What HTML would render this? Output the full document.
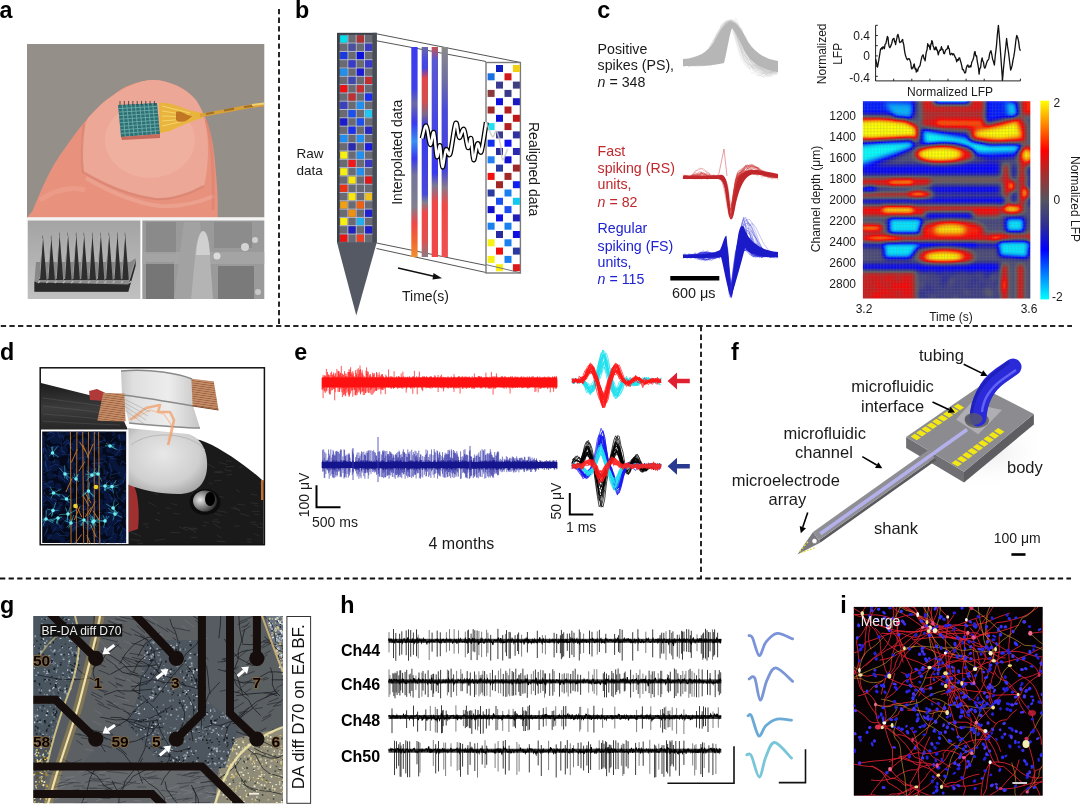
<!DOCTYPE html>
<html><head><meta charset="utf-8"><style>
html,body{margin:0;padding:0;background:#fff;width:1080px;height:808px;overflow:hidden}
svg{display:block;will-change:transform}
text{font-family:"Liberation Sans", sans-serif}
</style></head><body>
<svg width="1080" height="808" viewBox="0 0 1080 808">
<defs><filter id="soft" x="-2%" y="-2%" width="104%" height="104%"><feGaussianBlur stdDeviation="0.45"/></filter><filter id="soft2" x="-2%" y="-2%" width="104%" height="104%"><feGaussianBlur stdDeviation="0.7"/></filter><linearGradient id="fingerG" x1="0" y1="0" x2="1" y2="1">
<stop offset="0" stop-color="#f0b8a4"/><stop offset="0.45" stop-color="#eea08a"/><stop offset="1" stop-color="#e0806a"/></linearGradient>
<radialGradient id="nailG" cx="0.55" cy="0.35" r="0.6"><stop offset="0" stop-color="#f6c4b4"/><stop offset="1" stop-color="#ec9c86" stop-opacity="0"/></radialGradient>
<linearGradient id="semL" x1="0" y1="0" x2="0" y2="1"><stop offset="0" stop-color="#a4a4a4"/><stop offset="1" stop-color="#c0c0c0"/></linearGradient>
<linearGradient id="semR" x1="0" y1="0" x2="1" y2="0"><stop offset="0" stop-color="#8c8c8c"/><stop offset="1" stop-color="#9c9c9c"/></linearGradient><clipPath id="aclip"><rect x="27" y="44" width="237.3" height="173.5"/></clipPath><linearGradient id="bar1" x1="0" y1="0" x2="0" y2="1">
<stop offset="0" stop-color="#3a3af0"/><stop offset="0.2" stop-color="#4040e8"/><stop offset="0.27" stop-color="#6a6aa8"/><stop offset="0.36" stop-color="#3838ee"/><stop offset="0.45" stop-color="#3a90f0"/><stop offset="0.53" stop-color="#3838ee"/><stop offset="0.61" stop-color="#74749a"/><stop offset="0.76" stop-color="#808090"/><stop offset="0.84" stop-color="#f04848"/><stop offset="0.93" stop-color="#f06a30"/><stop offset="1" stop-color="#f09030"/></linearGradient>
<linearGradient id="bar2" x1="0" y1="0" x2="0" y2="1"><stop offset="0" stop-color="#6a6aa0"/><stop offset="0.06" stop-color="#4a4ae0"/><stop offset="0.1" stop-color="#4444e0"/><stop offset="0.15" stop-color="#e04848"/><stop offset="0.26" stop-color="#d05050"/><stop offset="0.32" stop-color="#7a6a8a"/><stop offset="0.38" stop-color="#3838ee"/><stop offset="0.7" stop-color="#4848d8"/><stop offset="0.74" stop-color="#808090"/><stop offset="0.79" stop-color="#f04848"/><stop offset="0.92" stop-color="#e05050"/><stop offset="1" stop-color="#8a7a80"/></linearGradient>
<linearGradient id="bar3" x1="0" y1="0" x2="0" y2="1"><stop offset="0" stop-color="#c85050"/><stop offset="0.06" stop-color="#5a5ad0"/><stop offset="0.6" stop-color="#3838ee"/><stop offset="0.66" stop-color="#7a7a96"/><stop offset="0.74" stop-color="#f04848"/><stop offset="1" stop-color="#f04848"/></linearGradient>
<linearGradient id="bar4" x1="0" y1="0" x2="0" y2="1"><stop offset="0" stop-color="#8a8a8a"/><stop offset="0.15" stop-color="#7070a0"/><stop offset="0.3" stop-color="#4a4ad8"/><stop offset="0.58" stop-color="#4040e0"/><stop offset="0.67" stop-color="#8a7a8a"/><stop offset="0.75" stop-color="#f04848"/><stop offset="1" stop-color="#f05050"/></linearGradient><filter id="jet" x="0" y="0" width="1" height="1" color-interpolation-filters="sRGB">
<feGaussianBlur stdDeviation="2.4"/>
<feComponentTransfer>
<feFuncR type="table" tableValues="0 0 0 0.19 0.36 0.63 1 1 1"/>
<feFuncG type="table" tableValues="1 0.5 0 0.19 0.36 0.19 0 0.5 1"/>
<feFuncB type="table" tableValues="1 1 1 0.56 0.4 0.19 0 0 0"/>
</feComponentTransfer></filter>
<clipPath id="hmclip"><rect x="862.9" y="101.3" width="167.4" height="197.3"/></clipPath><pattern id="hmtex" width="3.2" height="3.2" patternUnits="userSpaceOnUse"><rect width="1.1" height="3.2" fill="#7a7a80"/><rect width="3.2" height="0.9" fill="#7a7a80"/></pattern><linearGradient id="cbar" x1="0" y1="0" x2="0" y2="1">
<stop offset="0" stop-color="#ffff00"/><stop offset="0.125" stop-color="#ff8000"/><stop offset="0.25" stop-color="#ff0000"/><stop offset="0.375" stop-color="#a03030"/><stop offset="0.5" stop-color="#555560"/><stop offset="0.625" stop-color="#303090"/><stop offset="0.75" stop-color="#0000ff"/><stop offset="0.875" stop-color="#0080ff"/><stop offset="1" stop-color="#00ffff"/></linearGradient><linearGradient id="furG" x1="0" y1="0" x2="0" y2="1"><stop offset="0" stop-color="#1c1c1c"/><stop offset="0.55" stop-color="#3c3c3c"/><stop offset="1" stop-color="#262626"/></linearGradient>
<radialGradient id="skullG" cx="0.45" cy="0.4" r="0.65"><stop offset="0" stop-color="#e8e8e8"/><stop offset="0.7" stop-color="#cfcfcf"/><stop offset="1" stop-color="#a8a8a8"/></radialGradient>
<linearGradient id="glassG" x1="0" y1="0" x2="1" y2="0"><stop offset="0" stop-color="#c4c4c4"/><stop offset="0.15" stop-color="#dcdcdc"/><stop offset="0.6" stop-color="#ebebeb"/><stop offset="1" stop-color="#c0c0c0"/></linearGradient>
<radialGradient id="eyeG" cx="0.3" cy="0.45" r="0.75"><stop offset="0" stop-color="#e8e8e8"/><stop offset="0.45" stop-color="#8a8a8a"/><stop offset="1" stop-color="#1a1a1a"/></radialGradient>
<pattern id="padP" width="2.2" height="2.2" patternUnits="userSpaceOnUse" patternTransform="rotate(8)"><rect width="2.2" height="2.2" fill="#c8906a"/><rect width="2.2" height="0.8" fill="#9a6040"/></pattern>
<clipPath id="dclip"><rect x="41" y="368.5" width="222.7" height="175.5"/></clipPath><clipPath id="inclip"><rect x="42.2" y="431.6" width="84" height="112"/></clipPath><radialGradient id="shadowG" cx="0.5" cy="0.5" r="0.5"><stop offset="0" stop-color="#e4e4e4"/><stop offset="1" stop-color="#ffffff" stop-opacity="0"/></radialGradient><clipPath id="gclip"><rect x="33.2" y="616" width="249.8" height="187.3"/></clipPath><radialGradient id="gsm1" cx="0.5" cy="0.5" r="0.5"><stop offset="0" stop-color="#6a6e72"/><stop offset="1" stop-color="#54585c"/></radialGradient><clipPath id="iclip"><rect x="853.8" y="606.9" width="188.9" height="188.8"/></clipPath></defs>
<rect x="0" y="0" width="1080" height="808" fill="#fff"/>
<g clip-path="url(#aclip)"><g filter="url(#soft2)">
<rect x="20" y="40" width="250" height="180" fill="#958f8a"/>
<path d="M27,218 L32.6,210.7 C38,198 42,188 45.5,181 C52,168 57,159 64,149.6 C72,138 80,127 88.1,118 C96,109 104,101 112.2,96 C118,91 124,87 130.7,84.8 C138,82 146,80 153,80.2 C162,80 168,82 175,84.8 C183,88 188,92 193.7,97.8 C199,104 202,110 204.8,116.3 C208,124 210.5,132 212.2,140.4 C214,150 215,161 215.9,171.9 C216.8,182 217.5,191 217.7,199.6 L217.7,218 Z" fill="#e8927e"/>
<path d="M88,118 C96,109 104,101 112,96 C124,87 140,80 153,80 C168,80 186,88 196,100 C204,112 208,128 208,150 C208,165 206,178 204,186 C190,194 170,200 156,199 C130,196 105,185 83,172 C80,155 80,135 88,118 Z" fill="#eda797"/>
<ellipse cx="150" cy="140" rx="45" ry="38" fill="#f2b6a6" opacity="0.6"/>
<path d="M84,124 C82,140 81,158 83,172 C105,185 130,196 156,199 C170,200 190,194 204,186" stroke="#d6806e" stroke-width="2.2" fill="none" opacity="0.7"/>
<path d="M86,178 C110,192 135,203 160,206 C180,207 200,202 214,196" stroke="#f0b0a0" stroke-width="4" fill="none" opacity="0.5"/>
<path d="M40,200 C55,190 70,186 85,190" stroke="#f0aa98" stroke-width="5" fill="none" opacity="0.4"/>
<path d="M206,120 C212,140 214,170 213,210" stroke="#d87a68" stroke-width="3" fill="none" opacity="0.4"/>
<polygon points="118,105 157,103 160,134 121,137" fill="#2e6f73"/>
<path d="M122.3,104.8 L125.3,136.7 M118.3,108.6 L157.3,106.4 M126.7,104.6 L129.7,136.3 M118.7,112.1 L157.7,109.9 M131.0,104.3 L134.0,136.0 M119.0,115.7 L158.0,113.3 M135.3,104.1 L138.3,135.7 M119.3,119.2 L158.3,116.8 M139.7,103.9 L142.7,135.3 M119.7,122.8 L158.7,120.2 M144.0,103.7 L147.0,135.0 M120.0,126.3 L159.0,123.7 M148.3,103.4 L151.3,134.7 M120.3,129.9 L159.3,127.1 M152.7,103.2 L155.7,134.3 M120.7,133.4 L159.7,130.6" stroke="#6fb3b0" stroke-width="0.8" fill="none"/>
<polygon points="121,137 160,134 160,138 122,140" fill="#c86a5c"/>
<path d="M120.0,105 l0,-4 M124.3,105 l0,-4 M128.6,105 l0,-4 M132.9,105 l0,-4 M137.2,105 l0,-4 M141.5,105 l0,-4 M145.8,105 l0,-4 M150.1,105 l0,-4 M154.4,105 l0,-4" stroke="#333" stroke-width="0.8"/>
<path d="M159,103 C168,102 178,106 188,110 L202,113 L202,118 C192,121 180,126 170,131 L160,133 Z" fill="#e8b43c"/>
<path d="M162,106 L190,113 M162,111 L188,115 M162,116 L188,117 M162,121 L186,119 M162,126 L184,121" stroke="#f8e080" stroke-width="0.9" fill="none" opacity="0.8"/>
<path d="M176,112 C182,110 186,116 192,116 C188,121 180,124 176,120 Z" fill="#b86a1c" opacity="0.85"/>
<path d="M200,115.5 C215,113 230,110 246,107 L264,104.5" stroke="#d8a038" stroke-width="3.4" fill="none"/>
<path d="M206,114 l8,-1.5 M224,110.5 l10,-1.8 M244,107 l9,-1.2" stroke="#8a5a20" stroke-width="2.2" fill="none" opacity="0.7"/>
<path d="M252,105 l12,-1.5" stroke="#f0d070" stroke-width="2" fill="none"/>
</g></g>
<rect x="27" y="217.5" width="237.5" height="3" fill="#f4f4f4"/>
<rect x="27.7" y="220.5" width="112.7" height="78.5" fill="url(#semL)"/>
<polygon points="36,262 130,262 135.6,258.3 135.6,265 128.3,291.7 34.4,291.7 34.4,281.7" fill="#5a5a5a" opacity="0.5"/>
<path d="M39.0,280 L42.8,234.5 L46.6,280 Z M47.3,280 L51.1,234.5 L54.9,280 Z M55.6,280 L59.4,231.5 L63.2,280 Z M64.0,280 L67.8,231.5 L71.6,280 Z M72.3,280 L76.1,231.5 L79.9,280 Z M80.1,280 L83.9,231.5 L87.7,280 Z M88.4,280 L92.2,231.5 L96.0,280 Z M96.8,280 L100.6,231.5 L104.4,280 Z M105.1,280 L108.9,231.5 L112.7,280 Z M113.4,280 L117.2,231.5 L121.0,280 Z M121.2,280 L125.0,231.5 L128.8,280 Z" fill="#2e2e2e"/>
<path d="M39.6,279 L42.5,238.5 M47.9,279 L50.8,238.5 M56.2,279 L59.1,235.5 M64.6,279 L67.5,235.5 M72.9,279 L75.8,235.5 M80.7,279 L83.6,235.5 M89.0,279 L91.9,235.5 M97.4,279 L100.3,235.5 M105.7,279 L108.6,235.5 M114.0,279 L116.9,235.5 M121.8,279 L124.7,235.5" stroke="#c8c8c8" stroke-width="0.9" fill="none" opacity="0.8"/>
<polygon points="34.4,281.7 128.3,283.9 135.6,260 135.6,266 128.3,291.7 34.4,291.7" fill="#2a2a2a"/>
<path d="M36,282 L128,284 L135,261" stroke="#9a9a9a" stroke-width="1.2" fill="none" opacity="0.8"/>
<path d="M38.0,283 l2,-2 M46.3,283 l2,-2 M54.6,283 l2,-2 M62.9,283 l2,-2 M71.2,283 l2,-2 M79.5,283 l2,-2 M87.8,283 l2,-2 M96.1,283 l2,-2 M104.4,283 l2,-2 M112.7,283 l2,-2 M121.0,283 l2,-2 M129.3,283 l2,-2" stroke="#bbb" stroke-width="1.2"/>
<rect x="142.3" y="220.5" width="122" height="78.5" fill="#9a9a9a"/>
<rect x="146" y="222" width="30" height="32" fill="#8a8a8a"/>
<rect x="214" y="222" width="38" height="26" fill="#8c8c8c"/>
<rect x="146" y="262" width="28" height="37" fill="#767676"/>
<rect x="218" y="266" width="36" height="33" fill="#7a7a7a"/>
<rect x="142.3" y="252" width="122" height="12" fill="#a8a8a8" opacity="0.7"/>
<polygon points="174,299 184,222 200,222 206,299" fill="#a2a2a2"/>
<path d="M191,299 L195,258 C196,242 199,232 203,231 C207,232 209,244 210,258 L213,299 Z" fill="#b4b4b4"/>
<path d="M196,255 C197,240 200,231 203,231 C207,231 209,240 210,255 Z" fill="#d0d0d0"/>
<circle cx="217" cy="256" r="3.5" fill="#dcdcdc"/><circle cx="245" cy="247" r="4" fill="#d4d4d4"/><circle cx="255" cy="240" r="3" fill="#d0d0d0"/><circle cx="258" cy="292" r="3" fill="#c8c8c8"/>
<g stroke="#555" stroke-width="1" fill="none">
<line x1="376.5" y1="33.8" x2="520.5" y2="62.5"/>
<line x1="366" y1="38.8" x2="486" y2="61.5"/>
<line x1="376.5" y1="243" x2="520.5" y2="272.5"/>
<line x1="376.5" y1="248.5" x2="486" y2="272.5"/>
</g>
<rect x="337" y="32.8" width="39.7" height="210" fill="#3c4048"/>
<rect x="339.6" y="34.8" width="33.2" height="207.6" fill="#6a6a72"/>
<path d="M347.9,34.8 V242.4 M356.2,34.8 V242.4 M364.5,34.8 V242.4 M339.6,43.1 H372.8 M339.6,51.4 H372.8 M339.6,59.7 H372.8 M339.6,68.0 H372.8 M339.6,76.3 H372.8 M339.6,84.6 H372.8 M339.6,92.9 H372.8 M339.6,101.2 H372.8 M339.6,109.5 H372.8 M339.6,117.8 H372.8 M339.6,126.1 H372.8 M339.6,134.4 H372.8 M339.6,142.7 H372.8 M339.6,151.0 H372.8 M339.6,159.3 H372.8 M339.6,167.6 H372.8 M339.6,175.9 H372.8 M339.6,184.2 H372.8 M339.6,192.5 H372.8 M339.6,200.8 H372.8 M339.6,209.1 H372.8 M339.6,217.4 H372.8 M339.6,225.7 H372.8 M339.6,234.0 H372.8" stroke="#b8c0dc" stroke-width="1" fill="none" opacity="0.9"/>
<rect x="340.2" y="35.4" width="7.1" height="7.1" fill="#00e0ec"/><rect x="356.8" y="35.4" width="7.1" height="7.1" fill="#b03232"/><rect x="348.5" y="43.7" width="7.1" height="7.1" fill="#4a50a0"/><rect x="365.1" y="43.7" width="7.1" height="7.1" fill="#3a3ac0"/><rect x="340.2" y="52.0" width="7.1" height="7.1" fill="#1a3ae0"/><rect x="356.8" y="52.0" width="7.1" height="7.1" fill="#0a10e0"/><rect x="348.5" y="60.3" width="7.1" height="7.1" fill="#3a3ac8"/><rect x="365.1" y="60.3" width="7.1" height="7.1" fill="#3a3ac8"/><rect x="340.2" y="68.6" width="7.1" height="7.1" fill="#2090f0"/><rect x="356.8" y="68.6" width="7.1" height="7.1" fill="#1a1ad8"/><rect x="348.5" y="76.9" width="7.1" height="7.1" fill="#4048b0"/><rect x="365.1" y="76.9" width="7.1" height="7.1" fill="#c03030"/><rect x="340.2" y="85.2" width="7.1" height="7.1" fill="#f01010"/><rect x="356.8" y="85.2" width="7.1" height="7.1" fill="#c83030"/><rect x="348.5" y="93.5" width="7.1" height="7.1" fill="#c03030"/><rect x="365.1" y="93.5" width="7.1" height="7.1" fill="#1a2ef0"/><rect x="340.2" y="101.8" width="7.1" height="7.1" fill="#3a40c0"/><rect x="356.8" y="101.8" width="7.1" height="7.1" fill="#2090f0"/><rect x="348.5" y="110.1" width="7.1" height="7.1" fill="#1a50f0"/><rect x="365.1" y="110.1" width="7.1" height="7.1" fill="#20c8f0"/><rect x="340.2" y="118.4" width="7.1" height="7.1" fill="#1a1ad0"/><rect x="356.8" y="118.4" width="7.1" height="7.1" fill="#1a50f0"/><rect x="348.5" y="126.7" width="7.1" height="7.1" fill="#1a30f0"/><rect x="365.1" y="126.7" width="7.1" height="7.1" fill="#2a2ac0"/><rect x="340.2" y="135.0" width="7.1" height="7.1" fill="#2090f0"/><rect x="356.8" y="135.0" width="7.1" height="7.1" fill="#2090f0"/><rect x="348.5" y="143.3" width="7.1" height="7.1" fill="#2a2ab0"/><rect x="365.1" y="143.3" width="7.1" height="7.1" fill="#1a1ae0"/><rect x="340.2" y="151.6" width="7.1" height="7.1" fill="#f8f010"/><rect x="356.8" y="151.6" width="7.1" height="7.1" fill="#2090f0"/><rect x="348.5" y="159.9" width="7.1" height="7.1" fill="#f01818"/><rect x="365.1" y="159.9" width="7.1" height="7.1" fill="#3838c0"/><rect x="340.2" y="168.2" width="7.1" height="7.1" fill="#f8f010"/><rect x="356.8" y="168.2" width="7.1" height="7.1" fill="#2090f0"/><rect x="348.5" y="176.5" width="7.1" height="7.1" fill="#f8e810"/><rect x="365.1" y="176.5" width="7.1" height="7.1" fill="#e01818"/><rect x="340.2" y="184.8" width="7.1" height="7.1" fill="#f03010"/><rect x="348.5" y="193.1" width="7.1" height="7.1" fill="#f8e810"/><rect x="365.1" y="193.1" width="7.1" height="7.1" fill="#f0c020"/><rect x="340.2" y="201.4" width="7.1" height="7.1" fill="#f0a010"/><rect x="356.8" y="201.4" width="7.1" height="7.1" fill="#f06010"/><rect x="348.5" y="209.7" width="7.1" height="7.1" fill="#f09010"/><rect x="365.1" y="209.7" width="7.1" height="7.1" fill="#2020d0"/><rect x="340.2" y="218.0" width="7.1" height="7.1" fill="#f8f010"/><rect x="356.8" y="218.0" width="7.1" height="7.1" fill="#20b0f0"/><rect x="348.5" y="226.3" width="7.1" height="7.1" fill="#2020c0"/><rect x="365.1" y="226.3" width="7.1" height="7.1" fill="#2020c8"/><rect x="340.2" y="234.6" width="7.1" height="7.1" fill="#f01010"/><rect x="356.8" y="234.6" width="7.1" height="7.1" fill="#f04020"/>
<rect x="372.6" y="32.8" width="4.1" height="210" fill="#484c56"/>
<polygon points="337,242.6 376.7,242.6 356.3,315.5" fill="#555963"/>
<rect x="411.3" y="47" width="6.3" height="210" fill="url(#bar1)"/>
<rect x="421.7" y="47" width="6.3" height="210" fill="url(#bar2)"/>
<rect x="431.7" y="47" width="6.3" height="210" fill="url(#bar3)"/>
<rect x="441.6" y="47" width="6.3" height="210" fill="url(#bar4)"/>
<rect x="486" y="62.5" width="34.4" height="210.5" fill="#fff" stroke="#7a7a7a" stroke-width="1.4"/>
<rect x="496.0" y="65.0" width="7" height="7" fill="#1020c0"/><rect x="512.9" y="65.0" width="7" height="7" fill="#f0d010"/><rect x="487.6" y="73.3" width="7" height="7" fill="#1a70e0"/><rect x="504.5" y="73.3" width="7" height="7" fill="#d01818"/><rect x="496.0" y="81.6" width="7" height="7" fill="#3a3a90"/><rect x="512.9" y="81.6" width="7" height="7" fill="#404080"/><rect x="487.6" y="89.9" width="7" height="7" fill="#8a3a3a"/><rect x="504.5" y="89.9" width="7" height="7" fill="#3a3a88"/><rect x="496.0" y="98.2" width="7" height="7" fill="#1010e0"/><rect x="512.9" y="98.2" width="7" height="7" fill="#1a1ac0"/><rect x="487.6" y="106.5" width="7" height="7" fill="#a02a2a"/><rect x="504.5" y="106.5" width="7" height="7" fill="#b02020"/><rect x="496.0" y="114.8" width="7" height="7" fill="#1010d0"/><rect x="512.9" y="114.8" width="7" height="7" fill="#c01818"/><rect x="487.6" y="123.1" width="7" height="7" fill="#20e0f0"/><rect x="504.5" y="123.1" width="7" height="7" fill="#b02020"/><rect x="496.0" y="131.4" width="7" height="7" fill="#3a3a90"/><rect x="512.9" y="131.4" width="7" height="7" fill="#3030a0"/><rect x="487.6" y="139.7" width="7" height="7" fill="#1030f0"/><rect x="504.5" y="139.7" width="7" height="7" fill="#1010f0"/><rect x="496.0" y="148.0" width="7" height="7" fill="#2a2aa0"/><rect x="512.9" y="148.0" width="7" height="7" fill="#2a2ab0"/><rect x="487.6" y="156.3" width="7" height="7" fill="#2080f0"/><rect x="504.5" y="156.3" width="7" height="7" fill="#1010d0"/><rect x="496.0" y="164.6" width="7" height="7" fill="#2a3aa0"/><rect x="512.9" y="164.6" width="7" height="7" fill="#a02828"/><rect x="487.6" y="172.9" width="7" height="7" fill="#f01010"/><rect x="504.5" y="172.9" width="7" height="7" fill="#a02828"/><rect x="496.0" y="181.2" width="7" height="7" fill="#a02828"/><rect x="512.9" y="181.2" width="7" height="7" fill="#1020f0"/><rect x="487.6" y="189.5" width="7" height="7" fill="#2a3aa0"/><rect x="504.5" y="189.5" width="7" height="7" fill="#1a80f0"/><rect x="496.0" y="197.8" width="7" height="7" fill="#1a50f0"/><rect x="512.9" y="197.8" width="7" height="7" fill="#10c8f0"/><rect x="487.6" y="206.1" width="7" height="7" fill="#1010c8"/><rect x="504.5" y="206.1" width="7" height="7" fill="#1a50f0"/><rect x="496.0" y="214.4" width="7" height="7" fill="#1010e8"/><rect x="512.9" y="214.4" width="7" height="7" fill="#2020b8"/><rect x="487.6" y="222.7" width="7" height="7" fill="#1a80f0"/><rect x="504.5" y="222.7" width="7" height="7" fill="#1a80f0"/><rect x="496.0" y="231.0" width="7" height="7" fill="#2a2aa0"/><rect x="512.9" y="231.0" width="7" height="7" fill="#1010e0"/><rect x="487.6" y="239.3" width="7" height="7" fill="#f8f010"/><rect x="504.5" y="239.3" width="7" height="7" fill="#1a80f0"/><rect x="496.0" y="247.6" width="7" height="7" fill="#f01010"/><rect x="512.9" y="247.6" width="7" height="7" fill="#2a3aa0"/><rect x="487.6" y="255.9" width="7" height="7" fill="#f8f010"/><rect x="504.5" y="255.9" width="7" height="7" fill="#1a80f0"/><rect x="496.0" y="264.2" width="7" height="7" fill="#f8f010"/><rect x="512.9" y="264.2" width="7" height="7" fill="#e01818"/>
<line x1="486" y1="264.6" x2="520.5" y2="272.8" stroke="#777" stroke-width="1"/>
<path d="M422.1,138.5 C422.8,136.4 424.8,124.8 426.2,125.8 C427.6,126.8 429.0,143.5 430.3,144.6 C431.6,145.7 432.7,130.4 433.8,132.4 C434.9,134.4 435.9,154.6 436.9,156.8 C437.9,159.0 439.1,143.9 440.0,145.6 C440.9,147.3 441.5,166.3 442.5,167.0 C443.5,167.7 444.7,151.9 446.0,149.7 C447.3,147.5 448.5,158.2 450.1,153.8 C451.7,149.4 454.2,125.9 455.7,123.2 C457.2,120.5 457.9,136.5 459.3,137.5 C460.7,138.5 462.4,127.6 463.9,129.3 C465.3,131.0 466.8,146.2 468.0,147.7 C469.2,149.2 470.1,136.5 471.0,138.5 C471.9,140.5 472.5,159.1 473.6,159.9 C474.7,160.8 476.3,144.9 477.6,143.6 C478.9,142.2 479.8,155.4 481.2,151.8 C482.6,148.2 485.4,127.1 486.3,122.2" stroke="#000" stroke-width="5" fill="none" stroke-linejoin="round"/>
<path d="M422.1,138.5 C422.8,136.4 424.8,124.8 426.2,125.8 C427.6,126.8 429.0,143.5 430.3,144.6 C431.6,145.7 432.7,130.4 433.8,132.4 C434.9,134.4 435.9,154.6 436.9,156.8 C437.9,159.0 439.1,143.9 440.0,145.6 C440.9,147.3 441.5,166.3 442.5,167.0 C443.5,167.7 444.7,151.9 446.0,149.7 C447.3,147.5 448.5,158.2 450.1,153.8 C451.7,149.4 454.2,125.9 455.7,123.2 C457.2,120.5 457.9,136.5 459.3,137.5 C460.7,138.5 462.4,127.6 463.9,129.3 C465.3,131.0 466.8,146.2 468.0,147.7 C469.2,149.2 470.1,136.5 471.0,138.5 C471.9,140.5 472.5,159.1 473.6,159.9 C474.7,160.8 476.3,144.9 477.6,143.6 C478.9,142.2 479.8,155.4 481.2,151.8 C482.6,148.2 485.4,127.1 486.3,122.2" stroke="#fff" stroke-width="2.5" fill="none" stroke-linejoin="round"/>
<path d="M486.3,122.2 C487.3,124.6 490.7,135.0 492.4,136.5 C494.1,138.0 495.1,130.1 496.5,131.4 C497.9,132.8 499.5,139.8 500.5,144.6 C501.5,149.3 501.4,159.2 502.6,159.9 C503.8,160.6 506.9,150.6 507.7,148.7" stroke="#c8c8c8" stroke-width="1.6" fill="none" opacity="0.8"/>
<line x1="398" y1="268" x2="437" y2="277" stroke="#111" stroke-width="1.4"/>
<polygon points="442,278.3 433.5,273 432.5,279.5" fill="#111"/>
<text x="402" y="301" font-size="14" fill="#1a1a1a" text-anchor="start">Time(s)</text>
<text x="296.5" y="157.6" font-size="13.5" fill="#1a1a1a" text-anchor="start">Raw</text>
<text x="296.5" y="174.5" font-size="13.5" fill="#1a1a1a" text-anchor="start">data</text>
<text x="402" y="204.8" font-size="14" fill="#1a1a1a" text-anchor="start" transform="rotate(-90 402 204.8)">Interpolated data</text>
<text x="528.5" y="122" font-size="14" fill="#1a1a1a" text-anchor="start" transform="rotate(90 528.5 122)">Realigned data</text>
<text x="597.6" y="53.5" font-size="14.2" fill="#1a1a1a" text-anchor="start">Positive</text>
<text x="597.6" y="70" font-size="14.2" fill="#1a1a1a" text-anchor="start">spikes (PS),</text>
<text x="597.6" y="86.8" font-size="14.2" fill="#1a1a1a"><tspan font-style="italic">n</tspan> = 348</text>
<text x="597.6" y="155.5" font-size="14.2" fill="#c0282c" text-anchor="start">Fast</text>
<text x="597.6" y="172.6" font-size="14.2" fill="#c0282c" text-anchor="start">spiking (RS)</text>
<text x="597.6" y="189.3" font-size="14.2" fill="#c0282c" text-anchor="start">units,</text>
<text x="597.6" y="206.6" font-size="14.2" fill="#c0282c"><tspan font-style="italic">n</tspan> = 82</text>
<text x="597.6" y="233.4" font-size="14.2" fill="#1e22d0" text-anchor="start">Regular</text>
<text x="597.6" y="250.7" font-size="14.2" fill="#1e22d0" text-anchor="start">spiking (FS)</text>
<text x="597.6" y="267" font-size="14.2" fill="#1e22d0" text-anchor="start">units,</text>
<text x="597.6" y="284.1" font-size="14.2" fill="#1e22d0"><tspan font-style="italic">n</tspan> = 115</text>
<path d="M683,62.8l2-.2 2,.2 2.1,.6 2-1.2 2,.5 2-.5 2,.2 2.1-.2 2-.4 2-.8 2-1.5 2.1-1.4 2-2.6 2-2.2 2-3.8 2-4.5 2.1-4.7 2-4.4 2-5.1 2-4.6 2-2.8 2.1-1.7 2-.8 2,1.6 2,2.3 2.1,3.9 2,4.3 2,5.6 2,4.6 2,5.1 2.1,4.4 2,4 2,3.7 2,1.9 2,2.6 2.1,1.5 2,1.7 2,.5 2,1 2.1,0 2,.2 2,.4 2-.7 2,.3 2.1-.9 2,0 2-.7M683,64.8l2-.9 2,.3 2.1,0 2,.3 2-2.2 2,.9 2-1.1 2.1-1.7 2-1.2 2-2.2 2-1.5 2.1-3.3 2-3.4 2-3.5 2-3.8 2-3.9 2.1-4.2 2-2.5 2-4.9 2-3.3 2-.4 2.1-1 2,.2 2,.4 2,1.4 2.1,2.2 2,2.8 2,2.4 2,3.4 2,4.5 2.1,3.1 2,3.1 2,5 2,2.9 2,2.7 2.1,2.7 2,3.3 2,1.8 2,1.7 2.1,1.4 2,1.4 2,1.4 2-.1 2-.2 2.1,.9 2-.3 2,.3M683,64l2,0 2,.5 2.1-.1 2-.5 2,.4 2-.3 2,.5 2.1-.4 2-.1 2,.1 2-.5 2.1-.6 2-1 2-1.6 2-1.4 2-2.6 2.1-2.8 2-4.1 2-4 2-4.9 2-4.5 2.1-4.2 2-2.8 2-2 2-.9 2.1,.6 2,1.4 2,2.8 2,3.5 2,3.3 2.1,4.1 2,3.6 2,4.4 2,3.6 2,3.3 2.1,2.5 2,3 2,1.2 2,2.1 2.1,1.1 2,1 2,.2 2,.3 2,.5 2.1,.3 2,.2 2-.1M683,65.1l2-1 2,1.1 2.1-.1 2-.6 2-1.1 2-.3 2,.5 2.1-2.4 2,0 2-1.5 2-2.6 2.1-.1 2-4.8 2-1.4 2-7 2-3.8 2.1-1 2-3.8 2-4 2-2.4 2-3.4 2.1,.1 2-.5 2,1.4 2,2.2 2.1,1.3 2,2.8 2,2 2,3.4 2,3.8 2.1,3 2,4.6 2,1.3 2,5.2 2,.2 2.1,3.9 2,.4 2,3.7 2,.1 2.1,1.3 2,1.2 2-.5 2,.2 2-.4 2.1,3 2-1.3 2,.2M683,63.1l2-.6 2,.7 2.1-2.2 2,1.7 2-2.1 2,1.7 2-1.8 2.1-.9 2-1.8 2-1.6 2-1.5 2.1-4 2-2.4 2-4.5 2-2.2 2-3.8 2.1-4.1 2-3.4 2-3.3 2-1.3 2-3 2.1-1.8 2-.7 2,.5 2,2.8 2.1,3 2,4.9 2,3.3 2,4.5 2,5 2.1,5.1 2,3.3 2,3.9 2,1.4 2,2.9 2.1,2 2,1.8 2,1.1 2,1 2.1-1.1 2,.5 2,.1 2,1.9 2-1.4 2.1,.1 2-.1 2,1.2M683,65l2-.5 2-2 2.1,2.4 2,0 2-1.1 2,1.6 2-2.3 2.1,.9 2,1 2,0 2-.3 2.1-2.7 2-1.5 2,.6 2-3.6 2-1.6 2.1-4.7 2-2.5 2-5.4 2-5.6 2-5.7 2.1-4.4 2-3.3 2-.6 2,.2 2.1,1.5 2,1.2 2,4.8 2,1.8 2,4.6 2.1,3.8 2,1.8 2,2.9 2,6 2,1.6 2.1,3.1 2,2 2,2.2 2,.4 2.1,2.2 2,.6 2,1.1 2-1.5 2,3.3 2.1-.1 2-1.5 2,1.1M683,63.3l2,.7 2-.5 2.1,.3 2-1.6 2,1.5 2-.8 2,1.3 2.1-.1 2,.3 2-.7 2-1 2.1,.1 2,.2 2-1.4 2-1.7 2-1.5 2.1-4 2-5.9 2-8.3 2-6.9 2-6.1 2.1-4.3 2-1.2 2,1.8 2,3.6 2.1,3.7 2,5.6 2,6 2,6.4 2,4.6 2.1,3.8 2,3.6 2,2.6 2,3.4 2,.8 2.1,2 2,1.6 2,1.1 2,0 2.1-.1 2,.6 2-.7 2,.3 2-.8 2.1-.9 2,.4 2-1.3M683,64.5l2-1.3 2,.5 2.1-2.1 2,1.7 2,.8 2-.1 2,1.3 2.1-2.6 2-1.2 2,2.2 2-1.4 2.1,0 2-.9 2-2 2-1.8 2-3.5 2.1-7.1 2-3.5 2-3.5 2-7.6 2-3.7 2.1-4.8 2-2.7 2,1.3 2,.1 2.1,.1 2,3.2 2,.6 2,3.7 2,5.1 2.1,3 2,2.9 2,5.2 2,3.7 2,4.4 2.1,3 2,1.7 2,2.4 2,2.4 2.1,1.6 2,2.9 2,1.1 2,.4 2-.6 2.1-.4 2,1 2-1.3M683,64.9l2-1.2 2,.9 2.1-.3 2,.8 2-.1 2-1 2,.7 2.1-1.3 2-.9 2-.1 2-.9 2.1-2.5 2-2.1 2-1.8 2-4 2-2.3 2.1-3.9 2-4.6 2-4.1 2-4.3 2-4 2.1-2.8 2-1.5 2-1.1 2,.9 2.1,2.1 2,3.6 2,4.3 2,4.7 2,5.5 2.1,5.8 2,4.8 2,4.7 2,2.5 2,4.1 2.1,2.1 2,1.4 2,1.2 2,1.8 2.1-.4 2,1.1 2-.6 2,.8 2-.4 2.1-.8 2,.2 2-.8M683,62.5l2,.9 2-.1 2.1-.8 2,.4 2,0 2-.1 2,.4 2.1-.6 2,.4 2,.1 2,.2 2.1-.3 2-.2 2,.1 2-1.9 2-.5 2.1-3.6 2-5.4 2-6.9 2-9.2 2-8.4 2.1-5.1 2-1.8 2,2.4 2,3.5 2.1,5.6 2,6.7 2,7.6 2,5.3 2,4.7 2.1,3.8 2,2.9 2,2.6 2,1.9 2,1.6 2.1,1.1 2,.5 2,.3 2,.4 2.1-.3 2,.6 2,.4 2-.6 2-.2 2.1-1.2 2,.3 2-.7M683,66.3l2,.1 2-2.9 2.1,.4 2,.9 2-1.1 2,.5 2,2.3 2.1,.2 2-2.3 2-.7 2,2 2.1-1.1 2,.4 2,.1 2-1 2-1.5 2.1-2.7 2-7.1 2-6.1 2-10.1 2-8 2.1-6.2 2-1.4 2,.1 2,3.8 2.1,2.3 2,4.6 2,5.1 2,2.5 2,4.8 2.1,5.6 2,2.1 2,4.4 2,3.2 2,2.5 2.1,2.3 2,2.6 2,.3 2,1 2.1,0 2,.8 2,.1 2,.6 2-.6 2.1,.2 2,.2 2,0M683,64.4l2,.4 2,.5 2.1-.6 2-.1 2,.1 2-.2 2,.1 2.1-.2 2,0 2,.3 2,0 2.1-.1 2-.2 2,.2 2-.6 2-.2 2.1-1.8 2-2.9 2-5.1 2-7.5 2-9.3 2.1-7.9 2-4.7 2-.5 2,2.8 2.1,6.1 2,6.7 2,7.1 2,6.1 2,5 2.1,3.6 2,2.8 2,1.4 2,1.1 2,.5 2.1,.9 2,.1 2,.6 2-.4 2.1,.8 2,0 2,0 2,.5 2-.3 2.1-.2 2-.2 2,.5M683,62.8l2-1.6 2-.2 2.1,1.3 2,.1 2,1.3 2-.5 2,1.4 2.1-2.5 2,.6 2,.3 2-.1 2.1-3.5 2-1.5 2-2.4 2-1.9 2-4.3 2.1-4.8 2-6 2-6.6 2-5.2 2-5.2 2.1,.2 2,0 2,2.3 2,1.4 2.1,6.9 2,2.4 2,4.8 2,7.9 2,4.3 2.1,3.7 2,4.6 2,3.8 2,.7 2,5.5 2.1,1.5 2,1.2 2,.6 2,.6 2.1-.4 2-.2 2,.7 2-.9 2-1.7 2.1-1 2,.8 2-1.4M683,63.7l2,.5 2,.3 2.1,.2 2-.2 2-.6 2,3 2-2.2 2.1,.3 2,1.3 2-1 2-.4 2.1-.3 2,1.4 2-3.1 2-.3 2,.2 2.1-3.8 2-1.5 2-2.1 2-7.1 2-5.9 2.1-6.4 2-7.9 2-2.8 2-2.1 2.1,.2 2,2.6 2,2.9 2,3 2,3.8 2.1,5.9 2,4.6 2,3.8 2,3.6 2,2.9 2.1,3.7 2,2.8 2,3.9 2,2.8 2.1,1.7 2,.3 2,.5 2,.9 2,0 2.1,.3 2,.4 2-2.6M683,65.9l2-4 2-.5 2.1,2 2-3.7 2,5.1 2-1.9 2-1.9 2.1,.2 2-2.1 2,.4 2-2.3 2.1-3.5 2-.8 2-4.4 2-3.2 2-3.2 2.1-4.5 2-3.7 2-2.1 2-3.8 2-4.7 2.1-.5 2-1.1 2-1.7 2,1.4 2.1,.4 2,1.7 2,2.7 2,1.7 2,9 2.1,.8 2,5.7 2,2.8 2,5.4 2,4.1 2.1,1.1 2,4.6 2,1 2,2.7 2.1,2.4 2-.2 2-.8 2,3.3 2,.1 2.1-1.2 2,.9 2,1.7M683,62.7l2-.5 2,1.2 2.1-.8 2,.2 2-.2 2,.1 2,0 2.1-.4 2,.5 2,.3 2-.4 2.1,0 2-.4 2-1 2-1 2-4 2.1-4.4 2-6.4 2-8.1 2-8.3 2-5.8 2.1-1.2 2-.5 2,2 2,2.8 2.1,3.2 2,3.2 2,4.2 2,5 2,3.8 2.1,3.9 2,3.4 2,2.8 2,1.7 2,1.6 2.1,2.4 2,.4 2,.5 2,.3 2.1,1.4 2-.3 2,.4 2,1 2,.1 2.1,.4 2-.5 2-.4M683,64.4l2,.3 2-2 2.1,1 2,1.4 2-3 2,3.2 2-2.1 2.1,2.1 2-1.3 2-1.8 2,.5 2.1-.5 2,1.1 2-2.9 2-3 2-3.4 2.1-4.5 2-6.3 2-3.2 2-3.7 2-7 2.1-2.6 2-.7 2-2.3 2,1.9 2.1,2.2 2,2.5 2,5.2 2,8.3 2,3.2 2.1,3.6 2,4.1 2,5.2 2,3.4 2,2.8 2.1,2.1 2,1.4 2,1.5 2,1.8 2.1,1.1 2-.1 2-.7 2-2.3 2,.3 2.1-.6 2,1.8 2-1.5M683,64.2l2,.6 2-.3 2.1,.1 2-.1 2,.3 2-.8 2-.2 2.1,.4 2,0 2-.1 2-.1 2.1,.3 2,.3 2-.4 2-.2 2,.2 2.1-.9 2-1.2 2-2.3 2-5.1 2-5.7 2.1-9 2-8.4 2-6.3 2-1.9 2.1,.7 2,3.5 2,3.8 2,4.9 2,6.1 2.1,4.1 2,5.3 2,3.8 2,3 2,3.4 2.1,1 2,1.7 2,.9 2,.6 2.1,.2 2,.8 2,0 2-.3 2,.2 2.1,.5 2-.3 2,.5M683,63.4l2-1 2,.6 2.1,.8 2,2.3 2-2 2-3.1 2,3.3 2.1-1.1 2,0 2,1.2 2-2.9 2.1,3.2 2-1.9 2-2.1 2,1.1 2,.4 2.1-2.4 2-4.7 2-3.9 2-7.5 2-7.3 2.1-8 2-5.1 2-3.9 2,1.2 2.1-2.5 2,2.9 2,7.2 2,.7 2,5.8 2.1,3.3 2,6.4 2,3.6 2,5.5 2,4 2.1,2.6 2,2.3 2,3.2 2,2 2.1,3.7 2-.3 2-.4 2,1.9 2,2.2 2.1-5.1 2,.6 2,.4M683,60.5l2,4.2 2-2.5 2.1,1 2-2.6 2,1.4 2-1.2 2,2.8 2.1-1.2 2-.7 2,.6 2,1.6 2.1-2 2,1.4 2-2 2-.7 2,.7 2.1-1 2-2.2 2-3.9 2-8.6 2-8.9 2.1-7.8 2-6.9 2-2.4 2,1.2 2.1-.2 2,5.2 2,3.2 2,6.2 2,6.4 2.1,2.4 2,7.5 2,2.7 2,4.2 2,3 2.1,4 2,.8 2,.2 2,3.9 2.1,.4 2,1.4 2,.2 2-2 2,1.2 2.1-.6 2-.7 2-.5M683,63.3l2-.3 2,2.7 2.1-.6 2-1.4 2-.2 2-1 2,1.8 2.1-.2 2-.3 2,.9 2-.9 2.1-1.6 2,2.3 2-.7 2-1.4 2-1.2 2.1-.2 2-3 2-5.1 2-5.8 2-6.5 2.1-7.5 2-6 2-2.3 2-1.5 2.1,1.9 2,3.4 2,4.7 2,5.9 2,5.1 2.1,3.7 2,4.9 2,6.7 2,.4 2,2.3 2.1,3 2,2 2,.8 2,.2 2.1-.3 2,1.3 2-.4 2,2 2,.3 2.1-2.4 2,.6 2-.8M683,63.6l2-.6 2,1 2.1-1.4 2,.7 2,.5 2,.4 2-.9 2.1-2 2,2.6 2-1.7 2-1.3 2.1-1.8 2-.5 2-3 2-3.1 2-5.1 2.1-3.2 2-7 2-4.3 2-4.4 2-2.1 2.1-3.1 2,.9 2,2.2 2,2.9 2.1,4.4 2,4.4 2,7.1 2,5.8 2,2.1 2.1,5.8 2,1.6 2,3.2 2,3 2,2.4 2.1,1.9 2-1.2 2,1.5 2,2 2.1-.2 2,2.4 2-2.8 2-1 2,1.3 2.1-4.7 2,0 2,4M683,63.7l2,.4 2-.2 2.1,.4 2,.2 2-.5 2-.2 2,.5 2.1,0 2-.2 2,.6 2-.2 2.1-.6 2,0 2,.1 2-1.7 2-2.2 2.1-2.2 2-3.8 2-6.6 2-6.6 2-7.1 2.1-6.2 2-3.5 2,.1 2,1.4 2.1,1.2 2,2.6 2,3.1 2,3.3 2,4.1 2.1,4.2 2,3.7 2,4.1 2,3.8 2,3.2 2.1,3.1 2,3 2,1.8 2,2.3 2.1,1.2 2,.9 2,.3 2,.4 2-.3 2.1-.2 2-.1 2-.5M683,63.5l2-.3 2,.6 2.1-.9 2-.3 2,.4 2-.2 2-.8 2.1-1 2-.5 2-.6 2-1.1 2.1-1.2 2-3 2-2.5 2-3.9 2-1.4 2.1-3.7 2-4.1 2-4 2-4.4 2-1.4 2.1-3.4 2-.7 2-1.5 2,0 2.1,.1 2,2.6 2,1.6 2,5 2,3.2 2.1,3.6 2,4.5 2,3.6 2,4.1 2,2.4 2.1,2.1 2,2.4 2,1.5 2,1.2 2.1,1.1 2,.8 2,.1 2,1 2-1.7 2.1,1.7 2,.9 2-.8M683,63.7l2-.7 2-.5 2.1,.7 2,.2 2,.1 2-.6 2-.2 2.1,.5 2,.1 2-.7 2,0 2.1,.5 2,0 2,.4 2-.5 2-1.4 2.1-1.3 2-3.4 2-6.6 2-8.6 2-8.9 2.1-8.3 2-3.8 2,.4 2,1.4 2.1,3.2 2,3.2 2,3.5 2,5.9 2,4.4 2.1,4.5 2,3.7 2,5.2 2,3 2,4.1 2.1,2.7 2,2.8 2,1.1 2,2.3 2.1,.6 2,.9 2-.3 2-.1 2-.7 2.1-.1 2-1.7 2-.4M683,64.3l2-.7 2,.2 2.1-.2 2,.1 2,.4 2,0 2,.3 2.1,0 2-.7 2,1.4 2-.3 2.1-1.2 2,.3 2,0 2,0 2-.5 2.1-2.1 2-4.9 2-3.7 2-9.5 2-9.3 2.1-7.8 2-1.9 2,2.3 2,3.9 2.1,6.9 2,6.3 2,7.1 2,4.6 2,4.7 2.1,1.3 2,3.2 2,.6 2,.2 2,1 2.1-.5 2,.6 2,.2 2,.1 2.1,.7 2-.3 2,.7 2-.6 2-.1 2.1,.3 2,0 2-.4M683,64.5l2-.4 2-1.3 2.1-1.1 2,.7 2,2.5 2-2 2,.6 2.1-1.2 2,1.8 2,.3 2-1.2 2.1-1 2-1.9 2-1.5 2-1.2 2-4 2.1-1.2 2-5.6 2-7.3 2-2.6 2-3.5 2.1-4.1 2-2.1 2-1.5 2,1.6 2.1-1 2,2.1 2,3.5 2,3.6 2,3.8 2.1,4.6 2,2.8 2,6.4 2,.4 2,4 2.1,3.2 2,3.1 2,2 2,.1 2.1,2.1 2,3.7 2-.9 2,1.3 2-.7 2.1,.5 2-2.4 2-.1M683,64.2l2,.4 2-1.2 2.1-.2 2,1.2 2-.6 2,1.1 2-1.6 2.1,.3 2-1.3 2,2.4 2,.1 2.1-.5 2-.5 2-1.2 2,.2 2,0 2.1,.3 2-3.1 2-5.2 2-5.6 2-7.8 2.1-8.2 2-7.5 2-2.8 2,1.2 2.1,.8 2,1.2 2,4.3 2,1.6 2,3 2.1,4.5 2,3.7 2,3.1 2,4.7 2,2.9 2.1,2.3 2,3 2,2.2 2,1.3 2.1,2.1 2,.4 2,1.1 2,1.2 2-.7 2.1,.9 2-.3 2,1.2M683,62.7l2,.1 2,.6 2.1-1.3 2,.4 2-1.1 2,.1 2-.7 2.1-.4 2-1.8 2-2 2-1.7 2.1-2.6 2-3.3 2-2.8 2-4.2 2-3.8 2.1-4 2-3.3 2-4.1 2-3 2-1.3 2.1-2.2 2-.3 2,1.1 2,1.1 2.1,2.3 2,1.7 2,2.6 2,3.7 2,3.3 2.1,4.1 2,3.6 2,4.7 2,3 2,4.2 2.1,3 2,3.6 2,2.2 2,1.6 2.1,2.1 2,.6 2,1.3 2,.3 2,.1 2.1-1 2-.3 2,.3M683,63.4l2,.8 2-1.1 2.1,1.2 2,.6 2,1 2-.7 2-.2 2.1-.3 2,.5 2-1.2 2,.1 2.1-1.8 2,.4 2,.2 2-3.3 2-.8 2.1-3.3 2-4.2 2-4.4 2-5.8 2-6.4 2.1-4.4 2-5.1 2,.1 2-1.2 2.1,2 2,1.5 2,5.6 2,3.9 2,4.3 2.1,4.5 2,4.4 2,3 2,3.4 2,2.3 2.1,2.1 2,1.9 2,.5 2-.1 2.1,.5 2-.4 2,.1 2-.4 2,.5 2.1,.5 2,1.2 2,.3M683,61.7l2,1.6 2-.7 2.1-.2 2,.2 2-1.7 2,2.3 2-1.3 2.1,.4 2,.1 2-.4 2-2.7 2.1-1.9 2-.3 2-3.9 2-4.1 2-4.1 2.1-2 2-6.1 2-5.5 2-.9 2-4 2.1-2.8 2-1.4 2-.2 2,4.8 2.1-.4 2,3.3 2,3.1 2,2.9 2,1.8 2.1,3.6 2,5.5 2,1.5 2,2.2 2,5 2.1,1.2 2,2.8 2,1.7 2,3.1 2.1-.6 2,3.1 2,1.2 2,1.5 2-2.1 2.1,2.5 2-.9 2-.7M683,64.7l2-.5 2,.5 2.1,1.2 2-2.9 2,1.1 2-.8 2,1.1 2.1-1.2 2-2.2 2,.8 2-2.2 2.1-2 2-2.1 2-2.6 2-4.1 2-3.4 2.1-2.6 2-5.8 2-3.6 2-2.4 2-4.2 2.1-1.4 2-.5 2-.6 2,2.8 2.1,3.4 2,5.5 2,5.8 2,5.2 2,5 2.1,4.2 2,3.5 2,.9 2,2.5 2,2.2 2.1-.8 2,.3 2,.5 2-.5 2.1,1.1 2-.3 2,.1 2,.9 2,.6 2.1-1.7 2,1 2,.4M683,63.5l2,.1 2,1.6 2.1,.7 2-.4 2-.2 2-.5 2-.8 2.1-.2 2-1.7 2,.9 2-3.7 2.1-1.6 2-3.5 2-.8 2-4.1 2-4.9 2.1-3 2-6.1 2-5 2-2.4 2-5 2.1-.4 2-1.5 2,.1 2,5 2.1,6.2 2,5.9 2,7.2 2,8.3 2,4.7 2.1,5.8 2,2.6 2,1 2,1.2 2,2 2.1,.3 2,1.5 2,3.1 2-1.6 2.1-.8 2,.8 2,1.3 2-1.1 2,.6 2.1-2.9 2,2.3 2-2.3M683,63.7l2,1.2 2,.6 2.1-2.1 2-.1 2,1.8 2-2.2 2,1.9 2.1-1.4 2,.7 2,2.2 2-2.4 2.1,.2 2-1.2 2,.7 2-.2 2-3.1 2.1-5.4 2-3.1 2-4.9 2-9.4 2-5.6 2.1-5.7 2-1.8 2-.1 2,.9 2.1,3.9 2,2.3 2,1.2 2,4.9 2,4.4 2.1,3.7 2,5.4 2,3.5 2,4.2 2,1.4 2.1,3.5 2,2.8 2,2 2,1.5 2.1,.7 2,1.3 2,2.1 2-2.5 2-1.1 2.1,1.5 2-1.7 2,1.2M683,64.6l2,0 2,.2 2.1-.3 2-.2 2-.9 2-.6 2-.3 2.1-1.8 2-.8 2-2.3 2-2.1 2.1-2.7 2-3.2 2-3.5 2-3.3 2-4.1 2.1-3.8 2-3.6 2-3.6 2-2.6 2-1.4 2.1-1.1 2-.4 2,1 2,1.6 2.1,2 2,3.8 2,3 2,3.6 2,3.7 2.1,3.7 2,3.3 2,3 2,3.1 2,2.5 2.1,2.1 2,1.9 2,.4 2,1.8 2.1,.9 2,.6 2,1 2,.4 2,.8 2.1,.5 2,.4 2,.2M683,62.8l2,.6 2,0 2.1,1.3 2-2.2 2,2.3 2-.6 2-1.9 2.1-3.2 2-1.1 2-.4 2-1.4 2.1-2 2-2.1 2-4 2-4 2-3.3 2.1-6.4 2-.2 2-6.2 2-3.3 2-.9 2.1-1 2-1.2 2,2.3 2,3.4 2.1,5.1 2,5.1 2,4.7 2,6 2,5.9 2.1,2.2 2,2.9 2-.1 2,3.9 2,2.7 2.1-1 2-.9 2,1.8 2,0 2.1,.3 2-2.6 2,.2 2,2.3 2,.2 2.1,.2 2-1.7 2,2.7M683,65.8l2-1.6 2-.2 2.1-.8 2,.6 2-1.3 2,.6 2-3.1 2.1,1.7 2-3.1 2-3.2 2-2 2.1-3.3 2-3.1 2-4.1 2-1.9 2-3.9 2.1-5.2 2-2.1 2-5.6 2-1 2-2.3 2.1,.3 2,1.4 2,2.6 2,6.6 2.1,7.4 2,6.4 2,6.2 2,5.5 2,3.7 2.1,2.4 2,1.8 2,2.5 2-.7 2,1.4 2.1-.3 2-1 2,1.7 2-1.6 2.1,1.7 2-1.5 2,.6 2-1.4 2,2.1 2.1,.8 2-2 2,.6M683,64.6l2-.2 2,1 2.1,.8 2-3.1 2,1.5 2-2.1 2-.4 2.1-1.4 2,.2 2-.8 2-2.9 2.1-1.9 2-3.5 2-2.5 2-4.2 2-2.6 2.1-5.3 2-.2 2-4.4 2-4.8 2-2.7 2.1-2 2-.9 2-.3 2,1.8 2.1-.7 2,.8 2,4.4 2,3.2 2,2.4 2.1,5 2,2.8 2,3.1 2,3.9 2,2.1 2.1,3.5 2,4.1 2,1.6 2,1.1 2.1,1 2,1.3 2-.2 2,1.9 2,0 2.1,.7 2,2.3 2-1.5M683,63.4l2,.4 2-1.1 2.1-.4 2-.5 2-.6 2,2.2 2-1.6 2.1,.7 2,0 2-.3 2-.2 2.1,.1 2,.4 2,.4 2-.9 2-.8 2.1-4.1 2-1.3 2-7.7 2-9.2 2-9.8 2.1-5.3 2-2.2 2,2.8 2,.7 2.1,3 2,.6 2,2 2,5.5 2,1.5 2.1,2.4 2,2.9 2,3.6 2,2.4 2,2 2.1,3 2,1.8 2,1.9 2,.5 2.1,1.4 2,2.4 2-.7 2,1.5 2,1.8 2.1-.3 2-1 2,2.6M683,64.8l2,.4 2,.2 2.1-.9 2,.3 2,.5 2-.2 2,1 2.1-.6 2,0 2-1 2-.1 2.1-.2 2,.2 2-.3 2-.7 2-2.8 2.1-4.9 2-5 2-5.5 2-8.4 2-6.2 2.1-5.3 2-.9 2,1.1 2,1.4 2.1,2.5 2,2.2 2,2.2 2,5.9 2,2.6 2.1,2.7 2,5.9 2,3.4 2,3.2 2,3.6 2.1,3.5 2,1.2 2,4.2 2,1.4 2.1,1.5 2,.1 2,.3 2,1.3 2-3.2 2.1,2.2 2-.7 2-2.2M683,64.6l2,.7 2-1.3 2.1,.4 2,.4 2-.7 2-.1 2-.2 2.1,.7 2,.1 2-.2 2-.6 2.1,.7 2-.7 2,.2 2-1.1 2-1.4 2.1-1.9 2-3.3 2-5 2-7.5 2-6.4 2.1-7.3 2-4.8 2-3 2,1.8 2.1,.7 2,2 2,2.9 2,2.5 2,4.2 2.1,5.8 2,2.6 2,3.9 2,4 2,3 2.1,3.2 2,2 2,2.4 2,2.9 2.1,.6 2,1 2,.6 2,.4 2,.1 2.1,.4 2-.8 2,.1M683,62.8l2,.4 2-.2 2.1-.2 2,.9 2-.8 2,.4 2,.1 2.1,.1 2,0 2,.1 2-1 2.1-1.2 2,1.3 2-.5 2-2.9 2-2.4 2.1-3.5 2-6.1 2-5.8 2-7 2-5.7 2.1-5.1 2-1.5 2-1.5 2,1.3 2.1,1.6 2,3.8 2,3.3 2,3.8 2,4.5 2.1,3 2,3.5 2,5.5 2,1.7 2,2 2.1,3.2 2,1.1 2,.7 2,1.7 2.1,1.2 2,.5 2,.1 2,1.6 2-1 2.1,.9 2,.8 2-.4M683,65.7l2,.1 2-.2 2.1,.5 2-.9 2,0 2-.8 2,1 2.1-1 2-.5 2,.3 2,1.3 2.1-1.4 2,0 2-2.9 2-2.7 2-4.7 2.1-4.3 2-5.7 2-6 2-6.1 2-5.5 2.1-1.1 2,1.1 2,2 2,6.2 2.1,6.3 2,7.8 2,5.8 2,5.9 2,2.6 2.1,3.1 2,1.8 2,2 2,3.8 2-1 2.1,2.3 2,1 2-.5 2,1 2.1,1.1 2-2.8 2,1.3 2-2.1 2,1.5 2.1-2 2-1.2 2-1.3M683,64.9l2-1.5 2,.5 2.1-.5 2,.4 2-.4 2,.2 2-.8 2.1,.4 2-1.9 2-.6 2-.9 2.1-2.6 2-1.9 2-2.2 2-3 2-2.5 2.1-4.3 2-3.9 2-2.4 2-4.2 2-2.9 2.1-2.2 2-1 2-1.1 2-.3 2.1,1.5 2,2.6 2,5.2 2,4.4 2,4 2.1,6 2,3.3 2,4.3 2,3.4 2,4 2.1,2.4 2,.6 2,1 2,1.9 2.1-.3 2,1.6 2-1.2 2,1.2 2-1 2.1,1.2 2-1.1 2-.7M683,65.4l2-.9 2,.6 2.1,.4 2-.9 2,.4 2-1.4 2-.2 2.1-.4 2-1.1 2-1.7 2-1.8 2.1-1.6 2-2.4 2-2.7 2-1.8 2-4.3 2.1-4 2-2.6 2-3.5 2-3.4 2-1.4 2.1-1.9 2-2.7 2,.4 2-.2 2.1,2.8 2,3 2,5.5 2,5.5 2,5.4 2.1,5.2 2,4.5 2,4.4 2,2.9 2,3 2.1,2.2 2,1.7 2,.9 2,1.5 2.1,1 2,.4 2,.2 2,0 2-.1 2.1-1.2 2-.9 2-1M683,64.4l2,.3 2-.7 2.1-.7 2,.4 2-.5 2-1.7 2-.8 2.1-2 2-1.4 2-2.2 2-2.6 2.1-2.5 2-2 2-3.8 2-4.5 2-3.2 2.1-3.7 2-3.2 2-3.8 2-1.2 2-1.8 2.1-.1 2,1 2,.5 2,4.2 2.1,6.1 2,5.5 2,5 2,3.9 2,4.8 2.1,4.3 2,2.7 2,1.5 2,3.4 2,.6 2.1,1.4 2-.2 2,.9 2,1.5 2.1-.7 2,.6 2,.6 2-.8 2-.1 2.1-.2 2,.4 2-.3M683,62.3l2,1.7 2-1.1 2.1-.5 2,1.8 2,1.2 2-2.8 2-1.8 2.1-.9 2,.5 2-1.6 2-1.3 2.1-4.9 2-1.3 2-.2 2-4.5 2-8.4 2.1,1.2 2-6.7 2-4.6 2-1.8 2-.6 2.1-1.5 2-2.2 2,.9 2,4.2 2.1,6.1 2,3.5 2,8.3 2,4.3 2,6.7 2.1,.4 2,5.3 2,2.4 2,2.3 2,2.2 2.1-2.6 2,3.9 2-1.5 2,.1 2.1,2.2 2,.4 2-1.7 2-1.9 2,2.8 2.1-1.5 2-2.7 2,2.6M683,64.7l2-.4 2-.4 2.1-1 2,1.1 2-1.3 2,2.5 2-1.9 2.1,2.2 2-1.8 2,1.6 2-.2 2.1,.3 2-1.3 2-2.1 2,1.6 2-3.1 2.1-4.7 2-5.5 2-6.7 2-8.7 2-8.1 2.1-3.7 2,.8 2,1.1 2,4.8 2.1,5.3 2,5.9 2,6.1 2,5.6 2,3.7 2.1,4.1 2,3.3 2,.6 2,2.1 2-.7 2.1,.7 2,3 2-1.6 2,1.6 2.1-3.2 2-.3 2,2.5 2-.2 2-2.1 2.1,3.2 2-.1 2-1.4M683,63.1l2-.4 2-.6 2.1,1 2,.1 2,1.2 2-2.7 2,0 2.1,1.5 2,.6 2-1.9 2,.9 2.1-2.3 2,1.2 2-1.3 2-1.8 2-5.1 2.1-4.1 2-6.8 2-5.1 2-7.2 2-2.4 2.1-1.1 2-2.6 2,1.3 2,2.3 2.1,1.9 2,2.5 2,3.8 2,3.7 2,4.8 2.1,2.7 2,3.9 2,4.3 2,5.6 2-.7 2.1,4 2,1.4 2,3.1 2,1.8 2.1,1.6 2,.9 2-.1 2-.1 2-.9 2.1-.8 2,.7 2-3.1M683,62.1l2,.9 2,.4 2.1,.1 2-1.3 2,2 2-.3 2,.4 2.1-.5 2,0 2-.7 2-.2 2.1-.9 2,.7 2-2 2,.3 2-2.6 2.1-3.9 2-3.6 2-6.3 2-5.4 2-5.7 2.1-5.9 2-3.6 2-1.8 2-.3 2.1,1.2 2,2.4 2,3 2,6.1 2,4 2.1,6.1 2,3 2,4.9 2,4.9 2,4.1 2.1,2.7 2,2.5 2,.5 2,3 2.1,2.1 2-2.1 2,2.3 2,1.4 2-2.5 2.1,.6 2,.7 2-1.6M683,62.6l2,1.7 2,.6 2.1-2.2 2-.1 2,1.5 2-.9 2-1 2.1,.8 2,.6 2-.3 2-1.4 2.1,.1 2,.7 2-1.1 2-2.8 2-2.3 2.1-7.2 2-3.5 2-6.3 2-6.7 2-5.5 2.1-3.1 2-.5 2,1.7 2,2.9 2.1,3.4 2,6.3 2,2.5 2,5.3 2,5.6 2.1,3.4 2,4.2 2,.4 2,2.7 2,1.3 2.1,1.8 2,1.1 2-.7 2,1.1 2.1-.6 2-.3 2,1 2,.6 2-1.5 2.1,1.2 2-.5 2-.3M683,63.1l2,.8 2-.4 2.1-.4 2,.1 2,0 2-.4 2-.2 2.1-.1 2-1.4 2,.8 2-1.7 2.1-1.3 2-1.6 2-3 2-3.2 2-3.4 2.1-3.5 2-3.8 2-5 2-3.1 2-4.5 2.1-3.3 2-1.4 2-2 2,.3 2.1,.4 2,3.1 2,3.1 2,4.9 2,3.7 2.1,5.3 2,4.7 2,5 2,3.7 2,3.8 2.1,3.2 2,2.4 2,2.2 2,1.7 2.1,.4 2,1.8 2-.3 2,.3 2,.9 2.1-1.1 2-.1 2-.1M683,65.1l2,.2 2-.3 2.1,.6 2-1.7 2,.1 2,.1 2,.5 2.1,.1 2,.1 2,.1 2-.4 2.1,.9 2-.7 2-1.6 2-.7 2-1.1 2.1-3.9 2-4 2-5.1 2-7.1 2-6.6 2.1-4.6 2-2.9 2-1 2,1 2.1,2.1 2,1.7 2,4.2 2,3.8 2,3.2 2.1,4 2,3.2 2,4.6 2,2.2 2,3.7 2.1,2.3 2,3.4 2-.3 2,1 2.1,1.8 2,.3 2,.8 2-.2 2,.3 2.1,.2 2-.4 2,.3M683,66l2-.3 2-.9 2.1,2.5 2-4.5 2,1.9 2-.1 2-.8 2.1,2.1 2-.8 2-1.3 2-2.5 2.1,0 2-2.1 2-2.1 2-5.7 2-3.6 2.1-2.2 2-6.3 2-5.2 2-4.5 2-6.6 2.1,2.6 2-4 2,1.9 2,5.8 2.1,6.3 2,6 2,4.4 2,5.5 2,6.7 2.1,3.7 2,1 2,6.2 2-1.7 2,4.4 2.1,1.3 2,1.7 2,.1 2,1.6 2.1-.3 2-1.4 2,.1 2,1.8 2-4.5 2.1,2.2 2-2.4 2-2.1M683,65.4l2-.6 2-1.1 2.1,0 2,.9 2,.3 2-.9 2-.4 2.1,.4 2,.8 2-1.1 2-.4 2.1-.1 2-1.5 2-2.3 2-3.2 2-2.5 2.1-5.2 2-5.1 2-5.3 2-6.8 2-3.5 2.1-5.8 2-1.2 2,.7 2,1 2.1,1.6 2,5 2,4.4 2,4.8 2,7.4 2.1,4.1 2,4.3 2,4.8 2,3.8 2,3.7 2.1,1.6 2,2.2 2,2.3 2,1.4 2.1-.2 2,.7 2,1 2-.3 2-.9 2.1-1.9 2,1.6 2-.6M683,64.8l2-1 2,1.1 2.1,0 2,1.2 2-.3 2-3.1 2,.7 2.1-1 2,1.3 2-3.6 2,1.2 2.1-4.4 2,1.1 2-2.5 2-6.5 2-1.8 2.1-4.8 2-5.7 2-1.4 2-6.2 2-1.6 2.1-3.6 2-.3 2-3.5 2,2.1 2.1,1.6 2,3 2,6.5 2,4.2 2,4.9 2.1,5.9 2,3 2,6.9 2,4.1 2-1.2 2.1,4 2,.9 2,.7 2,2.7 2.1,1.6 2-1.3 2-.5 2,2.4 2-2.4 2.1-.5 2,0 2,1.6M683,64.7l2,.3 2-.1 2.1-.8 2,2 2-.3 2-.3 2-1 2.1-1.5 2,1.3 2-.3 2,.8 2.1,.2 2,0 2,1.1 2-2.7 2,.8 2.1-1.4 2-4.7 2-5.8 2-11.5 2-7.1 2.1-7.5 2-.7 2,0 2,3.1 2.1,4.1 2,3.9 2,4.2 2,6.1 2,3.9 2.1,2.7 2,4.5 2,.7 2,3.2 2,2.9 2.1,.9 2-.6 2,0 2,2 2.1,1 2,.5 2-1.9 2,1.2 2,.1 2.1-.3 2-.3 2,1.3M683,63.2l2,.7 2,.1 2.1-1 2,.2 2,.4 2-.8 2-1.3 2.1-2.1 2-.7 2-1.3 2-1.8 2.1-2.7 2-3.2 2-4.1 2-2.7 2-3.7 2.1-4.6 2-3.7 2-2.7 2-3.5 2-1.3 2.1-.5 2-1 2,1.2 2,1 2.1,1.8 2,1.9 2,4.3 2,4.6 2,1.5 2.1,4.7 2,3.1 2,2.3 2,4 2,2 2.1,1.5 2,4.3 2,1.2 2,1.6 2.1,1.9 2,1.3 2,0 2,.8 2,.4 2.1-.5 2,1.2 2-.8M683,63.2l2,.7 2-.5 2.1-.1 2,1.1 2-1.7 2,.5 2,.9 2.1,.2 2-1.2 2-1.6 2-.7 2.1-1.1 2-.8 2-2.6 2-4.4 2-3.5 2.1-5.4 2-5.4 2-6.5 2-4 2-4.4 2.1-2 2-.2 2,.3 2,.9 2.1,1.3 2,5.2 2,3.5 2,1.6 2,6.9 2.1,2.5 2,3.1 2,4 2,4 2,2.9 2.1,3 2,2.3 2,2.7 2,1.3 2.1,.1 2,1 2,1.3 2-.2 2,.3 2.1-.6 2,1.5 2-1.5M683,63.3l2,1.5 2-1.6 2.1,.1 2,1.2 2-.1 2-1 2-1.1 2.1,1.8 2,1.1 2-.7 2-2.1 2.1,1.5 2,.1 2,1.1 2-2 2-.9 2.1,.2 2-5.7 2-4 2-6.7 2-5.5 2.1-9.3 2-4.2 2-3.7 2,2.4 2.1,.1 2,.4 2,3.4 2,2.2 2,2.6 2.1,2.1 2,6.1 2,1.4 2,2.6 2,3.4 2.1,2.5 2,1.3 2,4.4 2-.8 2.1,4.1 2-1.4 2,1.6 2,3.4 2-1.8 2.1,2.1 2,.8 2,1.5" fill="none" stroke="#c4c4c4" stroke-width="0.6" opacity="0.4" stroke-linejoin="round"/>
<path d="M683,59 C698,58 708,52 714,42 C719,32 724,23 730.5,21.5 C737,22 742,30 748,42 C755,52 764,59 778,61 L778,72 C764,70 752,64 745,52 C740,42 736,32 732,28 C729,36 727,52 724,63 C712,66 696,66 683,66 Z" fill="#b6b6b6"/>
<path d="M683,177.6l2-2.5 2,2 2.1,1 2-1.7 2,.4 2-.5 2-.5 2.1,1.1 2-2.8 2,1.8 2-2.2 2.1,2.7 2,.9 2-1.9 2,.1 2,2.8 2.1-3.1 2,3.1 2-.2 2,.4 2,5.2 2.1,13 2,11 2,.8 2-11.7 2.1-11.8 2-8.2 2-2 2,2 2-5.3 2.1,.3 2,1.1 2-2.2 2-.2 2,2.5 2.1-.6 2,1.7 2-.1 2,3.3 2.1-1 2,.2 2-.5 2,.2 2-.5 2.1,1 2-1.8 2,5.3M683,176.5l2,1.6 2-.8 2.1-.8 2,.7 2-.6 2-.5 2-1.7 2.1,1.1 2,.8 2-.2 2,.8 2.1,.8 2-.8 2,1.7 2-3.1 2,1.2 2.1-2.1 2,3.2 2-.6 2,2.8 2,3.6 2.1,11.3 2,16.1 2-3.7 2-14.3 2.1-11.9 2-5 2-3.3 2-.8 2-3.3 2.1,2.3 2-2.6 2-.3 2,.5 2,.2 2.1,1.1 2,.2 2,2.1 2,1.8 2.1,1.6 2-.3 2,.8 2,.7 2,.4 2.1-.2 2-.3 2-.2M683,174.5l2,4 2-2.4 2.1,.5 2-.8 2-.2 2-1.5 2,.4 2.1,.7 2-2.6 2,1.3 2,.9 2.1,.7 2,1.3 2-.1 2,.8 2-.2 2.1-.7 2,2.5 2-1.1 2-1.5 2,8.6 2.1,13.4 2,14.5 2-6 2-15.5 2.1-10.9 2-6.7 2-.8 2-2.2 2-.8 2.1-4.7 2,1 2-1.8 2-.3 2,.6 2.1,1.9 2,1.6 2,1.9 2,2.8 2.1,1.3 2,.5 2,3.5 2-2.9 2,3.6 2.1-1 2,.3 2-1.8M683,176.7l2,0 2,.4 2.1-.7 2,1 2,.3 2,.3 2,.2 2.1,.3 2-.3 2,.2 2-1.1 2.1,.7 2-1 2,.4 2-.5 2,0 2.1-.2 2,.7 2-.8 2,1.4 2,7.4 2.1,15.9 2,14.1 2-5.4 2-18.5 2.1-13.3 2-6.1 2-1.5 2-1.5 2-1.6 2.1-1.6 2,.4 2-1 2,.2 2,.4 2.1,.8 2,1.5 2,1.6 2,1.1 2.1,1.7 2,1.5 2,.7 2,.6 2,1 2.1,.3 2,.2 2-.4M683,177.3l2-.7 2,.5 2.1-.4 2,.5 2-.4 2,.6 2,.1 2.1-.8 2,.9 2,.1 2-1.1 2.1,.9 2-.5 2-.6 2,.4 2,.1 2.1-.5 2,1.1 2,.8 2,3.4 2,7.4 2.1,13.2 2,10 2,2.9 2-9.5 2.1-13.6 2-10.6 2-4.6 2-2.9 2-.2 2.1-1.1 2,.6 2-1.5 2,.3 2,.2 2.1,1.2 2,.5 2-.7 2,1.6 2.1,0 2,.5 2,.9 2,.5 2,0 2.1,.7 2-1.3 2,1.1M683,176.7l2,.9 2-.4 2.1-.2 2,1.6 2-2 2,1 2-1.9 2.1,2 2-.6 2-.8 2,.3 2.1-1.3 2,.9 2,1 2-2.4 2,3.1 2.1-.1 2-1.6 2-.6 2,.6 2,4.1 2.1,12.6 2,18.4 2-1.2 2-13.8 2.1-14.4 2-8.1 2-1.3 2-.1 2-1.8 2.1,1 2,.3 2-2.1 2-.7 2,1.5 2.1,.2 2-.3 2,1.2 2,1 2.1,1.2 2,1.3 2-.8 2-.1 2,.2 2.1,3.3 2-1.7 2,.2M683,177l2,.2 2,.3 2.1-.9 2,.1 2-.4 2,0 2,0 2.1-.2 2-.3 2,.3 2-.3 2.1,0 2,.7 2,.3 2,.5 2-.2 2.1,.1 2,.9 2,2.1 2,5.9 2,10.6 2.1,12.7 2,7.6 2-2.3 2-12.2 2.1-13.5 2-10.7 2-4.9 2-3.7 2-1.7 2.1-1.6 2-.6 2-.6 2,.3 2,.8 2.1,1.4 2,1.5 2,.8 2,1.6 2.1,1.6 2,1.3 2,.4 2,1 2,0 2.1,0 2,.7 2,.5M683,177.4l2-.9 2,.6 2.1,.4 2-1 2,.8 2,.2 2,.5 2.1,0 2-.5 2,.7 2-1.2 2.1-.3 2,.9 2-.3 2-.7 2,.8 2.1-.1 2,.1 2,.5 2,2.6 2,6.1 2.1,9.9 2,8.2 2,1 2-6.8 2.1-9.6 2-8.9 2-4.3 2-.9 2-1.7 2.1-.4 2,.3 2-1.2 2,1.2 2-.9 2.1,.4 2,.2 2,.5 2,.6 2.1,1 2,.1 2,.9 2,.1 2-.4 2.1,.6 2,0 2,.1M683,177.7l2-1.9 2,3.5 2.1-2.2 2-1.1 2,.2 2,3.2 2-1.5 2.1,1.2 2-1 2,.3 2,.1 2.1,.4 2-2.9 2,1.5 2-1.4 2-.3 2.1,2.2 2,.4 2,0 2,4.9 2,4.7 2.1,10.9 2,5.9 2-1.1 2-10.3 2.1-9.6 2-8.8 2-3.1 2-2.1 2,.3 2.1-5 2,.7 2,1.9 2-3.3 2,2.9 2.1,.5 2-.3 2,1.6 2,1.4 2.1,1.6 2,1.5 2,.9 2,1.8 2,.1 2.1-.4 2,.6 2-.4M683,176.4l2,.5 2-.7 2.1,1.5 2-.8 2-1.3 2-.8 2,1 2.1-.8 2-.7 2-2.3 2,2.4 2.1-1.7 2,.2 2,4.8 2-.4 2,.1 2.1,1 2,.3 2-1.5 2,.1 2,1.4 2.1,5.9 2,12.2 2,9.2 2-.9 2.1-18.4 2-9.6 2-2 2-1.8 2,0 2.1,1.5 2-1.5 2-2.4 2,.8 2-.4 2.1,1.7 2-1.9 2,.4 2-.1 2.1,3 2,.5 2,.9 2,.6 2-1.8 2.1,1.2 2-.5 2,2.7M683,177.4l2,.6 2-1.4 2.1,1 2-1.2 2-1.3 2,2 2,.3 2.1-.2 2-.6 2,.5 2-.3 2.1,.5 2-1.6 2,2.1 2-1.2 2,1 2.1-.4 2-.4 2-.6 2,1.5 2,1.7 2.1,6.6 2,17.9 2,11.5 2-8.8 2.1-16.9 2-11 2-3.2 2-1.7 2,.5 2.1-.8 2-2.6 2,.4 2-1.6 2,2.5 2.1-.3 2,1.1 2,.1 2,.9 2.1,.3 2,.9 2,2 2-.5 2,.2 2.1-.4 2,.9 2-.3M683,174.9l2,1.5 2,1.1 2.1-.9 2-.5 2,1.2 2-2 2,.3 2.1,.4 2-.9 2,.2 2,.7 2.1,1.2 2-1.4 2,1.4 2-.4 2-.1 2.1-.9 2,2.8 2-.8 2,1.2 2,5.2 2.1,14.1 2,10.8 2,0 2-12.5 2.1-12.8 2-6.8 2-4.8 2,.4 2-1.5 2.1-.6 2-2.2 2,1 2,.5 2-1.6 2.1,1.3 2,2.5 2,1.6 2,.2 2.1,2.1 2-1.6 2,2.8 2-.1 2,.6 2.1-.3 2,.3 2-1M683,177.1l2-.2 2-.5 2.1,1.4 2-2.5 2-.3 2-2.8 2-1.8 2.1-.9 2-.7 2-.5 2,2.2 2.1,3.2 2,.9 2,1.1 2,.8 2,.2 2.1-.9 2,.7 2,1.9 2,1 2,6.4 2.1,11.5 2,13.1 2,7.7 2-6.3 2.1-13 2-14.6 2-7.3 2-2.1 2-3.2 2.1,2.2 2-3.5 2,.9 2,.2 2,1.8 2.1-.8 2,1 2-1.5 2,.2 2.1,.5 2,1.2 2,2.4 2,2.2 2-3.2 2.1-.7 2,3.3 2-1.5M683,176.8l2,.8 2-.9 2.1-.2 2,1.3 2-1.8 2,.3 2,1.8 2.1-1.1 2,.2 2-.1 2-.2 2.1,1.4 2-1.3 2,1 2-1 2-.5 2.1,.3 2,.3 2,1.9 2-.9 2,6 2.1,10.2 2,13.9 2,.5 2-11.4 2.1-13.2 2-7.2 2-2.2 2-1.2 2-.3 2.1-1.6 2-.7 2-1.1 2,1.5 2-.4 2.1,.2 2,2.3 2,.7 2,.2 2.1,.9 2-.3 2-.3 2,2 2-.9 2.1,1.6 2-.6 2,.4M683,177.1l2-2.1 2,1.3 2.1,1.7 2-.9 2-1.7 2,.4 2-1.1 2.1,1.5 2-2.7 2,2.9 2-1.5 2.1,.5 2-.2 2,1 2-1.3 2,.8 2.1,.7 2,1.3 2-1 2,.6 2,3.3 2.1,11 2,12.9 2,3.1 2-13.9 2.1-11.8 2-4.5 2-1.8 2-2.3 2-1.2 2.1,.3 2-.9 2-1.1 2,.5 2,.2 2.1,.3 2,0 2,1 2,2.7 2.1,.4 2,1.1 2-.6 2,1.3 2-.7 2.1-.8 2-.2 2-.8M683,177l2-1.3 2,2.2 2.1-1.7 2,.3 2-.5 2-.1 2-.3 2.1-.2 2-.2 2,2.1 2-1.3 2.1,.5 2-.5 2,1.9 2-.7 2-.2 2.1-.4 2,1.1 2-.9 2,3.7 2,7 2.1,11.5 2,11.2 2,3.6 2-4.2 2.1-13.3 2-12.6 2-8 2-4.8 2-2.4 2.1-1.4 2-.3 2-1 2-.1 2-.3 2.1,1.9 2,.3 2,.6 2,2.7 2.1-.4 2,1.7 2,2.2 2,0 2,.8 2.1,.5 2,.6 2,.6M683,176.6l2,.4 2,.8 2.1-.4 2-1 2-.1 2,1.1 2-1 2.1,.9 2-1 2-.1 2,1.1 2.1-.2 2-.2 2,.3 2,0 2-1.1 2.1,1.1 2-1 2,1 2,1.3 2,5.5 2.1,8.9 2,12 2,5.3 2-4.6 2.1-12.4 2-10.5 2-7 2-4 2-1 2.1-2.7 2-.5 2-.6 2,.1 2-1.2 2.1,1.1 2,1 2,1.3 2,2 2.1,1.4 2,1.3 2,1.6 2-.1 2,1.2 2.1,.1 2,.5 2-.1M683,176.3l2,.3 2,.5 2.1-.1 2-1.1 2,2 2-.2 2,.4 2.1-.3 2-1.3 2,.4 2-.5 2.1,3.2 2-3 2,1.3 2,.6 2-1.7 2.1,.4 2,.1 2,1.4 2-1 2,8.2 2.1,13.8 2,11.6 2-4.5 2-13.4 2.1-13.5 2-7.6 2-2.5 2,1.7 2-3.8 2.1-1.9 2,1.3 2-1.8 2,1.2 2,1 2.1-.6 2,.6 2,4.5 2-1.9 2.1,1.3 2,2.2 2,1.4 2,.2 2-.3 2.1,2.2 2-1.7 2,.5M683,176.6l2,.7 2-1.6 2.1,1.4 2-.6 2,.6 2-2.1 2,1.5 2.1,.5 2-.9 2,1.5 2-.8 2.1,.2 2,1.1 2-.3 2-.7 2-.2 2.1,1.5 2-1.3 2-.4 2,3 2,5 2.1,12.4 2,14.6 2-2.8 2-14 2.1-14.1 2-5 2-.8 2-1.1 2-.4 2.1-2.5 2-1.1 2-1.8 2,1.2 2,1.5 2.1,.8 2,.5 2,1.6 2,.4 2.1,.6 2,.6 2,1.2 2-.1 2-.3 2.1-.5 2,2.6 2-.9M683,177.2l2-.4 2,.8 2.1-.1 2-.5 2-3.2 2-1.2 2,1 2.1,1.5 2-3.3 2,1.9 2,.5 2.1,1.1 2-1.1 2,3 2-.8 2,1.6 2.1-.8 2,.3 2,3 2,5 2,8.2 2.1,10.6 2,10.3 2,1 2-9.4 2.1-11.4 2-10.3 2-7.3 2,.5 2-2.7 2.1-.6 2-1 2-1.8 2-.9 2,3.3 2.1,.8 2,1.3 2-2.4 2,1.4 2.1,.1 2,1.7 2-1.3 2,.1 2-.6 2.1,1.6 2,1.4 2-2.5M683,176.5l2,1.2 2-1.6 2.1-.2 2,.8 2-1.8 2,.3 2,.3 2.1-4.1 2,.6 2,3 2-.7 2.1-.3 2,2.4 2-1.2 2,1.5 2-1.4 2.1,2.8 2,.4 2-1.5 2,4.3 2,6.1 2.1,14.4 2,13 2-2 2-10.6 2.1-14.8 2-9.1 2-5.2 2-1.2 2-2.5 2.1-1.2 2-3.4 2,2.7 2-.7 2,.2 2.1,0 2,2.1 2,.9 2,2.8 2.1-.1 2,2.8 2-1.1 2,1.3 2-.5 2.1,2 2-.9 2,.7M683,177.5l2-1.6 2-.7 2.1,.9 2,1.1 2,2.2 2-4 2,1.3 2.1-.5 2,0 2,.4 2,.5 2.1-.6 2,1.6 2-.6 2,.4 2,.1 2.1-1.7 2,2.2 2-1.3 2,3.4 2,5.9 2.1,9.8 2,11.2 2,2.6 2-4.3 2.1-12.1 2-10.8 2-5.3 2-2.6 2-1.6 2.1-2.1 2,1.4 2-.4 2,1.3 2,.4 2.1-.5 2,0 2,.5 2-.1 2.1,.7 2,.2 2,.5 2,.3 2,2 2.1,.6 2-3.7 2,2.4M683,177.4l2-2.1 2,.5 2.1,1.4 2-2 2-1.3 2-3.3 2-.2 2.1-2.3 2,.5 2,1.8 2,.8 2.1,.2 2,2.7 2,1.9 2-.6 2,.3 2.1,.8 2,0 2,.1 2,2.9 2,7.9 2.1,12.9 2,12.7 2,5.1 2-9.2 2.1-13.5 2-12 2-6.3 2-1.1 2-.5 2.1-2.8 2,.3 2,.3 2-.8 2-.6 2.1,1.7 2,.9 2,.1 2-.3 2.1,1.9 2,0 2,0 2,.7 2-.5 2.1,.3 2,.4 2,1M683,177.1l2-.7 2,.9 2.1-1.3 2,1 2-.3 2-.5 2,.6 2.1-.7 2,1.2 2-1.8 2,1.8 2.1-.1 2-.2 2-.7 2,0 2-.4 2.1,1.2 2-.3 2,.7 2,1 2,6.3 2.1,13.5 2,15.7 2-2 2-16.4 2.1-15.9 2-3.8 2-3.2 2,.1 2-.7 2.1,.4 2-1.2 2-.4 2-.4 2,.2 2.1,.3 2,1.2 2,.4 2,1.7 2.1-.4 2,1.5 2,.1 2,.1 2,.8 2.1-.8 2,1.3 2-.1M683,178.5l2-3.6 2,2.2 2.1-.7 2,.5 2-.9 2,1.2 2,2.1 2.1-2.5 2,2.6 2-1 2-1.5 2.1,1.7 2,0 2-1.2 2,.1 2,0 2.1-1 2,.4 2,1 2-.5 2,3 2.1,10.5 2,13.7 2,2 2-10.3 2.1-15.7 2-6.6 2-.9 2-1.5 2-1 2.1,.9 2-3.7 2,3.6 2-1.7 2,2.3 2.1-2.1 2-.6 2,3.3 2-.4 2.1,.7 2,2.3 2-.4 2-1.1 2,1.1 2.1,.3 2,.6 2-.4M683,176.6l2,.7 2-.5 2.1-.1 2-.4 2-.9 2-.9 2-1.3 2.1-.2 2,.2 2-.3 2,.9 2.1,1.6 2,1.2 2,0 2,.1 2,.8 2.1-.1 2,.3 2,.6 2,3 2,9.2 2.1,14.6 2,11 2-3 2-12.1 2.1-14.8 2-8.3 2-3.3 2-.9 2-2.2 2.1-.6 2-.1 2-.1 2,.4 2-.1 2.1,.6 2,1 2,1.7 2,.6 2.1,.9 2,.1 2,.3 2,.3 2,.5 2.1,.1 2,.5 2-.3M683,176.4l2-.4 2-.2 2.1-.4 2,1.9 2-2.1 2,.8 2-.6 2.1-1.3 2-.6 2,.1 2,2.3 2.1,.2 2,1.2 2-1.8 2,2.4 2-.2 2.1-.9 2,1.1 2,.4 2,4.4 2,3.2 2.1,15.6 2,10.1 2-2.7 2-9 2.1-14.4 2-7.9 2-2.1 2-3.9 2,0 2.1-4 2,1.4 2-2.2 2,.5 2-.6 2.1,1.3 2,.5 2,5.6 2-1.2 2.1,1.3 2,.4 2,.8 2,1.6 2,1.1 2.1-1.6 2,.9 2-1.8M683,177.7l2-1.3 2,.3 2.1-.6 2-.6 2,1.3 2-.6 2,.4 2.1,0 2-3.2 2,1.2 2,1.1 2.1,1.8 2-1 2,.8 2-1.1 2,1.6 2.1,.1 2,0 2,0 2,1.1 2,8.5 2.1,11.2 2,10.6 2-2.8 2-13.5 2.1-12.1 2-7.6 2-2.4 2-2.1 2-.8 2.1-1.5 2-1.8 2,2.4 2-1.1 2,.6 2.1,.7 2,.4 2,1.8 2,2 2.1,1.8 2,.6 2,.2 2,1 2,0 2.1,.9 2,.4 2-.1M683,176.4l2-.8 2,.5 2.1,.4 2-.7 2-1.1 2-.2 2-.6 2.1-.3 2-1 2,1.3 2,0 2.1,2 2-.7 2,1.3 2,1.2 2,0 2.1-.5 2,.2 2-.1 2,4.6 2,9.6 2.1,13.6 2,11.5 2-2.6 2-11.8 2.1-14.4 2-9.2 2-3.6 2-4.2 2-1.1 2.1-2.1 2,.3 2-1.2 2-.1 2,2 2.1-.3 2,.9 2,2.2 2,.9 2.1,2.5 2,.9 2,.5 2-.5 2,.4 2.1,1.7 2-.8 2,.3M683,177.7l2-.6 2-1.8 2.1,1.6 2,.1 2,0 2,.6 2-2.4 2.1,.2 2,.8 2,.6 2-1 2.1,0 2,1.1 2,0 2,.6 2-.7 2.1,.4 2-1.3 2,2.1 2,2.4 2,5.9 2.1,10.2 2,13 2,2.8 2-8 2.1-11.6 2-9.5 2-6.8 2-.8 2-1.3 2.1-1.2 2-.3 2,1 2-.2 2-.2 2.1-.8 2,.6 2,.7 2-.5 2.1,.4 2,.9 2,1.3 2,.4 2-.2 2.1,.7 2,.9 2-1.8" fill="none" stroke="#cc3030" stroke-width="0.6" opacity="0.45" stroke-linejoin="round"/>
<path d="M683,176 C700,176.5 712,176 720,175 C724,174 727,178 729,195 C730,208 731,218 731,218 C732,208 734,190 738,178 C742,171 750,169 760,170.5 C768,172 774,173 778,174 L778,177.5 C770,177 760,174 752,174.5 C745,176 740,186 736,203 C734,214 733,219.5 731,219.5 C729,219.5 728,210 726,195 C725,185 723,180 718,179 C705,179 693,179 683,179 Z" fill="#c0262a"/>
<polyline points="718,178 724,149 727,176" fill="none" stroke="#d04040" stroke-width="0.7" opacity="0.7"/>
<path d="M683,255.5l2,.7 2-.4 2.1,0 2,.7 2,.3 2,.2 2,.8 2.1,.2 2,.6 2,.5 2,.4 2.1,.2 2-.8 2-.1 2-.4 2-.7 2.1-.5 2-.7 2-.6 2-4 2-7.8 2.1,13.7 2,26.6 2,7.3 2-13.1 2.1-19.3 2-15.1 2-8.8 2-6.3 2-4.6 2.1-4.1 2-1 2,.1 2,2.9 2,4.8 2.1,5.3 2,5.6 2,5.2 2,4.1 2.1,3.1 2,2.2 2,1.4 2,.8 2,.5 2.1,.8 2-.5 2,.3M683,257.8l2-1.6 2-1.1 2.1,2 2-.6 2-.1 2,1.3 2,1.6 2.1-1.5 2,1.4 2,.9 2-3.2 2.1,.5 2,1.2 2-2.9 2,1.2 2,1.3 2.1-.6 2-.7 2-3.3 2-.8 2-10.4 2.1,14 2,29.6 2,6.7 2-18.4 2.1-16.3 2-5 2-14.4 2-14.6 2-7 2.1,9.8 2,15.2 2,9.8 2,2 2-1.2 2.1,3.6 2,.1 2,1 2-1.4 2.1-.5 2,1 2-2 2,.5 2,0 2.1,1.4 2,1.9 2-1.4M683,256.1l2-.4 2,0 2.1,.8 2,.4 2-.6 2-2 2,4.5 2.1,1.1 2-2.6 2,1.3 2,1.3 2.1-.6 2-1.2 2,.1 2,.4 2-.9 2.1-.3 2,1.1 2-4.1 2-8.4 2,1.7 2.1,25.5 2,17.8 2-3.5 2-12.9 2.1-13.9 2-7.5 2-1.7 2-3 2,.1 2.1-1.3 2,1.2 2-.4 2,1.4 2,.6 2.1,.4 2,2.6 2,.6 2,.3 2.1,2.3 2-1.2 2,.5 2,.2 2-.5 2.1,.5 2-.2 2-.4M683,254.8l2,2.8 2-.5 2.1-2.2 2,3.8 2-2.8 2-.6 2,1.3 2.1,1.5 2,1 2-.3 2-1.4 2.1-.1 2-1.1 2,1.3 2-.9 2,.5 2.1-1.8 2,.5 2-.6 2-2.7 2-6.4 2.1,8.5 2,25.2 2,14.4 2-8.2 2.1-18.3 2-10.8 2-6.4 2-1.9 2-3.8 2.1-1.4 2-1.1 2,1.2 2,1.7 2,1.5 2.1,1.7 2,2.9 2,1.3 2,1.5 2.1-.3 2,1.7 2-.9 2,.4 2,1.1 2.1,2.1 2-1.2 2-1M683,256.8l2-.3 2-1.2 2.1,1.4 2,.3 2-2.2 2-1.4 2,1.5 2.1-1.9 2-.7 2,.9 2-.1 2.1-2.6 2,1.5 2,2.4 2-.7 2-.1 2.1,2.9 2-.7 2-.5 2-3.4 2-.3 2.1,15.2 2,20.9 2,.1 2-20.7 2.1-15.4 2-7.2 2-7.9 2-4.1 2-8.5 2.1,1.8 2,2.5 2,4.5 2,7.4 2,8.7 2.1,1.3 2,3.6 2,.3 2,3.7 2.1-2.6 2,.8 2-.4 2,.5 2-.7 2.1,0 2,.2 2,1.8M683,256l2,.3 2,.1 2.1-.3 2-.3 2,.2 2,.2 2,.2 2.1,.9 2,.2 2,.5 2-.2 2.1,.1 2,.1 2-.3 2,.3 2-1.4 2.1,.2 2-.4 2-1 2-2.1 2-8.9 2.1,3.7 2,24.2 2,12.2 2-7.8 2.1-13 2-9.8 2-4.2 2-1 2-1.7 2.1-1.5 2-1.1 2,.8 2-.1 2,1.3 2.1,1 2,.9 2,1.4 2,2.4 2.1,1.2 2,.6 2,.3 2,.3 2,.7 2.1,1.2 2-.4 2-.3M683,256.7l2-.4 2,.5 2.1-2.4 2,1.6 2-.1 2-.2 2-2.1 2.1,4.4 2-1.5 2,2 2-1.2 2.1-.3 2,1 2,0 2-2.1 2,.9 2.1,0 2-.2 2-1.3 2-4.5 2-4.7 2.1,16.6 2,24.9 2,5.6 2-13.9 2.1-16.3 2-7.9 2-3.8 2-4.7 2-3 2.1-1.4 2,6 2,3.8 2,1.4 2,3.2 2.1-3.2 2,2.7 2-.3 2,.4 2.1-.4 2-.3 2-.3 2-.1 2,2 2.1-1.8 2,.1 2,.1M683,256l2-.4 2,.2 2.1-.7 2,1.4 2-.5 2-.4 2-.4 2.1-.9 2-.2 2,.4 2-1.1 2.1,.1 2,1.5 2,.3 2-.4 2,.5 2.1,.1 2,1 2-1.1 2-1.4 2-1.3 2.1,12.7 2,17.8 2,6 2-10.1 2.1-14.3 2-10.1 2-6.7 2-5.9 2-4.8 2.1,.9 2,5.1 2,6.2 2,4.2 2,.8 2.1,1.5 2-.6 2,1 2-1 2.1,0 2,.2 2,.4 2-.6 2,.7 2.1,0 2-.1 2,.2M683,255.2l2,1.2 2,0 2.1,0 2,.3 2,.4 2-1.6 2,2.8 2.1-.2 2,.7 2-.1 2,.8 2.1-.5 2,.5 2-1.2 2-.2 2,.1 2.1-1.5 2,1.1 2-2 2-2.5 2-8.4 2.1,6.8 2,25.4 2,14.4 2-5.9 2.1-15.3 2-12.2 2-3.7 2-1.9 2-1.1 2.1-1.2 2,.6 2,.1 2,1.4 2,.3 2.1,.9 2,2.1 2-.6 2,2 2.1-1.2 2-.3 2,.6 2,1.1 2-.1 2.1-1.5 2-1.6 2,2.9M683,254.9l2,1 2,.5 2.1-.1 2,.9 2-1.9 2,1.2 2-.4 2.1,.2 2,.4 2-.7 2,.6 2.1-.3 2,1.2 2-1.4 2,.5 2,2.6 2.1-2.4 2-.2 2-.6 2-7.8 2,4.7 2.1,20 2,13.4 2-2.1 2-12.4 2.1-10.3 2-9.1 2-5 2-6.1 2,1.9 2.1,3.4 2,3.6 2,4.7 2-.3 2,2.5 2.1-1.5 2-2.2 2,2.1 2,1.7 2.1-.8 2-1.2 2,1.6 2-.1 2,1 2.1-.6 2-.7 2-1.3M683,256.6l2-.3 2,0 2.1-.2 2-.1 2,.6 2,0 2,0 2.1-.5 2,1.1 2-1.5 2,.6 2.1-.1 2-.3 2,.1 2,.1 2,.4 2.1-1 2,1.2 2-2.1 2-6.4 2-2.5 2.1,19.6 2,18.9 2-1.4 2-15.5 2.1-10.2 2-3.4 2-2.2 2-1.5 2,.1 2.1-.6 2,.1 2,1.3 2,1.6 2,1.2 2.1,.4 2,1.9 2,.3 2-.6 2.1,.3 2,.5 2-.8 2,.6 2,.3 2.1-.6 2,.3 2-.9M683,256.7l2-.1 2,.5 2.1-1.4 2-.2 2,1.7 2,.3 2-2 2.1,.4 2,2.6 2,.5 2,.2 2.1,.6 2-1.8 2,3 2-2.3 2-.2 2.1-1.4 2-2.8 2,.3 2-10.2 2-2.5 2.1,24 2,24.7 2-5.6 2-20.1 2.1-13.5 2-7.4 2-5.2 2-4 2-2.3 2.1-3 2,3 2,2.4 2,5.9 2,5.9 2.1,4.2 2,1.1 2,3.2 2,.4 2.1,1.5 2-.3 2-.3 2-.9 2,.7 2.1-1.1 2,0 2-1M683,255.7l2,.5 2,.1 2.1-.2 2-.4 2,.7 2-.3 2-.2 2.1,1.2 2-.6 2,.7 2-.8 2.1,.1 2-.3 2,.4 2-.5 2-.3 2.1,.1 2-.1 2-.1 2-3.2 2-6.3 2.1,11.6 2,28.1 2,10.6 2-14.5 2.1-18.1 2-7.5 2-3.6 2-.6 2-1 2.1-.9 2-.7 2,.1 2,2.3 2,.3 2.1,1.8 2,0 2,.9 2,.4 2.1-.4 2,.8 2,.2 2,1 2-1.4 2.1,.3 2,.5 2-.4M683,255.8l2-.2 2,.3 2.1-.3 2,.4 2-.3 2-.1 2,.2 2.1-.9 2-.1 2,.6 2,.1 2.1-.4 2-.1 2,.7 2,0 2,.3 2.1-.8 2,.6 2-.6 2-3 2,3 2.1,19.5 2,15.9 2-2.3 2-15.9 2.1-18 2-12.5 2-7.8 2-6.4 2-5 2.1-2.2 2,.6 2,3.1 2,4.4 2,6 2.1,6 2,4.8 2,4.7 2,2.5 2.1,1.9 2-.1 2,.9 2,1.1 2-.9 2.1-.1 2,.7 2,.4M683,255.9l2,0 2,.1 2.1-.7 2,.7 2-1.1 2,.1 2-1.1 2.1,.7 2-1.1 2-.2 2-.5 2.1,.1 2,.1 2,.5 2,.7 2-.3 2.1,1.2 2,.2 2,.1 2-1.3 2-2.9 2.1,4.2 2,21.2 2,15.5 2-10.4 2.1-18.3 2-8.2 2-1.7 2-3.8 2-1.5 2.1-.7 2,1.4 2,2.4 2,2.9 2,1.3 2.1-.1 2,1 2-.1 2-.5 2.1,.1 2,.5 2-.6 2-.4 2,.3 2.1,.2 2-.3 2,1M683,256.4l2-.1 2,.2 2.1-.7 2-1 2,1.3 2-.8 2-.6 2.1-.8 2-.6 2-.4 2-.7 2.1,.8 2,0 2,0 2,1.1 2,.3 2.1,.6 2,.7 2,1 2-3.4 2-1.1 2.1,10.4 2,17.5 2,5.6 2-12.6 2.1-13.6 2-6.5 2-3.3 2-.6 2-2.4 2.1-.1 2,0 2-.5 2,1.4 2,1.4 2.1,2.5 2,.8 2,.4 2,2.3 2.1,.7 2-1 2-.1 2,2.6 2-1.1 2.1-1 2,1.5 2,.2M683,255.8l2,1.1 2-.7 2.1,0 2-.7 2,.2 2-1.3 2,1.7 2.1-.9 2-1 2,1.3 2-1.2 2.1,.8 2-.9 2,.8 2,.3 2,1.3 2.1-1.8 2,1.4 2-.2 2-1.6 2,2.5 2.1,17.4 2,19.5 2,4.4 2-13.1 2.1-18.4 2-9.8 2-5.4 2-2.9 2-.7 2.1-.7 2-.6 2,2.4 2,.5 2,2.9 2.1,1.9 2,.5 2,.2 2,.6 2.1-.7 2,.8 2,.8 2,.1 2-.6 2.1-.1 2,.2 2-.8M683,255.9l2,.2 2-.4 2.1,.7 2-1.5 2-.7 2,.2 2,.4 2.1-1.4 2-1.7 2,2.5 2-2.4 2.1,.5 2,.7 2,.4 2,.3 2-.2 2.1,1.8 2-.5 2,.7 2,0 2,.6 2.1,13 2,19.2 2,5.6 2-11.5 2.1-16.8 2-8.7 2-3.8 2-1.3 2-1.4 2.1-.7 2-.2 2,1.1 2,1.3 2,.7 2.1,1 2,2.1 2-.4 2-.1 2.1,1 2-1 2,.1 2,1.2 2-.5 2.1,.5 2-.1 2-.8M683,256.4l2-.3 2-.5 2.1,.4 2,.3 2-.2 2,.3 2,0 2.1-.3 2,.1 2,.3 2,.5 2.1-.5 2,0 2-.1 2-.2 2,.2 2.1-.1 2-.5 2-.3 2-1.8 2-7.6 2.1,1.8 2,22.4 2,17.1 2-8.1 2.1-16.8 2-7.6 2-1.9 2-1.4 2-1.3 2.1-.3 2-.5 2,.2 2,.4 2,.8 2.1,.9 2,.8 2,1.1 2,.7 2.1,.7 2,.4 2-.1 2,.2 2,.4 2.1,.1 2-.4 2,.3M683,256.8l2-1.4 2,.2 2.1-.3 2,1 2-1.7 2,1.3 2,.4 2.1-.4 2,.8 2-.3 2-.8 2.1-.4 2,0 2,1.1 2-.4 2,.2 2.1-.8 2,1.5 2-.4 2-2.7 2-3 2.1,19 2,19.5 2,3.1 2-9.6 2.1-15.7 2-10.3 2-4.7 2-1.7 2-1.7 2.1-.2 2,.8 2,1.4 2,2.8 2,1 2.1,.9 2,.9 2,1 2-1.7 2.1,1.2 2-1.2 2,1.1 2-.1 2-.5 2.1,.2 2-.8 2,.4M683,256.9l2-.2 2,1.7 2.1-1.2 2-2.6 2,.4 2-.3 2,.9 2.1-.8 2-1.7 2,.1 2,.7 2.1-.1 2-1 2-.4 2,.3 2,1.4 2.1,2.8 2-1.8 2,.5 2,1.4 2,3.6 2.1,15.7 2,14.4 2-2.4 2-17.6 2.1-17.2 2-11.7 2-9.2 2-8.1 2-5.9 2.1,.4 2,1.8 2,5.7 2,8 2,8.2 2.1,4.3 2,3.7 2,3.5 2,.8 2.1,.8 2,.4 2-1.5 2,1.7 2,0 2.1-.9 2,.4 2-.3M683,255.3l2,1.8 2-1.9 2.1-.2 2,2.2 2-3.3 2,1 2,.6 2.1-1 2-1.2 2-.9 2,1.1 2.1,0 2-.3 2-.4 2,0 2,1.9 2.1,.4 2,1.1 2-1 2-.6 2-4.6 2.1,9.5 2,22.4 2,6.1 2-12.7 2.1-14.2 2-7.7 2-1.3 2-2.1 2,.6 2.1-1.3 2,.2 2,.3 2,.9 2-1.2 2.1,2.7 2,.6 2,.1 2,1.5 2.1,1.2 2,.4 2,1.6 2-2 2,.5 2.1,1.7 2-2.4 2-.2M683,255l2,1 2-.5 2.1,2 2-2.3 2,1.8 2-.8 2-.9 2.1,1 2-.1 2,.3 2,1.9 2.1-1.6 2,.1 2,1.2 2-1.6 2,.6 2.1-.3 2-2.3 2,1.9 2-5.2 2-5.9 2.1,10.4 2,22.6 2,10.1 2-13.2 2.1-13.2 2-8.4 2-1.3 2-2.5 2,.8 2.1-.6 2,2.1 2-3.8 2,2.6 2,1.1 2.1,.4 2,1.6 2,.1 2,1.2 2.1,.1 2,.4 2-.7 2,1.2 2-.5 2.1-.7 2,2.1 2,.8M683,255.6l2,.5 2-.3 2.1-.3 2,.3 2-.3 2,.7 2-.9 2.1,.4 2-.5 2,0 2-.2 2.1,.5 2-.4 2,.2 2,.3 2,0 2.1,.3 2-.2 2-.3 2-1.2 2-5.7 2.1,4 2,24 2,18.2 2-9.7 2.1-20.6 2-10.8 2-4.5 2-3.1 2-2.5 2.1-1.7 2-.3 2,1.3 2,2 2,3.3 2.1,3 2,1.9 2,1.6 2,.7 2.1,.4 2,.2 2,.4 2-.2 2-.1 2.1-.3 2,.4 2-.3M683,256.1l2,.7 2-.7 2.1-.5 2-.3 2,.5 2-.6 2-.6 2.1,2.5 2-.5 2-1.8 2,1.2 2.1,.6 2-2.4 2,.8 2,2.1 2-.4 2.1,0 2,.5 2-.6 2-1 2-7 2.1,7.4 2,22.6 2,13.9 2-5.4 2.1-17.1 2-11.8 2-5.9 2-1.8 2-2.1 2.1-1.3 2,.5 2,1.4 2,.3 2,4.8 2.1-.8 2,1.7 2-1.1 2,3.8 2.1-1 2-.2 2-.1 2,1.1 2-2 2.1,.6 2,.5 2-1.3M683,256.2l2-.7 2,.1 2.1,.8 2-.2 2-1 2-.3 2,.6 2.1-.9 2-.2 2-.2 2,.2 2.1-1 2,1.4 2-.3 2,.9 2-.7 2.1,.4 2,.8 2,.4 2-1.7 2-2 2.1,11.7 2,20.1 2,7.8 2-8.3 2.1-13.8 2-10.7 2-5.6 2-1.7 2-1.7 2.1-.7 2,1 2,1.8 2,1.1 2,.9 2.1,1.7 2-1 2,.1 2,.1 2.1,.8 2,.3 2-.8 2,.9 2,.1 2.1-.1 2-1.2 2,1.2M683,255.8l2-.9 2,.9 2.1,.7 2-2.6 2,2.8 2-2 2,.6 2.1-1.7 2-.4 2-.6 2-.2 2.1,.6 2,.4 2,.7 2-1.3 2,1.7 2.1,1.5 2-1.8 2,.4 2,.7 2-5.7 2.1,5.8 2,22.8 2,14.4 2-9.9 2.1-22.1 2-15.7 2-7.6 2-3.7 2-4.2 2.1-3 2-1.8 2,1.3 2-2.4 2,.9 2.1,3.1 2,3.9 2,4.4 2,4 2.1,4.2 2,2.5 2,2.8 2,2.5 2,3.6 2.1,.7 2-1.3 2-1.6M683,255.9l2-.4 2,.7 2.1-.3 2,.2 2-1.2 2,.1 2-1 2.1,.4 2-1.2 2-.6 2,.3 2.1-.4 2,.4 2,.3 2,1 2,.3 2.1,.5 2,.3 2,.6 2-.9 2-3.3 2.1,7.1 2,21.7 2,15.8 2-10.5 2.1-19.9 2-9.7 2-4.2 2-2.3 2-1.2 2.1-1.2 2,1.1 2,1.8 2,1.8 2,1.9 2.1,1.5 2,.3 2,.2 2,.3 2.1-.5 2-.1 2,.3 2,.7 2-.4 2.1,.6 2-.4 2-.1M683,256.1l2,.2 2-.4 2.1,.1 2,.1 2-.1 2,.1 2,.6 2.1,.3 2,0 2,0 2,.4 2.1,0 2-.2 2-.1 2,.2 2-.9 2.1-.2 2,.3 2-.4 2-3.7 2-7.1 2.1,10.6 2,26.4 2,11.1 2-13.5 2.1-20.8 2-13.5 2-7.7 2-5.8 2-5.7 2.1-2.5 2-1.3 2,1.3 2,3.3 2,4.9 2.1,6.2 2,5.1 2,4.3 2,3.9 2.1,1.4 2,1.6 2,.4 2,.7 2,.4 2.1,.2 2-.4 2-.2M683,255.4l2,1.7 2-1.9 2.1,1.7 2-1.9 2,.2 2,2 2-1.8 2.1,.3 2-1 2,1.5 2,1 2.1-1.4 2,0 2,.2 2-.6 2-.4 2.1,1.1 2-.3 2-1.3 2-2.7 2,.5 2.1,14.1 2,23.9 2,6.7 2-11.2 2.1-16.3 2-14.1 2-6.4 2-9.9 2-6 2.1,3.5 2,9.7 2,4.4 2,5 2,1 2.1-1.7 2,.1 2,2.4 2-1.9 2.1,.5 2-.4 2-1.4 2,2.6 2,.5 2.1-1.9 2-.2 2,2M683,255l2,1.1 2-.2 2.1,.2 2,.9 2-.5 2,.4 2,.8 2.1,1.2 2,1.6 2-1.1 2,.9 2.1-.4 2-1 2-.5 2-1 2,.8 2.1-1.6 2-.3 2-.1 2-5.8 2-8.1 2.1,15.8 2,26.5 2,5.6 2-13 2.1-19.8 2-13.5 2-7.1 2-4.8 2-5.7 2.1-3.1 2,.1 2,.9 2,2.4 2,4.8 2.1,4.8 2,4.7 2,3.7 2,5.1 2.1,.8 2,2.8 2,.7 2,2.9 2,.2 2.1-.8 2-.4 2,.1M683,254.9l2,1.3 2-.1 2.1-.5 2,.6 2-1.1 2-.5 2-.4 2.1-1.4 2,.2 2-1.2 2,.4 2.1,.5 2-.3 2,.5 2,1.8 2-.2 2.1,1 2,.1 2,0 2-.4 2,3 2.1,17.1 2,18.4 2-1.2 2-18.6 2.1-18.5 2-10.5 2-5.8 2-4.3 2-3.3 2.1-2.1 2-1.1 2,.4 2,2.6 2,3.5 2.1,3 2,4.3 2,4 2,2.3 2.1,3.1 2,1.6 2,1.7 2-.2 2,.7 2.1,1.2 2,.4 2-.7M683,256l2,.2 2-.4 2.1,.2 2-.8 2,1.2 2,.2 2-.6 2.1,.5 2-.2 2,1.1 2-.9 2.1-.6 2,.9 2-.5 2,1.3 2-1.7 2.1,1.2 2-.5 2-1.5 2-1.4 2-8 2.1,1 2,25.5 2,20.7 2-10.9 2.1-20.7 2-10.2 2-3.5 2-1.9 2-2.2 2.1-1.2 2-1.7 2,.2 2-.5 2,2.7 2.1,.7 2,2.3 2,2.6 2,1.8 2.1,1.9 2,1 2,1.3 2,1.1 2-.2 2.1-.4 2,.1 2,.8M683,255.3l2,1.7 2-1.3 2.1,2.5 2-2.5 2,1 2,2.4 2-3.2 2.1,3.6 2-.2 2,.4 2,1.5 2.1-2.3 2,1.1 2-1.8 2,1.4 2-3.5 2.1,.8 2-.9 2-1.7 2-4.3 2-10.8 2.1,16.4 2,23.2 2,7.5 2-14.3 2.1-11.4 2-7 2-.5 2-2.1 2-2.1 2.1,1.6 2,2.2 2,1.4 2,1.7 2,.4 2.1,1.5 2-1.5 2-1 2,1.8 2.1-2.1 2-1.1 2,2 2-.6 2,1.5 2.1-.8 2-1.3 2,.6M683,255.4l2,.1 2,.4 2.1,.6 2-.8 2,2 2-1.1 2,.2 2.1,.3 2,.8 2,.6 2,.3 2.1,.3 2-.4 2-1.9 2-.1 2-.4 2.1-.3 2,.9 2-1.6 2-6.6 2-2.4 2.1,21.8 2,26.3 2,1.3 2-16.5 2.1-16.7 2-11.8 2-8.8 2-8.8 2-4 2.1,3.2 2,8.2 2,7.7 2,4.7 2,1.8 2.1,1.7 2,.2 2-.6 2-.8 2.1,.6 2,.4 2-.2 2-.3 2-.1 2.1-.3 2,.7 2,0M683,255.5l2,.3 2,.3 2.1,.8 2-1.8 2,.4 2,.5 2,.4 2.1,.2 2,.1 2,.6 2,.8 2.1-.5 2-.5 2,.7 2-.6 2-1 2.1,1.1 2-1.4 2-.7 2-2.9 2-7 2.1,14.1 2,28.5 2,8 2-13.5 2.1-18.9 2-14.8 2-12.5 2-10 2-7.4 2.1-1.8 2,6.8 2,9.3 2,11.1 2,6 2.1,3.3 2,1.1 2,1.8 2-.5 2.1-.2 2,.5 2-.3 2-.1 2,.4 2.1-.5 2,.9 2,.8M683,256.7l2-1.1 2,.4 2.1-.1 2,.4 2-.4 2,1.1 2,.6 2.1,.1 2,.7 2,1 2,.3 2.1,.3 2,0 2-1.1 2-.6 2-.9 2.1-.1 2-.8 2-.8 2-6.5 2-8.8 2.1,16.2 2,30.7 2,7.2 2-15.3 2.1-17.9 2-7.7 2-3.6 2-2 2-1.3 2.1-.6 2,1 2,.8 2,3.6 2,1.3 2.1,.8 2,1.1 2,.9 2-.1 2.1,1 2-.1 2-.5 2-.3 2,.4 2.1,.4 2,0 2-.6M683,255.1l2,1.1 2-.3 2.1,1 2-.5 2,.4 2-.8 2,.8 2.1,.7 2-.2 2,.8 2-.5 2.1,0 2,.2 2-1.2 2,1.9 2-2.5 2.1,1.3 2-.1 2-1.7 2-4 2,1.6 2.1,23.2 2,20.9 2-.3 2-14 2.1-16.7 2-10.1 2-4.5 2-2.4 2-1.5 2.1,.6 2,1.7 2,2.7 2,1.3 2,1.3 2.1,.6 2-.4 2,1.4 2-2 2.1,1.5 2-.6 2,.8 2-.9 2,.8 2.1-.9 2,0 2,.3M683,255.6l2,.6 2-.3 2.1-.1 2-1.1 2,.9 2,.1 2-1.5 2.1-.6 2-1 2,.9 2-1.2 2.1-.6 2,1 2,.9 2-.2 2,.6 2.1,.6 2,.4 2,.2 2,2 2-2.5 2.1,11.4 2,16.1 2,8 2-8.2 2.1-16.4 2-12.2 2-9.8 2-6.1 2-4.5 2.1-2.8 2,.3 2,3.1 2,4.8 2,5.1 2.1,5.3 2,3.7 2,2.1 2,1.2 2.1-.7 2,0 2,.8 2-.7 2,.7 2.1,.6 2-.8 2,.6M683,256.1l2-.7 2,.6 2.1,.7 2-1.7 2,.9 2,.5 2-1.8 2.1,0 2,.4 2-1.5 2,.2 2.1-.2 2,.5 2-.8 2,0 2,2.5 2.1-1.1 2,.2 2,1.6 2-1.8 2-1.8 2.1,6.2 2,20.4 2,12.5 2-4.6 2.1-14.9 2-14.4 2-8.6 2-8 2-8 2.1-.3 2,6.8 2,9 2,3.4 2,3.6 2.1,.5 2-.9 2-.5 2,.8 2.1-.1 2-.2 2,.5 2,1.8 2-1.1 2.1,.2 2-1 2,1M683,255.6l2,.8 2,0 2.1-3.2 2,2.9 2,.8 2-4.4 2,4.2 2.1-4.2 2,.1 2,.5 2-.4 2.1-.9 2,2.2 2,.1 2,.6 2,2.3 2.1-1.9 2,.2 2-.1 2-3 2-4.6 2.1,14.3 2,19.3 2,5.7 2-13.2 2.1-13.7 2-10 2-10.4 2-14.6 2-5.4 2.1,6 2,15.4 2,9.6 2,5.4 2,.7 2.1-1.7 2,1.5 2-.3 2,1.4 2.1-1.3 2-1.8 2,.5 2,1.5 2-1.3 2.1,1.4 2-1.1 2,1.4M683,256.4l2-.6 2-.6 2.1,0 2-.6 2,1.5 2,.6 2-2.4 2.1,1.6 2-1.3 2,.6 2-1.4 2.1,1.8 2,1 2-2.3 2,.5 2,1.6 2.1-1.6 2-.6 2-1.4 2,.7 2-3.8 2.1,0 2,23.6 2,17.1 2-7.7 2.1-22.6 2-13 2-4.8 2-4.4 2-3 2.1-.3 2-4.2 2,2.3 2-1.9 2,5 2.1,1.5 2,4.2 2,2.6 2,3.9 2.1,4.7 2-3.1 2,3.3 2,2.1 2,1.8 2.1-2.6 2,1.6 2,1M683,255.4l2,2.3 2-.6 2.1-1.5 2-.1 2,1.3 2-2.5 2,1.8 2.1-3 2,1.2 2-.9 2-1.5 2.1,1.3 2-.5 2,1.6 2,.7 2,0 2.1,.2 2,.2 2,.7 2-4.4 2-.9 2.1,10 2,20.3 2,6.6 2-14.1 2.1-13.9 2-6.9 2-4.2 2-4.9 2-2.6 2.1,2.2 2,5.6 2,3 2,2.4 2,.9 2.1,1.1 2,1 2-2.6 2,1.2 2.1,.1 2-.5 2,.7 2-.7 2,1.4 2.1,.1 2-.7 2-.9M683,258.9l2-5.5 2,2.5 2.1,.7 2-1.6 2,.7 2,.7 2-2.5 2.1,.9 2-2.3 2-2.1 2,2.7 2.1,.6 2,.3 2,.8 2-1.7 2,2.4 2.1-4 2,4.1 2-2.1 2-1 2-2.9 2.1,16.2 2,23.2 2,3.4 2-20.5 2.1-14.7 2-8.1 2-1.5 2-3.7 2-2.9 2.1-.1 2-1.9 2-.2 2-.8 2,3.8 2.1,2.9 2-.9 2,3 2,.4 2.1,4 2,2.3 2-.2 2,1.7 2,.7 2.1-.6 2,1.4 2-2.7M683,256.6l2,.4 2-.8 2.1-1.6 2,.3 2,.5 2,.9 2-.8 2.1-.5 2,.2 2,1.5 2-1 2.1-1.3 2-.4 2,.5 2-.7 2,1.2 2.1,0 2-.9 2,2.5 2-4.7 2-5.2 2.1,12.4 2,18.7 2,3.4 2-13.9 2.1-15.3 2-4.9 2-6.4 2-3 2-1.1 2.1-3 2,.1 2-.8 2,2.4 2,4.8 2.1,3.1 2,3.5 2,1.9 2,3.7 2.1,1 2,1.5 2-.1 2,1.1 2,.3 2.1,.5 2-.5 2,0" fill="none" stroke="#2a2ad8" stroke-width="0.6" opacity="0.45" stroke-linejoin="round"/>
<path d="M683,254.5 C700,255 712,254 720,250 C723,244 725,234 726.5,236 C728,250 730,278 731,296 C732.5,282 735,255 737.5,240 C739,228 741,224 744,227 C748,240 758,250 778,252 L778,257 C760,257 750,255 745,248 C741,264 735,285 731,298 C727,288 724,268 721,257 C712,258 700,258 683,258 Z" fill="#1a1ac8"/>
<rect x="670.3" y="276" width="49" height="4.5" fill="#000"/>
<text x="672" y="297.5" font-size="14.4" fill="#1a1a1a">600 μs</text>
<g stroke="#222" stroke-width="1" fill="none">
<path d="M875.6,25.3 V80.9 H1020.4"/>
<path d="M875.6,80.9 v-2.2 M893.7,80.9 v-2.2 M911.8,80.9 v-2.2 M929.9,80.9 v-2.2 M948.0,80.9 v-2.2 M966.1,80.9 v-2.2 M984.2,80.9 v-2.2 M1002.3,80.9 v-2.2 M1020.4,80.9 v-2.2 M875.6,25.3 h2.2 M875.6,35.5 h2.2 M875.6,45.7 h2.2 M875.6,55.9 h2.2 M875.6,66.1 h2.2 M875.6,76.3 h2.2"/>
</g>
<text x="870" y="40" font-size="12" fill="#1a1a1a" text-anchor="end">0.4</text>
<text x="870" y="60" font-size="12" fill="#1a1a1a" text-anchor="end">0</text>
<text x="870" y="82" font-size="12" fill="#1a1a1a" text-anchor="end">-0.4</text>
<text x="950" y="95.6" font-size="12" fill="#1a1a1a" text-anchor="middle">Normalized LFP</text>
<text x="826" y="53.8" font-size="12" fill="#1a1a1a" text-anchor="middle" transform="rotate(-90 826 53.8)">Normalized</text>
<text x="842.5" y="53.8" font-size="12" fill="#1a1a1a" text-anchor="middle" transform="rotate(-90 842.5 53.8)">LFP</text>
<path d="M875.6,58.9l.5,1.9 .5,2.4 .5,3.3 .5,.5 .7-4.2 .7-3.9 .6-3.8 .7-4.4 .3-1.9 .4,.5 .3-.4 .4-1.2 .7,1.3 .6-2.3 .7,1 .7,1 .7-4.5 .8-.5 .7-3.5 .8-3.7 .6,1.1 .6,6.2 .6,2.8 .7,1.1 .9-1.8 .9-2.4 .9-3.9 .9-1.1 .5-.2 .5,3.4 .5-.2 .6,3.1 .6-3.6 .6-2.4 .6-3.3 .6-.9 .5,2 .5,1.9 .5,3.5 .5,.8 .7-.7 .7-.3 .6-1.3 .7-.8 .3,2.7 .4,1.3 .4,1.4 .3,2.8 .7,4.6 .6,2.8 .7,2.2 .7,1.6 .7,1 .8-1.2 .8,0 .7,1.2 .5,1.5 .5,1.5 .5,4.8 .6,1.4 .6-1.7 .6,.4 .6-3 .6-.8 .5,3.7 .5,1.6 .5-1 .5,3.8 .7-2.3 .7,1.3 .6-2.9 .7-1.2 1-1.3 1-5.1 1-4.3 1.1-1.5 .5,2 .5,2.1 .5-.3 .5,2.3 .7-5.8 .6-3.4 .7-2.1 .6-6 .7,2.5 .6-.8 .6,2 .6,2.4 .4-3.7 .4-2.4 .4,.3 .4-3.3 .6,1.1 .6,3.7 .7,1.8 .6,2.5 .5-1.6 .5,1.4 .5-2.6 .5,.8 .5,2.3 .5-.1 .5,2.8 .5,2.1 .8-3.1 .8-1.8 .7,.5 .8-3.7 .8,2.8 .7,0 .8,3.9 .7,.4 1-3.1 .9-1.4 .9-.3 .9-3.4 .6,2.9 .6,.3 .6,5.5 .7,.5 .7-1.3 .8-.1 .7,1.6 .8-1.2 .8,1.4 .7,1.9 .8,1.3 .8,3.5 .7-2.4 .8,.7 .8-2.2 .7-.1 .5,2.4 .5,1.2 .6,2.3 .5,2.2 .7,3.5 .8,0 .8,2.1 .7,1.5 .8-.7 .7-4.5 .8-2.1 .8-.8 .7,2 .8,.2 .8-1.6 .7,1.4 .9-4.9 1-1.8 .9-3.1 .9-5.4 .5-.1 .5,3.7 .5,.8 .5-.4 .6,5 .7,3.9 .6,3.5 .6,6 .7-5.8 .8-.7 .8-6.7 .7-3.1 .7,3.3 .7,.9 .6,4.6 .7,1.4 .8-1.7 .9-3.2 .9-2.4 .8-.9 .7-1.5 .7-4.6 .6-1.7 .7-1.4 .9,3.8 .8,4.6 .9,2.7 .9,3.2 1-10.7 1-7.7 1-12.5 1-8.8 1,12 1.1,14.6 1,14.4 1,14 1-12 1-10.1 1.1-9.7 1-10 1,8.2 1,6.3 1,8.7 1.1,8.4 .7-1.9 .8-3 .7-4.5 .8-3.8 .8-4.7 .7-5.7 .8-7 .8-4 .9,2.1 .9,3.8 .9,7 .9,2.3" fill="none" stroke="#111" stroke-width="1.3" stroke-linejoin="round"/>
<g clip-path="url(#hmclip)"><g filter="url(#jet)"><rect x="855" y="95" width="185" height="210" fill="#737373"/><rect x="855" y="95" width="60" height="20" fill="#393939"/><polygon points="885.0,103.0 912.0,104.0 912.0,119.0 895.0,118.0" fill="#131313"/><rect x="922" y="95" width="63" height="35" fill="#b6b6b6"/><rect x="922" y="111" width="63" height="8" fill="#a3a3a3"/><polygon points="936.0,119.0 986.0,120.0 986.0,126.0 936.0,126.0" fill="#d9d9d9"/><polygon points="934.0,95.0 970.0,95.0 970.0,104.0 934.0,104.0" fill="#000000"/><rect x="985" y="95" width="25" height="30" fill="#393939"/><polygon points="1006.0,103.0 1016.0,101.0 1019.0,120.0 1009.0,119.0" fill="#0d0d0d"/><rect x="1022" y="95" width="18" height="20" fill="#c6c6c6"/><polygon points="855.0,117.0 905.0,119.0 918.0,126.0 921.0,138.0 912.0,145.0 855.0,144.0" fill="#bfbfbf"/><polygon points="855.0,121.0 880.0,119.0 905.0,122.0 915.0,127.0 917.0,135.0 910.0,140.0 880.0,141.0 855.0,138.0" fill="#ffffff"/><polygon points="855.0,141.0 912.0,138.0 918.0,146.0 895.0,158.0 855.0,172.0" fill="#404040"/><polygon points="855.0,146.0 880.0,143.0 912.0,142.0 913.0,147.0 895.0,153.0 855.0,166.0" fill="#000000"/><polygon points="920.0,127.0 960.0,132.0 1000.0,138.0 1026.0,140.0 1026.0,157.0 990.0,160.0 960.0,153.0 935.0,150.0 918.0,146.0" fill="#404040"/><polygon points="923.0,130.4 957.0,137.0 981.5,141.8 1022.0,145.0 1022.0,151.5 981.5,153.0 949.0,146.6 925.0,144.0" fill="#000000"/><polygon points="970.0,128.0 1000.0,121.0 1020.0,116.0 1026.0,125.0 1026.0,143.0 990.0,144.0 970.0,140.0" fill="#bfbfbf"/><polygon points="975.0,131.0 1000.0,126.0 1017.0,121.0 1022.0,137.0 1000.0,140.0 975.0,137.0" fill="#ffffff"/><ellipse cx="944" cy="154" rx="30" ry="10" fill="#bfbfbf" transform="rotate(0 944 154)"/><ellipse cx="940" cy="154" rx="22" ry="7.5" fill="#ffffff" transform="rotate(0 940 154)"/><ellipse cx="1026" cy="156" rx="8" ry="11" fill="#bfbfbf" transform="rotate(0 1026 156)"/><ellipse cx="1027" cy="155" rx="5" ry="6" fill="#ffffff" transform="rotate(0 1027 155)"/><polygon points="855.0,166.0 1000.0,162.0 1000.0,176.0 855.0,176.0" fill="#404040"/><polygon points="855.0,176.0 1040.0,176.0 1040.0,182.0 855.0,182.0" fill="#939393"/><polygon points="855.0,180.0 930.0,178.0 930.0,189.0 855.0,189.0" fill="#bfbfbf"/><polygon points="889.0,180.0 913.0,179.0 913.0,186.0 889.0,186.0" fill="#ececec"/><polygon points="855.0,187.0 1000.0,186.0 1000.0,193.0 855.0,193.0" fill="#393939"/><ellipse cx="870" cy="188.5" rx="7" ry="2.5" fill="#060606" transform="rotate(0 870 188.5)"/><ellipse cx="868" cy="190" rx="8" ry="3" fill="#060606" transform="rotate(0 868 190)"/><polygon points="855.0,192.0 932.0,191.0 932.0,199.0 855.0,199.0" fill="#bfbfbf"/><ellipse cx="918" cy="194" rx="10" ry="3.5" fill="#f9f9f9" transform="rotate(0 918 194)"/><rect x="1004" y="165" width="4" height="40" fill="#cccccc"/><rect x="1012" y="165" width="4" height="40" fill="#404040"/><rect x="1020" y="165" width="4" height="40" fill="#cccccc"/><rect x="1028" y="165" width="4" height="40" fill="#404040"/><ellipse cx="1012" cy="186" rx="3" ry="6" fill="#ffffff" transform="rotate(0 1012 186)"/><ellipse cx="1026" cy="193" rx="3" ry="6" fill="#f9f9f9" transform="rotate(0 1026 193)"/><polygon points="855.0,198.0 1006.0,197.0 1006.0,205.0 855.0,205.0" fill="#393939"/><polygon points="855.0,205.0 1000.0,205.0 1000.0,216.0 855.0,216.0" fill="#bfbfbf"/><polygon points="883.0,205.5 913.0,206.0 913.0,213.6 883.0,213.0" fill="#f9f9f9"/><ellipse cx="1012" cy="209" rx="12" ry="5" fill="#bfbfbf" transform="rotate(0 1012 209)"/><ellipse cx="1012" cy="209" rx="9" ry="3.5" fill="#ffffff" transform="rotate(0 1012 209)"/><polygon points="925.0,212.0 973.0,212.0 973.0,221.0 925.0,221.0" fill="#2d2d2d"/><polygon points="855.0,218.0 1040.0,218.0 1040.0,224.0 855.0,224.0" fill="#6c6c6c"/><polygon points="889.0,217.7 921.6,217.7 921.6,234.0 889.0,234.0" fill="#060606"/><polygon points="855.0,224.0 883.0,224.0 883.0,232.0 855.0,232.0" fill="#bfbfbf"/><ellipse cx="870" cy="228" rx="12" ry="2.5" fill="#f2f2f2" transform="rotate(0 870 228)"/><ellipse cx="952" cy="230" rx="32" ry="10" fill="#c6c6c6" transform="rotate(0 952 230)"/><ellipse cx="950" cy="230" rx="16" ry="6" fill="#f9f9f9" transform="rotate(0 950 230)"/><polygon points="1006.0,218.0 1024.0,218.0 1024.0,232.0 1006.0,232.0" fill="#060606"/><polygon points="855.0,235.0 1040.0,234.0 1040.0,242.0 855.0,242.0" fill="#bfbfbf"/><ellipse cx="883" cy="238.5" rx="18" ry="3" fill="#f2f2f2" transform="rotate(0 883 238.5)"/><ellipse cx="1000" cy="238" rx="10" ry="2.5" fill="#f2f2f2" transform="rotate(0 1000 238)"/><polygon points="855.0,242.0 1040.0,242.0 1040.0,247.0 855.0,247.0" fill="#333333"/><polygon points="884.0,242.0 921.6,242.0 910.0,258.0 884.0,258.0" fill="#060606"/><polygon points="921.6,242.0 976.7,243.0 976.7,246.0 921.6,246.0" fill="#060606"/><polygon points="999.0,240.0 1028.5,240.0 1028.5,258.0 999.0,256.0" fill="#060606"/><ellipse cx="946" cy="257" rx="28" ry="10" fill="#bfbfbf" transform="rotate(0 946 257)"/><ellipse cx="944" cy="257" rx="19" ry="5.5" fill="#ffffff" transform="rotate(0 944 257)"/><polygon points="855.0,264.0 1000.0,263.0 1000.0,271.0 855.0,271.0" fill="#393939"/><polygon points="855.0,271.0 916.0,271.0 916.0,305.0 855.0,305.0" fill="#afafaf"/><circle cx="868.3" cy="277.7" r="1.6" fill="#999999"/><circle cx="898.6" cy="283.9" r="1.6" fill="#dfdfdf"/><circle cx="907.1" cy="293.0" r="1.6" fill="#dfdfdf"/><circle cx="887.4" cy="279.9" r="1.6" fill="#d2d2d2"/><circle cx="894.8" cy="283.0" r="1.6" fill="#dfdfdf"/><circle cx="875.1" cy="294.4" r="1.6" fill="#dfdfdf"/><circle cx="902.5" cy="293.7" r="1.6" fill="#d2d2d2"/><circle cx="904.8" cy="291.4" r="1.6" fill="#999999"/><circle cx="891.7" cy="281.2" r="1.6" fill="#999999"/><circle cx="904.0" cy="295.2" r="1.6" fill="#dfdfdf"/><circle cx="901.4" cy="294.2" r="1.6" fill="#999999"/><circle cx="891.9" cy="277.7" r="1.6" fill="#d2d2d2"/><circle cx="883.6" cy="283.1" r="1.6" fill="#999999"/><circle cx="906.2" cy="278.8" r="1.6" fill="#dfdfdf"/><circle cx="903.9" cy="287.1" r="1.6" fill="#d2d2d2"/><circle cx="909.8" cy="284.5" r="1.6" fill="#999999"/><circle cx="874.0" cy="298.4" r="1.6" fill="#dfdfdf"/><circle cx="885.2" cy="292.5" r="1.6" fill="#dfdfdf"/><circle cx="890.7" cy="295.1" r="1.6" fill="#d2d2d2"/><circle cx="894.8" cy="288.2" r="1.6" fill="#dfdfdf"/><circle cx="898.5" cy="282.2" r="1.6" fill="#999999"/><circle cx="905.9" cy="298.7" r="1.6" fill="#999999"/><circle cx="881.6" cy="294.3" r="1.6" fill="#d2d2d2"/><circle cx="895.8" cy="277.9" r="1.6" fill="#999999"/><circle cx="901.1" cy="286.8" r="1.6" fill="#dfdfdf"/><circle cx="875.1" cy="288.7" r="1.6" fill="#999999"/><circle cx="871.5" cy="275.7" r="1.6" fill="#d2d2d2"/><circle cx="864.5" cy="298.0" r="1.6" fill="#999999"/><circle cx="872.1" cy="297.6" r="1.6" fill="#999999"/><circle cx="885.2" cy="297.4" r="1.6" fill="#999999"/><circle cx="879.3" cy="283.1" r="1.6" fill="#d2d2d2"/><circle cx="884.7" cy="290.7" r="1.6" fill="#d2d2d2"/><circle cx="876.5" cy="286.9" r="1.6" fill="#999999"/><circle cx="914.2" cy="278.7" r="1.6" fill="#999999"/><circle cx="878.6" cy="287.2" r="1.6" fill="#dfdfdf"/><circle cx="877.7" cy="296.4" r="1.6" fill="#d2d2d2"/><circle cx="866.7" cy="276.3" r="1.6" fill="#999999"/><circle cx="910.0" cy="284.1" r="1.6" fill="#d2d2d2"/><circle cx="905.3" cy="285.2" r="1.6" fill="#dfdfdf"/><circle cx="908.3" cy="290.0" r="1.6" fill="#dfdfdf"/><polygon points="916.0,271.0 1000.0,271.0 1000.0,305.0 916.0,305.0" fill="#696969"/><circle cx="997.5" cy="283.3" r="1.6" fill="#404040"/><circle cx="969.0" cy="288.4" r="1.6" fill="#404040"/><circle cx="970.9" cy="272.5" r="1.6" fill="#4c4c4c"/><circle cx="971.4" cy="282.4" r="1.6" fill="#4c4c4c"/><circle cx="929.5" cy="299.1" r="1.6" fill="#4c4c4c"/><circle cx="951.3" cy="281.1" r="1.6" fill="#a6a6a6"/><circle cx="955.4" cy="299.7" r="1.6" fill="#a6a6a6"/><circle cx="939.8" cy="273.4" r="1.6" fill="#404040"/><circle cx="924.7" cy="283.9" r="1.6" fill="#404040"/><circle cx="976.1" cy="280.1" r="1.6" fill="#404040"/><circle cx="982.1" cy="285.7" r="1.6" fill="#4c4c4c"/><circle cx="990.2" cy="299.5" r="1.6" fill="#4c4c4c"/><circle cx="944.6" cy="279.1" r="1.6" fill="#4c4c4c"/><circle cx="943.2" cy="280.2" r="1.6" fill="#4c4c4c"/><circle cx="955.2" cy="299.2" r="1.6" fill="#a6a6a6"/><circle cx="945.8" cy="280.4" r="1.6" fill="#4c4c4c"/><circle cx="932.1" cy="290.9" r="1.6" fill="#4c4c4c"/><circle cx="985.8" cy="276.8" r="1.6" fill="#4c4c4c"/><circle cx="924.2" cy="275.6" r="1.6" fill="#a6a6a6"/><circle cx="989.6" cy="292.1" r="1.6" fill="#a6a6a6"/><circle cx="993.8" cy="277.2" r="1.6" fill="#a6a6a6"/><circle cx="923.0" cy="283.9" r="1.6" fill="#a6a6a6"/><circle cx="985.8" cy="290.8" r="1.6" fill="#a6a6a6"/><circle cx="951.5" cy="273.9" r="1.6" fill="#4c4c4c"/><circle cx="999.7" cy="298.7" r="1.6" fill="#4c4c4c"/><circle cx="932.5" cy="298.5" r="1.6" fill="#a6a6a6"/><circle cx="996.6" cy="277.2" r="1.6" fill="#4c4c4c"/><circle cx="982.2" cy="286.3" r="1.6" fill="#404040"/><circle cx="922.1" cy="295.0" r="1.6" fill="#4c4c4c"/><circle cx="967.2" cy="291.7" r="1.6" fill="#a6a6a6"/><circle cx="943.0" cy="285.1" r="1.6" fill="#404040"/><circle cx="989.0" cy="272.7" r="1.6" fill="#4c4c4c"/><circle cx="946.8" cy="277.2" r="1.6" fill="#404040"/><circle cx="928.4" cy="288.3" r="1.6" fill="#404040"/><circle cx="987.3" cy="275.3" r="1.6" fill="#404040"/><circle cx="954.5" cy="284.8" r="1.6" fill="#a6a6a6"/><circle cx="921.8" cy="293.2" r="1.6" fill="#404040"/><circle cx="989.7" cy="295.7" r="1.6" fill="#a6a6a6"/><circle cx="955.5" cy="284.7" r="1.6" fill="#404040"/><circle cx="925.1" cy="272.8" r="1.6" fill="#4c4c4c"/><rect x="1002" y="265" width="5" height="40" fill="#cccccc"/><rect x="1010" y="265" width="5" height="40" fill="#737373"/><rect x="1018" y="265" width="5" height="40" fill="#cccccc"/><rect x="1026" y="265" width="5" height="40" fill="#737373"/><ellipse cx="1004" cy="285" rx="2.5" ry="8" fill="#f2f2f2" transform="rotate(0 1004 285)"/></g><rect x="862.9" y="101.3" width="167.4" height="197.3" fill="url(#hmtex)" opacity="0.22"/></g>
<rect x="1040.4" y="100.7" width="8.6" height="198.7" fill="url(#cbar)"/>
<text x="1053.4" y="107" font-size="12" fill="#1a1a1a" text-anchor="start">2</text>
<text x="1053.4" y="203.6" font-size="12" fill="#1a1a1a" text-anchor="start">0</text>
<text x="1052" y="301" font-size="12" fill="#1a1a1a" text-anchor="start">-2</text>
<text x="1071" y="199" font-size="12" fill="#1a1a1a" text-anchor="middle" transform="rotate(90 1071 199)">Normalized LFP</text>
<text x="856" y="119.5" font-size="12" fill="#1a1a1a" text-anchor="end">1200</text>
<text x="856" y="140.5" font-size="12" fill="#1a1a1a" text-anchor="end">1400</text>
<text x="856" y="161.5" font-size="12" fill="#1a1a1a" text-anchor="end">1600</text>
<text x="856" y="182.5" font-size="12" fill="#1a1a1a" text-anchor="end">1800</text>
<text x="856" y="203.5" font-size="12" fill="#1a1a1a" text-anchor="end">2000</text>
<text x="856" y="224.5" font-size="12" fill="#1a1a1a" text-anchor="end">2200</text>
<text x="856" y="245.5" font-size="12" fill="#1a1a1a" text-anchor="end">2400</text>
<text x="856" y="266.5" font-size="12" fill="#1a1a1a" text-anchor="end">2600</text>
<text x="856" y="287.5" font-size="12" fill="#1a1a1a" text-anchor="end">2800</text>
<text x="819.5" y="199" font-size="12" fill="#1a1a1a" text-anchor="middle" transform="rotate(-90 819.5 199)">Channel depth (μm)</text>
<text x="864" y="313" font-size="12" fill="#1a1a1a" text-anchor="middle">3.2</text>
<text x="1029" y="313" font-size="12" fill="#1a1a1a" text-anchor="middle">3.6</text>
<text x="951" y="320.5" font-size="12" fill="#1a1a1a" text-anchor="middle">Time (s)</text>
<g clip-path="url(#dclip)">
<rect x="41" y="368.5" width="223" height="176" fill="#fff"/>
<polygon points="41,383 89,395 103,399 124,421 128,430 41,430" fill="url(#furG)"/>
<path d="M43,398 C70,402 95,404 120,410 M43,406 C70,409 95,411 118,416 M43,414 C70,416 95,418 115,421 M43,421 C70,423 95,424 120,425" stroke="#6a6a6a" stroke-width="0.7" fill="none" opacity="0.5"/>
<polygon points="89,391 97,389 105.6,393 104,401 90,400" fill="#b03a3a"/>
<path d="M127,430 L200,440 C215,445 235,458 250,470 C258,476 262,480 264,482 L264,545 L127,545 Z" fill="#1a1a1a"/>
<path d="M206.4,511.9l5.1,2.5M217.3,535.2l4.4,2.6M217.3,510.5l9.6,2.0M200.8,495.1l6.6,4.1M170.4,482.8l4.2,0.8M211.4,521.2l9.0,1.3M254.3,505.0l4.4,1.6M137.5,543.2l5.3,0.1M250.2,522.5l5.9,-0.6M162.5,479.5l7.0,-1.4M170.8,490.5l4.7,-0.2M134.4,533.5l6.8,2.9M146.6,468.4l5.9,-0.6M137.7,479.8l5.2,-0.2M217.6,496.2l6.1,1.1M202.2,525.7l4.4,0.2M194.5,489.1l4.3,1.9M202.7,494.9l9.3,0.5M224.1,469.7l7.5,1.5M134.5,462.9l8.0,2.3M192.0,493.0l5.4,1.1M247.4,541.6l4.1,0.8M183.2,527.3l4.6,0.3M154.8,519.1l5.5,1.7M213.6,523.5l7.6,4.9M188.2,527.9l7.9,4.7M230.6,507.8l8.9,1.9M213.8,519.9l4.6,-0.1M166.2,507.5l5.0,1.3M155.3,540.5l9.5,-1.4M233.5,506.6l6.7,4.5M130.9,539.5l9.4,1.2M239.1,467.4l4.1,-0.7M234.6,526.2l4.7,-0.1M179.1,526.9l8.5,3.5M259.7,522.9l3.7,1.9M130.9,532.6l5.7,1.7M147.2,484.9l7.0,0.5M190.3,473.2l5.2,-0.7M147.2,464.0l4.7,0.6M237.2,504.0l7.7,1.3M161.5,457.1l6.0,-0.8M178.4,477.7l9.0,0.4M131.2,495.4l5.7,0.6M227.1,475.2l4.9,-0.8M261.1,486.1l9.8,-1.0M216.4,541.1l8.8,0.6M135.5,476.4l6.4,3.0M235.8,489.7l3.9,2.1M213.5,472.0l9.3,-0.4M187.6,528.1l8.4,0.2M251.6,511.4l8.0,-0.1M257.4,527.1l6.3,1.0M143.2,524.2l5.3,-0.4M134.4,469.8l6.8,0.7M153.5,493.2l4.2,1.8M148.1,502.0l8.2,4.7M206.3,463.2l8.7,4.8M250.5,502.8l7.5,0.8M235.9,544.5l6.9,1.4M171.6,503.6l5.5,1.3M191.4,537.4l5.5,-0.1M170.8,532.3l9.0,0.4M254.5,533.8l4.7,2.2M190.4,529.1l7.6,-0.0M246.7,539.0l4.7,0.4M134.2,483.5l5.5,1.3M240.4,513.5l8.6,2.6M174.0,513.5l5.7,0.5M145.4,526.0l3.6,2.1M226.0,460.6l5.8,0.8M251.0,494.0l6.0,1.3M164.1,476.9l4.0,-0.6M203.7,521.5l5.2,1.8M187.8,485.0l9.8,-0.6M225.8,466.8l8.8,-0.5M179.9,482.1l5.9,0.2M208.9,483.0l4.2,1.2M201.7,507.5l9.2,0.5M254.4,514.1l5.0,0.6M213.8,481.0l7.2,-0.5M156.8,512.5l3.7,1.6M214.8,472.2l8.3,0.6M259.4,483.3l5.6,2.4M219.1,462.5l8.2,2.1M252.4,523.9l6.2,1.5M214.4,513.4l7.9,2.4" stroke="#3a3a3a" stroke-width="0.8" fill="none" opacity="0.7"/>
<path d="M129,480 C138,485 140,510 138,529 L129,532 Z" fill="#a03030"/>
<path d="M127,428 L188,434 C202,438 208,452 207,468 C206,484 196,494 178,494 C160,494 140,490 127,484 Z" fill="url(#skullG)"/>
<path d="M131,445 C150,430 190,432 205,450" stroke="#b0b0b0" stroke-width="0.8" fill="none"/>
<path d="M121,371 C150,368 180,374 192,379 L193,406 L200,428 C185,428 150,425 129,423 L122,395 Z" fill="url(#glassG)" opacity="0.92"/>
<path d="M121,371 C150,368 180,374 192,379 M122,395 C150,398 180,404 193,406 M129,423 C150,425 185,428 200,428" stroke="#8a8a8a" stroke-width="1.5" fill="none"/>
<path d="M130,420 L146,408 L160,405 L158,412 L170,412 L174,420 L171,434 L168,445" stroke="#f09860" stroke-width="2.6" fill="none" opacity="0.7" stroke-linejoin="round"/>
<path d="M134,419 L150,410 L164,414 L172,426 L168,440" stroke="#f8b080" stroke-width="1.4" fill="none" opacity="0.6"/>
<path d="M122,398 L150,412 M123,402 L148,416 M124,406 L146,420 M125,410 L144,424" stroke="#9a9a9a" stroke-width="0.6" fill="none" opacity="0.8"/>
<polygon points="97.3,420.7 103.2,393 124.4,393.4 125.6,421.6" fill="url(#padP)"/>
<polygon points="191.4,378.8 213.8,381.6 218.5,409.9 192.6,405.9" fill="url(#padP)"/>
<line x1="192.6" y1="406" x2="218.5" y2="410" stroke="#7a4a2a" stroke-width="1"/>
<ellipse cx="205" cy="502" rx="15.5" ry="13" fill="#0c0c0c"/>
<ellipse cx="205" cy="501" rx="12" ry="10.5" fill="url(#eyeG)"/>
<ellipse cx="210" cy="499" rx="5" ry="7" fill="#000"/>
<rect x="261" y="480" width="3" height="20" fill="#c07030"/>
</g>
<rect x="40.5" y="429.5" width="88" height="115" fill="#fff"/>
<g clip-path="url(#inclip)">
<rect x="42" y="430.5" width="84.7" height="112.5" fill="#040a1a"/>
<g fill="#17368c" opacity="0.3"><circle cx="54.5" cy="508.7" r="3.1"/><circle cx="82.2" cy="453.3" r="3.5"/><circle cx="111.1" cy="488.0" r="2.8"/><circle cx="60.8" cy="428.4" r="2.4"/><circle cx="91.5" cy="436.1" r="3.5"/><circle cx="60.4" cy="455.2" r="1.6"/><circle cx="127.8" cy="514.4" r="3.7"/><circle cx="94.2" cy="432.0" r="2.3"/><circle cx="83.8" cy="441.5" r="3.9"/><circle cx="72.4" cy="446.1" r="3.5"/><circle cx="51.0" cy="536.6" r="2.6"/><circle cx="88.6" cy="468.1" r="2.7"/><circle cx="56.4" cy="432.3" r="3.7"/><circle cx="60.7" cy="519.3" r="2.0"/><circle cx="125.3" cy="532.6" r="3.4"/><circle cx="107.1" cy="495.9" r="3.3"/><circle cx="50.8" cy="483.7" r="3.6"/><circle cx="57.7" cy="536.0" r="3.7"/><circle cx="76.0" cy="470.7" r="2.6"/><circle cx="73.9" cy="544.4" r="2.5"/><circle cx="42.4" cy="438.9" r="3.3"/><circle cx="127.4" cy="486.0" r="2.7"/><circle cx="88.4" cy="515.5" r="2.1"/><circle cx="93.6" cy="493.1" r="3.1"/><circle cx="55.9" cy="447.9" r="2.4"/><circle cx="121.6" cy="468.6" r="3.0"/><circle cx="67.0" cy="440.1" r="1.7"/><circle cx="111.6" cy="518.9" r="2.4"/><circle cx="100.1" cy="507.1" r="3.7"/><circle cx="124.3" cy="475.6" r="4.0"/><circle cx="124.6" cy="497.1" r="3.7"/><circle cx="83.2" cy="471.9" r="2.1"/><circle cx="117.1" cy="447.0" r="1.7"/><circle cx="110.9" cy="518.5" r="2.7"/><circle cx="113.7" cy="434.1" r="2.1"/><circle cx="65.5" cy="477.1" r="1.9"/><circle cx="46.1" cy="467.6" r="3.7"/><circle cx="126.5" cy="515.3" r="2.7"/><circle cx="62.2" cy="540.2" r="2.8"/><circle cx="104.1" cy="431.3" r="2.0"/><circle cx="113.8" cy="521.0" r="3.7"/><circle cx="92.9" cy="477.9" r="3.0"/><circle cx="114.7" cy="464.0" r="2.8"/><circle cx="64.3" cy="517.9" r="1.5"/><circle cx="100.3" cy="539.6" r="1.6"/><circle cx="92.2" cy="503.3" r="3.6"/><circle cx="91.4" cy="458.1" r="2.5"/><circle cx="124.4" cy="534.0" r="1.8"/><circle cx="48.3" cy="439.0" r="1.6"/><circle cx="79.3" cy="444.5" r="3.7"/><circle cx="97.7" cy="442.8" r="2.8"/><circle cx="68.5" cy="485.8" r="2.0"/><circle cx="54.6" cy="449.5" r="2.4"/><circle cx="102.5" cy="492.4" r="1.6"/><circle cx="102.6" cy="530.2" r="3.4"/><circle cx="109.6" cy="428.9" r="2.7"/><circle cx="45.6" cy="517.4" r="1.9"/><circle cx="102.6" cy="457.6" r="3.2"/><circle cx="67.6" cy="432.9" r="2.5"/><circle cx="67.2" cy="533.4" r="2.2"/><circle cx="84.3" cy="492.3" r="3.9"/><circle cx="48.7" cy="498.3" r="2.8"/><circle cx="104.6" cy="541.2" r="2.3"/><circle cx="101.6" cy="489.5" r="2.9"/><circle cx="45.6" cy="523.3" r="3.9"/><circle cx="71.3" cy="465.2" r="4.0"/><circle cx="49.5" cy="436.9" r="1.7"/><circle cx="111.7" cy="516.9" r="2.6"/><circle cx="94.7" cy="430.3" r="3.1"/><circle cx="79.0" cy="488.5" r="2.5"/><circle cx="75.3" cy="454.4" r="1.6"/><circle cx="78.2" cy="456.9" r="3.3"/><circle cx="111.9" cy="512.7" r="2.6"/><circle cx="60.8" cy="473.1" r="2.7"/><circle cx="95.6" cy="540.7" r="1.7"/><circle cx="82.2" cy="485.6" r="3.3"/><circle cx="118.4" cy="519.2" r="3.1"/><circle cx="106.8" cy="506.2" r="3.6"/><circle cx="101.5" cy="507.9" r="2.1"/><circle cx="120.7" cy="473.2" r="3.0"/><circle cx="112.6" cy="540.8" r="4.0"/><circle cx="40.6" cy="464.6" r="2.3"/><circle cx="74.4" cy="445.0" r="2.9"/><circle cx="47.0" cy="463.4" r="3.9"/><circle cx="105.3" cy="482.1" r="1.8"/><circle cx="124.1" cy="510.4" r="2.0"/><circle cx="69.5" cy="503.1" r="3.2"/><circle cx="63.0" cy="539.3" r="2.3"/><circle cx="62.4" cy="526.9" r="1.9"/><circle cx="99.9" cy="451.4" r="3.0"/><circle cx="64.4" cy="472.3" r="3.9"/><circle cx="81.1" cy="479.1" r="3.0"/><circle cx="64.7" cy="448.4" r="2.5"/><circle cx="64.0" cy="450.0" r="3.9"/><circle cx="43.0" cy="522.8" r="3.8"/><circle cx="102.0" cy="430.2" r="2.8"/><circle cx="43.5" cy="499.1" r="3.3"/><circle cx="61.1" cy="428.9" r="2.9"/><circle cx="48.3" cy="464.1" r="2.6"/><circle cx="118.7" cy="471.3" r="1.8"/><circle cx="109.7" cy="524.2" r="2.8"/><circle cx="44.3" cy="449.9" r="2.5"/><circle cx="88.6" cy="454.3" r="3.5"/><circle cx="114.2" cy="536.2" r="3.7"/><circle cx="41.5" cy="496.1" r="1.7"/><circle cx="119.2" cy="515.4" r="3.4"/><circle cx="56.6" cy="435.0" r="3.5"/><circle cx="93.4" cy="500.6" r="2.7"/><circle cx="110.4" cy="467.5" r="2.2"/><circle cx="71.1" cy="462.9" r="3.1"/><circle cx="118.3" cy="436.3" r="1.7"/><circle cx="85.0" cy="507.3" r="2.0"/><circle cx="63.7" cy="434.9" r="1.6"/><circle cx="83.6" cy="507.6" r="3.1"/><circle cx="53.9" cy="440.2" r="3.8"/><circle cx="87.4" cy="475.8" r="3.2"/><circle cx="104.0" cy="489.4" r="1.7"/><circle cx="112.8" cy="453.0" r="1.6"/><circle cx="71.0" cy="490.3" r="3.1"/><circle cx="55.3" cy="511.0" r="2.7"/><circle cx="54.3" cy="527.6" r="3.5"/><circle cx="119.8" cy="507.5" r="2.0"/><circle cx="108.4" cy="533.6" r="2.8"/><circle cx="119.9" cy="541.5" r="2.5"/><circle cx="122.9" cy="537.6" r="3.5"/><circle cx="41.0" cy="469.2" r="3.0"/><circle cx="93.4" cy="516.4" r="3.1"/><circle cx="54.2" cy="536.9" r="2.8"/><circle cx="117.6" cy="452.2" r="4.0"/><circle cx="88.8" cy="518.7" r="3.3"/><circle cx="117.7" cy="470.4" r="1.7"/><circle cx="75.7" cy="448.9" r="2.8"/><circle cx="111.7" cy="470.4" r="1.8"/><circle cx="42.4" cy="477.5" r="3.0"/><circle cx="42.3" cy="505.9" r="2.0"/><circle cx="49.4" cy="536.5" r="2.8"/><circle cx="118.8" cy="488.1" r="1.8"/><circle cx="61.1" cy="477.6" r="3.1"/><circle cx="107.8" cy="515.9" r="3.1"/><circle cx="62.3" cy="478.3" r="2.4"/><circle cx="83.1" cy="459.1" r="2.8"/><circle cx="80.4" cy="432.2" r="3.6"/><circle cx="91.6" cy="521.9" r="3.3"/><circle cx="104.3" cy="544.2" r="2.4"/><circle cx="74.6" cy="428.4" r="3.2"/><circle cx="91.2" cy="495.4" r="4.0"/><circle cx="57.3" cy="454.6" r="3.3"/><circle cx="111.5" cy="484.5" r="1.6"/><circle cx="72.6" cy="524.7" r="2.7"/><circle cx="80.6" cy="473.6" r="3.1"/><circle cx="92.7" cy="509.1" r="3.7"/><circle cx="106.1" cy="471.9" r="2.1"/><circle cx="108.8" cy="520.8" r="3.8"/><circle cx="57.5" cy="527.2" r="3.7"/><circle cx="46.8" cy="464.0" r="3.1"/><circle cx="52.9" cy="525.2" r="2.2"/><circle cx="100.0" cy="462.6" r="2.0"/><circle cx="58.2" cy="486.2" r="3.3"/><circle cx="59.2" cy="508.3" r="2.3"/><circle cx="97.1" cy="471.1" r="2.0"/><circle cx="52.4" cy="434.8" r="3.2"/><circle cx="76.4" cy="442.4" r="3.7"/><circle cx="97.6" cy="430.5" r="3.3"/><circle cx="92.3" cy="479.9" r="2.8"/><circle cx="124.7" cy="471.7" r="3.1"/><circle cx="95.9" cy="470.8" r="2.4"/><circle cx="106.4" cy="502.4" r="2.6"/><circle cx="85.2" cy="454.1" r="3.5"/><circle cx="41.7" cy="503.3" r="2.6"/><circle cx="59.5" cy="496.7" r="3.0"/><circle cx="47.6" cy="485.3" r="1.9"/><circle cx="110.3" cy="466.3" r="2.3"/><circle cx="59.0" cy="433.6" r="2.0"/><circle cx="53.3" cy="501.0" r="3.6"/><circle cx="59.4" cy="441.1" r="2.8"/><circle cx="50.2" cy="475.4" r="3.4"/><circle cx="57.9" cy="509.9" r="2.8"/><circle cx="47.5" cy="456.4" r="3.0"/><circle cx="48.5" cy="451.8" r="2.9"/><circle cx="112.0" cy="488.9" r="3.2"/><circle cx="40.8" cy="463.4" r="2.3"/><circle cx="120.4" cy="469.8" r="3.5"/><circle cx="43.0" cy="486.3" r="3.7"/><circle cx="107.9" cy="495.8" r="2.0"/><circle cx="121.5" cy="437.3" r="3.9"/><circle cx="108.3" cy="512.2" r="2.8"/><circle cx="54.4" cy="467.9" r="3.2"/><circle cx="97.7" cy="473.5" r="3.5"/><circle cx="44.7" cy="461.6" r="1.7"/><circle cx="68.6" cy="520.8" r="3.4"/><circle cx="53.1" cy="464.1" r="1.8"/><circle cx="98.2" cy="479.8" r="2.1"/><circle cx="72.9" cy="529.2" r="2.6"/><circle cx="100.8" cy="501.4" r="2.7"/><circle cx="89.0" cy="470.6" r="2.0"/><circle cx="83.5" cy="463.6" r="2.3"/><circle cx="56.4" cy="534.9" r="2.6"/><circle cx="57.6" cy="431.7" r="2.0"/><circle cx="116.4" cy="467.4" r="3.2"/><circle cx="60.3" cy="504.1" r="2.6"/><circle cx="104.8" cy="489.8" r="2.4"/><circle cx="64.6" cy="497.5" r="3.6"/><circle cx="100.9" cy="484.2" r="2.3"/><circle cx="118.4" cy="527.0" r="1.9"/><circle cx="99.8" cy="518.3" r="3.2"/><circle cx="124.9" cy="530.8" r="2.1"/><circle cx="127.7" cy="466.3" r="2.4"/><circle cx="125.9" cy="447.6" r="2.5"/><circle cx="95.1" cy="459.9" r="2.2"/><circle cx="109.9" cy="499.7" r="3.4"/><circle cx="109.5" cy="530.0" r="3.7"/><circle cx="112.5" cy="542.5" r="2.7"/><circle cx="101.7" cy="488.1" r="3.9"/><circle cx="97.6" cy="478.4" r="3.2"/><circle cx="65.9" cy="443.1" r="2.5"/><circle cx="52.0" cy="428.5" r="1.7"/><circle cx="80.0" cy="517.3" r="1.6"/><circle cx="96.0" cy="441.0" r="2.8"/><circle cx="66.0" cy="480.2" r="3.3"/><circle cx="76.4" cy="473.8" r="3.3"/><circle cx="50.2" cy="468.8" r="3.3"/><circle cx="113.5" cy="542.6" r="2.1"/><circle cx="95.0" cy="464.6" r="3.3"/><circle cx="114.5" cy="443.8" r="2.4"/><circle cx="122.4" cy="469.2" r="3.1"/><circle cx="112.0" cy="460.6" r="3.5"/><circle cx="40.3" cy="467.8" r="1.9"/><circle cx="70.4" cy="452.9" r="1.6"/><circle cx="110.7" cy="448.3" r="2.9"/><circle cx="88.8" cy="527.4" r="3.6"/><circle cx="94.7" cy="447.8" r="3.4"/><circle cx="48.6" cy="536.6" r="2.3"/><circle cx="62.2" cy="453.3" r="2.5"/><circle cx="109.7" cy="528.0" r="3.4"/><circle cx="104.2" cy="456.6" r="2.3"/><circle cx="66.8" cy="478.7" r="3.7"/><circle cx="127.6" cy="437.8" r="3.9"/><circle cx="120.8" cy="481.9" r="3.2"/><circle cx="109.0" cy="449.9" r="3.0"/><circle cx="126.4" cy="531.0" r="3.8"/><circle cx="47.5" cy="511.6" r="2.7"/><circle cx="120.0" cy="447.5" r="2.9"/><circle cx="50.6" cy="522.1" r="3.3"/><circle cx="42.7" cy="464.2" r="1.9"/><circle cx="95.9" cy="501.7" r="1.7"/><circle cx="123.7" cy="540.9" r="2.6"/><circle cx="90.5" cy="470.5" r="3.0"/><circle cx="75.1" cy="479.6" r="3.4"/><circle cx="56.4" cy="462.9" r="3.4"/><circle cx="59.8" cy="436.1" r="3.8"/><circle cx="54.0" cy="476.1" r="2.3"/><circle cx="63.0" cy="469.2" r="2.8"/><circle cx="50.2" cy="490.4" r="1.6"/><circle cx="46.9" cy="451.7" r="2.1"/><circle cx="70.1" cy="462.1" r="3.6"/><circle cx="97.9" cy="483.4" r="3.4"/><circle cx="100.4" cy="464.9" r="3.0"/><circle cx="105.6" cy="490.5" r="3.4"/><circle cx="95.7" cy="536.6" r="2.2"/><circle cx="99.1" cy="542.3" r="2.8"/></g>
<path d="M119.7,439.1 l-0.8,-4.8 M106.0,477.5 l-4.6,-1.0 M62.6,529.3 l-4.6,-5.8 M50.2,462.3 l4.3,-0.9 M87.3,509.5 l-6.9,-0.5 M125.4,519.4 l0.5,6.0 M76.9,508.0 l-2.2,-4.3 M100.9,478.5 l5.0,0.5 M73.2,451.0 l-4.8,-8.7 M122.0,501.7 l4.0,-5.0 M91.6,532.6 l5.2,2.0 M72.9,467.9 l-3.1,1.5 M99.8,539.9 l0.4,4.3 M69.5,521.2 l1.2,8.3 M55.2,497.6 l-1.4,-7.6 M47.4,539.9 l3.7,-5.2 M115.6,498.3 l2.8,5.0 M112.2,482.3 l4.0,1.1 M56.4,496.6 l-3.8,-4.8 M75.5,540.6 l-4.2,6.4 M58.0,488.1 l1.6,3.4 M69.6,441.5 l-5.6,5.1 M88.3,521.1 l-3.6,0.5 M104.0,475.0 l0.1,-9.8 M86.1,457.3 l-4.1,5.1 M68.1,439.9 l-6.1,4.5 M111.8,517.1 l6.4,-5.7 M76.2,503.4 l8.1,2.9 M102.3,459.0 l-4.8,0.8 M110.0,477.9 l1.8,-9.3 M108.4,472.5 l-5.3,8.0 M119.6,450.2 l-5.5,6.5 M106.6,461.1 l-9.2,3.2 M47.9,460.1 l-4.8,-8.0 M123.3,482.9 l2.5,-9.5 M69.0,454.6 l-0.5,8.5 M52.3,492.0 l4.0,-1.9 M95.3,490.0 l6.4,-1.4 M83.2,533.7 l0.1,-4.0 M110.7,474.7 l9.6,-1.9 M83.4,476.7 l0.7,4.9 M58.1,447.7 l-0.4,-3.3 M92.7,497.9 l-0.6,-6.9 M121.6,460.9 l5.9,3.9 M63.7,543.6 l6.9,-3.7 M113.4,456.6 l-5.7,0.5 M70.4,471.7 l-7.5,1.1 M42.2,491.1 l6.8,7.0 M88.6,496.9 l-3.2,7.3 M102.5,534.5 l-4.3,-2.4 M95.3,433.9 l-0.2,-5.1 M103.3,443.4 l-3.4,-2.4 M43.2,458.9 l3.3,-4.7 M86.0,520.5 l4.8,-0.7 M101.1,519.5 l1.5,-5.2 M81.7,519.7 l-0.0,6.4 M95.7,527.6 l0.3,7.7 M59.1,446.4 l-7.5,1.1 M96.3,538.9 l3.4,5.8 M82.2,458.3 l3.5,-2.0 M62.9,432.7 l-4.7,-6.0 M59.7,535.9 l-2.9,-3.3 M122.9,527.8 l-3.5,8.3 M51.5,468.7 l-8.5,4.7 M66.3,473.1 l2.3,8.4 M56.1,527.2 l-3.7,5.8 M117.1,459.2 l-7.3,-1.3 M90.8,475.7 l-3.2,-4.1 M53.6,429.0 l-5.5,-4.3 M110.4,446.3 l-2.9,-5.5 M86.2,525.3 l-6.0,-0.7 M96.8,445.3 l4.6,-4.7 M43.7,484.3 l9.3,-3.3 M77.5,459.1 l4.6,-1.9 M41.6,456.9 l-7.6,1.4 M45.9,467.1 l-0.8,-5.4 M55.5,511.2 l-7.2,3.1 M82.6,523.1 l-9.8,-0.7 M111.6,512.4 l-7.3,0.4 M73.1,436.9 l6.5,-5.7 M107.5,528.5 l-9.5,-3.1 M81.6,542.7 l4.9,2.7 M90.3,523.8 l-8.5,-1.1 M72.9,507.2 l2.1,-6.9 M41.8,504.9 l5.1,0.0 M50.1,517.3 l3.9,7.0 M46.4,452.2 l-3.2,-8.9 M46.3,499.9 l-5.9,4.4 M46.8,430.0 l8.1,4.4 M83.2,499.7 l5.2,5.8 M119.3,451.2 l1.7,-8.8 M127.3,494.2 l-3.3,-4.3 M108.7,464.3 l-5.3,-5.2 M127.1,520.1 l3.5,2.4 M71.4,474.4 l-1.0,-4.7 M89.2,480.9 l-2.5,7.0 M78.2,542.6 l6.4,6.7 M96.1,481.7 l6.6,3.5 M110.7,468.9 l-1.6,-6.5 M47.9,528.5 l-2.4,5.9 M107.0,530.5 l3.4,-4.4 M114.6,445.9 l-5.7,-1.9 M116.2,512.5 l-4.7,-7.3 M70.6,480.0 l4.4,3.3 M57.6,513.6 l6.5,6.8 M92.8,480.2 l4.5,4.2 M89.6,444.9 l5.5,-0.8 M78.2,461.4 l-3.4,3.5 M115.2,436.4 l-4.7,5.4 M82.2,466.0 l-3.4,0.3 M67.0,478.9 l0.6,-6.0 M76.5,504.5 l-1.1,6.8 M57.1,500.2 l-7.4,-1.8 M117.0,521.0 l4.6,-0.3 M123.9,480.0 l-4.1,4.6 M121.1,539.7 l1.7,-4.8 M50.5,451.8 l-3.7,-7.0 M45.8,428.4 l5.4,-0.2 M43.7,482.5 l7.1,5.0 M86.6,499.6 l3.5,-1.7 M58.9,520.1 l-4.7,-3.8 M71.3,500.5 l9.1,-3.3 M120.7,542.5 l2.2,2.4 M113.0,456.9 l-6.2,-0.9 M125.7,479.8 l2.9,3.3 M119.5,523.5 l6.2,7.5 M72.7,513.1 l-8.3,-3.6 M83.1,431.5 l-8.4,-3.2 M76.1,524.7 l-5.2,1.8 M71.6,454.7 l-9.7,-0.0 M92.0,517.8 l2.4,5.0 M91.1,472.9 l9.1,0.5 M51.4,505.1 l5.0,-0.6 M63.7,466.8 l-9.5,-2.6 M52.7,456.7 l3.9,-3.0 M98.7,512.4 l3.2,0.0 M106.8,535.5 l-2.1,-5.9 M48.9,489.7 l4.1,3.4 M43.1,488.3 l-4.9,1.0 M59.5,435.7 l3.8,0.7 M126.5,431.9 l-1.3,-6.1 M91.7,463.7 l8.6,-1.0 M75.6,478.5 l3.6,-2.0 M116.9,500.4 l-6.1,-2.8 M92.0,438.6 l0.0,5.5 M59.5,438.0 l-1.4,-5.8 M105.2,473.9 l4.4,-1.7 M85.1,477.5 l1.0,-3.8 M88.0,481.1 l-3.3,-3.3 M87.8,543.3 l7.8,5.9 M125.1,480.4 l5.7,3.2 M124.7,428.1 l0.1,-8.5 M50.2,498.5 l2.2,3.0 M85.9,462.9 l-3.6,-5.6 M60.2,535.6 l8.6,0.3 M64.8,533.2 l-4.9,-3.9 M59.0,528.2 l6.1,-7.6 M91.9,536.2 l6.1,-4.7 M69.8,498.6 l-4.8,7.2 M88.7,529.4 l6.4,-5.2 M57.9,467.2 l4.6,2.7 M53.9,463.1 l1.0,-3.7 M120.8,535.8 l0.6,-4.6 M65.6,481.5 l-7.0,-6.4 M41.8,438.1 l1.4,-2.8 M118.6,449.8 l6.2,-0.9 M93.3,524.5 l2.6,-5.3 M80.5,520.3 l-0.2,5.1 M116.6,531.2 l2.5,-4.8 M70.2,440.2 l1.7,-2.9 M56.1,430.8 l-9.6,2.6 M46.2,457.5 l-0.9,7.9 M71.4,448.4 l-3.3,-8.7 M54.5,435.4 l-8.0,5.2 M45.2,444.2 l-5.1,-6.6 M79.8,433.3 l-3.5,-1.2 M46.5,434.6 l3.4,-1.4 M81.8,524.1 l1.7,5.5 M109.8,494.1 l2.3,6.3 M127.5,523.8 l3.1,-0.7 M45.1,486.8 l9.7,0.8 M65.7,492.3 l4.3,-4.2 M107.4,446.1 l-7.6,2.7 M81.2,449.7 l3.5,-4.3 M120.3,464.8 l1.8,-3.4 M99.4,539.3 l-4.1,-4.2 M126.3,541.1 l2.0,-4.1 M47.9,499.7 l2.3,2.6 M88.9,538.5 l-1.1,8.7 M124.5,538.2 l3.4,1.9 M124.1,540.9 l2.0,3.8 M102.7,439.3 l3.3,2.5 M90.9,471.4 l2.2,-3.4 M118.9,520.1 l-5.1,5.1 M99.6,442.3 l5.5,-2.5 M85.3,527.7 l4.8,0.6 M42.7,514.2 l1.6,7.9 M103.2,544.5 l2.5,5.3 M109.4,480.0 l3.5,6.9 M109.9,480.3 l-2.9,2.7 M75.7,526.3 l-5.9,7.7 M71.5,483.7 l1.7,-9.2 M114.3,477.4 l-3.7,1.2 M87.4,523.8 l1.9,4.8 M45.8,481.1 l-9.9,1.2 M99.0,535.4 l1.9,5.8 M101.8,436.7 l-6.7,-3.2 M42.4,451.8 l0.9,-4.0 M96.1,477.3 l-7.0,5.8 M74.9,530.9 l3.0,-6.2 M48.9,467.0 l4.7,-1.4 M91.9,451.5 l-0.9,-7.8 M118.3,497.5 l6.6,5.5 M90.7,538.4 l-5.2,-0.6 M79.0,493.7 l-2.4,-7.0 M115.8,490.7 l2.5,8.7 M102.6,446.5 l-8.7,2.2 M90.8,442.3 l5.4,-6.1 M57.4,509.2 l4.6,-5.3 M123.4,490.9 l7.6,0.6 M113.1,535.2 l0.3,-9.6 M110.7,483.4 l3.9,1.5 M44.3,536.3 l3.3,-8.7 M108.4,481.1 l-2.9,-1.2 M54.1,474.8 l4.9,1.7 M85.7,446.9 l1.6,3.2 M80.2,525.9 l-7.5,2.6 M103.0,522.0 l1.9,-6.2 M44.1,447.7 l-0.9,5.3 M92.7,486.3 l-1.0,4.1 M105.0,544.5 l-1.2,-3.8 M101.2,521.5 l-7.2,-1.8 M115.9,484.0 l-1.1,-4.0 M113.6,494.8 l2.7,6.9 M112.6,480.1 l-3.0,7.4 M127.6,540.4 l-2.3,6.0 M73.2,444.6 l-4.8,-1.4 M82.1,525.0 l-9.3,-3.4 M57.9,449.7 l7.3,3.1 M65.2,453.6 l-6.5,-7.5 M106.3,540.0 l6.1,-2.8 M59.3,517.5 l0.7,3.4 M72.9,514.4 l-3.9,-4.4 M51.1,448.1 l-5.2,-3.8 M87.7,514.9 l-8.1,-4.0 M120.9,488.7 l-4.2,5.0 M62.0,448.5 l-1.1,-6.0 M42.0,474.0 l-1.5,3.1 M42.0,499.8 l3.0,-8.3 M92.5,454.4 l-3.2,-3.7 M60.3,466.5 l2.5,2.8 M126.8,437.9 l7.7,-1.4 M105.3,441.0 l-1.9,-4.0 M84.7,481.1 l3.0,-2.1 M40.6,496.3 l-7.4,-1.2 M47.6,471.4 l-1.6,-7.0 M67.8,429.0 l8.9,2.5 M64.1,436.3 l-1.2,4.3 M87.8,433.7 l-7.3,-1.9 M87.2,497.8 l0.3,5.7" stroke="#2a58b8" stroke-width="0.55" fill="none" opacity="0.6"/>
<path d="M70.4,430 L71.1,545 M76.9,430 L76.3,545 M82.7,430 L83.7,545 M88.5,430 L87.6,545 M94.3,430 L94.2,545 M98.6,430 L99.8,545 M75.7,503.7 l6.0,13.3 M82.8,445.0 l6.0,13.0 M91.3,507.1 l-6.0,9.7 M80.2,506.2 l-6.0,13.8 M93.1,510.8 l6.0,9.6 M86.7,535.1 l6.0,13.5 M79.5,441.8 l6.0,9.6 M90.2,524.3 l6.0,12.9 M71.9,478.4 l-6.0,13.6 M93.4,443.6 l-6.0,13.9 M81.5,534.5 l-6.0,8.7 M95.1,501.5 l-6.0,13.0 M77.4,449.1 l-6.0,13.4 M84.8,461.6 l-6.0,9.6 M85.0,492.7 l6.0,10.4 M83.0,495.3 l6.0,10.9" stroke="#c8782a" stroke-width="1" fill="none" opacity="0.9"/>
<path d="M52.5,453.0 l6.2,4.1 M52.5,453.0 l1.5,3.9 M52.5,453.0 l-1.2,-6.2 M52.5,453.0 l0.2,-6.9 M52.5,453.0 l-3.2,2.9 M52.5,453.0 l4.5,-5.9 M65.0,474.0 l-0.3,4.4 M65.0,474.0 l-5.9,-6.3 M65.0,474.0 l-0.4,-8.6 M65.0,474.0 l4.6,-0.2 M65.0,474.0 l2.5,5.8 M65.0,474.0 l4.9,4.1 M76.0,479.0 l2.1,-4.9 M76.0,479.0 l2.2,-4.8 M76.0,479.0 l1.8,-4.0 M76.0,479.0 l3.1,2.9 M76.0,479.0 l-3.6,-2.0 M76.0,479.0 l-2.1,-5.7 M92.0,475.0 l4.9,-3.3 M92.0,475.0 l3.9,-6.7 M92.0,475.0 l-5.6,5.6 M92.0,475.0 l-5.6,-4.1 M92.0,475.0 l-4.3,2.1 M92.0,475.0 l-6.5,-0.9 M98.0,474.0 l-8.1,3.7 M98.0,474.0 l4.1,7.5 M98.0,474.0 l-4.2,-1.6 M98.0,474.0 l-4.6,-1.9 M98.0,474.0 l-6.4,0.2 M98.0,474.0 l1.2,-8.5 M110.0,446.0 l7.5,3.7 M110.0,446.0 l4.4,-1.8 M110.0,446.0 l5.5,3.1 M110.0,446.0 l4.5,0.9 M110.0,446.0 l-5.0,-0.3 M110.0,446.0 l-4.1,-3.0 M53.5,493.0 l-3.6,-6.2 M53.5,493.0 l6.6,3.4 M53.5,493.0 l7.9,-4.2 M53.5,493.0 l7.2,1.9 M53.5,493.0 l-2.6,5.5 M53.5,493.0 l-4.1,1.1 M66.5,499.0 l-3.2,-3.4 M66.5,499.0 l2.8,-3.6 M66.5,499.0 l-4.9,-4.7 M66.5,499.0 l4.5,0.9 M66.5,499.0 l-5.9,0.2 M66.5,499.0 l2.5,3.7 M88.5,491.0 l0.9,8.0 M88.5,491.0 l5.1,5.9 M88.5,491.0 l6.1,5.3 M88.5,491.0 l1.1,-8.3 M88.5,491.0 l-6.8,5.6 M88.5,491.0 l-6.1,3.7 M105.0,486.0 l2.3,-4.2 M105.0,486.0 l7.2,2.1 M105.0,486.0 l0.7,5.0 M105.0,486.0 l-4.9,0.2 M105.0,486.0 l-0.6,5.0 M105.0,486.0 l6.8,4.4 M112.0,486.5 l4.3,-6.4 M112.0,486.5 l-8.0,3.2 M112.0,486.5 l-6.5,-1.8 M112.0,486.5 l5.7,0.8 M112.0,486.5 l1.5,7.1 M112.0,486.5 l6.9,-1.6 M46.0,519.0 l-3.4,7.4 M46.0,519.0 l7.0,3.9 M46.0,519.0 l8.5,2.4 M46.0,519.0 l0.3,-8.9 M46.0,519.0 l-7.2,0.8 M46.0,519.0 l-6.3,4.6 M53.0,510.5 l-6.1,-1.5 M53.0,510.5 l2.9,-8.2 M53.0,510.5 l-0.9,5.2 M53.0,510.5 l5.7,-0.2 M53.0,510.5 l-4.5,5.0 M53.0,510.5 l-1.5,6.1 M68.0,514.0 l-1.0,6.1 M68.0,514.0 l2.3,-7.5 M68.0,514.0 l7.8,-3.7 M68.0,514.0 l-0.9,7.8 M68.0,514.0 l-2.5,-6.7 M68.0,514.0 l-8.6,0.7 M84.0,520.0 l-8.0,-3.4 M84.0,520.0 l4.6,3.6 M84.0,520.0 l5.1,5.6 M84.0,520.0 l-5.4,1.4 M84.0,520.0 l-3.3,5.5 M84.0,520.0 l-2.3,6.1 M93.0,522.0 l-2.9,-2.9 M93.0,522.0 l1.3,6.5 M93.0,522.0 l-3.6,-5.9 M93.0,522.0 l-0.7,-6.1 M93.0,522.0 l6.7,-4.1 M93.0,522.0 l-6.8,-0.2 M105.0,521.0 l1.8,-5.1 M105.0,521.0 l-1.3,6.4 M105.0,521.0 l-4.3,-0.2 M105.0,521.0 l-8.6,-0.2 M105.0,521.0 l4.4,-5.0 M105.0,521.0 l-1.8,-5.6 M115.0,514.0 l7.3,3.5 M115.0,514.0 l-6.8,-1.7 M115.0,514.0 l-6.7,-5.8 M115.0,514.0 l-2.2,6.5 M115.0,514.0 l-0.7,-7.4 M115.0,514.0 l3.6,-2.2 M71.0,523.0 l1.2,-4.0 M71.0,523.0 l-2.4,5.3 M71.0,523.0 l2.7,-8.0 M71.0,523.0 l-6.4,-2.3 M71.0,523.0 l-2.1,-3.6 M71.0,523.0 l-4.3,4.5 M94.0,521.0 l5.3,1.7 M94.0,521.0 l-0.9,4.6 M94.0,521.0 l2.2,5.4 M94.0,521.0 l-4.4,-7.0 M94.0,521.0 l-3.3,7.2 M94.0,521.0 l-1.1,-4.4 M113.0,508.0 l2.6,8.0 M113.0,508.0 l4.5,5.5 M113.0,508.0 l-6.9,-4.0 M113.0,508.0 l1.3,-8.0 M113.0,508.0 l5.0,5.8 M113.0,508.0 l5.8,-4.4 M58.0,518.0 l4.3,-1.1 M58.0,518.0 l-8.6,1.9 M58.0,518.0 l-1.9,5.4 M58.0,518.0 l-1.6,5.6 M58.0,518.0 l-5.9,2.7 M58.0,518.0 l-0.3,6.5" stroke="#40b8c8" stroke-width="0.6" fill="none"/>
<g fill="#70f0f4"><circle cx="52.5" cy="453.0" r="1.8"/><circle cx="65.0" cy="474.0" r="1.8"/><circle cx="76.0" cy="479.0" r="1.8"/><circle cx="92.0" cy="475.0" r="1.8"/><circle cx="98.0" cy="474.0" r="1.8"/><circle cx="110.0" cy="446.0" r="1.8"/><circle cx="53.5" cy="493.0" r="1.8"/><circle cx="66.5" cy="499.0" r="1.8"/><circle cx="88.5" cy="491.0" r="1.8"/><circle cx="105.0" cy="486.0" r="1.8"/><circle cx="112.0" cy="486.5" r="1.8"/><circle cx="46.0" cy="519.0" r="1.8"/><circle cx="53.0" cy="510.5" r="1.8"/><circle cx="68.0" cy="514.0" r="1.8"/><circle cx="84.0" cy="520.0" r="1.8"/><circle cx="93.0" cy="522.0" r="1.8"/><circle cx="105.0" cy="521.0" r="1.8"/><circle cx="115.0" cy="514.0" r="1.8"/><circle cx="71.0" cy="523.0" r="1.8"/><circle cx="94.0" cy="521.0" r="1.8"/><circle cx="113.0" cy="508.0" r="1.8"/><circle cx="58.0" cy="518.0" r="1.8"/></g>
<circle cx="75.5" cy="506" r="2.3" fill="#f0d030"/><circle cx="96" cy="487" r="2.3" fill="#f0d030"/>
</g>
<rect x="40.2" y="367.8" width="224.2" height="176.9" fill="none" stroke="#111" stroke-width="1.5"/>
<path d="M322,377.9v11.7M322.6,378.7v11M323.1,374.9v23.2M323.7,377.3v11.5M324.2,376.1v15M324.8,375v16.5M325.3,375.8v17.2M325.9,376.6v10.6M326.4,368.9v22.7M327,376.7v13.9M327.5,371.9v15.8M328.1,374.7v12.7M328.6,374.4v11.5M329.2,376.8v16.3M329.7,375v19.4M330.3,378.5v15.9M330.8,373v12.1M331.4,371.5v19M331.9,377.8v10.1M332.5,375v15.2M333,374v12M333.6,372.5v16.5M334.1,375.5v13.3M334.7,376v24.3M335.2,373.6v18.7M335.8,372.9v14.7M336.3,377.1v10.5M336.9,368.9v18.1M337.4,376.3v11.5M338,370.7v21.4M338.5,371.2v15M339.1,371.2v20.6M339.6,374.5v17.3M340.2,372.9v16.3M340.7,372.8v13.1M341.3,365.9v22.3M341.8,375.8v16.5M342.4,373.6v23.5M342.9,374.2v13.8M343.5,375v20.1M344,379.2v12.1M344.6,371.1v23.2M345.1,373.5v22M345.7,376v20.2M346.2,373.8v15.7M346.8,376.1v16.8M347.3,376.8v11.4M347.9,372.3v19.5M348.4,372.1v22.6M349,369.2v27.6M349.5,372v23.8M350.1,369.5v16.5M350.6,367.2v26.4M351.2,374.2v14.6M351.7,372.3v18.8M352.3,374.8v15.5M352.8,371.2v25.6M353.4,373.2v14.2M353.9,376v13.9M354.5,376.6v13.2M355,378.3v16.8M355.6,370.2v24.9M356.1,373v22.6M356.7,374.5v18M357.2,369.3v25.4M357.8,376v11.6M358.3,368.2v24.1M358.9,373.9v15.4M359.4,370.1v20.4M360,365.5v27.1M360.5,369.2v25.2M361.1,376.5v16M361.6,372.5v13.9M362.2,370.2v21.4M362.7,373.4v18.1M363.3,375.2v19.9M363.8,378.9v12.5M364.4,376.3v18.7M364.9,378.2v8.2M365.5,377.7v15.5M366,370.6v22.3M366.6,367.4v20.5M367.1,373.6v18M367.7,371.2v16.5M368.2,371.8v21.1M368.8,379.3v13.5M369.3,375.7v11.5M369.9,374.4v18.4M370.4,374v16.1M371,376.1v18.2M371.5,377.5v11.3M372.1,377.5v17.4M372.6,372.6v15M373.2,375.1v18.5M373.7,373.5v14.6M374.3,373.2v19.1M374.8,377.7v7.8M375.4,376.9v14.1M375.9,377.4v12.4M376.5,372v19M377,373v17.2M377.6,377.2v9.4M378.1,374.8v14.8M378.7,377.4v9.5M379.2,372.3v16.9M379.8,375.3v11M380.3,376.1v13.2M380.9,377.7v16.6M381.4,374.8v14.4M382,374v15.6M382.5,374.2v15.6M383.1,376.4v13.6M383.6,376.5v11.1M384.2,378.8v10M384.7,379.7v6.4M385.3,378.3v15.8M385.8,374.6v13.4M386.4,376.1v9M386.9,379.1v7.7M387.5,377.8v7.7M388,376.7v10.8M388.6,369.5v18M389.1,378.8v8.8M389.7,377.8v7.3M390.2,376v10.4M390.8,378.6v9.8M391.3,376.2v12.7M391.9,377v10.3M392.4,376.6v10.9M393,377.3v9.1M393.5,379v9.9M394.1,371.2v16.9M394.6,378.9v9.1M395.2,379.4v6.3M395.7,378.9v8.1M396.3,376.6v10.5M396.8,376.4v10.9M397.4,378.4v10.4M397.9,379.5v7.6M398.5,376.2v12.1M399,376v9.8M399.6,377v10.8M400.1,378.4v9.4M400.7,377.7v8.6M401.2,373.5v14.1M401.8,376.7v11.9M402.3,378.1v9.2M402.9,371.7v17.1M403.4,376.4v9.5M404,378.3v8.8M404.5,379.2v8.5M405.1,376.5v10.1M405.6,378.2v8.2M406.2,377.6v15M406.7,378.2v10.7M407.3,377v9.4M407.8,376.6v10.6M408.4,378.3v7.9M408.9,379.8v6.4M409.5,376.2v11.2M410,379.1v6.4M410.6,377.7v10.7M411.1,378v10.7M411.7,378.7v8.4M412.2,376.6v8.8M412.8,376.8v17.1M413.3,376v8.9M413.9,379.4v5.6M414.4,370.9v17.5M415,379.2v7.1M415.5,377.9v8.7M416.1,378.7v7.6M416.6,376.2v8.8M417.2,377.9v16.4M417.7,378.9v8.6M418.3,376.5v11M418.8,378.9v6.3M419.4,371.6v13.7M419.9,377.4v8.7M420.5,377.9v8.6M421,379.1v7M421.6,377.3v11.2M422.1,377.9v12.1M422.7,376.2v14.9M423.2,376.6v8.7M423.8,376.9v8.5M424.3,376.1v8.9M424.9,377.2v7.8M425.4,379v6.4M426,376.9v11.6M426.5,376.2v9.3M427.1,377.7v10.1M427.6,377.2v10.5M428.2,379.1v7.1M428.7,379.4v8.3M429.3,378.2v9.7M429.8,376.5v11.7M430.4,376.8v8.4M430.9,376.1v12.8M431.5,376.6v8.9M432,377.9v8.7M432.6,378.7v9.5M433.1,379v8M433.7,376.9v8.4M434.2,378.5v6.9M434.8,375.1v11.8M435.3,376.1v11.7M435.9,378.7v9.1M436.4,379.4v5.7M437,379.6v7.3M437.5,377v10.5M438.1,375v17M438.6,378.6v8.8M439.2,379.6v7M439.7,378.8v6.8M440.3,375.9v11.9M440.8,379.4v8.1M441.4,374.6v11.9M441.9,379.3v9.5M442.5,378.2v8.8M443,376.7v10.9M443.6,377.3v14.1M444.1,378.1v10.4M444.7,378.2v7.5M445.2,377v10.3M445.8,379.2v6.5M446.3,378.4v9M446.9,377.6v7.9M447.4,379v9.2M448,376.1v12.2M448.5,378.2v10.2M449.1,378.5v6.6M449.6,378v7.2M450.2,379.1v8.9M450.7,378.8v6.4M451.3,376.3v11.4M451.8,377.1v10.8M452.4,378.3v7.7M452.9,378.1v7M453.5,377.1v11.5M454,374.2v17.7M454.6,376.5v11.2M455.1,378.9v7.2M455.7,377.6v10.7M456.2,378.9v8.3M456.8,378.6v9.8M457.3,376.9v10.9M457.9,378.1v7.1M458.4,376.3v12M459,376v11.7M459.5,376.7v10.7M460.1,377.6v16M460.6,379.2v6.2M461.2,376.7v9.9M461.7,379.4v7.3M462.3,376.3v12.4M462.8,376.5v12.4M463.4,379.4v6.7M463.9,379.4v9M464.5,377.4v8.7M465,376.3v11.4M465.6,377.6v8.9M466.1,376.4v12.3M466.7,377.4v11.2M467.2,376.9v11M467.8,379.8v5.6M468.3,376.8v8.6M468.9,378v10.2M469.4,376.4v11.6M470,379.1v7.5M470.5,378.5v6.8M471.1,379.2v6.7M471.6,379.1v9.4M472.2,376.1v12.3M472.7,379.3v9.1M473.3,379.1v6.2M473.8,379.9v9M474.4,373.5v15.1M474.9,377.5v10.7M475.5,377.1v8.7M476,377.5v8.5M476.6,377.7v9.1M477.1,379.3v8.6M477.7,378.7v8.5M478.2,376v10.5M478.8,375.9v10.2M479.3,376v9.5M479.9,376.6v11M480.4,376.7v11.8M481,378.8v8.3M481.5,376.3v11.8M482.1,379.8v8.5M482.6,379.2v7.3M483.2,379.7v6.5M483.7,379.1v6.3M484.3,377.5v7.6M484.8,377.4v9.6M485.4,378.5v10.1M485.9,372.6v12.8M486.5,377.1v9.2M487,376.7v10.8M487.6,378.5v8.2M488.1,377.5v10.9M488.7,377.9v10.4M489.2,379.7v8.9M489.8,376.6v12.2M490.3,378v9.3M490.9,379.5v9.1M491.4,371.9v16.4M492,376.6v10.7M492.5,377.4v8.4M493.1,376.3v18.3M493.6,379.4v8.5M494.2,376.1v12.7M494.7,377.7v7.8M495.3,378.6v10.1M495.8,376.3v11.7M496.4,373.3v11.6M496.9,376.1v11.2M497.5,379.9v7M498,378.2v7.9M498.6,378.2v7.9M499.1,377.7v8.8M499.7,378.5v7.4M500.2,376.9v10.2M500.8,379.4v8.2M501.3,376.1v8.9M501.9,377.2v8.1M502.4,376.1v11.7M503,379.2v7.2M503.5,377.5v10.2M504.1,378.9v9.9M504.6,376.3v11M505.2,377.5v9.4M505.7,376.4v9M506.3,379.3v9.4M506.8,377.5v7.7M507.4,379.2v6.4M507.9,377.6v9.3M508.5,376.9v9.6M509,377.8v10.5M509.6,377.6v9.4M510.1,379.1v14.4M510.7,376v9.6M511.2,377.7v7.9M511.8,377.4v10.7M512.3,376.1v11.8M512.9,379v9.5M513.4,378.4v6.7M514,379.4v8.4M514.5,378.6v7.1M515.1,376.1v11.7M515.6,379.2v8.7M516.2,378.3v7.7M516.7,376.9v8.1M517.3,377.4v10.6M517.8,376.6v10.7M518.4,378.7v7.5M518.9,378.4v8M519.5,378.1v9.4M520,378.9v7.6M520.6,376.8v9.4M521.1,379.7v6.7M521.7,376.1v11.7M522.2,379.4v9M522.8,378.3v9.1M523.3,378.6v9M523.9,376.4v11.3M524.4,379.7v6.2M525,377v9.1M525.5,379.9v7.3M526.1,379.8v7.1M526.6,378.7v6.7M527.2,376.3v11.8M527.7,378.2v10.4M528.3,379.4v9M528.8,378.8v7.6M529.4,376.3v11.6M529.9,378.8v8.6M530.5,379.5v7.8M531,378.1v7.1M531.6,376.8v8.4M532.1,376.4v10.6M532.7,377.9v9.4M533.2,375.9v11M533.8,379.4v6.8M534.3,378.1v8.8M534.9,379.2v12.8M535.4,377.5v10.3M536,379.9v11.6M536.5,379v7.6M537.1,376.9v9.3M537.6,376.3v11.1M538.2,378.4v14M538.7,379.4v7.2M539.3,378.9v9.6M539.8,376.4v9.6M540.4,378.5v10.1M540.9,378.8v10.1M541.5,379.5v8.5M542,377.8v10.2M542.6,379.5v5.7M543.1,376.9v10.5M543.7,378.1v9.7M544.2,377.8v10.5M544.8,376.5v10.6M545.3,377.3v10.2M545.9,377.7v9.6M546.4,378v9.3M547,378.7v6.7M547.5,378.1v10.7M548.1,376.2v12.3M548.6,378.7v7.6M549.2,378.8v9M549.7,376.7v8.6M550.3,377.9v14.5M550.8,378v8.7M551.4,378.4v8.8M551.9,379.6v7.7M552.5,376.4v9.8M553,377.9v10.6M553.6,378.6v13.2M554.1,376.8v9M554.7,376.1v8.9M555.2,379.1v9.7M555.8,377.4v10.8M556.3,375.9v12.9M556.9,379.2v7.9" stroke="#ff1414" stroke-width="0.7"/>
<rect x="322" y="377.4" width="235.2" height="10" fill="#ff1010"/>
<path d="M322.6,449.8V471.7M323.7,449.4V471.4M324.2,457.7V477.7M324.8,451.9V478.1M325.9,453.5V474M328.1,457.7V471.2M328.6,449.5V473.3M329.2,453.8V478.7M329.7,455.9V471.6M330.8,449.4V475.8M331.9,457.5V474.1M332.5,454.7V477.4M333,450.1V474M333.6,451.5V477.6M334.1,454.4V478.3M334.7,455.8V471.5M335.2,455.2V477.1M335.8,451.4V474.8M336.3,451.4V471.7M336.9,450.7V476.5M337.4,451.8V475.3M338.5,451.9V471.7M339.6,453.7V471.3M340.2,450.9V477.1M340.7,449.3V476M341.3,449.7V477.3M342.9,456.4V473.1M344,449.3V478.7M344.6,450V477.4M345.1,456.1V476.9M345.7,455.7V473.8M346.2,454.6V477.6M347.9,454.4V474M348.4,454.6V477.6M349,452.9V471.2M349.5,454.4V475.5M350.1,457.6V472.5M352.3,449.5V474.7M352.8,452.1V471.7M353.4,454.1V472.5M355.6,457.2V471.3M356.7,454.9V473.7M357.2,452.6V476.3M358.3,458V474.2M358.9,452.4V478.7M359.4,458V471.8M360,455.7V476.4M361.1,453.7V478.2M361.6,451.3V471.3M362.2,452.2V472.6M363.8,451.6V476.2M364.4,454.6V472.9M364.9,454.7V478.8M365.5,455.5V473.2M366,452.7V472.4M367.1,451.2V472.8M367.7,453V472.4M368.2,450.7V478.7M368.8,450.5V475.2M369.9,450.3V471.8M371,450.4V473.8M372.6,451.1V471.9M373.7,450.2V471.4M374.3,452V472.6M375.4,452.7V471.5M375.9,455.4V472.2M376.5,455.7V474.8M378.1,452V474.1M378.7,458V473.5M379.2,451.1V476.5M379.8,451.7V476.6M381.4,454.5V477.2M382.5,451.3V477.1M383.1,450.1V473M383.6,452V478.1M384.2,450.6V472.3M384.7,458V477.3M385.3,451.1V477.4M385.8,455.8V476.9M386.9,450.9V475.6M387.5,454.3V475.8M388,454V474M388.6,454.2V475.2M389.1,456.2V478.6M389.7,451.2V475M390.2,452.4V471.1M390.8,452.1V475.4M391.3,453.5V472M391.9,453.8V473M392.4,457.9V477M393,454.3V471.4M393.5,455.5V473.1M394.1,457.5V477.3M395.2,454.8V478.8M395.7,454.2V474.5M396.3,455V475.1M396.8,452.9V475M397.4,457.4V473.8M397.9,452V477.7M398.5,457.3V476.1M399,450.6V477.2M399.6,451.8V474.8M400.1,455V474.6M400.7,458V477.1M401.2,453.9V472.7M401.8,456.6V478.2M402.3,457.3V472.3M402.9,451.5V473.2M403.4,449.3V474.5M404,452.2V474M404.5,452.3V472.1M405.1,453.5V478.6M406.2,453.9V474.6M406.7,456.7V476.1M407.3,457.1V471.9M407.8,449.4V477.8M408.4,453.7V476.3M408.9,452.3V472.2M409.5,454.3V477M410,451.4V476.9M411.7,449.7V478.1M412.8,455.1V476.2M413.3,452.1V476.9M414.4,453.9V474.8M415,450.7V473.6M415.5,456.4V475M416.1,451.3V478.5M416.6,455.3V471.4M417.2,457.3V473.7M417.7,453V472.8M418.8,450.5V473M419.4,457.3V478.2M420.5,454.4V478.7M421,454.7V476.7M422.7,456.1V477.4M424.3,456.8V474.8M425.4,454.9V471.5M426,449.4V476.6M426.5,453.7V475.9M427.6,450.4V471.7M428.7,457V477M429.8,454.4V475.5M430.9,454.1V477.9M431.5,449.5V471.3M433.1,455.1V474.8M434.2,449V477.7M434.8,451.5V474M435.3,452.7V473.6M437,450.4V472.9M437.5,451.1V478.6M438.1,454.4V472.9M438.6,457.6V474.4M439.2,452.9V476.2M439.7,451.7V475.1M440.3,454.6V476.5M441.9,456.1V471.2M442.5,452.1V473.9M443,457.6V476.8M444.1,457.6V477.7M444.7,455.1V477.4M445.2,452.7V472.2M445.8,454.4V477.6M446.3,454.3V471.1M446.9,453.5V474.5M447.4,454.5V477.2M448,450.1V476.8M448.5,454.2V472.2M449.1,449.7V472.2M449.6,450.8V476.2M450.2,457.2V472.1M450.7,457.9V478.1M451.3,449.2V471.1M451.8,450.6V473.3M452.4,458V477.1M452.9,457.9V473.6M453.5,450V472.7M454,453.1V478.1M454.6,451.3V474.3M455.1,453V476.9M455.7,453V474.4M456.2,455V471.1M456.8,451.2V476.6M457.3,453.5V472.6M457.9,455.7V471.6M458.4,457.2V476.6M460.6,451.3V479M461.2,456.9V478.5M462.8,456.1V473.1M463.4,457.6V472.3M463.9,449.9V471.4M464.5,453.9V473.1M465,449.1V474M465.6,455.4V477.5M466.1,454.1V476.9M466.7,455V477.8M467.2,454.9V478.5M467.8,455.4V472.6M469.4,451.3V478.9M470,450.1V472.1M470.5,456V476.2M471.1,456.8V475.2M471.6,456.5V476.3M473.3,457.9V478.2M473.8,458V475.3M474.4,454.4V476.9M474.9,457.7V475.8M476,455.8V474.2M476.6,456V477.5M477.1,454.4V477.3M478.2,455.4V478.3M478.8,452.5V473.1M479.3,456.9V471.6M479.9,456.9V476.4M480.4,450.6V476.8M482.1,449.2V477.1M483.2,450.2V471.8M483.7,450.6V473.8M484.8,449.1V478.6M485.4,454.8V472.1M485.9,455.1V478.1M487,453.7V473.7M487.6,453.3V476.4M488.7,453.5V477.5M489.2,454.9V472.3M489.8,452.8V476.1M490.3,449.2V477.5M490.9,451.8V474M491.4,454.4V475.9M492,455V475.1M492.5,456.7V477.5M493.1,457.8V475.6M493.6,457.2V477.7M494.2,457.9V471.9M494.7,452.1V474.1M495.8,455.5V473.3M496.4,455.5V473.7M496.9,452.8V471.8M497.5,451.5V475.1M498,452.7V475.4M498.6,451.6V474.8M500.2,458.7V471.5M501.3,459.8V468.9M501.9,460.7V472.2M502.4,456.6V471.4M504.1,458.8V471.8M504.6,460.5V469.4M505.2,459.4V469.3M506.3,456.2V468.4M506.8,459.5V472.2M507.4,457.2V470.1M507.9,460.5V468.4M508.5,460.3V471.3M509,459V471.8M509.6,458.2V470.2M510.1,457.7V471.8M511.2,458.5V471.7M512.3,456.4V470.6M512.9,457.7V468.6M513.4,457.1V472.5M514,458.1V471.5M514.5,459.7V470.3M515.1,458.4V472.4M515.6,461V468.4M516.2,458.4V471.8M516.7,456.4V469.2M517.3,460V470.4M517.8,458.3V468.7M518.4,460.4V469.2M518.9,460.2V472.3M519.5,457.9V469.5M520,458.7V469.4M520.6,457.8V468.6M521.7,457.5V468.9M522.2,458.1V469.1M523.3,460.1V469M523.9,459.4V471.5M524.4,456.7V472.1M525,457.2V469.8M525.5,460.6V468.8M526.6,460.5V471.2M527.2,460.5V470.1M527.7,461V470.7M528.3,456.6V468.6M528.8,457.4V470.3M529.9,456.6V469.5M530.5,458.8V471.9M531.6,460.4V471.9M532.1,457.5V469.5M532.7,460V469.6M533.8,459V469M534.3,457.9V468.9M534.9,460.5V469.9M535.4,460.3V472M536,460V471M536.5,458.4V469.4" stroke="#3232a8" stroke-width="0.65"/>
<path d="M322,462v6.1M322.6,460.6v7.6M323.1,460.9v7.2M323.7,462.8v5.6M324.2,461.6v6.5M324.8,462.1v6.5M325.3,462.3v4.9M325.9,460.4v7.2M326.4,460.7v8.7M327,460.7v7.6M327.5,460.3v9.4M328.1,461.2v7.3M328.6,461.8v5.5M329.2,462.7v5.8M329.7,462.2v5.6M330.3,461.5v8.2M330.8,461.8v6.2M331.4,461.9v6.3M331.9,461.5v8.2M332.5,461.1v7.3M333,460.2v8.7M333.6,462.3v6.1M334.1,460.3v8.8M334.7,461.7v8.1M335.2,461.8v5.4M335.8,461.3v7.6M336.3,460.4v7M336.9,460.8v7.1M337.4,463v4.4M338,462v7M338.5,461.3v8.1M339.1,461.4v5.9M339.6,462.1v6.5M340.2,463v6.7M340.7,460.2v8.2M341.3,461.6v5.9M341.8,460.1v7.1M342.4,462.2v4.8M342.9,461.1v8.4M343.5,460.5v6.5M344,460.4v7.3M344.6,461v6.7M345.1,460.3v6.8M345.7,460.6v7.9M346.2,461.1v7.1M346.8,461.3v6.5M347.3,462.7v5.6M347.9,460.6v7.5M348.4,462.8v4.3M349,462.9v5.1M349.5,461.3v6.6M350.1,462.8v5.6M350.6,461v7.1M351.2,462.6v5.1M351.7,462.7v4.8M352.3,460.7v7M352.8,460.2v7.8M353.4,461.2v6.9M353.9,461.7v5.6M354.5,462.4v6.8M355,462.4v6.6M355.6,461v8.2M356.1,462.1v7.6M356.7,461v8.1M357.2,462.9v7M357.8,461.6v6.9M358.3,460.5v9.1M358.9,461.9v7.3M359.4,462.4v5.2M360,461.4v6M360.5,460.3v7.1M361.1,461.6v6M361.6,461.3v8.6M362.2,460.1v7.9M362.7,461.7v7.3M363.3,460.6v6.8M363.8,460.2v9.3M364.4,462.1v5.2M364.9,462.5v6.2M365.5,460.5v8.7M366,461.5v8.1M366.6,461.1v7.5M367.1,460.1v8.6M367.7,460.6v9.4M368.2,461.7v8.1M368.8,462.3v5.6M369.3,460.5v8.3M369.9,461v8.1M370.4,462.4v5.6M371,460.6v8.5M371.5,461v7.9M372.1,461.8v7M372.6,462.1v7.3M373.2,461.2v7M373.7,462.1v7.2M374.3,460.6v9.1M374.8,461.8v7.6M375.4,461.6v7.2M375.9,462.8v6.3M376.5,460v7M377,462.2v5.9M377.6,460.5v7.1M378.1,463v6.8M378.7,461.2v8.7M379.2,462.2v6.1M379.8,462.8v5.1M380.3,461v7.5M380.9,462.1v5.9M381.4,460.4v7.9M382,462.3v7M382.5,460v8.1M383.1,461.4v8.2M383.6,460.9v9M384.2,461.2v7.2M384.7,462.4v5.3M385.3,462.2v7.6M385.8,461.7v7.5M386.4,462.5v6.5M386.9,462.3v7.2M387.5,462.4v6.3M388,461v7.4M388.6,460.1v7M389.1,462.7v6.9M389.7,461.8v5.8M390.2,460.1v8.8M390.8,461.3v8.3M391.3,461.8v5.3M391.9,460.2v8.8M392.4,461.3v8.1M393,461.2v6.7M393.5,461.1v6.1M394.1,461.3v5.9M394.6,461.3v7.5M395.2,462.3v4.9M395.7,461.2v7.2M396.3,460.3v6.9M396.8,461.1v8.3M397.4,460.4v6.7M397.9,460.6v6.4M398.5,461.8v8M399,462v6.6M399.6,461v6.8M400.1,460.5v7.3M400.7,460.2v9.7M401.2,460.8v7.3M401.8,462.1v7.1M402.3,462.2v5M402.9,462.7v6.8M403.4,461.5v7.2M404,460.6v6.6M404.5,462.5v6.7M405.1,463v4.2M405.6,461.7v6.1M406.2,461.7v6.1M406.7,461.9v7.2M407.3,462.1v7.8M407.8,462.2v5.3M408.4,460.9v8.8M408.9,462.1v7.9M409.5,461.4v7M410,460.3v8.7M410.6,460.7v8.4M411.1,460.8v6.9M411.7,460.7v8.9M412.2,460.2v8.7M412.8,461.5v6.4M413.3,461v7.3M413.9,463v6.7M414.4,462v7.5M415,461.4v7.3M415.5,460.8v6.3M416.1,463v6.2M416.6,460.4v8.7M417.2,460.6v8.1M417.7,460.9v8M418.3,461.7v6.2M418.8,462.9v6.3M419.4,461.3v8.6M419.9,460.5v7.5M420.5,460.4v8.2M421,460v7.6M421.6,460v8.3M422.1,462v7.7M422.7,461.9v8M423.2,462.4v5.4M423.8,460.6v8.1M424.3,462.3v6.9M424.9,463v5M425.4,460.4v9.1M426,462.9v5M426.5,462.4v6.9M427.1,460.2v7.2M427.6,461.8v5.4M428.2,462.6v6.9M428.7,460.1v7.3M429.3,461v6.7M429.8,461.4v8M430.4,462.7v5.8M430.9,460.6v7.4M431.5,462v6.3M432,462.3v7.5M432.6,463v6.4M433.1,461.4v5.9M433.7,461.1v6.6M434.2,460.1v7.3M434.8,462.5v5M435.3,460.1v8.9M435.9,462.6v5.2M436.4,462v7.4M437,461.5v8M437.5,461.6v7.8M438.1,460.2v9.3M438.6,460.8v7.6M439.2,461.6v6.2M439.7,462.1v7M440.3,460.9v8.8M440.8,461.3v6.8M441.4,460.1v7.9M441.9,462.9v4.2M442.5,460.8v7M443,460.7v7.7M443.6,460v9.3M444.1,462v6.2M444.7,461.3v7.8M445.2,460.9v6.8M445.8,461.7v6.9M446.3,462.5v6.8M446.9,462.6v7.1M447.4,460.5v8.7M448,461.2v6.2M448.5,461.6v6.3M449.1,460v7.9M449.6,461.7v7.9M450.2,460v8M450.7,461.6v7.4M451.3,460.5v8.5M451.8,462.3v7.1M452.4,461.6v7.7M452.9,461.4v7.8M453.5,462.8v4.9M454,460.2v7.3M454.6,462.1v5.5M455.1,460.5v9.5M455.7,460.9v8.2M456.2,460.2v8.4M456.8,462.9v5.5M457.3,461v6.4M457.9,461.4v6.5M458.4,460v7M459,460v8M459.5,461.9v6.3M460.1,462.6v6.9M460.6,460.2v8M461.2,462.5v5.7M461.7,461v8.2M462.3,460.1v7.2M462.8,460.5v8.3M463.4,462.1v5.5M463.9,460.5v6.5M464.5,460.8v7.3M465,462.3v6.4M465.6,460.7v7M466.1,461v7.6M466.7,461v7.7M467.2,461.7v7.6M467.8,462.1v7.3M468.3,462.2v4.8M468.9,460.6v8.7M469.4,461.2v8.1M470,462.8v6.9M470.5,461.7v7.7M471.1,461v8.9M471.6,460v7.1M472.2,461.6v7.3M472.7,462.1v6.8M473.3,460v8.9M473.8,462.8v6.3M474.4,462.2v5M474.9,461.6v7.4M475.5,462.6v6.4M476,462.9v4.7M476.6,462v7M477.1,462.8v6.5M477.7,462.7v4.4M478.2,461.6v6.4M478.8,461.5v7.7M479.3,462.4v7.1M479.9,461.1v7.9M480.4,461.3v6.1M481,460.2v7.9M481.5,462.2v7.6M482.1,461.1v7.9M482.6,460.7v8.7M483.2,461.6v5.5M483.7,461.3v6.3M484.3,461.3v6.5M484.8,460.7v7.8M485.4,461.3v7.8M485.9,460.1v9.3M486.5,460.8v8.7M487,461.6v6.6M487.6,462v7.3M488.1,460.6v8.2M488.7,462.2v5.8M489.2,461v6.6M489.8,461.2v7.6M490.3,460.4v8.4M490.9,461.5v8.4M491.4,461.2v6.5M492,462.5v5.7M492.5,460.3v8.2M493.1,460.4v9.3M493.6,460.3v8.9M494.2,460.4v7.5M494.7,460.1v7.1M495.3,461.5v7.2M495.8,462.5v6.8M496.4,460.6v9.3M496.9,461.9v7.6M497.5,462.5v5.8M498,461.1v8.7M498.6,462.3v6.6M499.1,460.4v8.7M499.7,461.6v7M500.2,462.5v7.3M500.8,461.1v7.7M501.3,462.5v7.1M501.9,462.2v6.4M502.4,461.3v6.9M503,461.5v5.7M503.5,462v7.9M504.1,462.3v6.8M504.6,460.7v7.3M505.2,460.8v6.9M505.7,462.6v4.7M506.3,460.6v6.6M506.8,460.8v6.8M507.4,460.8v6.8M507.9,461.7v7.1M508.5,462.1v7.9M509,460.6v9.3M509.6,460.8v8.6M510.1,462.3v7M510.7,461.1v7.1M511.2,462.3v5.9M511.8,462.8v4.7M512.3,461v6.8M512.9,460.4v7.7M513.4,461.8v7.9M514,462.8v4.8M514.5,461v8.8M515.1,461.5v6.4M515.6,461.6v7.3M516.2,462.5v5.4M516.7,461.8v7.6M517.3,460.1v8.4M517.8,461.2v5.9M518.4,462.7v5.2M518.9,460.5v6.8M519.5,461.3v5.8M520,463v5.7M520.6,460.9v8.4M521.1,462v8M521.7,462.6v5M522.2,461.1v6.3M522.8,460.5v8.9M523.3,461.7v6.8M523.9,460.5v9.1M524.4,461.5v6.1M525,461.9v5.9M525.5,462.3v5.7M526.1,460.4v7.9M526.6,461.9v7M527.2,460.8v8.4M527.7,460.1v9.3M528.3,462.6v4.9M528.8,462.8v6M529.4,461.5v7.8M529.9,461.3v5.8M530.5,461.3v7.9M531,461.9v7.3M531.6,461.1v6M532.1,461.1v7.3M532.7,462v6.5M533.2,462.1v6.5M533.8,460.2v8.2M534.3,461.4v6.1M534.9,462.2v7.6M535.4,462.5v6.4M536,460.5v7.6M536.5,460.6v6.9M537.1,460.7v8.4M537.6,460.9v6.5M538.2,462.6v6.2M538.7,462.3v7.5M539.3,462.7v5M539.8,460.3v6.9M540.4,460.5v7.6M540.9,461.4v7M541.5,462.5v4.9M542,460.8v7.8M542.6,462.5v6.3M543.1,461.4v6.3M543.7,462v6.1M544.2,462.7v7.2M544.8,461v7.3M545.3,461.1v6.3M545.9,462.3v4.8M546.4,460.2v9.3M547,461.9v6.2M547.5,461v7.6M548.1,462v5.2M548.6,461.2v8.8M549.2,461.3v7.3M549.7,460.4v7.1M550.3,462.2v6.2M550.8,460.7v8.2M551.4,461.6v6.5M551.9,462v5.3M552.5,461.3v6.4M553,460.4v7.7M553.6,460.5v6.7M554.1,460.6v8.6M554.7,461.4v8.3M555.2,462.3v5.2M555.8,461.6v5.4M556.3,460.1v8.3M556.9,462.2v7.1" stroke="#14148c" stroke-width="0.7"/>
<rect x="322" y="462" width="235.2" height="6" fill="#14148c"/>
<path d="M353,448V480M378,437V482M470,446V478" stroke="#3a3ab0" stroke-width="0.8"/>
<path d="M572,381.9l1.8-2.9 1.8,.9 1.8-.3 1.9,1 1.8,.4 1.8-1.1 1.8,3.7 1.8-.3 1.8,5.5 1.9-.8 1.8,1.2 1.8-2.4 1.8-4.6 1.8-5.5 1.8-6.5 1.9-7.3 1.8-.2 1.8-.8 1.8,7.3 1.8,4.8 1.8,6.3 1.9,3.9 1.8,5 1.8,.8 1.8,3.8 1.8-3 1.8-3.3 1.9-3.3 1.8-5.4 1.8-2.5 1.8,5.8 1.8,.2 1.8-1 1.9,.7 1.8,2.8 1.8,1 1.8-3 1.8-2.7 1.8,1.6 1.9,0 1.8-3.7 1.8,3.3 1.8-2.4 1.8,1.9 1.8,1 1.9-.6 1.8-2.4 1.8,3 1.8-2.9M572,380.3l1.8-.4 1.8,1.4 1.8,.1 1.9,2.4 1.8-1.9 1.8,1.4 1.8-2.3 1.8,5.6 1.8,2.5 1.9,3.1 1.8,.2 1.8-5.7 1.8-4.5 1.8-4 1.8-6.2 1.9-4.5 1.8-11.5 1.8,1.5 1.8,5.9 1.8,5.8 1.8,5.7 1.9,7.2 1.8,7.6 1.8,4.4 1.8-.2 1.8-1.6 1.8-2.8 1.9-6.8 1.8,1 1.8-5.2 1.8,4.9 1.8-4.1 1.8,5.4 1.9-1.2 1.8-2 1.8,2.2 1.8-.2 1.8-1.1 1.8-1.7 1.9-1.1 1.8-.4 1.8,.8 1.8,2 1.8-.7 1.8,.7 1.9-.6 1.8,1.9 1.8,1.5 1.8-.3M572,379.8l1.8,3.2 1.8-2.4 1.8,.5 1.9-.2 1.8-1.5 1.8,1.6 1.8,2.2 1.8,2.7 1.8,3.4 1.9,1.1 1.8-1.1 1.8-4.7 1.8-2 1.8-6.4 1.8-8.8 1.9-7.4 1.8-4.5 1.8,1 1.8,9.6 1.8,7.1 1.8,8.7 1.9,6.5 1.8,2.2 1.8,2.9 1.8,.7 1.8-5.1 1.8-4.8 1.9-3.2 1.8-.6 1.8-1.8 1.8,2.4 1.8,2.2 1.8-.6 1.9,.8 1.8,.8 1.8-.2 1.8-1.1 1.8-1.6 1.8,.3 1.9-2.7 1.8,2.3 1.8-.7 1.8-.5 1.8-.8 1.8,3.3 1.9-1.2 1.8,.4 1.8,1 1.8-2.1M572,381.5l1.8,2.4 1.8-3.7 1.8,.7 1.9-.9 1.8-.3 1.8,4.3 1.8-1.3 1.8,1.1 1.8,2.5 1.9,1.7 1.8-2.3 1.8,0 1.8-1.5 1.8-6.1 1.8-3.1 1.9-6 1.8-5.8 1.8-2 1.8,4.2 1.8,6.9 1.8,6.3 1.9,1.6 1.8,6.7 1.8,3.8 1.8-2.5 1.8-1 1.8-.4 1.9-2.9 1.8-2.2 1.8,1 1.8-1 1.8,1.7 1.8-1.2 1.9,.7 1.8-1.2 1.8,1.4 1.8-1.4 1.8-1.2 1.8,1.2 1.9-.9 1.8-1.5 1.8,1.1 1.8,.5 1.8,.4 1.8-1.4 1.9,2.2 1.8-1.7 1.8,1.2 1.8-1.3M572,380.6l1.8,2.5 1.8-3.7 1.8,2.5 1.9-1.1 1.8,1.5 1.8-2.7 1.8,2 1.8,2.8 1.8,3.6 1.9,1.7 1.8,.5 1.8,1.3 1.8-3.9 1.8-4.1 1.8-7.3 1.9-9.3 1.8-8.4 1.8-4.5 1.8-.7 1.8,5.9 1.8,11.1 1.9,6.4 1.8,8.7 1.8,7.1 1.8,3.8 1.8-.2 1.8-3.2 1.9-3.3 1.8-7.1 1.8-1.8 1.8,1.3 1.8-4.6 1.8,4.3 1.9,2.9 1.8-2.2 1.8,1.5 1.8,1.7 1.8-2.8 1.8-1.2 1.9,1.3 1.8-5.9 1.8,3.8 1.8-2.8 1.8,2.7 1.8,.7 1.9-.2 1.8-.4 1.8,1.5 1.8-.5M572,383l1.8-2.5 1.8-1.6 1.8,.1 1.9,1.8 1.8-1.2 1.8,1.3 1.8,1.3 1.8,3 1.8-1.1 1.9,3.6 1.8-1.7 1.8,1.1 1.8-6 1.8,.9 1.8-6.4 1.9-2.4 1.8-6.8 1.8-2.8 1.8,3.2 1.8,4.9 1.8,6.4 1.9,5.6 1.8,2.7 1.8,2.3 1.8,1.1 1.8,.9 1.8-6 1.9-1.1 1.8-3.7 1.8-.5 1.8,1.9 1.8-1.8 1.8,4.5 1.9,.6 1.8-2.7 1.8-.4 1.8,.5 1.8-.9 1.8-1.1 1.9,1.5 1.8,1.3 1.8-2.7 1.8,1.1 1.8-1 1.8,.7 1.9-.4 1.8,.5 1.8,.3 1.8-.6M572,383.3l1.8-1.5 1.8-1 1.8,1 1.9-.8 1.8,.3 1.8,1.1 1.8,1.3 1.8,3.7 1.8,.3 1.9,3.4 1.8,.1 1.8-6 1.8,.1 1.8-7.8 1.8-12.8 1.9-4.1 1.8-6.7 1.8,2.2 1.8,8.9 1.8,6.5 1.8,9.6 1.9,7.6 1.8,3.5 1.8,3.9 1.8-.5 1.8-4 1.8-7.3 1.9-2.6 1.8-2.6 1.8,2.1 1.8-1 1.8,3.2 1.8,.2 1.9-.1 1.8,1.9 1.8-1.1 1.8-2.4 1.8,.6 1.8-.4 1.9-5.1 1.8,3.7 1.8-3.7 1.8,3.4 1.8,1.5 1.8,0 1.9,0 1.8-.8 1.8,1.1 1.8-2.7M572,378.6l1.8,2 1.8-.5 1.8-.8 1.9,3.5 1.8-2.7 1.8,.1 1.8,1.6 1.8,2.7 1.8,2 1.9,1.3 1.8,2.8 1.8-.6 1.8-3.1 1.8-5 1.8-3.7 1.9-9.5 1.8-3.6 1.8-5.3 1.8-1.6 1.8,5.1 1.8,5.5 1.9,9.8 1.8,7.8 1.8,1.1 1.8,7.1 1.8-2 1.8,.8 1.9-6.5 1.8-2.6 1.8-4.2 1.8-.3 1.8-.4 1.8,4.9 1.9-1.8 1.8,1.4 1.8-2 1.8,1.7 1.8-2.8 1.8,.7 1.9,.9 1.8-3.4 1.8-.8 1.8,2.3 1.8-.1 1.8-.8 1.9-1.1 1.8,2.9 1.8,.5 1.8-.3M572,379.2l1.8,1.6 1.8,0 1.8-.6 1.9,1.9 1.8-1.2 1.8,1.9 1.8,0 1.8,3.1 1.8,2.4 1.9-.4 1.8-.8 1.8-3.4 1.8-5.1 1.8-1.2 1.8-6.6 1.9-5.3 1.8,1.6 1.8,.7 1.8,4.6 1.8,3.8 1.8,7.3 1.9,2.3 1.8,1.8 1.8,3.1 1.8-1 1.8-3.1 1.8-2.7 1.9-1.7 1.8-3.2 1.8,.4 1.8,2.6 1.8,1.7 1.8,2.1 1.9-4.1 1.8,1.1 1.8-1.3 1.8,0 1.8-1.5 1.8,.6 1.9-.5 1.8,1.3 1.8-.9 1.8,2.7 1.8-.9 1.8-.4 1.9-1.2 1.8,1.1 1.8-1.5 1.8,1M572,381.1l1.8,.9 1.8-.8 1.8-.2 1.9-1.1 1.8,1.8 1.8,1.9 1.8,1.3 1.8,3.2 1.8,4.3 1.9,2.6 1.8-3.6 1.8-4.7 1.8-6.2 1.8-6.7 1.8-10.8 1.9-8.5 1.8-4.5 1.8,5.4 1.8,6.1 1.8,11.5 1.8,8 1.9,6.7 1.8,7.6 1.8,3.5 1.8-2.9 1.8-5.2 1.8-5.3 1.9-3.4 1.8-1.9 1.8-.4 1.8,.9 1.8,2.1 1.8,0 1.9,1.6 1.8,1.1 1.8-1.8 1.8-1.6 1.8-2.2 1.8-1 1.9,1.3 1.8-.9 1.8-.5 1.8,.4 1.8,1.2 1.8,2.2 1.9-1.3 1.8-2.1 1.8,1.7 1.8,.5M572,378.4l1.8,.2 1.8,1.7 1.8,1.8 1.9-2.4 1.8,1.8 1.8,1.3 1.8,1.7 1.8,2.9 1.8,.1 1.9,5.8 1.8-5.3 1.8-1.6 1.8-6.8 1.8-7.2 1.8-8.5 1.9-5.9 1.8-.4 1.8,3 1.8,10.5 1.8,5.6 1.8,6.5 1.9,7.6 1.8,2.4 1.8-1.8 1.8,1.6 1.8-7.5 1.8-3.8 1.9,.5 1.8-2 1.8-2.2 1.8,4.3 1.8,4 1.8-5.3 1.9,1.5 1.8-1.2 1.8,1.1 1.8-1.7 1.8-.7 1.8-2.4 1.9,2.2 1.8-.5 1.8,3.7 1.8-2.7 1.8-1.7 1.8,.5 1.9,1.7 1.8-.5 1.8-.2 1.8,2.6M572,380l1.8,1.8 1.8,.4 1.8-.3 1.9-.3 1.8-.1 1.8,2.7 1.8,.7 1.8,2.9 1.8,1.1 1.9,3.2 1.8-1.9 1.8-3.6 1.8-5 1.8-4 1.8-7.9 1.9-8.6 1.8-5.3 1.8,1 1.8,6.8 1.8,9.1 1.8,6.2 1.9,6.8 1.8,5.9 1.8,3.9 1.8-.2 1.8-4.7 1.8-5.9 1.9-2.7 1.8-3.2 1.8,1.2 1.8,1.8 1.8-1.3 1.8,4.5 1.9-1.6 1.8-1.2 1.8-.2 1.8-1.9 1.8,1 1.8-1 1.9-.2 1.8-.2 1.8,.7 1.8-.6 1.8-.4 1.8,1.9 1.9,0 1.8,.7 1.8-.4 1.8-.9M572,381.2l1.8-.7 1.8-.6 1.8,.6 1.9,1.1 1.8-.9 1.8,3.4 1.8,2.9 1.8,3 1.8,1.5 1.9,1.2 1.8-4.8 1.8-4.3 1.8-5.4 1.8-9.6 1.8-7.9 1.9-7.7 1.8,1.4 1.8,5.2 1.8,9.6 1.8,9.4 1.8,7.1 1.9,5.7 1.8,5.3 1.8-1.6 1.8-1.4 1.8-5.4 1.8-5.7 1.9-2.7 1.8,0 1.8-1.3 1.8,2.8 1.8,2.7 1.8-.4 1.9,1 1.8-.3 1.8-.7 1.8-2 1.8-1.6 1.8,.5 1.9-1.1 1.8,0 1.8,2.2 1.8-1.2 1.8,.6 1.8-.3 1.9,1.2 1.8-1.6 1.8,1.1 1.8-.9M572,381.2l1.8-.6 1.8,.5 1.8,.5 1.9-1.3 1.8-.1 1.8,1 1.8-.2 1.8,1.5 1.8,.9 1.9,2.4 1.8-.1 1.8,1.6 1.8-1.5 1.8-2.7 1.8-2.6 1.9-4.6 1.8-6.1 1.8-3 1.8-1 1.8,2.7 1.8,6.6 1.9,3.4 1.8,3.2 1.8,4.6 1.8,2.7 1.8-.4 1.8-.7 1.9-2.1 1.8-2.6 1.8-3.6 1.8,.2 1.8,1.4 1.8-.2 1.9,.9 1.8,1.8 1.8-1.7 1.8,.6 1.8-.9 1.8-2 1.9,.3 1.8,.2 1.8,.1 1.8-.2 1.8,0 1.8,.8 1.9-.8 1.8,.3 1.8,.4 1.8,.5M572,379.8l1.8,1.1 1.8,1.3 1.8-.3 1.9,1.1 1.8-4.7 1.8,1.9 1.8,.7 1.8,1.8 1.8,4.9 1.9,1.3 1.8,.1 1.8-3 1.8-2.8 1.8-1 1.8-7.8 1.9-1.8 1.8-8.4 1.8,.1 1.8,1.4 1.8,6.8 1.8,8 1.9-.2 1.8,6 1.8,4.3 1.8-.4 1.8-2.4 1.8-3.5 1.9-.6 1.8-2.9 1.8,1 1.8-2 1.8-2.1 1.8,7.2 1.9-1 1.8,1 1.8-.9 1.8,.1 1.8-2 1.8-.9 1.9,1.8 1.8-1.1 1.8-1.5 1.8,1.8 1.8-2 1.8-1.4 1.9,3 1.8-.1 1.8-2.8 1.8,1.3M572,381.8l1.8-1 1.8-.2 1.8,1.4 1.9,.7 1.8-1.6 1.8,.4 1.8,3.4 1.8,1.5 1.8,2.9 1.9,2.5 1.8-1.5 1.8-.8 1.8-7 1.8-5.2 1.8-7.3 1.9-10 1.8-5.2 1.8-.2 1.8,7.2 1.8,8.5 1.8,7.1 1.9,8.9 1.8,6 1.8,3.2 1.8,.8 1.8-3 1.8-5.6 1.9-4.5 1.8-2.8 1.8,.6 1.8-.8 1.8,1.8 1.8,1.5 1.9,.4 1.8,1.2 1.8-.8 1.8-1.9 1.8-.1 1.8-2.6 1.9,.3 1.8-1.7 1.8,3.7 1.8-2.5 1.8,.5 1.8,.3 1.9,.7 1.8,.8 1.8-.4 1.8,1M572,380.2l1.8,2.8 1.8-2.8 1.8,.9 1.9,.6 1.8,.3 1.8,1.3 1.8,2.9 1.8,2.2 1.8-.1 1.9-.9 1.8-4.6 1.8-1.4 1.8-6.3 1.8-7.3 1.8-7 1.9-1.5 1.8,1.9 1.8,7.8 1.8,6.9 1.8,7.5 1.8,4.8 1.9,3.5 1.8,0 1.8,.1 1.8-4.6 1.8-5.4 1.8-1.3 1.9-.5 1.8,1.6 1.8,2.2 1.8-3 1.8,2.6 1.8,.5 1.9,1.2 1.8-3.6 1.8,1.4 1.8-4.7 1.8,1 1.8,1.1 1.9-3.2 1.8,3.4 1.8-.4 1.8,0 1.8,.3 1.8-.1 1.9,2.1 1.8-2.9 1.8,1.4 1.8-.4M572,382l1.8-1.3 1.8,.2 1.8-.1 1.9,.2 1.8,0 1.8,.7 1.8,2.8 1.8,2.7 1.8,3.7 1.9,2.7 1.8-1.3 1.8-3.6 1.8-5 1.8-7.1 1.8-8.7 1.9-9.8 1.8-8.1 1.8,1.6 1.8,6.9 1.8,10.3 1.8,10 1.9,7.9 1.8,6.7 1.8,4.8 1.8-.4 1.8-4.2 1.8-6.1 1.9-5.5 1.8-1.6 1.8-.1 1.8,.6 1.8,1.1 1.8,1.9 1.9-.4 1.8,1.5 1.8-.8 1.8-1.5 1.8-1.7 1.8-1.1 1.9-.8 1.8,.8 1.8-.6 1.8,.4 1.8,.8 1.8,.8 1.9-.8 1.8,.9 1.8-.2 1.8,.4M572,381.3l1.8,2.5 1.8-1.5 1.8-3 1.9,2.5 1.8,.5 1.8,.3 1.8-1.7 1.8,5.3 1.8,2.3 1.9,2.8 1.8,1.4 1.8-3.1 1.8-5.6 1.8-5.5 1.8-6.6 1.9-8.6 1.8-8.2 1.8,.1 1.8,3.8 1.8,9.7 1.8,8 1.9,5.6 1.8,8.1 1.8,4.1 1.8,1 1.8-2.9 1.8-5.3 1.9-3.7 1.8-2 1.8-3.9 1.8,1.5 1.8,2.7 1.8,1.1 1.9,2.5 1.8-1.6 1.8,1.3 1.8-4.3 1.8-.9 1.8,.7 1.9-1.4 1.8,.4 1.8-1.3 1.8,2.7 1.8,.4 1.8,.3 1.9-1.6 1.8,.5 1.8,2 1.8-4.2M572,383.3l1.8-1.2 1.8-3.2 1.8,2.3 1.9,.7 1.8-1.4 1.8,3.7 1.8,1.4 1.8,7.1 1.8-1.3 1.9,.5 1.8-1.5 1.8-4.9 1.8-7.2 1.8-5.1 1.8-12.1 1.9-7.2 1.8-2 1.8,4.1 1.8,11 1.8,7.5 1.8,11.3 1.9,5.8 1.8,2.1 1.8,1.6 1.8,.4 1.8-4.4 1.8-6.6 1.9-6 1.8,.6 1.8,.6 1.8,4.7 1.8-2.6 1.8,3.5 1.9,.4 1.8-.4 1.8-.4 1.8-3.3 1.8-.2 1.8,1.8 1.9-5.1 1.8,1.6 1.8-.4 1.8,.2 1.8-.6 1.8,1.8 1.9,2.7 1.8-3.3 1.8,3.8 1.8-6.6" fill="none" stroke="#20e0ee" stroke-width="0.9" opacity="0.8"/>
<path d="M572,381.1l1.8-.2 1.8-.8 1.8,1.1 1.9-.4 1.8-.1 1.8-.5 1.8-1.6 1.8-2.7 1.8-4.6 1.9-3.7 1.8-1 1.8,2.8 1.8,5.6 1.8,5.9 1.8,5.6 1.9,8.1 1.8,7.8 1.8,.8 1.8-4.3 1.8-8.1 1.8-7.9 1.9-7.3 1.8-5.1 1.8-3.6 1.8,.2 1.8,2.1 1.8,5.5 1.9,2.7 1.8,2.2 1.8,2.9 1.8,.5 1.8,.6 1.8-1.6 1.9-2.9 1.8-.1 1.8-1.5 1.8,1.3 1.8,1.2 1.8,1.7 1.9,1.2 1.8,0 1.8-.6 1.8-.5 1.8-.6 1.8-1 1.9,0 1.8,.3 1.8,.7 1.8-.3M572,381.8l1.8,.8 1.8-1 1.8,.3 1.9,.6 1.8-1.7 1.8-1.6 1.8,.2 1.8-.3 1.8-6.1 1.9-2.7 1.8-2.9 1.8-.5 1.8,4.5 1.8,4.8 1.8,7.3 1.9,4.8 1.8,7 1.8,7 1.8,.7 1.8-4 1.8-10.4 1.9-7.4 1.8-5.6 1.8-6.9 1.8-2.6 1.8-1.2 1.8,4.4 1.9,5 1.8,4.9 1.8,3.6 1.8,.2 1.8,.8 1.8-.7 1.9-.6 1.8-2 1.8-1.9 1.8-1.6 1.8,3 1.8,.8 1.9,2.3 1.8-.6 1.8,2.2 1.8-3.1 1.8,1.5 1.8-2.2 1.9-.9 1.8-.6 1.8,1.2 1.8,1.9M572,381.7l1.8,.2 1.8-1.8 1.8-.1 1.9,.9 1.8,2.2 1.8-5.4 1.8-1.1 1.8-.1 1.8-5.1 1.9-.2 1.8,2.7 1.8,1.1 1.8,5.7 1.8,2 1.8,8.6 1.9,3.6 1.8,4.9 1.8-6.4 1.8-4 1.8-9.4 1.8-2.6 1.9-3 1.8-.2 1.8-5.3 1.8,6.2 1.8,2.4 1.8,4.1 1.9,.6 1.8,.1 1.8-.4 1.8-1.5 1.8,1.3 1.8-1.8 1.9,2.5 1.8-4.3 1.8,1.9 1.8-1.9 1.8,2.7 1.8,1.6 1.9,.9 1.8,.7 1.8-2.8 1.8-2 1.8,2.2 1.8,.1 1.9,.1 1.8-1.7 1.8,2.8 1.8-1.5M572,381.3l1.8,2.1 1.8-2.1 1.8-.6 1.9,.4 1.8,1.4 1.8-1.9 1.8-.7 1.8-1.3 1.8-4.7 1.9-3.5 1.8,2.1 1.8,1.9 1.8,2.2 1.8,5 1.8,3.8 1.9,3.4 1.8,6.4 1.8,.2 1.8-4.8 1.8-3.3 1.8-5.7 1.9-5 1.8-2 1.8-2.2 1.8-1.1 1.8,3.2 1.8,3.5 1.9,.6 1.8,3 1.8,.6 1.8,2.9 1.8-4.9 1.8,1.9 1.9-2.2 1.8-.7 1.8,2.1 1.8-1.7 1.8,3.5 1.8-2.2 1.9,1.4 1.8-.9 1.8-.5 1.8,.4 1.8-.7 1.8,.4 1.9-2.6 1.8,4.7 1.8-2.3 1.8,2.2M572,382.9l1.8-4.3 1.8,1.5 1.8,1.5 1.9,0 1.8-.1 1.8-4.9 1.8-5.7 1.8-1.7 1.8,1.2 1.9,.5 1.8,0 1.8,7.6 1.8,7.5 1.8,7.8 1.8,4.8 1.9,3.4 1.8-5 1.8-6.3 1.8-6.1 1.8-5.5 1.8-5.1 1.9-5.6 1.8-2.2 1.8,2.5 1.8,3.2 1.8,6.7 1.8-1.9 1.9,5 1.8,2.2 1.8,1.6 1.8-3.3 1.8-.1 1.8-3.7 1.9-1.2 1.8,.5 1.8,4.6 1.8,.4 1.8,.2 1.8,4.8 1.9-5.6 1.8,.5 1.8-1.1 1.8-1.2 1.8,4 1.8-1.2 1.9-4.5 1.8,1.7 1.8,1.4 1.8,.6M572,380.9l1.8-.1 1.8,.7 1.8-1.8 1.9-.9 1.8-2 1.8,1.8 1.8-3.4 1.8-3.2 1.8-3.4 1.9-1.3 1.8,5.8 1.8,2.5 1.8,4.5 1.8,6.8 1.8,8 1.9,4.2 1.8,4.4 1.8-5.7 1.8-9.6 1.8-8.2 1.8-4.6 1.9-3.1 1.8-5.5 1.8-.3 1.8,3.4 1.8,5.2 1.8,1.8 1.9,4.4 1.8,1.8 1.8,3.3 1.8-2.1 1.8-1.4 1.8-4.5 1.9,1 1.8-3 1.8,3.2 1.8,1.5 1.8-.5 1.8,5.1 1.9-2.3 1.8-4.4 1.8,3.2 1.8-2 1.8,.4 1.8,.8 1.9,0 1.8-3.7 1.8,1.5 1.8,3.1M572,379.7l1.8,2.5 1.8-4.2 1.8,5.5 1.9-2.1 1.8-2.3 1.8,4.8 1.8-2.9 1.8-5.5 1.8,.7 1.9-4.5 1.8-.3 1.8-.1 1.8,5.7 1.8-.9 1.8,6.6 1.9,7.3 1.8,1.6 1.8,5.5 1.8-.9 1.8-6.3 1.8-3.9 1.9-6 1.8-5.9 1.8,.9 1.8-2.9 1.8-.5 1.8,2.1 1.9,2.8 1.8,5.5 1.8-.5 1.8,1.8 1.8-.9 1.8,.6 1.9-2.3 1.8,.2 1.8-2.2 1.8,1.7 1.8,.5 1.8-.2 1.9-.3 1.8,.2 1.8,.2 1.8-.8 1.8,2.5 1.8-1.8 1.9,2.5 1.8,1.1 1.8-3.4 1.8-2.4M572,380.7l1.8,.6 1.8-.8 1.8-.4 1.9-.1 1.8,2.5 1.8-3.6 1.8-3.6 1.8-3.8 1.8-2.7 1.9-3.7 1.8,3.3 1.8,5 1.8,5.5 1.8,7 1.8,5.8 1.9,10.7 1.8,2.4 1.8-2.4 1.8-6.5 1.8-9.6 1.8-8.5 1.9-7.7 1.8-2.7 1.8-2.8 1.8,2 1.8,4.8 1.8,5.6 1.9,.7 1.8,5.2 1.8,.9 1.8-1 1.8,.7 1.8-2.4 1.9-3.1 1.8-.9 1.8,2 1.8-1.3 1.8,3 1.8,.8 1.9,1.2 1.8-.2 1.8-.8 1.8,.6 1.8-1.5 1.8-.7 1.9-1 1.8,2.5 1.8-.1 1.8,1.1M572,381.4l1.8-.4 1.8-.5 1.8,.7 1.9-.1 1.8-.1 1.8-.5 1.8-2.9 1.8-3.4 1.8-3.8 1.9-1.6 1.8-.2 1.8,4.3 1.8,3.9 1.8,4.8 1.8,6.6 1.9,7.8 1.8,6 1.8-1.5 1.8-6.2 1.8-8.2 1.8-6.2 1.9-6.2 1.8-3.7 1.8-2.7 1.8,1.4 1.8,3.8 1.8,4 1.9,3.7 1.8,1.7 1.8,.8 1.8,.4 1.8-.9 1.8-1.1 1.9-1.6 1.8-1.1 1.8,.4 1.8,.5 1.8,1.5 1.8,1.2 1.9,.9 1.8-.6 1.8-.7 1.8-.8 1.8,.2 1.8-.6 1.9,.4 1.8-.6 1.8,1.1 1.8-.7M572,380.9l1.8,.2 1.8-1.4 1.8,3 1.9,0 1.8-5.1 1.8-1 1.8-.5 1.8-7.6 1.8-3 1.9-.4 1.8,3.7 1.8,4.1 1.8,6.4 1.8,5.8 1.8,11.8 1.9,6.6 1.8,4.4 1.8-5.8 1.8-8.8 1.8-9.8 1.8-7.7 1.9-7.6 1.8-2.1 1.8,.2 1.8,1.7 1.8,5.7 1.8,4.8 1.9,3.5 1.8,1.3 1.8,.8 1.8,.5 1.8-2.5 1.8-3.4 1.9-.4 1.8-3.1 1.8,3.1 1.8,2.1 1.8,2.7 1.8-.3 1.9,1.2 1.8-1.6 1.8-2.1 1.8-1.2 1.8,.2 1.8-.5 1.9,2.7 1.8-.9 1.8,1.1 1.8-.6M572,380.3l1.8,.4 1.8-.6 1.8,1.3 1.9,.2 1.8-1 1.8-1.2 1.8-1.1 1.8-4.8 1.8-1.1 1.9-.8 1.8,1.1 1.8,4.2 1.8,3.3 1.8,3.3 1.8,5.3 1.9,5.2 1.8,2.3 1.8-2.9 1.8-3.9 1.8-5.9 1.8-4.7 1.9-5 1.8-.9 1.8-.7 1.8,.7 1.8,2.3 1.8,2.9 1.9,2.8 1.8,.5 1.8,1.1 1.8,.5 1.8-2.3 1.8,.8 1.9-1.2 1.8-2.1 1.8,.2 1.8,1.6 1.8,.5 1.8,1.1 1.9-1.1 1.8,1.1 1.8,.7 1.8-2.1 1.8,.3 1.8-.7 1.9,1.3 1.8-.4 1.8,1.3 1.8-.9M572,380.2l1.8,1 1.8-.3 1.8,.2 1.9,0 1.8-1 1.8-.9 1.8-2.2 1.8-6.5 1.8-2.9 1.9-3.2 1.8,1.9 1.8,7 1.8,4.5 1.8,7.5 1.8,8.4 1.9,7.9 1.8,6.3 1.8-3.5 1.8-9.6 1.8-10.1 1.8-7.1 1.9-6.6 1.8-5.2 1.8-2 1.8,2.2 1.8,4.8 1.8,5.2 1.9,3.5 1.8,2.9 1.8,1.4 1.8-.6 1.8-.9 1.8-2.4 1.9-1.4 1.8-.6 1.8,.3 1.8,1.6 1.8,.4 1.8,2 1.9,.8 1.8-.1 1.8-2.1 1.8,.3 1.8,.3 1.8-1 1.9,.2 1.8,.5 1.8,0 1.8,.4M572,381.1l1.8,.7 1.8-.9 1.8,0 1.9-.2 1.8,.7 1.8-1.4 1.8,.2 1.8-3.2 1.8-3 1.9-2 1.8-.9 1.8,1.7 1.8,3.7 1.8,2.7 1.8,4.8 1.9,4.6 1.8,7 1.8,2.3 1.8-2.6 1.8-6 1.8-6.6 1.9-4.6 1.8-3.5 1.8-3.3 1.8-.6 1.8,.9 1.8,4 1.9,2.4 1.8,2 1.8,2 1.8-.5 1.8,1.6 1.8-.8 1.9-1.9 1.8-1.7 1.8-.4 1.8,.9 1.8-.6 1.8,2.7 1.9,1.1 1.8-.5 1.8-.3 1.8-.1 1.8-.3 1.8,.3 1.9-.8 1.8-.4 1.8,.3 1.8,.5M572,380.2l1.8-1.1 1.8,2.2 1.8-1.5 1.9,.1 1.8-.8 1.8,.4 1.8,.3 1.8-4.3 1.8-4.6 1.9-2.6 1.8-2.4 1.8,2.4 1.8,4.7 1.8,4.7 1.8,4.8 1.9,8.8 1.8,9.2 1.8,4.1 1.8-3.1 1.8-5.8 1.8-10.3 1.9-7.5 1.8-5.8 1.8-3.9 1.8-2.3 1.8,1.5 1.8,5.3 1.9,5.8 1.8,2.8 1.8,1.6 1.8-.4 1.8,4.3 1.8-5.5 1.9-1.1 1.8-2 1.8,1.2 1.8-.7 1.8-.5 1.8,3.1 1.9,1.4 1.8-.3 1.8-1.1 1.8-.2 1.8-.4 1.8,0 1.9-.6 1.8,1.2 1.8-1.3 1.8-.6M572,379.8l1.8,2 1.8-2.6 1.8,.5 1.9,1.6 1.8-2.5 1.8,4.5 1.8-7.2 1.8-.7 1.8-2.1 1.9-3.9 1.8,.1 1.8,4.5 1.8,5.1 1.8,5.4 1.8,4.7 1.9,4.4 1.8,6 1.8-2.9 1.8-8.5 1.8-4.7 1.8-6.8 1.9-1.8 1.8-1.5 1.8-1.4 1.8-2.1 1.8,3.6 1.8,5.2 1.9,3.2 1.8-.5 1.8,1.3 1.8,3.6 1.8-4.4 1.8-2 1.9-.4 1.8,.1 1.8-2.2 1.8,2.1 1.8-.2 1.8,2.2 1.9,3.7 1.8-2 1.8-1.8 1.8-1.8 1.8,.7 1.8,2 1.9-2.4 1.8,3.2 1.8-4.2 1.8,1.7M572,378.2l1.8,2.7 1.8-.2 1.8,1.5 1.9-6 1.8,1.8 1.8,1.8 1.8,0 1.8-3.5 1.8-2.3 1.9-5 1.8-.7 1.8,.4 1.8,5.1 1.8,4.9 1.8,6.1 1.9,3.1 1.8,7.6 1.8,5.2 1.8-1.8 1.8-5.9 1.8-9.7 1.9-3.4 1.8-7.2 1.8-4.1 1.8-2.7 1.8,5.6 1.8,1.5 1.9,5.8 1.8,1.6 1.8-1 1.8,1.9 1.8,2.9 1.8-3.1 1.9-2 1.8,0 1.8-.8 1.8-1.1 1.8,2 1.8,1 1.9-2.2 1.8,5.1 1.8-2.1 1.8,2.6 1.8-4.2 1.8-1 1.9,4 1.8-4.1 1.8,1.6 1.8,2M572,380.3l1.8,1.1 1.8-.2 1.8,.8 1.9-1.7 1.8,.3 1.8-1.3 1.8-1.6 1.8-4.1 1.8-4.5 1.9-3.2 1.8,1 1.8,3.6 1.8,6.6 1.8,5.4 1.8,7.2 1.9,9.2 1.8,6.2 1.8-.7 1.8-8.2 1.8-8.8 1.8-7.6 1.9-6.5 1.8-5 1.8-3.1 1.8,1.7 1.8,4.9 1.8,4.1 1.9,3.8 1.8,2.2 1.8,1.7 1.8,.6 1.8-1.5 1.8-1.3 1.9-2.6 1.8-.6 1.8,.2 1.8,.5 1.8,2.2 1.8,.7 1.9,.6 1.8,.1 1.8,.1 1.8-1.3 1.8-.3 1.8-.7 1.9,.3 1.8-.2 1.8,.3 1.8,.6M572,380.8l1.8,1.7 1.8-2.3 1.8-1 1.9,3.2 1.8-1.4 1.8-4.3 1.8-.3 1.8-5.2 1.8-2.6 1.9-5.7 1.8,1.7 1.8,4.5 1.8,6 1.8,7.3 1.8,7.9 1.9,10.7 1.8,6 1.8-1.5 1.8-8.9 1.8-9.4 1.8-9.2 1.9-8.1 1.8-3.8 1.8-3.1 1.8,1.5 1.8,4.9 1.8,7.7 1.9,2.6 1.8,3.1 1.8-2 1.8,2.4 1.8-2.9 1.8,0 1.9-1.2 1.8-2.4 1.8,1.6 1.8-.4 1.8,3.6 1.8-1 1.9,2.1 1.8,.6 1.8-.6 1.8-1.6 1.8,1.9 1.8-2.9 1.9,.1 1.8-2.5 1.8,5.4 1.8-2.4M572,380.8l1.8-1.2 1.8,1.8 1.8-1 1.9-.6 1.8,1.9 1.8-4 1.8,.9 1.8-3.3 1.8-1.9 1.9-3.7 1.8-1.5 1.8,4.5 1.8,5 1.8,4.9 1.8,6.5 1.9,4 1.8,6.4 1.8,.4 1.8-5.3 1.8-6.8 1.8-8.4 1.9-3.6 1.8-3.5 1.8-2.3 1.8,.7 1.8,3.4 1.8,2.1 1.9,2.2 1.8,4.4 1.8-.3 1.8,.5 1.8-1.3 1.8-1.2 1.9-.8 1.8-2.1 1.8,1.2 1.8,1.1 1.8,.9 1.8,.3 1.9,2 1.8,.9 1.8-2.9 1.8,1.3 1.8-.7 1.8-3.7 1.9,1.9 1.8,.3 1.8,1.5 1.8-.5M572,380.3l1.8-.4 1.8,.9 1.8,.1 1.9,.2 1.8-1.1 1.8,.6 1.8-2.1 1.8-3.4 1.8-5.7 1.9-3.9 1.8,.6 1.8,3.9 1.8,4.4 1.8,7.9 1.8,7.9 1.9,9.7 1.8,6 1.8,1.1 1.8-6.7 1.8-10.3 1.8-8.3 1.9-7.9 1.8-6.1 1.8-1.6 1.8-.8 1.8,4 1.8,5.8 1.9,3.6 1.8,3.1 1.8,1.5 1.8-.5 1.8,.3 1.8-2.8 1.9-.8 1.8-2.6 1.8,1.7 1.8,.8 1.8,1.3 1.8,1.1 1.9,1.3 1.8-2.1 1.8,.1 1.8,.1 1.8-.1 1.8-.6 1.9-.8 1.8,1.2 1.8-.4 1.8-.4M572,381.2l1.8,.6 1.8-.5 1.8-1.2 1.9-.2 1.8-.9 1.8,3.8 1.8-6.6 1.8-3.3 1.8-5.2 1.9-3.4 1.8,.2 1.8,2.8 1.8,6.8 1.8,5.9 1.8,9.4 1.9,9.1 1.8,7.8 1.8,1.3 1.8-8.2 1.8-8.6 1.8-10.5 1.9-6.8 1.8-7.8 1.8-1.1 1.8-.3 1.8,5.3 1.8,5.1 1.9,3.8 1.8,3.5 1.8,1.1 1.8,2.3 1.8-1.3 1.8-2.3 1.9-3.9 1.8-1.3 1.8,.3 1.8,1.6 1.8,2.5 1.8,0 1.9,3.1 1.8-1.3 1.8-2.9 1.8,.9 1.8-2.9 1.8,1.8 1.9,.3 1.8,.1 1.8,.5 1.8,0M572,379.4l1.8,3.4 1.8-4.1 1.8,1.1 1.9,3.2 1.8-5.5 1.8,3 1.8-4.4 1.8-1.3 1.8-2.6 1.9,1.8 1.8-2 1.8,4 1.8,4.4 1.8,2.8 1.8,4.3 1.9,6.4 1.8,2.6 1.8-1.2 1.8-8 1.8-4.8 1.8-3.5 1.9-4.6 1.8-2.7 1.8-.4 1.8,.7 1.8,2.8 1.8,4.5 1.9-.1 1.8,4.5 1.8-.8 1.8-2.2 1.8,1.4 1.8-1.4 1.9-.2 1.8,.2 1.8-1.8 1.8,.4 1.8,1.1 1.8,.1 1.9,.5 1.8,1.2 1.8-.8 1.8-1.1 1.8-.6 1.8,1.5 1.9-1.1 1.8-.6 1.8,1.3 1.8-.1" fill="none" stroke="#ff1818" stroke-width="0.9" opacity="0.8"/>
<path d="M572,465.5l1.8-.3 1.8-.6 1.8,.2 1.9,.8 1.8-.7 1.8-3.5 1.8-5.1 1.8-.7 1.8-3.4 1.9,3.4 1.8,4.1 1.8,5.4 1.8,6.4 1.8,4.9 1.8,8.1 1.9,3 1.8-5.3 1.8-6.2 1.8-5.8 1.8-4.9 1.8-2.7 1.9-2.5 1.8-4.8 1.8-3.4 1.8,1.1 1.8,1.8 1.8,4.6 1.9,3.5 1.8,4.2 1.8-.6 1.8,1.5 1.8-2 1.8-4.6 1.9-.1 1.8,1.4 1.8,1.6 1.8,1.4 1.8,1.5 1.8,2.1 1.9-1.8 1.8-2.1 1.8,.2 1.8,.7 1.8,.6 1.8-1.2 1.9-.1 1.8-.3 1.8,.3 1.8,.9M572,466.9l1.8-.1 1.8-.4 1.8-3 1.9,2.1 1.8-1.5 1.8-1.5 1.8-7.6 1.8-6.7 1.8-5.7 1.9,1 1.8,5.2 1.8,8.8 1.8,9.9 1.8,11.1 1.8,14.6 1.9,11.5 1.8,2.5 1.8-7.8 1.8-16.3 1.8-10.3 1.8-6.9 1.9-5.8 1.8-10.3 1.8-4.5 1.8-9.5 1.8,.6 1.8,9.4 1.9,6.2 1.8,10.7 1.8,4.1 1.8-.2 1.8,.7 1.8-4.8 1.9-2.5 1.8-1.5 1.8,2.7 1.8,5.4 1.8,.6 1.8,4.6 1.9-1.4 1.8-1.3 1.8-3.8 1.8-.9 1.8,0 1.8,1.4 1.9-.1 1.8,.8 1.8,.4 1.8-2.1M572,464.7l1.8,1.4 1.8,.1 1.8-2.3 1.9,.7 1.8-5.2 1.8-6.2 1.8-7.8 1.8-3.8 1.8,1.4 1.9,7.7 1.8,7.7 1.8,11.2 1.8,14 1.8,12.8 1.8,10.3 1.9-2.5 1.8-11.6 1.8-13.4 1.8-9.6 1.8-5.6 1.8-6.2 1.9-8.7 1.8-8.8 1.8-4.5 1.8,3.3 1.8,8.9 1.8,9.3 1.9,7.8 1.8,2.9 1.8,.3 1.8-3.6 1.8-3.2 1.8-2.1 1.9-.1 1.8,2.2 1.8,5.2 1.8,2.7 1.8,2.6 1.8-.6 1.9-2.4 1.8-2.3 1.8-1.3 1.8-.7 1.8-.3 1.8,.8 1.9,.3 1.8,.3 1.8-.1 1.8-.3M572,463.6l1.8,1.7 1.8-.9 1.8,0 1.9-1.1 1.8-.8 1.8-3.8 1.8-4.8 1.8-11 1.8-2.5 1.9,5.3 1.8,7.6 1.8,11 1.8,9.8 1.8,10.9 1.8,12.2 1.9,10 1.8-6.9 1.8-10.9 1.8-14.2 1.8-7.5 1.8-6.5 1.9-5 1.8-7.2 1.8-10.5 1.8-1.3 1.8,3.8 1.8,11.1 1.9,7.8 1.8,6.7 1.8,2 1.8-2.3 1.8-3.1 1.8-.3 1.9-4.2 1.8-.3 1.8,3.5 1.8,7.1 1.8,1.2 1.8,2.3 1.9-5.4 1.8,3.8 1.8-4.8 1.8,.5 1.8-2.2 1.8,.7 1.9,1.7 1.8,1.6 1.8-2.1 1.8-1.1M572,465.4l1.8,1.4 1.8-1.3 1.8-2.3 1.9,2.5 1.8-.3 1.8-1.4 1.8-2.6 1.8-7.7 1.8-2.2 1.9,.6 1.8,4 1.8,3.5 1.8,6.4 1.8,5.9 1.8,10.6 1.9,7.8 1.8-1.4 1.8-4.1 1.8-10.3 1.8-4.4 1.8-6 1.9-1.1 1.8-3.3 1.8-5.7 1.8-7.3 1.8,2.7 1.8,3.6 1.9,8 1.8,3.6 1.8,4 1.8-1.9 1.8-1.8 1.8-3.5 1.9,1.5 1.8-1.4 1.8,1.7 1.8,1.6 1.8,2.9 1.8,3 1.9-3.2 1.8,1.1 1.8-.4 1.8-1.9 1.8,1.3 1.8-2.6 1.9,.9 1.8-.4 1.8,.1 1.8,2.7M572,466l1.8-.2 1.8,.4 1.8-.6 1.9-.8 1.8-4.2 1.8-6.8 1.8-6.2 1.8-1.8 1.8,2.3 1.9,6.2 1.8,8.2 1.8,7.7 1.8,9.8 1.8,12.3 1.8,8.4 1.9-4.9 1.8-9.5 1.8-10.6 1.8-8.1 1.8-4.5 1.8-4.1 1.9-7.1 1.8-6.6 1.8-3.3 1.8,2.1 1.8,9.2 1.8,6.8 1.9,5.4 1.8,2.4 1.8-1.4 1.8-1.7 1.8-1.9 1.8-2.1 1.9-.6 1.8,2.7 1.8,3 1.8,2.8 1.8,1.3 1.8-1.1 1.9-1.5 1.8-1.3 1.8-.9 1.8-.3 1.8,.3 1.8,.7 1.9,.1 1.8,.1 1.8-.3 1.8,.2M572,466.3l1.8-.7 1.8-.3 1.8,1.1 1.9-2.4 1.8-1.4 1.8-4.4 1.8-3.5 1.8-2.5 1.8,1.7 1.9,4.8 1.8,5.2 1.8,4.8 1.8,7.8 1.8,7.8 1.8,5 1.9-2.4 1.8-7.4 1.8-5.8 1.8-6.2 1.8-2.4 1.8-4 1.9-4.4 1.8-5.3 1.8-2.2 1.8,2.3 1.8,5.5 1.8,4.2 1.9,5.1 1.8,.9 1.8,.1 1.8-2.1 1.8-.9 1.8-2.1 1.9,.3 1.8,.4 1.8,4.3 1.8,1.3 1.8,0 1.8-.4 1.9-.7 1.8-1.7 1.8-1 1.8,.6 1.8,1 1.8-.1 1.9,.1 1.8-.5 1.8,1.2 1.8-1.5M572,465.2l1.8,.9 1.8,.7 1.8-2.8 1.9-.2 1.8-1.1 1.8-5 1.8-5.6 1.8-3.4 1.8-.1 1.9,5.5 1.8,6.8 1.8,5.4 1.8,8.7 1.8,10.2 1.8,9.4 1.9,1.5 1.8-9.7 1.8-9.6 1.8-5.7 1.8-6.5 1.8-3.6 1.9-5.5 1.8-6.7 1.8-2 1.8-1.3 1.8,7.4 1.8,6.2 1.9,7.2 1.8,3.1 1.8-3.4 1.8,.6 1.8-3 1.8-.6 1.9-.3 1.8-.1 1.8,2.5 1.8,3.5 1.8-.1 1.8,1.5 1.9-1.2 1.8-2 1.8-2.3 1.8,1.5 1.8-.9 1.8,0 1.9,1.2 1.8-1.1 1.8,1.8 1.8-1M572,466.5l1.8-2.6 1.8,.7 1.8,2.1 1.9-.3 1.8-3.7 1.8-2.5 1.8-8.2 1.8-1.5 1.8-4.3 1.9,6.4 1.8,7.4 1.8,4.5 1.8,9.4 1.8,5.8 1.8,14.7 1.9,1.5 1.8-4.5 1.8-13.4 1.8-3.7 1.8-7.4 1.8-1.7 1.9-9.7 1.8-6 1.8-2 1.8-2.1 1.8,2.4 1.8,7.6 1.9,6.2 1.8,6.6 1.8-1.4 1.8,0 1.8-.8 1.8-5.3 1.9-.7 1.8,.6 1.8,5.5 1.8,.4 1.8,4.4 1.8,0 1.9-1.5 1.8-1 1.8-1.5 1.8-2.5 1.8,2 1.8,3.6 1.9-3.3 1.8-.6 1.8,.2 1.8-.6M572,467.6l1.8-1 1.8-.1 1.8-1.7 1.9,.5 1.8-2 1.8-5.4 1.8-7.4 1.8-3.8 1.8,.7 1.9,4.1 1.8,5.2 1.8,8.2 1.8,5.3 1.8,11.3 1.8,14.2 1.9,1.8 1.8-1.7 1.8-13.9 1.8-11.5 1.8-2.4 1.8-7.3 1.9-2.7 1.8-9.1 1.8-7.6 1.8,3.8 1.8,.9 1.8,9.5 1.9,7 1.8,2.6 1.8,1.1 1.8,1.7 1.8-1 1.8-3.6 1.9-3.3 1.8,.8 1.8,4.1 1.8,2.9 1.8-.7 1.8,4.2 1.9-1.5 1.8-4.8 1.8,.6 1.8-2.3 1.8,2.9 1.8-.1 1.9-.3 1.8-.1 1.8,.4 1.8,.2M572,466.5l1.8-.8 1.8,.2 1.8,.1 1.9-2.1 1.8-2 1.8-2.3 1.8-5.9 1.8-3.9 1.8,.1 1.9,3.6 1.8,6.8 1.8,6.3 1.8,7 1.8,10.6 1.8,6.8 1.9,2.6 1.8-7.2 1.8-9.3 1.8-5.8 1.8-5.4 1.8-3.9 1.9-4.3 1.8-5.5 1.8-6.2 1.8,.7 1.8,5.1 1.8,5.8 1.9,5.9 1.8,2.6 1.8,1.7 1.8-.7 1.8-2.8 1.8-2.5 1.9-1.2 1.8,2.4 1.8,1.8 1.8,3.4 1.8,.6 1.8,0 1.9-.6 1.8-1.3 1.8-.7 1.8-.7 1.8-.3 1.8-.1 1.9,.3 1.8,1 1.8-.1 1.8-.3M572,465.3l1.8,2.6 1.8-3.6 1.8,1.7 1.9-.8 1.8-.6 1.8-1.8 1.8-4.1 1.8-3.3 1.8-4.6 1.9,5.6 1.8,1.4 1.8,5.6 1.8,6.9 1.8,4.8 1.8,7.6 1.9,3.5 1.8,1.3 1.8-8.1 1.8-6.9 1.8-3.9 1.8-4.7 1.9-5.5 1.8-4.1 1.8-2 1.8-1.4 1.8,.4 1.8,6.4 1.9,4 1.8,3.9 1.8,3.3 1.8-6.5 1.8,3.5 1.8-.9 1.9-4.2 1.8,3.1 1.8-2.4 1.8,6 1.8,1.5 1.8-.5 1.9,1.3 1.8-1.3 1.8-1 1.8-1.5 1.8,.2 1.8,1.7 1.9-4.3 1.8,3.8 1.8-3.3 1.8,.7" fill="none" stroke="#000000" stroke-width="0.9" opacity="0.8"/>
<path d="M572,462.6l1.8-3.4 1.8,.1 1.8,2.2 1.9,.4 1.8-1.2 1.8-3.8 1.8-3.5 1.8,1.4 1.8-.3 1.9,5.2 1.8,5.4 1.8,1.4 1.8,4 1.8,4.1 1.8,2 1.9,.4 1.8-2.5 1.8-3.9 1.8-4 1.8-1.5 1.8-5.5 1.9-4.6 1.8-3.6 1.8-1.7 1.8,4.2 1.8,2.8 1.8,7.4 1.9,3.8 1.8,2.3 1.8,1.9 1.8-2.8 1.8-3.3 1.8-5.2 1.9-3.5 1.8,2.1 1.8,.4 1.8,4.5 1.8,4.2 1.8,.7 1.9-1 1.8-.3 1.8-1.5 1.8-.3 1.8-1 1.8,0 1.9,.5 1.8,.1 1.8,.2 1.8-.4M572,465.7l1.8-3.8 1.8-1.3 1.8-1.4 1.9-1.9 1.8,4.8 1.8,1.1 1.8-4.3 1.8-6.6 1.8,2.6 1.9-2.2 1.8,5 1.8,5.4 1.8,3.2 1.8,3.4 1.8,1.6 1.9,4.7 1.8-.6 1.8-.1 1.8-3.7 1.8-3.3 1.8-.8 1.9-6.9 1.8-2.5 1.8-6.2 1.8-.1 1.8,1 1.8,2.6 1.9,7 1.8,3.8 1.8,.9 1.8,7.3 1.8-2 1.8-5.1 1.9-2.3 1.8-2.4 1.8-3.6 1.8,1.1 1.8,2.8 1.8,2 1.9,2.7 1.8,2.1 1.8-.6 1.8-1.7 1.8-.8 1.8-.7 1.9,.5 1.8-.5 1.8-1.5 1.8,1.4M572,462.3l1.8-1.6 1.8-3.2 1.8,1 1.9-1.1 1.8,1.7 1.8,.3 1.8-6.1 1.8-5 1.8,1 1.9,3.7 1.8,5.9 1.8,5.2 1.8,3.9 1.8,5.5 1.8,6.2 1.9,.9 1.8-1.9 1.8-3.1 1.8-6.6 1.8-4.1 1.8-1.1 1.9-5.9 1.8-9.6 1.8-3.4 1.8-.4 1.8,5.8 1.8,5.9 1.9,9.5 1.8,3.1 1.8,4 1.8,1 1.8-3.5 1.8-7.1 1.9-3.6 1.8-3.5 1.8-1.3 1.8,3 1.8,5.8 1.8,6.5 1.9,1 1.8-.8 1.8-2.9 1.8,.2 1.8-1.2 1.8-.7 1.9-.8 1.8,1.3 1.8-.2 1.8-1.1M572,463.3l1.8-3.7 1.8,.9 1.8-.6 1.9,1.4 1.8,.3 1.8-1.9 1.8-2.2 1.8-2.1 1.8-.6 1.9,3.5 1.8,1.8 1.8,3.8 1.8,3.6 1.8,4.7 1.8,1.7 1.9,1.7 1.8,1.1 1.8-2.6 1.8-5.7 1.8,0 1.8-3.7 1.9-6.1 1.8-3.9 1.8-1.9 1.8-1.5 1.8,3.5 1.8,5.7 1.9,6.2 1.8,1.2 1.8,3 1.8-.8 1.8-2.5 1.8-1.1 1.9-4.4 1.8-4.2 1.8,1 1.8,3.5 1.8,3.3 1.8,4.1 1.9,.4 1.8-3.7 1.8-.4 1.8,1.1 1.8-1.9 1.8,1.7 1.9-.7 1.8,.5 1.8,1.1 1.8-1.6M572,460l1.8-1.9 1.8,2.2 1.8-.5 1.9,1.6 1.8-2 1.8-5.2 1.8-3.4 1.8,.8 1.8,4.5 1.9,4.1 1.8,5.3 1.8,2.1 1.8,6.1 1.8,2.8 1.8,1.8 1.9-.9 1.8-4 1.8-3 1.8-4.1 1.8-3.9 1.8-3.3 1.9-6.2 1.8-4.1 1.8,.1 1.8,3.4 1.8,6.7 1.8,6 1.9,5 1.8,2.2 1.8-.1 1.8-2.1 1.8-5 1.8-5.9 1.9-1.2 1.8-1.1 1.8,3.1 1.8,4.7 1.8,3.6 1.8,1.7 1.9-1.2 1.8-.4 1.8-1.8 1.8-1.7 1.8-.2 1.8,.3 1.9,.9 1.8,.4 1.8-.8 1.8-.1M572,462.6l1.8-4.1 1.8-2.3 1.8,.2 1.9,2.8 1.8-.1 1.8-5.4 1.8-3.2 1.8-3.6 1.8,1.6 1.9,4.8 1.8,6.2 1.8,5.9 1.8,6 1.8,3.4 1.8,5.9 1.9,2 1.8-2.9 1.8-5.6 1.8-4.8 1.8-2.4 1.8-5.5 1.9-7.3 1.8-6.4 1.8-4.4 1.8,1.2 1.8,6.6 1.8,6.4 1.9,7.2 1.8,5.4 1.8,3.7 1.8-.9 1.8-2.8 1.8-6.8 1.9-6.1 1.8-1.4 1.8,.7 1.8,4.1 1.8,4.8 1.8,3.6 1.9,2.2 1.8-.8 1.8-3.3 1.8,1 1.8-2.8 1.8,1 1.9-1.1 1.8-.1 1.8,1.2 1.8-.1M572,464l1.8-.1 1.8-3.1 1.8,.6 1.9,0 1.8,2 1.8-2.7 1.8-3.7 1.8-1.1 1.8,.4 1.9,2.1 1.8,3.1 1.8,3.6 1.8,1.8 1.8,4.3 1.8,2.2 1.9,1.2 1.8-.6 1.8-2.7 1.8-1.3 1.8-4.3 1.8-2.8 1.9-2 1.8-3.5 1.8-2.6 1.8-.2 1.8,2.6 1.8,5.5 1.9,2.4 1.8,4.1 1.8,.2 1.8-1 1.8,0 1.8-4.6 1.9-2.2 1.8-.3 1.8,.3 1.8,1.1 1.8,2.9 1.8,.4 1.9,2.5 1.8-.9 1.8-1.4 1.8,1.3 1.8-1.1 1.8-.2 1.9-.8 1.8-.4 1.8-.2 1.8,1.9M572,464.2l1.8-2.7 1.8-.5 1.8-.6 1.9,1.8 1.8-1.2 1.8-1.4 1.8-2.2 1.8-3.4 1.8,1.5 1.9,1.9 1.8,5.1 1.8,3.1 1.8,2.9 1.8,2.6 1.8,3.4 1.9,1.2 1.8-.8 1.8-2.9 1.8-3.2 1.8-2.5 1.8-2.6 1.9-4.9 1.8-3.8 1.8-1.5 1.8-.8 1.8,4.5 1.8,3.9 1.9,3.4 1.8,4.8 1.8,1.6 1.8-.4 1.8-2.6 1.8-3.5 1.9-3.4 1.8-1.6 1.8-.6 1.8,4.1 1.8,2.6 1.8,2.8 1.9,.5 1.8-.4 1.8-1.7 1.8-.4 1.8-1.9 1.8,1.5 1.9-.8 1.8,1.9 1.8-1.4 1.8-.3M572,462.4l1.8,.4 1.8-2.3 1.8,.1 1.9,.9 1.8,1 1.8-4.2 1.8-2.3 1.8-2.8 1.8-.2 1.9,3.2 1.8,5.6 1.8,1.7 1.8,5.5 1.8,3.3 1.8,2 1.9,1.1 1.8,0 1.8-1.1 1.8-3.5 1.8-4.9 1.8-2.3 1.9-4.4 1.8-3 1.8-5.8 1.8,.3 1.8,2.1 1.8,8.9 1.9,4.2 1.8,3.9 1.8,.7 1.8,2 1.8-2.5 1.8-4.6 1.9-4.1 1.8-4.9 1.8,1.2 1.8,5.1 1.8-1.6 1.8,7.4 1.9,1.4 1.8,.6 1.8-2.5 1.8-1.8 1.8-2.1 1.8,3.3 1.9,.1 1.8-1.9 1.8-2.1 1.8,1M572,464.1l1.8-3.7 1.8-2.8 1.8-1.6 1.9,1.8 1.8,1.4 1.8-1.1 1.8-5.5 1.8-5.2 1.8-1.3 1.9,4.3 1.8,4.1 1.8,6.3 1.8,6.1 1.8,4.5 1.8,6.8 1.9,4 1.8,.2 1.8-2.2 1.8-6.5 1.8-5.9 1.8-4.4 1.9-5.4 1.8-7.3 1.8-6.2 1.8-1.9 1.8,3.6 1.8,6.7 1.9,7.3 1.8,8 1.8,3.4 1.8,2.9 1.8-2.7 1.8-5.4 1.9-5.6 1.8-6 1.8-.5 1.8,3.4 1.8,5.1 1.8,3.5 1.9,3.5 1.8,1.1 1.8-1.8 1.8-1.1 1.8-1.3 1.8-1.6 1.9,.4 1.8,0 1.8,.4 1.8-.5" fill="none" stroke="#000000" stroke-width="0.8" opacity="0.8"/>
<path d="M572,466.1l1.8,.9 1.8,1.4 1.8,2 1.9,2.6 1.8,2.6 1.8,1.3 1.8-.4 1.8-3.1 1.8-3.1 1.9-2 1.8-3.9 1.8-6.3 1.8-8.3 1.8-10.6 1.8-4.5 1.9,5.5 1.8,10.8 1.8,8.9 1.8,5.6 1.8,3.9 1.8,4.7 1.9,7.3 1.8,7.8 1.8,.9 1.8-5.8 1.8-5.9 1.8-6.4 1.9-3.5 1.8-1.9 1.8-.3 1.8-.7 1.8-.5 1.8,.8 1.9,.2 1.8-.3 1.8-.6 1.8,.5 1.8-.1 1.8,.8 1.9-1.1 1.8,.1 1.8,.2 1.8,.5 1.8,.5 1.8-.4 1.9-1 1.8,.2 1.8,1.4 1.8-.7M572,467.1l1.8-.7 1.8,0 1.8,.9 1.9,2.9 1.8,1.6 1.8,2 1.8,.9 1.8-1.6 1.8-.3 1.9-3.3 1.8-2.2 1.8-2.9 1.8-4.9 1.8-8.3 1.8-8 1.9-2 1.8,5.4 1.8,8.2 1.8,5.9 1.8,4.7 1.8,4.5 1.9,3.9 1.8,6.1 1.8,4.6 1.8,1.7 1.8-5.1 1.8-6 1.9-4.1 1.8-4.3 1.8-.5 1.8,1.4 1.8-1.6 1.8,.2 1.9-1.4 1.8,1.1 1.8-.5 1.8,.2 1.8-.1 1.8,.5 1.9-.2 1.8,.8 1.8-2 1.8,1 1.8,.8 1.8-.2 1.9,.6 1.8-1.1 1.8,.9 1.8-.3M572,465.8l1.8,.7 1.8-.8 1.8-.2 1.9,4.3 1.8,3.7 1.8,5.2 1.8-1.1 1.8,0 1.8-2.2 1.9-1.5 1.8-2.5 1.8-3.2 1.8-8.8 1.8-9.3 1.8-15.1 1.9-6.7 1.8,4.3 1.8,13.4 1.8,7.1 1.8,10.7 1.8,7.8 1.9,4.7 1.8,8.9 1.8,5.2 1.8,4.7 1.8-5.5 1.8-4.6 1.9-11 1.8-5.3 1.8-3.2 1.8,1.2 1.8,1.6 1.8-2.3 1.9-.1 1.8-.6 1.8,2.4 1.8-1.5 1.8,.6 1.8-.7 1.9,.1 1.8,.9 1.8-.1 1.8-3.1 1.8,2.1 1.8-.3 1.9,1 1.8,1.1 1.8-2.8 1.8,0M572,465.6l1.8,2.5 1.8-.4 1.8,1.5 1.9,2.7 1.8,1.7 1.8,2.4 1.8-.6 1.8-3.7 1.8-1.3 1.9-1.2 1.8-3.7 1.8-6.7 1.8-4.7 1.8-9.5 1.8-8.8 1.9,3.9 1.8,9.9 1.8,8.9 1.8,6.2 1.8,1.7 1.8,7.4 1.9,5.1 1.8,6.3 1.8,4 1.8-2.2 1.8-6.6 1.8-8.2 1.9-3 1.8-3.9 1.8,1.8 1.8-1.9 1.8,0 1.8,1.6 1.9-.5 1.8-1.1 1.8,1.5 1.8,1.2 1.8-3.4 1.8,1.7 1.9-.1 1.8,.2 1.8-.1 1.8,.9 1.8-.3 1.8-.6 1.9,.9 1.8-1.5 1.8,2.3 1.8-1.8M572,467.5l1.8-2.1 1.8,2.8 1.8,0 1.9,.1 1.8,2.9 1.8,2.5 1.8,.8 1.8,.3 1.8-2.1 1.9-2.9 1.8-1.9 1.8-.3 1.8-5 1.8-8.5 1.8-9.1 1.9-8.4 1.8,3.2 1.8,7.9 1.8,9 1.8,7.2 1.8,3.5 1.9,7 1.8,2.7 1.8,7.5 1.8,4 1.8-2.5 1.8-4 1.9-8.3 1.8-6.7 1.8-.9 1.8-2.8 1.8,2.7 1.8-.5 1.9,1.1 1.8,.4 1.8-2.1 1.8,1.2 1.8-.2 1.8,1.9 1.9-1.7 1.8-.6 1.8,0 1.8,1 1.8-2.5 1.8,.9 1.9-.1 1.8-.5 1.8,2.3 1.8-2.7M572,469l1.8-4.4 1.8,1.3 1.8,1.2 1.9-.9 1.8,4.7 1.8,3.6 1.8,3.2 1.8,0 1.8-.1 1.9-3 1.8-5 1.8-.6 1.8-4.6 1.8-8.2 1.8-11.5 1.9-10.7 1.8-2.9 1.8,6.8 1.8,11.2 1.8,11.7 1.8,5.1 1.9,5.3 1.8,7.6 1.8,5.9 1.8,8.2 1.8-.1 1.8-5.3 1.9-9.5 1.8-4.6 1.8-6.8 1.8-.4 1.8,.1 1.8,0 1.9-.2 1.8-2 1.8,.3 1.8-.9 1.8,1.8 1.8,2.5 1.9-2.2 1.8,1.9 1.8-.4 1.8-1.8 1.8-1.9 1.8,.3 1.9,1.4 1.8,1 1.8,1.6 1.8-2.2M572,466.2l1.8,.6 1.8,0 1.8,1.3 1.9,1.5 1.8,3.2 1.8,1.3 1.8,2 1.8-1.3 1.8-1.3 1.9-3.3 1.8-1.7 1.8-3 1.8-6.5 1.8-7.7 1.8-10.9 1.9-3.7 1.8,4.5 1.8,10.1 1.8,8.7 1.8,5.2 1.8,4.6 1.9,4.9 1.8,6.4 1.8,6 1.8,1 1.8-3.2 1.8-7.8 1.9-6.1 1.8-3.5 1.8-.1 1.8-1 1.8-.4 1.8-.6 1.9,.6 1.8-.6 1.8,1 1.8-.4 1.8,0 1.8-.5 1.9,.9 1.8-.4 1.8,.3 1.8-.6 1.8-.1 1.8,1.4 1.9-1.1 1.8,.1 1.8,.1 1.8,.1M572,466.7l1.8-.2 1.8-1.2 1.8,2.9 1.9,1.7 1.8,2.3 1.8,.8 1.8,4.1 1.8-.9 1.8-1.7 1.9-2.3 1.8-3.4 1.8-2 1.8-4.5 1.8-7.9 1.8-9.3 1.9-9.6 1.8,1.1 1.8,7.1 1.8,10.8 1.8,8.3 1.8,3.6 1.9,4.4 1.8,5.3 1.8,10.9 1.8,4.3 1.8-1.9 1.8-5.8 1.9-6.8 1.8-5.4 1.8-4.5 1.8,.4 1.8-.8 1.8-.6 1.9,1.3 1.8-.6 1.8-.2 1.8-.3 1.8-.1 1.8,.1 1.9-.3 1.8,.4 1.8,.7 1.8-1.3 1.8,1.8 1.8-1.1 1.9-.2 1.8,1.7 1.8-1.4 1.8-.3M572,462.8l1.8,3.8 1.8,1.3 1.8,1.1 1.9-2.4 1.8,5.1 1.8,1.7 1.8,3.7 1.8-.7 1.8-.4 1.9-5.7 1.8-2.7 1.8,.4 1.8-7.9 1.8-3.4 1.8-11.8 1.9-5.2 1.8-1.8 1.8,8.4 1.8,8 1.8,9.2 1.8,3.2 1.9,4.8 1.8,7.8 1.8,6.5 1.8,2.2 1.8-1.7 1.8-5.7 1.9-4.4 1.8-4.9 1.8-8.3 1.8,1.3 1.8,3.4 1.8-.6 1.9-3.9 1.8,2.3 1.8-.5 1.8,1.8 1.8-2.6 1.8,1.7 1.9-2.5 1.8,2.8 1.8,.4 1.8-.2 1.8-2.7 1.8,2.8 1.9-.4 1.8-2.1 1.8,3.1 1.8,.6M572,465.9l1.8,1.1 1.8,.5 1.8,1.1 1.9-.2 1.8,2.2 1.8,4.5 1.8,1.7 1.8-1.1 1.8,1.5 1.9-2.9 1.8-5 1.8-2.1 1.8-3.8 1.8-6.8 1.8-11.5 1.9-6.7 1.8-1 1.8,7.3 1.8,11 1.8,8.3 1.8,3.1 1.9,4.7 1.8,5.5 1.8,6.1 1.8,3.5 1.8,1.2 1.8-6.7 1.9-5.4 1.8-4.6 1.8-3.4 1.8-3.4 1.8,1.4 1.8-1.2 1.9,.7 1.8-1.9 1.8,1.9 1.8,.1 1.8,.5 1.8-.4 1.9,1.3 1.8-.9 1.8-2.2 1.8,4.3 1.8-2.3 1.8-1.1 1.9,.1 1.8,.6 1.8,1.8 1.8-2.2M572,465.4l1.8,1 1.8-.1 1.8,1.3 1.9-.1 1.8,1 1.8,4.4 1.8,1.3 1.8,2.2 1.8-1 1.9-1 1.8-4.1 1.8-3.7 1.8-1.1 1.8-5.3 1.8-11.2 1.9-9.3 1.8-3.6 1.8,5.6 1.8,10.3 1.8,8.8 1.8,4.5 1.9,2.8 1.8,9.2 1.8,4.2 1.8,5.2 1.8,1.3 1.8-2.4 1.9-8.4 1.8-5 1.8-5 1.8-.6 1.8-2 1.8,2.2 1.9-1.3 1.8,.8 1.8-.2 1.8-.4 1.8-.8 1.8,1.4 1.9-.7 1.8,1.5 1.8-3.5 1.8,2 1.8,.4 1.8-.1 1.9-.2 1.8,.7 1.8-1.9 1.8,.2M572,465.4l1.8,2.8 1.8-.9 1.8,.5 1.9-1.7 1.8,6.2 1.8,1.1 1.8,1.3 1.8-1.1 1.8,2.3 1.9-1.4 1.8-4.4 1.8-1.3 1.8-2.7 1.8-7.7 1.8-8.7 1.9-11.4 1.8-2 1.8,7.2 1.8,9.1 1.8,10 1.8,3.7 1.9,3.6 1.8,3.6 1.8,7.5 1.8,7.6 1.8,1.3 1.8-6.6 1.9-7 1.8-5.7 1.8-4.7 1.8-3.7 1.8,2.9 1.8,2.7 1.9,1.2 1.8,1.5 1.8-3.5 1.8-.6 1.8-2.4 1.8,3.2 1.9-1.8 1.8,.5 1.8-.2 1.8-.1 1.8-1.4 1.8,4.8 1.9-3.1 1.8,.1 1.8,.1 1.8,1M572,465.1l1.8-1.1 1.8,2 1.8,1.7 1.9,1.8 1.8,1.1 1.8,1.8 1.8,3.4 1.8-1.5 1.8,.3 1.9-1.4 1.8-7.4 1.8-1.5 1.8-5 1.8-7.9 1.8-7.1 1.9-4.2 1.8,3.2 1.8,10.9 1.8,5 1.8,8.1 1.8,.7 1.9,6.8 1.8,2.9 1.8,6.4 1.8,3.7 1.8-7.6 1.8-2.6 1.9-6.6 1.8-3.7 1.8-.9 1.8,0 1.8-2 1.8,.2 1.9,1.5 1.8-.6 1.8,1.1 1.8-2.3 1.8,2.2 1.8,.3 1.9-.4 1.8-.9 1.8,2.4 1.8-4.3 1.8,2.5 1.8-.7 1.9,1 1.8-.5 1.8,.4 1.8-1.6M572,465.2l1.8,.6 1.8,.8 1.8,.9 1.9,2 1.8,2.2 1.8,3.7 1.8-1.3 1.8,1.1 1.8-1.5 1.9-2.9 1.8-2.7 1.8-2.5 1.8-6 1.8-9.4 1.8-11.6 1.9-3.9 1.8,3.8 1.8,11.4 1.8,9.2 1.8,6.9 1.8,2.6 1.9,7.2 1.8,6.6 1.8,6.6 1.8,0 1.8-3.4 1.8-7.3 1.9-5.6 1.8-3.5 1.8-1 1.8-1.7 1.8,.8 1.8-1.3 1.9-.3 1.8-.3 1.8,2.1 1.8-1.5 1.8,0 1.8-1.8 1.9,.8 1.8,.5 1.8-.9 1.8,.3 1.8,1 1.8,.2 1.9,.7 1.8-1.2 1.8,4.1 1.8-5.5M572,465.3l1.8,1 1.8-1 1.8,2 1.9,.4 1.8,4 1.8-.8 1.8,4 1.8-1.6 1.8-1.3 1.9-2.7 1.8-1 1.8-1.6 1.8-4.3 1.8-8.8 1.8-4.6 1.9-4.9 1.8,1.3 1.8,6.1 1.8,7 1.8,4.1 1.8,1.7 1.9,6.8 1.8,4 1.8,5.2 1.8,5.3 1.8-4.2 1.8-3.6 1.9-5.1 1.8-3.2 1.8-3.4 1.8-1.1 1.8,1 1.8-.1 1.9-1.4 1.8,.1 1.8-1.4 1.8,3.9 1.8-.2 1.8-1.2 1.9-2.4 1.8,3.6 1.8-2 1.8,.3 1.8-.9 1.8,2.2 1.9-1.2 1.8,1.5 1.8-.4 1.8-1.3M572,466.7l1.8-.4 1.8,.4 1.8,.5 1.9,2.2 1.8,1.6 1.8,2.9 1.8,2.7 1.8,2.5 1.8-2.6 1.9-2.7 1.8-3.5 1.8-2.9 1.8-4 1.8-8.2 1.8-11.6 1.9-9.5 1.8-3.5 1.8,6.3 1.8,13.1 1.8,10.7 1.8,5 1.9,4.7 1.8,7.1 1.8,8.1 1.8,8.4 1.8-1.4 1.8-5.8 1.9-6.5 1.8-8.9 1.8-1.8 1.8-4.2 1.8,1.6 1.8-1.5 1.9,.3 1.8,.2 1.8,.7 1.8-1 1.8,.1 1.8,.8 1.9-.6 1.8-1.1 1.8,1 1.8,.5 1.8-.7 1.8,.5 1.9-1.2 1.8,.2 1.8,.5 1.8,.5" fill="none" stroke="#1818f0" stroke-width="0.9" opacity="0.8"/>
<path d="M572,466l1.8,.1 1.8,0 1.8-.1 1.9,.6 1.8-.4 1.8,2.6 1.8,1.6 1.8,1.1 1.8,1.6 1.9-.5 1.8-2.9 1.8-2.9 1.8-2.2 1.8-6.8 1.8-3.5 1.9-1.7 1.8,2.9 1.8,4.3 1.8,6 1.8,3.6 1.8,3.9 1.9,2.6 1.8,5.5 1.8-.3 1.8-3.8 1.8-5.4 1.8-4.1 1.9,.2 1.8-1.8 1.8-1.2 1.8,1.8 1.8-1.7 1.8,1.3 1.9-1.4 1.8,.8 1.8,.1 1.8,1.5 1.8-2.3 1.8,.3 1.9,1.4 1.8,.1 1.8-.8 1.8-.5 1.8,0 1.8-.8 1.9,1.9 1.8-.2 1.8,.1 1.8,0M572,468.1l1.8-1.7 1.8-1.1 1.8-.4 1.9,1 1.8,1.5 1.8,.9 1.8,2.8 1.8,4 1.8,.6 1.9,.7 1.8-2.2 1.8-5.1 1.8-3.9 1.8-6.1 1.8-7.1 1.9-8.2 1.8,6 1.8,4.4 1.8,7.2 1.8,5.8 1.8,4.9 1.9,8.2 1.8,6.7 1.8,4.5 1.8-5.6 1.8-5.1 1.8-7.1 1.9-4.5 1.8-4.7 1.8,2.2 1.8-.4 1.8-1.5 1.8,2.1 1.9,.6 1.8-.7 1.8-.8 1.8-1.2 1.8,1.8 1.8-1.5 1.9,1.4 1.8-1.4 1.8,0 1.8,1.5 1.8-1.2 1.8-1.6 1.9,3.5 1.8-.7 1.8,.3 1.8-2.3M572,466.9l1.8-.3 1.8-.7 1.8-.7 1.9,1.1 1.8,.5 1.8,1 1.8,3 1.8,.3 1.8,1.5 1.9-2.4 1.8-1.9 1.8-2.7 1.8-3.7 1.8-6 1.8-3.3 1.9,1.7 1.8,4.4 1.8,4.8 1.8,3.2 1.8,3.2 1.8,6.3 1.9,2.9 1.8,2.2 1.8-2.9 1.8-3 1.8-4.8 1.8-2.3 1.9-1.8 1.8,.2 1.8-1.1 1.8-.4 1.8,1.5 1.8-.2 1.9-.3 1.8-.3 1.8-.1 1.8-.3 1.8,.3 1.8,.3 1.9,.5 1.8-.6 1.8-.9 1.8,.1 1.8,.3 1.8-.1 1.9,1 1.8,.3 1.8-.2 1.8-.9M572,465.3l1.8-3.5 1.8,3.5 1.8-.2 1.9,3 1.8-2.4 1.8,3.1 1.8,2.7 1.8,1.6 1.8,1.2 1.9-4.4 1.8-1.6 1.8-2.6 1.8-5.5 1.8-6.8 1.8-5.8 1.9,.5 1.8,6.6 1.8,6.4 1.8,7.2 1.8,2.2 1.8,9.4 1.9,4.4 1.8,4.1 1.8-.8 1.8-10.5 1.8-3.6 1.8-5.3 1.9-2.5 1.8,.2 1.8,3.1 1.8-.9 1.8-3 1.8-.6 1.9,1.8 1.8-3.4 1.8,2.4 1.8,.9 1.8,1.3 1.8-2.6 1.9,.2 1.8,1.4 1.8-3.7 1.8,2.8 1.8,1.2 1.8-1.2 1.9,4 1.8-.3 1.8-5.5 1.8,1.9M572,466.7l1.8-.9 1.8,0 1.8,2.9 1.9-1.7 1.8-1.8 1.8,2.3 1.8,1.5 1.8,4.6 1.8,0 1.9,.6 1.8-4.5 1.8-1.9 1.8-3.4 1.8-11 1.8-5.7 1.9,.3 1.8,8.6 1.8,3.6 1.8,4 1.8,4.1 1.8,8.8 1.9,4.3 1.8,4.5 1.8,1.1 1.8-8 1.8-5.1 1.8-4.4 1.9-1.9 1.8-1.9 1.8-.9 1.8,4.4 1.8-3.4 1.8,.1 1.9,.7 1.8,.8 1.8-3.8 1.8,.8 1.8,3.4 1.8-.4 1.9-2 1.8-1.3 1.8,2.6 1.8,.6 1.8-3.1 1.8,2.6 1.9-.9 1.8,.7 1.8-.2 1.8,.7M572,466.6l1.8-.5 1.8-.4 1.8,0 1.9,.6 1.8,.2 1.8,.8 1.8,1.4 1.8,1.6 1.8,1.4 1.9-1.9 1.8,.1 1.8-2.1 1.8-3.6 1.8-4.3 1.8-4.4 1.9-1.1 1.8,2.9 1.8,5 1.8,4 1.8,1.4 1.8,4.1 1.9,4.2 1.8,1.9 1.8,.9 1.8-2.7 1.8-4.1 1.8-3.8 1.9-1 1.8-1.1 1.8-.3 1.8,.4 1.8-.3 1.8,.4 1.9-.8 1.8-.2 1.8,.9 1.8-.4 1.8,1 1.8-.8 1.9-.1 1.8,.8 1.8-1.1 1.8,.1 1.8,.3 1.8,.2 1.9,0 1.8,.8 1.8-1.5 1.8,1M572,466.6l1.8-.9 1.8,.5 1.8,.6 1.9,.1 1.8-.7 1.8,2.2 1.8,2.1 1.8,.4 1.8,2.4 1.9-1.1 1.8-1.3 1.8-2.5 1.8-3.9 1.8-5.6 1.8-6.4 1.9-1.5 1.8,1.9 1.8,5.1 1.8,6 1.8,4.8 1.8,4 1.9,3.9 1.8,5 1.8,2 1.8-3.7 1.8-5.1 1.8-4 1.9-3.8 1.8-.3 1.8,0 1.8-.6 1.8-.5 1.8,.7 1.9,.3 1.8,0 1.8,.1 1.8-1.3 1.8,.1 1.8-1.1 1.9,2 1.8-.8 1.8,1 1.8-2.1 1.8,2 1.8-.6 1.9,0 1.8-.7 1.8,1 1.8-.3M572,465.2l1.8-.1 1.8,1.8 1.8-1.5 1.9,.8 1.8,1 1.8,3.6 1.8,1.5 1.8,1.4 1.8,2.1 1.9-1.5 1.8-5.6 1.8-1.9 1.8-8.5 1.8-8.5 1.8-4.5 1.9,2.4 1.8,7.8 1.8,8.5 1.8,3.8 1.8,6.2 1.8,7.5 1.9,4.9 1.8,3.8 1.8-3.3 1.8-8.3 1.8-5.8 1.8-4.7 1.9-2 1.8,.1 1.8,.2 1.8-.6 1.8,0 1.8-.7 1.9,.1 1.8,2 1.8-.8 1.8-.7 1.8-.1 1.8,1.2 1.9-.5 1.8,.1 1.8,.3 1.8-.1 1.8-.9 1.8,.3 1.9,.4 1.8-1.1 1.8,.4 1.8-.1M572,466.9l1.8-.5 1.8-.3 1.8,.2 1.9,.4 1.8,.9 1.8,1.4 1.8,3 1.8,1.8 1.8-.1 1.9-1.9 1.8-2.3 1.8-4 1.8-6.3 1.8-7.1 1.8-4.4 1.9,1.7 1.8,7.1 1.8,6.9 1.8,4.7 1.8,5 1.8,6 1.9,5.8 1.8,2.2 1.8-3 1.8-7.1 1.8-5.3 1.8-4 1.9-1.2 1.8,.1 1.8-.6 1.8,0 1.8-.3 1.8,.5 1.9-.6 1.8,1 1.8-1.4 1.8,1.1 1.8,.5 1.8-1.3 1.9-.1 1.8,1.3 1.8-.5 1.8-.2 1.8-.8 1.8,.7 1.9,.4 1.8-.5 1.8-.1 1.8-.4M572,468l1.8-3.6 1.8,1.8 1.8-.4 1.9-2.1 1.8,.7 1.8,2.4 1.8,4.9 1.8,2.3 1.8,.3 1.9-1.5 1.8,1.6 1.8-7.6 1.8-3.8 1.8-6.1 1.8-4.9 1.9-1.9 1.8,7.6 1.8,6.3 1.8,3.3 1.8,1.2 1.8,3.3 1.9,7 1.8,4.5 1.8-3.6 1.8-2.3 1.8-2.4 1.8-6.8 1.9-1.2 1.8-2.5 1.8,1.8 1.8,1.7 1.8-.2 1.8-2.6 1.9,2.9 1.8-1.3 1.8,.3 1.8-2.5 1.8,1 1.8-.5 1.9,0 1.8-.9 1.8,2.4 1.8-2.4 1.8,.2 1.8,2.2 1.9,3.1 1.8-6.9 1.8,2 1.8,1M572,466.9l1.8-1.7 1.8,1.4 1.8,.2 1.9-.4 1.8-.2 1.8,1.4 1.8,3.3 1.8,2.2 1.8,1.5 1.9-.5 1.8-2.2 1.8-2.5 1.8-5.1 1.8-7.4 1.8-6.5 1.9-4 1.8,4.4 1.8,8.3 1.8,5.3 1.8,5 1.8,5.1 1.9,6.9 1.8,5.2 1.8,1.3 1.8-5 1.8-6.6 1.8-5.2 1.9-3.4 1.8-1.3 1.8,.2 1.8-1.2 1.8,1.4 1.8-.4 1.9-1.2 1.8,.6 1.8,.2 1.8,0 1.8,.2 1.8,.2 1.9-.3 1.8-.1 1.8,.3 1.8,0 1.8-.2 1.8,.3 1.9-.5 1.8,0 1.8-.3 1.8,.2M572,466.3l1.8-.5 1.8,.9 1.8-1.8 1.9,2 1.8-1.8 1.8,2.1 1.8,1 1.8,1.7 1.8,3.6 1.9-.2 1.8-1.4 1.8-2.6 1.8-2.3 1.8-5.1 1.8-4.7 1.9-8.3 1.8,.3 1.8,6.7 1.8,6.2 1.8,4.5 1.8,4.7 1.9,5.5 1.8,5.1 1.8,3.9 1.8-3.5 1.8-3.2 1.8-6.7 1.9-3.2 1.8-2.6 1.8-.4 1.8,.4 1.8-2 1.8,2.3 1.9-.7 1.8-.6 1.8,1.5 1.8-.1 1.8,0 1.8-2.1 1.9,.8 1.8,1.3 1.8,.4 1.8-3.3 1.8,.9 1.8,1.6 1.9,.1 1.8-2.6 1.8,2.2 1.8,0M572,467.3l1.8-1.6 1.8,.6 1.8-.1 1.9-.9 1.8,.7 1.8,1.3 1.8,1.1 1.8,1.7 1.8,2.2 1.9,0 1.8-.9 1.8-2.4 1.8-2.4 1.8-5 1.8-4.2 1.9-5.5 1.8,.1 1.8,5.5 1.8,6.2 1.8,4 1.8,2.6 1.9,5 1.8,5 1.8,2.8 1.8-3.1 1.8-4.2 1.8-4.1 1.9-4 1.8-.5 1.8-.7 1.8-.3 1.8-.3 1.8,.1 1.9,.6 1.8,0 1.8,0 1.8-.9 1.8-.4 1.8,1.2 1.9,.9 1.8-1.2 1.8-.5 1.8-.3 1.8,.6 1.8,.1 1.9,0 1.8,.2 1.8-.1 1.8,.8M572,466.1l1.8,.3 1.8-.4 1.8,1 1.9-.3 1.8-.5 1.8,1.4 1.8,1.5 1.8,1.2 1.8,1.1 1.9-.9 1.8-1 1.8-2.1 1.8-2.7 1.8-4.6 1.8-3.9 1.9-2 1.8,3.1 1.8,4.6 1.8,4 1.8,2.7 1.8,3.1 1.9,4.2 1.8,3 1.8-.2 1.8-3.1 1.8-3.8 1.8-3 1.9-2 1.8,0 1.8-.8 1.8,.1 1.8,.2 1.8-.5 1.9,0 1.8-.4 1.8,1.1 1.8,0 1.8-.4 1.8-.5 1.9,.3 1.8-.2 1.8,.2 1.8-.3 1.8,.3 1.8,.1 1.9,.4 1.8-.5 1.8,.5 1.8-.7" fill="none" stroke="#20e0ee" stroke-width="0.9" opacity="0.8"/>
<path d="M572,467.1l1.8-.9 1.8,1.5 1.8-4.7 1.9,1 1.8,1.6 1.8-1.6 1.8-3 1.8,1.9 1.8-2.3 1.9,.1 1.8,4.4 1.8,.8 1.8,8.4 1.8,1.3 1.8,7.4 1.9-1.7 1.8-7.2 1.8-4.3 1.8-4.9 1.8-2.6 1.8-2.5 1.9-2.6 1.8,3.4 1.8,1.9 1.8-1.1 1.8,3.7 1.8,.5 1.9,1 1.8-.9 1.8,.7 1.8-1.9 1.8,4 1.8-2 1.9,.6 1.8-1 1.8-1 1.8,1.7 1.8-.1 1.8-2.4 1.9,.3 1.8,1.2 1.8-.3 1.8,.4 1.8,.8 1.8-2 1.9,.8 1.8,.5 1.8-1.8 1.8,1M572,466.6l1.8-.2 1.8-.4 1.8,0 1.9-.2 1.8-.5 1.8-.7 1.8-.6 1.8-1.9 1.8-.9 1.9,.4 1.8,1.5 1.8,2.4 1.8,2.6 1.8,4.8 1.8,3.5 1.9,.8 1.8-2.5 1.8-4.4 1.8-2.9 1.8-3.2 1.8-3 1.9-1.4 1.8,.9 1.8,1.4 1.8,1.9 1.8,.9 1.8,.9 1.9,.2 1.8,0 1.8,.4 1.8-.5 1.8-.1 1.8,.7 1.9-.6 1.8-.7 1.8,.9 1.8-.2 1.8,.1 1.8,.4 1.9-.6 1.8,.7 1.8-.5 1.8,.8 1.8-1.2 1.8,1.1 1.9-.2 1.8-.8 1.8,.3 1.8,.1M572,465.8l1.8,.2 1.8-.3 1.8-.7 1.9,1.3 1.8,.1 1.8-1.6 1.8-.3 1.8-2.1 1.8-2.4 1.9-.6 1.8,2.2 1.8,1.5 1.8,3.1 1.8,4.4 1.8,5.1 1.9,4 1.8,.6 1.8-4.2 1.8-5.3 1.8-4.3 1.8-4.5 1.9-2.6 1.8-.3 1.8,.2 1.8,2 1.8,2.5 1.8,1.4 1.9,.8 1.8-.1 1.8,.6 1.8-.5 1.8,.2 1.8-.4 1.9,.5 1.8-.6 1.8,1.5 1.8-1.8 1.8,.2 1.8-.3 1.9-.1 1.8,.4 1.8,.4 1.8,0 1.8,.3 1.8,.1 1.9-.6 1.8-.3 1.8-.2 1.8,.5M572,467.3l1.8-1.9 1.8,2 1.8,0 1.9-1.4 1.8-.9 1.8,.6 1.8-4.7 1.8,2.4 1.8-1.9 1.9,.8 1.8,1.3 1.8,2.6 1.8,3.4 1.8,2.9 1.8,6.1 1.9-1.6 1.8-2.3 1.8-3.7 1.8-3.4 1.8-4.2 1.8-.7 1.9-3.3 1.8,1.2 1.8,1.9 1.8,.6 1.8,2.6 1.8-.1 1.9,.6 1.8-2.3 1.8,1.7 1.8,.5 1.8-1.6 1.8,4 1.9-2.1 1.8,.1 1.8-.8 1.8,.4 1.8,2 1.8-3.4 1.9,2.8 1.8,.8 1.8,0 1.8-2.6 1.8,.4 1.8-.8 1.9,.8 1.8,1.4 1.8-.5 1.8,1.3M572,464.8l1.8-.2 1.8,4.2 1.8-1.3 1.9-3.2 1.8,4.5 1.8-2.4 1.8-2.6 1.8-1 1.8-.4 1.9-.9 1.8,5.3 1.8-.3 1.8,3.6 1.8,1.7 1.8,2.2 1.9,3.9 1.8-4.7 1.8-4.9 1.8-1.2 1.8-3 1.8-2.2 1.9-.7 1.8-.1 1.8,0 1.8,1.9 1.8,2 1.8-1 1.9,3.6 1.8,.5 1.8-4.1 1.8-1 1.8,2.8 1.8-.5 1.9,2.8 1.8-2.8 1.8,3.9 1.8-3.5 1.8,.6 1.8-.2 1.9-1 1.8,2.7 1.8-4.1 1.8,2.7 1.8-.8 1.8,.2 1.9,.6 1.8,1.2 1.8-1.2 1.8-.8M572,466.7l1.8,.1 1.8-1.5 1.8,1 1.9,.5 1.8-1.6 1.8-1.1 1.8,0 1.8-1.9 1.8-1.5 1.9-.2 1.8,.5 1.8,3.9 1.8,3.2 1.8,4.9 1.8,3 1.9,2.9 1.8-1.7 1.8-4.7 1.8-6.1 1.8-1.9 1.8-3.1 1.9,.1 1.8-1.5 1.8,.8 1.8,3.2 1.8,1.4 1.8-.9 1.9,.9 1.8,.5 1.8-1.7 1.8,1.8 1.8,.4 1.8-.8 1.9,1.2 1.8-.5 1.8-1.7 1.8,.3 1.8,1.9 1.8-1.3 1.9,.2 1.8,1.6 1.8-1.6 1.8,.2 1.8-.9 1.8,1.3 1.9-1.2 1.8,1.4 1.8-.2 1.8-2M572,468.8l1.8-4.4 1.8,1.8 1.8,.2 1.9-.5 1.8-1 1.8-.5 1.8,1.3 1.8-2.2 1.8-.6 1.9-2.1 1.8-1 1.8,5.1 1.8-.5 1.8,4.2 1.8,3.1 1.9,5.8 1.8,2.7 1.8-2.5 1.8-7.6 1.8-2.7 1.8-3.4 1.9-3.8 1.8-.5 1.8,4.6 1.8-3.3 1.8,1.4 1.8,4.5 1.9-1.5 1.8,.9 1.8,2.3 1.8-3.6 1.8,.9 1.8,1.8 1.9,.2 1.8-.7 1.8,.5 1.8-2.6 1.8,1 1.8-.4 1.9,.3 1.8-.3 1.8,.4 1.8-.4 1.8,.5 1.8,.9 1.9-3.1 1.8,4.3 1.8,.1 1.8-2.1M572,466.5l1.8-.9 1.8,.7 1.8-1.4 1.9,1.7 1.8-.7 1.8-.3 1.8-.2 1.8-3 1.8-1.3 1.9,2.7 1.8-.6 1.8,2.9 1.8,.9 1.8,6.9 1.8,.1 1.9,0 1.8-.4 1.8-1.5 1.8-6.2 1.8-2.8 1.8,.7 1.9-4.2 1.8,1.1 1.8,2.1 1.8,.8 1.8,.8 1.8,1.5 1.9,2.4 1.8-4.5 1.8,2.1 1.8-1.6 1.8,.9 1.8,.1 1.9-.9 1.8,1.5 1.8,.5 1.8-.7 1.8-.3 1.8,.6 1.9,.2 1.8,1.8 1.8-2.2 1.8-.3 1.8,.3 1.8-.2 1.9,2.5 1.8-1.6 1.8-1.2 1.8-.3M572,465.2l1.8-.5 1.8-.3 1.8,1.5 1.9-1.7 1.8,3 1.8-3.6 1.8-1.5 1.8-.2 1.8-.8 1.9,0 1.8,4 1.8,2.7 1.8,3.7 1.8,6.8 1.8,3 1.9-1 1.8-4.1 1.8-7.1 1.8-3.3 1.8-2.5 1.8-4 1.9-2.4 1.8,3.2 1.8,3.6 1.8,.2 1.8,.8 1.8,1.1 1.9,.2 1.8-.2 1.8-.5 1.8-.6 1.8,1.9 1.8-1.1 1.9,.9 1.8-.8 1.8,1.2 1.8-.9 1.8-.9 1.8-.5 1.9,3 1.8-2.2 1.8,1.1 1.8-.6 1.8-.6 1.8-.6 1.9-.7 1.8,2.5 1.8,1.2 1.8-2.3M572,463.3l1.8,4.3 1.8-1.2 1.8-.9 1.9-.4 1.8-.8 1.8,.2 1.8-.8 1.8-.8 1.8-.3 1.9,2.4 1.8,.6 1.8-.2 1.8,4.2 1.8,2.3 1.8,1.2 1.9,1.6 1.8-2.7 1.8-.9 1.8-4.4 1.8-4.2 1.8,.4 1.9-2.5 1.8,4.8 1.8-2.4 1.8,1.5 1.8-.5 1.8-.2 1.9,5.7 1.8-4 1.8,3 1.8-3.4 1.8,3.5 1.8-2 1.9-1.4 1.8,1.9 1.8,.3 1.8-.3 1.8-1.3 1.8,1.4 1.9-.3 1.8-2.1 1.8,1 1.8-.2 1.8-.9 1.8-.3 1.9,1.5 1.8,1 1.8,.9 1.8-1.2M572,466.7l1.8-1.4 1.8,.3 1.8,.3 1.9,1.3 1.8-.1 1.8-.3 1.8-4.8 1.8,1.3 1.8-.7 1.9-1.8 1.8,2.1 1.8,0 1.8,1.8 1.8,3.1 1.8,3.6 1.9,.3 1.8,3.6 1.8-2.9 1.8-1.5 1.8-1.9 1.8-4.4 1.9-1.3 1.8-2.6 1.8,1.2 1.8,.6 1.8,1.5 1.8,1.5 1.9,2.4 1.8-3.8 1.8-.1 1.8,1.9 1.8,.5 1.8-1.3 1.9,.7 1.8,1.3 1.8-.3 1.8,.1 1.8-.3 1.8,.3 1.9-.3 1.8-2.6 1.8,4 1.8-3.9 1.8,1.4 1.8,.9 1.9,3.4 1.8-3.6 1.8-1 1.8,1.5M572,466l1.8,.4 1.8,.4 1.8,.2 1.9-.4 1.8-2.6 1.8-1 1.8-1.2 1.8-.1 1.8,0 1.9-.1 1.8,1.4 1.8,4.3 1.8,.7 1.8,5 1.8,.1 1.9,2 1.8-.3 1.8-4 1.8-1.3 1.8-4.7 1.8-2 1.9-.2 1.8-.7 1.8-.1 1.8,.7 1.8,2.3 1.8,3 1.9-1.7 1.8-1.2 1.8-.7 1.8,1.3 1.8,.3 1.8,.4 1.9,.1 1.8,.2 1.8,.2 1.8,1.3 1.8,0 1.8-2.1 1.9,.2 1.8-1.4 1.8,.8 1.8,2.9 1.8-2.3 1.8-3.7 1.9,3.1 1.8-.3 1.8,2.6 1.8-1.5M572,465.9l1.8-1.2 1.8,1.5 1.8-.8 1.9-.5 1.8,.4 1.8-1.1 1.8-2.3 1.8-.7 1.8-1.1 1.9,2.8 1.8,1 1.8,4.2 1.8,4.4 1.8,2.9 1.8,1.4 1.9-1.5 1.8-3.4 1.8-5.4 1.8-2.5 1.8-2.6 1.8-.8 1.9-1 1.8,.3 1.8,4.5 1.8-1.2 1.8,1.7 1.8,.4 1.9,.8 1.8-.1 1.8-.8 1.8,.7 1.8-.2 1.8,.5 1.9-1.6 1.8,1.9 1.8,.2 1.8-1.2 1.8-.2 1.8,.9 1.9,.1 1.8-.3 1.8,.4 1.8-1.7 1.8,3.1 1.8-1.2 1.9-1.2 1.8,1 1.8-1.4 1.8,.8M572,465.3l1.8,.1 1.8,.3 1.8-.4 1.9,.9 1.8-1.4 1.8,1 1.8-1 1.8-3.8 1.8,3.1 1.9-.9 1.8,2.8 1.8,.6 1.8,1.7 1.8,2.5 1.8,2.9 1.9,.7 1.8,.3 1.8-5.7 1.8-2.9 1.8-.8 1.8-2.8 1.9-1 1.8-1.5 1.8,.2 1.8,3.1 1.8,4.1 1.8-2.5 1.9,2.7 1.8-1.5 1.8,1.8 1.8-2.5 1.8,.8 1.8-1.1 1.9,2.2 1.8-2.4 1.8-.5 1.8,4.8 1.8-2.9 1.8-.9 1.9-.9 1.8,2.8 1.8-3.7 1.8,5 1.8-1.3 1.8,1.6 1.9-1.9 1.8,3.1 1.8-2.6 1.8-.3M572,466l1.8,.1 1.8-.1 1.8-.8 1.9,.3 1.8-1 1.8-1.2 1.8-.4 1.8,.2 1.8-.5 1.9,.6 1.8,2.5 1.8,3.2 1.8,3 1.8,3.6 1.8,.9 1.9-1.3 1.8-5.1 1.8-4 1.8-1.6 1.8-2.3 1.8-1.8 1.9,1.3 1.8,.8 1.8,1.6 1.8,1.2 1.8,1.1 1.8,0 1.9-.2 1.8-.6 1.8,.6 1.8-.1 1.8,.6 1.8-1 1.9,.4 1.8,.1 1.8,.2 1.8,.5 1.8-.9 1.8,.1 1.9-.2 1.8,.3 1.8-.3 1.8,.5 1.8-.1 1.8-.1 1.9-1.4 1.8,.6 1.8,.8 1.8,.1M572,465.7l1.8,.8 1.8-.1 1.8,.8 1.9-1 1.8,.7 1.8-2 1.8-1.6 1.8-1.2 1.8-1.8 1.9-.2 1.8,2.2 1.8-2.2 1.8,4.4 1.8,1.7 1.8,7.5 1.9,2.8 1.8,4.7 1.8-4.4 1.8-3.8 1.8-3.6 1.8-4.8 1.9-3.7 1.8,1.4 1.8-3.4 1.8,5.5 1.8-.3 1.8-.3 1.9,.9 1.8-1.2 1.8,3.4 1.8-1 1.8-.2 1.8-.3 1.9,1.7 1.8-1.9 1.8,2.2 1.8-1.3 1.8-1.9 1.8-.4 1.9,2.8 1.8-1.6 1.8-.4 1.8,2 1.8,2.5 1.8-3.8 1.9,2.3 1.8-2.3 1.8,.9 1.8-.2M572,465.2l1.8,1.4 1.8-.7 1.8-.3 1.9-.1 1.8-.8 1.8-1.4 1.8-1.4 1.8-.1 1.8,.5 1.9,2.1 1.8,.8 1.8,3.5 1.8,3.3 1.8,2.8 1.8,.8 1.9-2.7 1.8-3.4 1.8-3.2 1.8-2.2 1.8-1.2 1.8-2.3 1.9,.6 1.8,1.6 1.8,1.8 1.8,.2 1.8,1.3 1.8,0 1.9-.3 1.8,.3 1.8-.4 1.8,.6 1.8-.2 1.8,.6 1.9-.3 1.8,.2 1.8-1 1.8,.5 1.8-.2 1.8,.2 1.9,0 1.8,0 1.8,.1 1.8-.2 1.8-.1 1.8-.4 1.9,1 1.8-1.1 1.8,1.6 1.8-.7M572,465.5l1.8,1.1 1.8-.6 1.8,.4 1.9,.1 1.8-1.8 1.8,.8 1.8-1.4 1.8-1 1.8-.9 1.9-1.4 1.8,1.2 1.8,1.6 1.8,3.5 1.8,2.2 1.8,3.5 1.9,3.3 1.8-.4 1.8-2.6 1.8-3.6 1.8-3.3 1.8-2.7 1.9-2.8 1.8-.6 1.8,.5 1.8,1.7 1.8,1.9 1.8,0 1.9,1.7 1.8-.2 1.8,.6 1.8,0 1.8,0 1.8-.4 1.9-.8 1.8,1.1 1.8-.4 1.8-.6 1.8,.7 1.8,0 1.9-.2 1.8,.4 1.8-1 1.8,.7 1.8-.5 1.8,1.1 1.9-.2 1.8,.3 1.8-.4 1.8,.6M572,466.7l1.8,.1 1.8,.2 1.8-.7 1.9,.6 1.8-1 1.8,1.7 1.8-3.1 1.8-3.6 1.8-.2 1.9,.7 1.8,.4 1.8,3 1.8,1.6 1.8,6.2 1.8,3.8 1.9,3.2 1.8-2.4 1.8-2.5 1.8-7.9 1.8-4.2 1.8,1.2 1.9-4.1 1.8,1.8 1.8,.2 1.8,2.1 1.8,.5 1.8,.7 1.9,1.2 1.8-1.6 1.8,2.2 1.8-1 1.8-.2 1.8,.5 1.9,.8 1.8-1.5 1.8-1.9 1.8,1.6 1.8,.4 1.8,.3 1.9-1.5 1.8,3.3 1.8,.2 1.8-3.6 1.8,1.5 1.8,.7 1.9-1.2 1.8-.1 1.8,2.8 1.8-3.1M572,464.8l1.8,1.2 1.8,1 1.8-.9 1.9,.9 1.8-2 1.8,3.7 1.8-4.4 1.8,.9 1.8,.1 1.9-1.9 1.8,.8 1.8-1.4 1.8,1.5 1.8,4.9 1.8,1.6 1.9-.1 1.8,3.5 1.8,1.3 1.8,.3 1.8-6.5 1.8-4.2 1.9-4.4 1.8-1.2 1.8-.2 1.8,1.5 1.8,.9 1.8,2.4 1.9,3 1.8-2.6 1.8,1.7 1.8-2.7 1.8,.8 1.8,2.7 1.9-1.5 1.8-.7 1.8,2.7 1.8-.7 1.8-1 1.8,2.5 1.9-3.5 1.8-.1 1.8-.3 1.8,.2 1.8,1.4 1.8-1.6 1.9,1.2 1.8-1.7 1.8,2.3 1.8-.8M572,465.5l1.8-.4 1.8,.7 1.8,1.9 1.9-1.5 1.8,0 1.8-.5 1.8-1.5 1.8-2 1.8-.5 1.9,.2 1.8,1.2 1.8,2.3 1.8,1.7 1.8,4.6 1.8,2.5 1.9,1.9 1.8-2 1.8-3.6 1.8-2.7 1.8-2 1.8-2.8 1.9-2.3 1.8,2.3 1.8-1.6 1.8,3 1.8,1.1 1.8,1 1.9-.1 1.8-1.9 1.8,1.6 1.8-.3 1.8,.3 1.8-.9 1.9,.9 1.8-1 1.8,.2 1.8,1 1.8-.9 1.8,1.2 1.9-.9 1.8,.7 1.8-1.9 1.8,1 1.8-1.9 1.8,2.7 1.9,.6 1.8-1.3 1.8,0 1.8,.1M572,466l1.8,.1 1.8-.7 1.8,1.4 1.9-1.5 1.8-.6 1.8,.5 1.8-.6 1.8-2.1 1.8-1.5 1.9-.8 1.8,.1 1.8,2 1.8,2.7 1.8,4.6 1.8,3.9 1.9,5.9 1.8,.7 1.8-3.2 1.8-5.3 1.8-4.4 1.8-3.9 1.9-2.4 1.8-2.4 1.8,.6 1.8,1.6 1.8,1.3 1.8,2.9 1.9,1.4 1.8-.2 1.8,.1 1.8,.9 1.8-.9 1.8,2.1 1.9-2.8 1.8,1.5 1.8-1.2 1.8-.1 1.8,.1 1.8,.5 1.9,.3 1.8-.4 1.8,.3 1.8-.8 1.8,.5 1.8-.9 1.9,.7 1.8,.2 1.8,.3 1.8-.9" fill="none" stroke="#ff1818" stroke-width="1.1" opacity="0.9"/>
<polygon points="667.6,381 677,372.5 677,378.8 689.8,378.8 689.8,383.2 677,383.2 677,389.5" fill="#e02030"/>
<polygon points="667.6,466.3 677,457.8 677,464.1 689.8,464.1 689.8,468.5 677,468.5 677,474.8" fill="#2a3a90"/>
<path d="M316.5,485.3 V507.3 H340.5" stroke="#000" stroke-width="2" fill="none"/>
<path d="M569.8,493 V514.6 H593.3" stroke="#000" stroke-width="2" fill="none"/>
<text x="309" y="495" font-size="14" fill="#1a1a1a" text-anchor="middle" transform="rotate(-90 309 495)">100 μV</text>
<text x="312" y="526.6" font-size="14" fill="#1a1a1a" text-anchor="start">500 ms</text>
<text x="560.5" y="501" font-size="14" fill="#1a1a1a" text-anchor="middle" transform="rotate(-90 560.5 501)">50 μV</text>
<text x="566" y="532" font-size="14" fill="#1a1a1a" text-anchor="start">1 ms</text>
<text x="428.5" y="549" font-size="16" fill="#1a1a1a" text-anchor="start">4 months</text>
<ellipse cx="985" cy="450" rx="65" ry="40" fill="url(#shadowG)" opacity="0.8"/>
<polygon points="906.1,437 964,471.7 964,482.5 906.1,448" fill="#707074"/>
<polygon points="964,471.7 1033.9,414 1033.9,424.5 964,482.5" fill="#5e5e62"/>
<polygon points="819.0,540.3 934.7,458.1 936.3,460.3 820.5,542.5" fill="#5a5a5e"/>
<polygon points="813.0,531.9 928.7,449.7 934.7,458.1 819.0,540.3" fill="#8e8e94"/>
<polygon points="797.4,554.4 813.0,531.9 820.5,542.5" fill="#7a7a80"/>
<circle cx="814.5" cy="541" r="2.6" fill="#fff" stroke="#666" stroke-width="0.5"/>
<path d="M799.5,551.5 l1.4,-1.4 M801.8,548.8 l1.4,-1.4 M804.2,546 l1.4,-1.4 M806.6,543.3 l1.4,-1.4 M801,552.8 l1.6,-0.6 M804,551.8 l1.6,-0.6 M807,550.7 l1.6,-0.6 M810,549.6 l1.6,-0.6 M813,548.5 l1.6,-0.6" stroke="#e8e040" stroke-width="1.3"/>
<polygon points="906.1,437 979.7,386.3 1033.9,414 964,471.7" fill="#8c8c90"/>
<line x1="820.4" y1="533.8" x2="967.1" y2="429.5" stroke="#b4b0ec" stroke-width="3.6"/>
<g fill="#f2e614"><polygon points="910.6,436.6 914.8,433.7 921.0,437.4 916.8,440.3"/><polygon points="951.6,462.9 955.8,460.0 962.0,463.7 957.8,466.6"/><polygon points="916.0,432.9 920.2,429.9 926.4,433.6 922.1,436.6"/><polygon points="956.9,458.9 961.1,456.0 967.3,459.7 963.1,462.6"/><polygon points="921.4,429.1 925.6,426.2 931.8,429.9 927.5,432.8"/><polygon points="962.2,455.0 966.4,452.0 972.6,455.7 968.4,458.7"/><polygon points="926.7,425.4 931.0,422.4 937.2,426.1 932.9,429.1"/><polygon points="967.5,451.0 971.7,448.0 977.9,451.7 973.7,454.7"/><polygon points="932.1,421.6 936.4,418.7 942.6,422.4 938.3,425.3"/><polygon points="972.8,447.0 977.0,444.0 983.2,447.7 979.0,450.7"/><polygon points="937.5,417.9 941.8,414.9 948.0,418.6 943.7,421.6"/><polygon points="978.1,443.0 982.3,440.0 988.5,443.7 984.3,446.7"/><polygon points="942.9,414.1 947.2,411.2 953.3,414.9 949.1,417.8"/><polygon points="983.4,439.0 987.6,436.0 993.8,439.7 989.6,442.7"/><polygon points="948.3,410.4 952.6,407.4 958.7,411.1 954.5,414.1"/><polygon points="988.7,435.0 992.9,432.1 999.1,435.8 994.9,438.7"/><polygon points="953.7,406.6 957.9,403.7 964.1,407.4 959.9,410.3"/><polygon points="994.0,431.0 998.2,428.1 1004.4,431.8 1000.2,434.7"/></g>
<polygon points="956.1,419.6 970.7,402.9 1002,409.9 978.3,434.2" fill="#b8b8bc" opacity="0.8"/>
<ellipse cx="976.9" cy="420.3" rx="12" ry="7.6" fill="#6c6c6c"/>
<path d="M978,418 C979,402 986,386 1000,376 L1013,367" stroke="#2a2ad8" stroke-width="17" fill="none" stroke-linecap="round"/>
<path d="M982,412 C983,401 989,389 1003,379 L1016,370" stroke="#7070ff" stroke-width="2.5" fill="none" opacity="0.8"/>
<path d="M971,418 C972,400 980,384 996,372 L1009,362" stroke="#1414a0" stroke-width="3" fill="none" opacity="0.5"/>
<ellipse cx="973.5" cy="419" rx="9" ry="6" fill="#5a5a6a" opacity="0.8"/>
<line x1="963.7" y1="364.3" x2="981.8" y2="373.1" stroke="#000" stroke-width="1.6"/>
<polygon points="987.6,376 980.3,376.1 983.2,370.2" fill="#000"/>
<line x1="932.5" y1="402" x2="949.2" y2="409.7" stroke="#000" stroke-width="1.6"/>
<polygon points="955.1,412.4 947.8,412.7 950.6,406.7" fill="#000"/>
<line x1="862.3" y1="456.6" x2="876.7" y2="465.0" stroke="#000" stroke-width="1.6"/>
<polygon points="882.3,468.3 875.0,467.9 878.4,462.2" fill="#000"/>
<line x1="807.7" y1="512.5" x2="802.8" y2="527.1" stroke="#000" stroke-width="1.6"/>
<polygon points="800.8,533.3 799.7,526.1 806.0,528.2" fill="#000"/>
<text x="918.9" y="361.3" font-size="16.5" fill="#1a1a1a" text-anchor="start">tubing</text>
<text x="851.3" y="392.3" font-size="16.5" fill="#1a1a1a" text-anchor="start">microfluidic</text>
<text x="861" y="411.7" font-size="16.5" fill="#1a1a1a" text-anchor="start">interface</text>
<text x="783.4" y="438.7" font-size="16.5" fill="#1a1a1a" text-anchor="start">microfluidic</text>
<text x="795" y="458.3" font-size="16.5" fill="#1a1a1a" text-anchor="start">channel</text>
<text x="731.7" y="486" font-size="16.5" fill="#1a1a1a" text-anchor="start">microelectrode</text>
<text x="768.6" y="504.8" font-size="16.5" fill="#1a1a1a" text-anchor="start">array</text>
<text x="1007" y="472.9" font-size="16.5" fill="#1a1a1a" text-anchor="start">body</text>
<text x="874" y="533.7" font-size="16.5" fill="#1a1a1a" text-anchor="start">shank</text>
<text x="993.8" y="542.8" font-size="14" fill="#1a1a1a" text-anchor="start">100 μm</text>
<rect x="1011.4" y="553.2" width="14.1" height="2.6" fill="#000"/>
<g clip-path="url(#gclip)"><g filter="url(#soft)">
<rect x="33.2" y="616" width="249.8" height="187.3" fill="#575c62"/>
<polygon points="95.0,616.0 200.0,616.0 200.0,690.0 150.0,700.0 120.0,720.0 85.0,760.0 70.0,804.0 45.0,804.0 60.0,750.0 75.0,710.0 85.0,680.0 95.0,640.0" fill="#5c6064" />
<path d="M95.2,732.6l17.6,2.7M162.9,681.7l9.9,2.5M147.9,662.9l8.7,2.1M99.4,689.8l8.8,1.7M90.8,694.2l11.5,5.5M176.7,671.4l9.4,2.0M78.5,724.2l8.9,4.2M59.7,757.2l11.7,6.7M123.1,711.0l8.4,2.9M122.5,703.9l12.9,3.0M77.8,733.6l11.0,3.6M179.1,674.6l8.8,4.5M108.2,701.4l10.3,6.1M149.2,670.6l10.9,1.7M131.1,680.7l8.6,4.0M142.8,673.8l10.2,6.9M94.8,742.5l17.0,5.3M106.2,700.4l6.8,3.3M173.3,627.6l16.6,3.3M115.0,643.4l6.4,5.2M115.3,618.7l11.5,2.8M153.6,640.3l11.3,7.8M119.5,616.9l16.2,3.0M198.0,651.4l10.5,8.1M90.5,729.0l13.9,7.5M94.7,654.8l9.9,6.6M55.5,783.8l14.2,7.1M160.4,690.8l11.9,4.2M129.5,672.5l11.3,5.8M184.7,663.6l5.8,3.5M88.5,729.6l16.2,2.5M128.5,660.9l13.8,5.9M59.2,787.3l10.6,6.4M74.8,733.6l6.6,1.9M177.0,681.8l9.7,6.8M132.3,688.7l12.3,9.2M105.2,720.7l16.1,5.2M134.1,634.4l14.4,5.3M136.3,662.1l15.9,4.0M72.4,719.2l10.2,4.5M100.9,736.5l6.1,3.3M149.0,685.1l12.2,6.2M71.6,796.4l4.9,4.1M129.3,653.1l13.5,2.3M114.4,695.3l10.9,3.2M76.4,740.4l6.3,4.7M65.5,800.5l13.8,11.0M130.8,628.5l14.2,8.4M101.2,637.8l16.8,4.3M139.6,644.4l6.0,3.4M171.5,658.0l13.4,5.2M147.3,665.8l14.9,3.6M157.3,652.5l8.4,6.3M125.9,673.0l5.4,3.2M115.9,628.6l15.6,6.5M81.1,737.7l8.7,1.5M174.8,643.1l7.2,4.3M199.7,644.8l6.3,3.5M107.1,704.1l14.6,5.4M114.5,677.9l11.0,3.2M182.1,661.8l10.2,1.7M91.8,692.1l10.7,5.3M137.6,682.1l6.5,4.3M189.7,662.4l11.2,4.6M74.1,714.2l6.3,1.3M65.5,776.4l7.5,2.4M195.2,620.0l9.4,8.5M108.4,681.5l9.3,6.4M93.3,686.5l12.9,6.8M136.6,625.5l8.3,7.6M62.0,762.3l5.9,1.4M139.8,688.9l16.6,3.4M105.9,658.6l10.4,7.2M122.8,657.2l14.2,3.7M115.7,682.6l7.4,3.6M122.0,708.7l8.0,5.8M149.8,670.1l10.5,9.6M117.8,690.9l7.1,3.7M167.2,645.4l7.1,4.3M171.2,688.7l10.0,4.5M186.1,675.5l12.4,1.9M99.8,634.9l11.1,1.9M71.9,770.3l11.5,4.9M172.5,637.8l10.7,6.0M122.9,659.2l7.8,6.6M131.6,657.2l9.9,2.3M52.6,802.9l8.4,2.1M115.9,684.1l5.9,1.9M73.7,765.5l14.4,5.1M71.6,724.7l10.2,1.9M70.3,777.3l10.6,7.9M127.3,713.3l12.4,9.8M72.2,790.8l13.0,9.4M181.3,649.1l12.5,7.5M156.8,624.7l11.6,7.2M80.8,725.1l14.8,10.2M161.8,637.5l5.3,4.5M90.5,660.0l15.5,7.2M145.5,619.3l9.7,5.1M98.6,670.1l11.7,4.7M130.9,643.0l14.6,3.2M95.3,699.2l8.6,5.5M192.7,671.8l10.8,4.0M147.2,661.2l10.1,3.2M97.5,703.4l12.9,5.8M165.8,627.7l9.3,6.3M121.6,657.2l8.4,4.6M106.0,730.9l7.3,3.7M107.8,620.7l16.1,6.7M151.0,653.7l12.2,6.6" stroke="#2a2e34" stroke-width="0.9" fill="none" opacity="0.8"/>
<path d="M62.1,778.7l4.6,3.7M141.7,626.1l9.3,2.2M199.9,657.9l6.7,3.2M197.7,634.9l10.8,4.0M139.3,690.2l9.1,6.3M168.3,696.3l11.5,3.2M188.2,651.8l7.0,4.7M184.0,642.8l5.4,3.7M96.6,736.9l6.8,5.6M110.9,619.9l11.1,3.0M118.4,697.9l10.6,3.4M149.0,654.0l7.7,4.3M176.9,677.3l9.3,6.3M124.9,672.2l7.4,5.4M67.5,771.0l6.3,3.8M111.8,628.6l6.6,1.2M118.5,675.6l5.5,3.1M184.4,620.0l10.0,6.6M190.4,649.0l9.5,1.6M172.9,673.5l6.0,3.9M132.1,683.8l10.1,2.3M123.7,641.0l8.6,3.7M177.7,654.4l4.8,2.6M118.9,667.5l5.8,1.0M155.4,685.2l5.3,2.7M122.2,661.9l5.9,4.8M145.4,666.2l8.4,5.6M148.0,616.9l9.5,6.0M93.8,694.4l9.5,6.2M155.5,631.9l7.6,3.6M144.7,684.1l4.7,3.0M142.3,666.6l7.9,2.7M74.7,763.7l7.3,2.4M116.4,616.1l11.0,4.7M176.8,639.7l4.1,3.3M94.8,709.8l6.9,4.7M171.7,680.2l7.6,3.8M150.5,635.7l9.5,4.7M149.3,675.7l7.2,4.6M112.7,703.3l5.3,1.1M145.6,663.0l5.0,3.4M161.5,687.3l5.5,3.2M60.9,784.4l6.3,3.0M106.4,630.6l8.2,1.8M152.7,690.2l6.2,5.3M191.7,680.5l6.2,4.3M77.9,779.5l6.7,5.1M181.8,625.2l5.7,4.7M174.7,666.0l5.8,2.5M183.4,674.7l9.0,7.7M185.8,645.6l9.9,6.2M92.2,720.8l9.7,4.5M169.8,646.5l8.4,5.7M117.7,687.7l5.9,3.0M199.0,685.5l5.1,4.6M89.5,679.2l7.3,5.3M111.3,659.9l7.0,5.5M178.3,690.6l7.1,2.3M85.1,749.2l8.8,1.5M95.6,636.5l8.8,8.1M124.2,648.9l4.8,4.2M198.7,683.1l6.4,3.7M77.7,764.6l8.1,5.4M76.7,763.9l5.8,4.5M69.3,795.5l4.0,3.1M96.8,745.7l10.0,4.8M98.2,657.5l7.4,2.2M126.6,679.0l10.4,5.4M137.4,622.5l9.6,4.3M173.3,646.3l5.8,3.1" stroke="#8c9096" stroke-width="0.6" fill="none" opacity="0.5"/>
<polygon points="230.0,616.0 265.0,616.0 275.0,650.0 283.0,680.0 283.0,740.0 265.0,745.0 245.0,720.0 232.0,690.0" fill="#5a5e62" />
<path d="M242.0,689.2l-6.1,3.6M253.3,616.3l-14.6,5.9M249.3,707.3l-10.1,7.2M259.8,651.9l-9.6,1.9M277.6,693.4l-10.2,1.6M281.1,704.8l-7.2,1.5M266.5,727.8l-6.0,3.1M270.7,650.6l-6.3,3.3M249.5,622.5l-5.5,4.9M279.5,690.5l-15.1,3.0M281.3,701.8l-14.3,2.8M267.3,654.9l-6.2,3.9M237.3,668.8l-12.6,1.8M251.5,688.2l-6.8,4.6M282.8,699.5l-9.8,7.3M257.6,704.0l-6.5,5.4M247.5,620.3l-9.8,4.3M263.5,742.0l-6.7,3.5M271.2,714.2l-8.6,3.8M271.9,642.5l-10.0,5.8M253.0,678.1l-11.4,9.2M262.5,707.6l-7.4,1.1M255.0,659.6l-7.6,5.7M247.7,649.9l-10.8,8.8M278.7,697.9l-10.1,4.2M247.8,711.2l-8.9,1.4M250.3,680.9l-12.5,2.3M282.9,684.4l-6.3,3.3M259.1,678.7l-11.3,3.0M271.4,639.4l-8.2,1.3M233.0,688.6l-13.2,2.8M250.9,625.8l-8.9,5.6M271.2,715.4l-9.7,5.7M267.0,677.0l-9.9,4.3M238.6,666.5l-10.7,5.2M233.0,659.5l-12.0,2.7M277.4,688.3l-12.4,9.6M238.5,699.7l-7.2,1.7M256.1,655.5l-9.3,6.7M268.9,678.3l-5.9,1.9M244.1,702.4l-10.9,6.8M273.6,709.2l-5.1,3.8M254.5,671.3l-11.9,4.4M273.7,728.9l-5.6,3.9M265.6,740.9l-14.2,3.7M255.3,660.7l-9.5,4.2M248.3,625.0l-7.0,2.5M256.7,634.2l-6.1,1.9M269.5,640.3l-9.0,7.4M232.6,659.5l-15.2,2.7" stroke="#2a2e34" stroke-width="0.9" fill="none" opacity="0.8"/>
<polygon points="45.0,766.0 200.0,766.0 222.0,804.0 45.0,804.0" fill="#65696c" />
<path d="M188.2,773.2l12.1,-0.8M148.9,777.2l8.3,-1.5M202.6,792.3l18.9,2.6M100.7,798.3l9.3,0.2M60.8,781.8l19.6,1.1M144.0,775.1l11.7,-4.3M94.1,780.5l16.7,-2.4M101.9,786.4l14.5,-3.9M166.9,800.0l8.9,-2.1M160.9,790.3l17.0,1.9M114.6,803.8l11.3,-2.5M192.1,802.7l18.5,-0.4M199.9,771.3l9.7,-0.2M147.9,778.2l10.1,-0.1M47.9,773.1l16.1,-3.1M88.1,793.6l10.9,1.4M196.1,776.6l12.9,-0.7M191.9,789.1l12.4,-2.6M201.7,786.8l19.3,-2.6M50.6,787.7l10.0,-2.2M85.1,782.7l9.9,-3.9M100.1,791.8l9.7,-1.6M122.2,781.7l17.6,1.8M82.1,775.5l17.7,-5.9M69.0,791.7l10.4,-2.7M106.6,803.6l12.7,0.9M64.0,791.5l10.9,-1.6M100.7,791.3l9.5,-2.8M74.6,768.4l8.0,0.8M190.7,780.9l9.1,-3.3M164.2,767.5l7.5,-2.9M89.5,788.6l21.5,-0.6M104.4,790.4l8.9,-2.9M62.0,766.9l20.0,-7.5M175.0,800.2l13.9,-2.2M48.7,773.5l13.7,2.3M196.4,791.3l8.2,-3.4M176.7,783.7l17.9,-1.4M73.6,786.2l10.8,-0.2M51.8,770.8l9.0,0.4M106.1,781.7l18.0,2.7M55.2,785.3l15.0,-6.2M112.3,781.9l8.7,1.5M119.9,797.9l21.2,-5.2M212.0,795.1l19.7,-4.5M176.8,774.3l18.7,3.2M193.0,773.5l9.8,-0.3M89.9,773.1l14.9,2.3M106.2,771.3l21.3,2.2M183.5,774.8l8.9,-1.9M140.7,780.4l8.5,-2.0M139.3,768.9l11.8,-0.2M107.6,798.1l17.9,-1.9M74.4,803.6l13.1,-1.4M182.2,775.9l19.1,-5.1M54.7,787.3l19.0,-4.6M90.1,778.1l12.2,1.4M61.8,793.3l20.6,-0.5M182.7,800.3l10.1,-2.5M161.3,799.1l16.2,-5.9M189.8,776.5l8.6,-2.6M82.2,788.1l14.7,-0.1M136.9,787.1l9.5,-0.2M90.1,780.8l17.7,0.8M179.4,788.0l9.6,-2.8M94.0,767.1l15.2,-5.2M97.8,785.7l16.2,-1.6M143.6,777.3l18.3,1.6M84.0,771.9l20.0,-5.7M116.2,789.9l19.8,-8.6" stroke="#383c42" stroke-width="0.8" fill="none" opacity="0.8"/>
<path d="M85.5,770.1l13.5,-2.4M79.4,793.8l6.2,0.6M123.1,791.8l10.4,-1.2M91.5,775.2l8.0,-1.0M54.6,799.8l7.3,-3.2M79.6,796.1l11.4,-4.9M145.3,783.2l7.8,-1.7M185.7,772.9l11.5,-4.3M161.2,802.4l10.4,-3.7M67.6,781.4l7.9,-0.7M99.7,783.9l10.0,-4.3M79.4,802.4l7.3,-2.4M110.4,794.7l12.9,-1.0M203.6,798.6l7.0,-2.5M139.8,769.6l12.8,-2.0M201.2,776.0l8.9,-3.6M149.9,766.1l9.6,-0.7M162.5,771.2l6.7,-0.9M197.6,794.4l10.6,-3.0M165.7,798.6l6.1,-0.9M188.3,802.5l7.1,-1.4M96.1,800.9l6.1,-1.9M55.4,788.9l9.4,-2.6M206.8,795.8l7.5,1.0M207.7,792.7l9.8,0.1M149.4,802.0l13.8,0.6M134.3,800.3l6.8,0.9M49.1,772.3l9.9,-0.9M66.1,793.8l8.5,0.5M136.6,782.5l11.7,-2.4M57.6,794.1l7.7,-3.2M55.5,786.0l8.2,-2.4M99.4,773.6l12.0,-4.5M149.1,772.1l9.5,-3.3M196.9,782.4l8.5,0.1M197.1,771.0l9.0,1.5M180.7,789.3l11.9,2.2M171.9,793.8l8.1,-0.3M127.4,767.9l12.9,-2.1M65.1,777.8l9.4,-1.3M168.1,789.4l10.7,-4.1M161.9,798.4l8.5,-1.5M183.2,794.4l8.7,-2.1M85.9,797.4l13.4,-1.3M130.2,769.1l12.7,-3.0M194.9,774.9l11.4,-3.0M100.9,766.4l11.9,0.8M191.6,769.3l11.7,-2.3M55.0,780.8l13.1,1.2M79.0,771.2l11.4,-0.1" stroke="#9a9ea4" stroke-width="0.6" fill="none" opacity="0.5"/>
<polygon points="33.0,616.0 75.0,616.0 82.0,640.0 78.0,670.0 65.0,700.0 55.0,730.0 48.0,760.0 33.0,770.0" fill="#4a545e" />
<path d="M45.7,618.2h1.5v1.3h-1.2zM37.2,671.8h1.7v1.7h-1.6zM71.4,651.7h1.7v2.2h-1.3zM35.7,674.6h1.5v1.5h-2.1zM49.6,661.6h1.1v1.8h-1.3zM75.3,668.9h1.3v1.4h-0.8zM44.1,635.3h2.1v1.0h-2.1zM69.7,687.9h2.0v1.5h-1.4zM51.3,714.7h1.9v0.8h-1.6zM58.1,688.2h1.0v1.3h-1.6zM44.1,693.7h0.8v1.3h-1.1zM43.5,718.9h1.4v1.0h-1.4zM49.4,705.8h1.4v1.1h-0.8zM57.3,664.6h1.1v2.1h-1.3zM74.1,676.6h2.0v1.6h-1.9zM49.3,645.7h2.0v1.6h-2.0zM46.4,694.0h1.6v1.4h-1.9zM57.6,687.6h2.0v0.9h-1.6zM44.5,759.1h1.1v1.0h-2.1zM49.6,636.1h2.0v1.6h-1.4zM43.7,680.9h2.2v1.1h-1.4zM35.5,749.8h1.2v1.6h-1.5zM40.9,623.4h2.1v1.4h-1.4zM35.8,758.5h1.0v0.8h-1.0zM48.6,655.1h1.4v1.1h-2.1zM72.8,628.1h2.1v1.2h-1.8zM69.4,670.2h1.8v1.2h-1.0zM49.7,641.9h1.4v1.9h-1.7zM44.8,624.4h1.3v1.6h-1.4zM69.1,647.9h1.5v1.8h-1.5zM54.3,662.5h1.5v1.5h-1.5zM46.1,670.8h2.1v1.9h-1.6zM53.0,650.8h1.1v1.6h-2.1zM34.0,715.8h2.1v2.2h-1.0zM44.5,702.5h1.8v1.1h-1.0zM65.6,692.4h2.2v1.7h-1.6zM73.0,679.8h1.5v0.8h-1.4zM33.4,701.4h1.5v0.9h-1.8zM40.8,700.6h1.7v2.0h-1.2zM39.9,650.6h1.8v1.9h-1.9zM38.8,699.1h1.7v1.3h-0.8zM62.0,672.4h2.1v1.8h-1.7zM64.6,633.6h1.8v2.0h-1.9zM76.8,645.4h1.6v2.2h-1.8zM37.7,701.0h1.2v1.9h-1.6zM44.2,619.5h1.2v1.5h-1.9zM49.1,736.0h0.9v1.3h-0.9zM42.9,671.0h2.1v1.6h-1.1zM40.9,746.9h1.1v2.1h-1.4zM65.6,635.9h1.0v2.0h-1.5zM38.4,721.0h1.5v1.8h-2.1zM58.7,686.6h2.0v1.2h-1.0zM40.0,747.9h2.2v1.0h-1.9zM50.9,697.4h1.9v1.3h-2.1zM75.4,627.0h1.5v1.8h-1.8zM46.8,671.8h2.1v2.0h-1.1zM58.2,690.0h1.5v1.1h-1.7zM39.4,706.6h1.3v2.0h-1.0zM42.3,744.0h0.9v1.5h-0.9zM52.2,616.6h1.8v1.1h-1.1zM40.5,720.7h1.1v2.0h-2.2zM47.6,696.3h1.6v1.2h-1.0zM71.9,622.7h1.3v1.9h-0.8zM59.4,649.4h1.2v1.1h-2.1zM51.0,721.2h1.2v2.1h-2.2zM51.4,737.1h2.1v0.9h-1.8zM44.9,757.0h1.4v1.2h-1.9zM38.0,684.7h0.8v0.9h-1.7zM42.3,654.7h1.7v1.8h-1.2zM64.4,678.3h1.4v2.1h-1.2zM75.4,645.9h2.2v0.9h-1.8zM54.3,711.6h2.0v0.9h-1.7zM41.3,689.4h0.9v2.0h-1.3zM39.2,730.2h1.0v1.3h-1.8zM75.0,651.8h1.9v0.8h-2.0z" fill="#8a98a8"/>
<path d="M64.8,627.3h1.9v1.9h-2.2zM48.0,670.6h1.8v2.1h-1.5zM50.6,655.1h0.8v1.1h-1.3zM47.7,643.5h1.7v1.9h-2.1zM48.5,724.6h1.8v2.0h-2.1zM51.4,676.0h1.2v1.0h-2.1zM71.7,669.2h1.7v1.7h-1.7zM65.9,688.1h1.5v1.6h-1.4zM40.9,638.8h1.5v1.5h-1.7zM55.2,684.6h1.3v1.8h-1.6zM59.5,689.4h1.8v1.6h-1.6zM41.9,705.3h2.2v1.4h-1.0zM62.3,690.2h0.9v1.2h-1.5zM67.7,690.9h0.9v1.6h-0.9zM79.1,655.2h1.1v1.3h-1.2zM35.3,725.5h1.4v1.7h-2.1zM34.7,766.7h1.0v1.2h-1.9zM64.6,691.9h1.5v0.9h-1.3zM39.9,733.6h1.1v1.2h-1.4zM39.8,643.8h1.6v1.3h-1.5zM41.4,662.1h1.6v1.3h-1.6zM51.4,740.0h1.1v1.9h-1.7zM49.9,625.2h1.1v1.9h-2.1zM73.9,678.4h1.9v1.8h-1.0zM48.0,679.2h1.8v1.5h-1.3zM52.7,720.3h1.7v0.9h-1.8zM64.4,626.4h1.4v2.0h-1.1zM55.6,716.2h1.5v1.1h-2.1zM55.1,712.9h1.5v1.9h-1.8zM60.9,697.2h1.1v1.4h-2.2zM53.2,708.6h1.6v1.4h-1.9zM56.7,695.8h2.0v1.6h-1.3zM35.7,733.1h1.9v1.9h-0.8zM45.1,634.7h2.2v1.0h-0.9zM68.3,671.8h1.6v0.9h-1.1zM68.1,647.3h1.4v0.9h-1.1zM65.0,636.9h0.9v0.9h-1.9zM54.5,637.5h1.8v1.8h-1.3zM62.4,617.6h1.9v1.1h-1.0zM52.8,632.7h1.6v2.1h-1.6zM35.7,733.1h1.8v1.4h-1.7zM51.6,686.9h1.5v2.0h-1.6zM41.5,635.6h1.3v2.0h-1.9zM34.4,759.3h1.5v1.2h-1.4zM39.7,634.2h1.7v1.7h-1.6zM48.1,660.4h2.1v1.0h-1.1zM63.4,628.9h0.9v1.7h-1.6zM38.0,708.6h1.0v2.2h-1.2zM49.8,682.9h1.4v1.5h-1.6zM68.4,652.5h2.0v1.9h-1.4zM73.5,662.8h2.2v2.1h-1.2zM53.5,619.0h1.4v2.1h-0.9zM38.5,683.1h1.4v2.1h-0.9zM33.7,680.2h2.2v2.0h-1.7zM43.6,719.4h1.7v1.8h-1.3zM55.0,685.9h1.7v2.0h-1.9zM48.4,660.3h1.6v2.1h-1.1zM34.8,729.5h0.8v2.0h-1.0zM39.1,762.6h2.0v0.9h-1.4zM47.1,728.4h1.1v0.9h-2.0zM53.1,668.9h1.9v1.0h-2.0zM50.0,745.2h1.8v1.7h-1.8zM47.4,669.5h2.1v1.2h-1.0zM48.3,755.2h0.9v1.8h-1.2zM65.7,685.2h1.7v1.2h-1.1zM53.7,714.5h2.2v1.5h-2.1zM59.7,625.6h1.2v1.4h-1.3zM37.3,720.5h1.2v1.0h-1.6zM55.8,681.7h1.9v2.1h-1.4z" fill="#1e242c"/>
<path d="M65.9,632.1h1.5v2.1h-1.4zM60.3,619.8h1.8v1.7h-1.4zM68.2,619.1h1.4v1.2h-1.6zM47.1,701.2h0.9v1.8h-0.9zM39.4,662.1h1.8v2.1h-0.8zM73.8,637.3h1.7v1.7h-1.8zM60.3,653.7h2.0v1.6h-1.8zM40.3,758.7h1.9v1.3h-2.2zM34.0,721.6h1.3v1.6h-1.4zM71.1,672.0h1.9v1.6h-1.5zM46.3,640.5h1.1v0.9h-1.3zM68.2,660.5h1.9v1.7h-1.5zM43.7,642.2h2.1v1.5h-1.3zM41.3,623.8h1.3v1.8h-1.3zM55.8,680.0h1.5v0.8h-1.5zM64.6,690.6h1.4v1.1h-2.0zM66.0,631.9h1.5v1.3h-1.5zM53.0,687.0h1.4v1.3h-1.1zM44.4,668.7h1.2v0.9h-1.9zM70.7,646.9h1.0v1.7h-1.3zM35.4,743.2h1.8v2.1h-2.2zM68.2,636.0h1.6v1.2h-1.3zM35.3,752.7h0.8v2.0h-2.0zM53.6,633.3h1.1v1.2h-1.1zM37.2,709.5h1.4v0.8h-2.1zM61.7,647.0h1.3v1.2h-1.5zM75.9,628.7h1.5v1.2h-1.6zM71.4,640.7h1.0v1.1h-1.5zM33.7,667.7h1.1v1.2h-0.9zM52.3,687.6h1.1v1.7h-1.2zM62.5,618.0h1.9v0.9h-1.7zM38.6,765.4h2.1v0.8h-1.9zM40.5,650.7h1.1v1.7h-1.1zM74.5,671.2h1.6v1.2h-1.6zM49.6,750.6h0.9v1.5h-2.1zM46.1,626.9h1.7v0.9h-2.1zM59.2,638.0h2.1v1.0h-1.1zM52.2,661.4h1.5v1.1h-1.0zM68.4,653.3h1.0v1.7h-1.4zM62.4,658.7h2.1v1.0h-1.6zM45.4,633.9h1.7v1.4h-1.1zM81.4,642.9h1.0v1.1h-1.0zM64.6,691.8h1.1v1.4h-1.8zM47.2,710.5h1.1v1.8h-1.6zM76.6,657.7h2.2v2.1h-1.7zM62.4,678.7h1.3v1.3h-1.8zM68.7,639.9h1.8v1.7h-1.6zM47.4,663.4h1.2v1.9h-1.2zM75.9,652.6h1.1v1.5h-1.0zM54.0,649.6h1.4v2.0h-1.6zM68.3,676.9h1.8v0.9h-1.9zM41.2,747.4h0.9v1.0h-2.1zM51.1,663.2h1.5v0.9h-0.8zM60.2,703.1h1.6v0.9h-1.6zM71.6,672.5h1.7v0.9h-1.8zM42.4,753.7h1.5v2.1h-1.9zM36.6,714.8h1.8v1.7h-2.1zM76.1,635.9h1.4v2.2h-1.9zM64.6,687.4h1.1v1.8h-1.6zM73.1,634.0h2.2v1.4h-2.1zM59.9,700.6h1.2v2.0h-1.4zM44.4,645.2h1.1v1.8h-1.6zM42.0,734.0h1.9v1.9h-1.5zM42.3,638.3h1.8v1.8h-0.9zM35.6,735.9h1.6v1.6h-0.9zM59.7,631.1h1.6v0.9h-1.7zM40.2,745.5h0.9v2.1h-2.0zM46.4,672.9h1.2v1.2h-1.8zM55.7,671.3h1.2v1.2h-1.1zM77.7,633.4h1.9v1.9h-1.6zM34.7,635.3h0.9v1.9h-1.0zM48.6,689.8h1.9v1.8h-1.6zM55.4,682.4h1.6v1.4h-1.7zM45.8,714.4h1.5v1.7h-1.6zM76.5,632.1h1.5v0.9h-1.1zM59.2,697.3h2.1v2.0h-1.4zM67.2,635.2h1.3v1.9h-1.5zM34.0,645.6h0.9v1.5h-0.8zM67.3,669.2h1.0v1.6h-1.5z" fill="#c0ccd8"/>
<path d="M45.5,665.8h1.1v1.1h-2.0zM41.0,687.8h1.1v0.8h-0.9zM70.1,629.9h1.2v1.3h-2.1zM38.9,647.2h1.4v1.7h-2.0zM36.1,640.4h1.5v1.2h-1.9zM39.1,683.3h1.2v1.8h-1.1zM56.3,630.8h1.7v1.5h-0.9zM65.4,619.3h1.7v1.0h-2.1zM44.1,722.4h2.0v0.9h-2.0zM38.3,763.7h2.2v0.8h-1.1zM38.7,684.7h1.6v1.1h-1.5zM57.3,692.4h1.5v1.4h-0.9zM43.5,680.5h1.4v1.2h-1.2zM47.5,644.1h0.9v1.0h-0.8zM51.1,658.9h1.3v1.8h-1.5zM38.4,702.0h1.0v1.4h-1.6zM54.7,684.3h1.4v2.1h-1.0zM46.3,624.0h1.1v0.9h-2.2zM77.3,664.2h2.0v1.8h-0.9zM42.2,698.2h1.9v1.1h-1.7zM42.7,653.7h1.1v2.0h-1.5zM34.2,659.8h1.0v1.3h-1.0zM38.5,652.7h1.5v2.0h-1.0zM70.6,680.8h1.0v1.4h-2.1zM52.5,641.6h1.4v1.8h-0.9zM62.3,617.7h1.4v1.4h-1.9zM60.0,620.9h1.4v0.9h-0.9zM53.4,667.4h2.1v1.8h-1.3zM62.7,674.2h0.9v1.4h-1.8zM58.9,624.9h2.0v1.5h-1.1zM44.0,720.2h1.8v2.1h-1.7zM64.9,643.5h0.9v1.0h-1.0zM43.9,678.7h1.2v1.1h-1.8zM39.4,692.2h1.9v1.4h-2.0zM43.9,619.3h2.1v1.2h-2.0zM73.9,654.5h1.9v2.0h-2.1zM37.1,726.9h1.4v1.9h-1.6zM46.1,712.6h2.0v1.4h-1.8zM65.0,632.5h1.2v0.9h-1.6zM37.8,697.5h1.7v1.4h-1.9zM41.7,734.8h2.1v1.6h-1.1zM40.7,740.5h0.9v0.8h-1.1zM38.8,657.2h1.0v0.8h-2.0zM47.9,702.5h2.0v1.0h-1.5zM45.8,729.6h1.6v2.1h-1.4zM55.4,677.9h1.8v1.5h-1.0zM47.6,759.4h1.6v1.2h-2.1zM56.1,711.8h1.3v1.5h-1.5zM59.5,664.1h1.9v1.7h-1.2zM51.5,659.9h1.2v1.8h-1.1zM76.2,646.0h1.6v1.6h-2.1zM41.8,742.7h1.7v0.9h-1.0zM67.4,675.0h2.0v1.2h-1.9zM49.4,695.6h1.8v1.2h-1.2zM71.4,631.2h1.0v1.6h-2.1zM56.3,710.6h0.9v1.1h-2.0zM41.0,744.8h1.1v1.2h-1.8zM65.4,621.9h1.3v1.2h-1.9zM41.8,699.6h1.5v1.1h-1.4zM71.4,668.4h1.0v2.1h-1.9zM60.5,662.3h1.2v0.9h-1.5zM41.0,656.7h2.2v1.5h-1.5zM63.4,654.2h1.6v1.1h-1.9zM42.1,744.7h1.0v1.4h-1.6zM36.3,721.2h2.0v1.0h-0.9zM64.2,632.9h2.2v1.3h-1.7zM47.7,754.1h1.0v1.1h-1.2zM44.6,678.7h1.7v1.7h-1.1zM35.8,744.6h1.9v1.6h-2.1zM63.9,625.5h1.2v1.3h-2.1zM35.9,739.0h2.0v2.1h-1.2zM39.4,719.4h1.4v1.9h-1.1zM48.3,725.5h1.2v0.9h-1.9zM50.8,661.8h1.5v1.4h-1.1zM51.6,627.4h1.6v2.2h-1.8zM55.4,631.0h2.2v0.8h-0.9zM77.9,626.8h1.7v1.4h-1.4zM53.1,712.2h0.8v1.6h-1.7zM33.4,644.3h0.9v1.1h-1.5zM43.2,758.6h1.2v1.9h-2.0zM76.8,630.9h1.3v2.0h-0.9zM54.4,653.2h1.0v2.1h-1.6zM61.3,645.9h1.0v1.6h-1.5zM41.0,710.5h1.8v1.1h-1.2z" fill="#141a20"/>
<path d="M44.6,663.2h1.2v1.4h-1.7zM44.1,707.5h1.5v1.8h-2.2zM68.3,656.1h1.5v1.5h-2.1zM76.7,663.0h2.0v1.3h-1.4zM67.2,628.2h2.2v1.9h-1.7zM72.3,619.3h1.8v1.3h-0.8zM77.4,657.2h1.6v0.9h-1.3zM73.3,651.1h1.5v0.9h-1.7zM65.0,635.2h1.3v1.8h-1.3zM36.0,718.3h1.3v1.9h-1.7zM74.4,667.1h1.6v2.0h-1.8zM67.8,660.5h1.1v1.1h-1.3zM36.3,736.2h1.6v1.5h-1.9zM56.0,720.5h2.0v2.1h-1.1zM51.8,713.6h1.5v1.3h-1.3zM49.4,642.4h1.7v1.0h-2.1zM70.5,650.0h1.6v1.9h-1.0zM45.8,679.2h2.2v2.1h-1.4zM61.6,675.9h2.0v2.1h-0.9zM57.1,651.0h1.9v1.3h-1.0zM55.6,669.1h2.1v2.1h-1.3zM43.8,646.4h1.6v2.0h-0.9zM71.5,654.4h2.0v1.6h-1.1zM34.2,714.2h2.1v2.1h-0.8zM52.8,663.4h1.5v1.8h-1.5zM67.8,674.8h1.4v2.1h-2.0zM75.3,652.5h2.1v1.0h-1.5zM40.9,618.3h1.6v1.8h-1.5zM57.1,682.1h1.3v0.9h-1.8zM73.2,627.2h0.9v1.1h-1.9zM69.1,659.2h1.3v1.4h-1.4zM70.5,681.4h1.3v2.2h-1.4zM68.4,662.0h1.5v2.1h-2.1zM67.3,664.8h1.5v1.9h-1.1zM52.7,670.6h1.9v1.0h-1.7zM40.1,761.5h2.1v1.7h-1.0zM44.6,680.6h1.4v0.8h-1.8zM51.7,729.6h1.8v1.6h-1.0zM39.0,659.6h2.2v1.7h-2.0zM51.3,712.4h1.2v1.3h-1.2zM50.4,655.1h1.1v1.3h-1.8zM55.0,705.1h1.2v2.1h-1.2zM55.8,702.9h1.6v1.9h-1.8zM49.2,752.8h0.8v1.8h-2.0zM47.0,742.2h1.6v1.0h-2.0zM51.2,662.9h1.6v0.9h-1.0zM46.6,753.5h1.9v1.0h-1.9zM52.4,734.5h1.0v1.2h-2.0zM36.6,745.4h1.9v1.3h-1.2zM38.2,688.8h1.8v2.0h-2.2zM52.7,691.4h0.9v2.1h-1.3zM62.2,657.2h1.3v1.0h-1.1zM71.7,681.6h1.2v0.9h-1.3zM41.1,723.4h1.8v1.2h-1.6zM53.1,716.2h1.9v2.1h-1.4zM52.5,734.9h1.9v2.2h-1.7zM53.4,693.5h1.4v1.4h-1.3zM46.1,678.3h1.7v1.6h-1.4zM63.6,691.8h1.0v1.1h-0.8zM51.4,658.0h1.5v2.1h-1.6zM51.5,725.9h2.0v1.3h-1.0zM66.0,693.9h1.4v1.9h-1.8zM58.7,676.3h1.1v1.8h-2.2zM49.6,636.2h1.7v1.5h-1.2zM50.0,649.4h2.2v1.9h-1.9zM61.1,626.8h2.1v2.0h-1.6zM66.1,630.1h1.4v1.6h-1.3zM51.1,736.0h1.9v1.6h-1.3zM45.2,733.8h2.2v1.5h-1.6zM42.2,732.8h1.3v1.2h-1.9zM39.2,647.5h1.9v1.5h-1.2zM44.8,674.6h1.6v1.1h-1.6zM46.9,709.1h0.9v2.0h-1.7z" fill="#6a7888"/>
<path d="M41.1,777.9h1.5v2.2h-1.8zM38.7,781.2h1.2v2.1h-0.9zM40.9,795.0h1.7v2.0h-1.6zM45.2,798.2h1.8v2.0h-1.1zM41.1,761.6h1.7v1.7h-1.4zM45.3,789.2h1.4v1.4h-1.2zM39.0,755.5h1.8v1.1h-1.5zM44.0,769.7h1.6v1.7h-1.9zM45.4,801.2h0.9v1.2h-1.3zM46.4,757.1h1.7v2.0h-1.5zM42.6,764.8h1.0v1.8h-1.1zM46.0,785.3h2.0v1.9h-1.4zM45.2,757.9h0.9v2.1h-2.1zM35.4,787.1h1.7v1.7h-1.0zM34.6,767.5h1.9v1.2h-1.4zM46.4,764.6h1.4v2.0h-1.7zM35.7,748.9h2.0v1.9h-1.0zM40.1,798.1h0.9v1.6h-1.3zM46.2,784.8h0.8v0.8h-1.7zM39.8,776.6h0.9v1.6h-1.5zM45.2,750.5h1.6v1.0h-1.4zM39.7,771.7h1.6v1.8h-1.9zM42.8,756.0h1.9v1.5h-1.6zM36.5,762.9h1.0v1.0h-1.0zM41.5,773.1h1.8v1.2h-1.0zM38.7,793.9h1.2v1.5h-1.6z" fill="#d8c060"/>
<path d="M41.6,759.7h1.2v1.8h-1.7zM39.3,791.5h1.8v1.2h-0.9zM33.7,791.1h1.1v1.2h-1.7zM34.5,800.9h1.0v0.9h-1.1zM44.7,789.1h2.1v1.8h-1.0zM44.1,757.4h1.3v1.8h-1.2zM44.5,766.7h1.6v1.3h-1.4zM45.6,772.0h1.3v1.8h-1.7zM33.5,798.2h0.9v1.1h-1.3zM38.0,802.0h1.4v1.5h-1.8zM38.1,802.5h1.7v1.0h-1.7zM33.9,803.1h1.0v1.3h-1.8zM43.9,746.3h1.7v1.8h-1.2zM40.8,768.3h1.3v1.4h-1.0zM36.1,784.1h2.2v0.9h-1.4zM42.7,765.0h1.1v1.6h-1.6zM39.5,760.7h0.8v2.1h-1.5zM46.2,784.4h1.6v1.9h-1.6zM40.1,782.7h1.6v1.6h-1.6zM41.3,763.3h1.3v1.1h-1.4zM46.5,774.2h1.9v1.8h-0.9zM40.5,795.2h1.8v0.9h-2.1zM36.7,796.5h2.1v1.0h-2.1zM40.4,795.5h1.8v1.3h-1.8zM41.2,771.3h0.9v0.9h-2.0zM33.9,773.3h1.9v1.2h-2.1zM36.1,754.2h1.5v1.5h-1.5zM44.8,774.3h1.9v1.9h-0.8zM40.9,746.3h1.0v0.9h-0.9z" fill="#a88830"/>
<path d="M40.2,795.3h1.8v0.8h-1.2zM37.4,752.3h1.9v1.4h-0.9zM39.7,760.0h1.2v1.8h-2.1zM37.1,760.5h1.6v2.0h-1.9zM47.0,769.7h2.0v1.2h-1.5zM41.1,776.0h1.4v1.7h-0.9zM37.4,791.0h1.8v0.9h-1.2zM40.6,780.3h2.2v1.7h-1.5zM34.7,785.3h1.7v1.4h-0.9zM33.7,797.6h1.7v1.5h-1.3zM35.1,781.1h1.6v1.4h-1.4zM36.7,762.2h1.6v1.9h-2.1zM42.7,745.6h1.7v1.7h-0.9zM36.8,759.0h1.0v2.1h-1.9zM36.4,766.5h2.0v2.2h-2.1zM37.0,768.3h2.1v1.0h-1.9zM36.5,745.3h1.0v1.9h-2.0zM40.8,773.0h1.1v1.0h-1.0zM42.7,784.1h1.7v2.1h-2.2zM36.5,793.5h1.4v1.5h-1.6zM43.0,753.5h0.8v1.7h-0.9zM38.0,766.1h0.9v0.9h-1.0zM47.6,752.3h1.0v1.6h-1.0zM46.3,761.3h0.9v2.1h-1.3zM33.7,773.5h1.0v2.0h-1.6zM35.7,751.8h1.4v1.5h-0.9zM34.3,800.6h1.2v1.8h-2.0zM43.8,781.0h1.4v2.0h-2.0zM35.8,754.6h1.9v2.0h-2.1z" fill="#f0e0a0"/>
<path d="M34.5,799.5h0.9v1.7h-1.9zM38.3,749.6h2.0v1.6h-1.4zM40.0,795.8h1.8v2.2h-0.9zM36.1,776.8h1.9v1.9h-1.9zM33.1,772.1h1.4v1.9h-2.1zM36.6,772.8h1.9v1.7h-1.2zM36.4,753.6h1.6v0.9h-1.6zM39.4,782.3h1.5v1.4h-1.3zM45.0,756.9h1.4v2.0h-1.9zM35.3,794.8h2.0v2.0h-1.2zM35.5,769.3h1.4v1.6h-2.0zM42.3,758.7h0.9v1.9h-2.0zM42.2,756.3h1.3v2.0h-1.0zM45.8,748.8h1.2v0.9h-1.2zM39.5,773.1h0.9v1.3h-1.4zM35.2,746.1h1.2v1.2h-1.2zM42.1,778.3h0.9v1.5h-2.0zM34.6,758.9h1.9v2.2h-1.5zM33.2,768.6h1.3v1.3h-2.1zM38.3,750.8h2.1v1.3h-1.7zM44.3,751.1h0.9v1.7h-1.0zM36.1,794.0h1.4v1.0h-1.0zM45.8,777.5h0.9v1.7h-1.0zM41.5,786.1h1.1v2.0h-0.8zM36.1,772.2h1.2v1.6h-1.6zM43.2,802.6h1.9v2.1h-2.2z" fill="#605020"/>
<polygon points="222.0,742.0 250.0,735.0 283.0,728.0 283.0,804.0 215.0,804.0" fill="#8e8c78" />
<path d="M243.9,746.9h2.2v1.4h-1.5zM252.9,737.2h1.1v2.1h-1.5zM259.3,766.1h1.1v2.1h-1.0zM242.4,802.2h1.6v1.2h-1.2zM219.3,794.3h1.0v1.2h-1.0zM238.3,785.1h1.7v2.1h-1.0zM226.8,741.8h1.4v1.0h-1.1zM257.9,782.8h1.9v1.1h-1.3zM259.8,803.2h1.4v1.2h-2.1zM248.4,779.0h1.6v1.9h-1.7zM272.4,753.6h1.2v1.2h-1.7zM271.0,746.6h1.0v1.4h-1.9zM237.7,775.4h2.0v1.1h-1.6zM280.4,745.6h1.3v1.4h-1.2zM240.5,750.9h1.0v1.4h-1.6zM260.2,776.1h1.4v1.5h-1.9zM280.9,802.1h1.3v1.7h-1.0zM271.6,787.3h1.3v2.1h-1.1zM259.0,758.2h0.9v1.5h-0.9zM254.7,799.1h1.8v2.1h-1.1zM260.1,764.4h2.1v1.4h-1.6zM232.8,742.9h2.1v2.0h-1.8zM232.9,801.7h1.4v1.9h-1.1zM251.9,745.8h2.0v1.5h-1.4zM232.4,791.9h0.8v2.2h-1.3zM255.7,789.5h1.7v2.1h-1.3zM250.3,742.5h2.2v1.6h-1.4zM220.2,773.4h1.3v1.7h-1.0zM267.9,799.0h1.2v1.5h-1.8zM244.5,755.6h1.0v2.1h-1.9zM234.4,803.1h1.6v1.4h-1.9zM257.9,767.5h1.6v1.9h-2.2zM257.9,775.5h2.1v1.3h-1.7zM235.2,790.2h1.3v2.1h-1.4zM249.1,776.6h0.9v1.8h-1.0zM245.4,760.9h1.4v1.7h-1.8zM267.2,788.3h1.0v1.2h-1.1zM253.0,765.9h1.7v1.7h-1.9zM235.2,768.4h1.5v1.8h-1.9zM263.8,803.3h1.3v1.8h-1.8zM229.8,743.5h1.7v1.7h-1.4zM241.5,766.7h1.3v1.4h-1.0zM222.8,793.9h1.2v1.5h-1.9zM260.2,758.3h1.4v1.9h-1.4zM242.0,747.5h1.4v1.9h-1.6zM242.5,742.0h1.6v0.9h-1.2zM223.0,763.4h1.1v1.8h-1.3zM222.5,757.0h2.1v2.0h-1.0zM249.8,753.4h1.2v1.0h-1.8zM266.7,754.0h0.9v1.6h-1.6zM279.0,750.2h1.5v2.2h-1.3z" fill="#c8c0a0"/>
<path d="M270.2,764.8h1.1v0.9h-0.8zM243.0,761.5h1.2v1.1h-1.5zM251.4,802.8h1.3v1.1h-1.5zM230.7,801.2h2.1v1.3h-1.8zM252.9,792.4h1.4v1.6h-1.0zM243.6,800.8h1.2v1.1h-2.2zM239.5,782.5h1.4v0.9h-2.0zM239.3,771.6h1.1v1.9h-1.0zM234.8,762.8h0.9v1.9h-2.1zM215.8,803.1h2.1v1.7h-1.3zM242.2,774.0h2.1v2.0h-1.6zM234.8,800.5h1.0v1.1h-1.1zM253.8,750.9h1.1v1.9h-0.9zM277.8,772.0h0.8v1.1h-1.1zM235.3,759.1h1.7v1.6h-1.7zM242.8,786.8h1.7v0.8h-1.8zM249.0,787.4h1.2v1.1h-1.6zM244.9,789.9h1.2v1.5h-0.8zM219.7,782.8h1.6v2.0h-1.3zM270.1,735.9h1.4v2.2h-1.8zM248.1,755.2h0.9v1.1h-1.6zM271.8,754.5h1.2v1.3h-1.6zM278.3,757.5h1.9v1.3h-1.4zM254.0,765.5h1.6v1.7h-1.2zM235.4,798.0h1.5v1.4h-0.9zM251.5,798.6h1.3v1.2h-1.2zM263.3,746.3h1.9v2.0h-1.1zM272.6,743.4h2.1v2.0h-1.4zM275.9,738.2h1.7v1.9h-1.7zM276.5,761.0h1.2v1.1h-1.5zM273.3,795.1h1.5v1.0h-2.1zM234.8,748.7h1.5v1.1h-2.0zM253.5,762.3h1.6v1.9h-0.8zM265.5,761.9h1.6v1.9h-1.7zM243.7,768.8h1.5v1.8h-1.3zM273.7,750.0h1.1v2.1h-1.4zM223.8,751.1h1.5v2.1h-2.0zM251.7,763.0h0.9v1.5h-1.0zM278.5,775.9h1.2v1.6h-1.9zM225.3,787.5h1.0v1.2h-1.7zM226.0,796.8h1.5v1.2h-1.1zM231.6,773.4h1.1v1.9h-1.8zM238.9,796.3h2.1v1.2h-1.0zM224.3,758.0h1.1v1.0h-1.3zM227.1,795.4h1.3v1.1h-1.2zM226.4,757.7h1.6v0.8h-0.9zM272.5,788.0h1.6v0.9h-1.2zM222.9,794.3h1.3v1.2h-1.7zM280.1,791.9h1.7v0.9h-1.0zM282.5,790.0h0.9v2.1h-1.1zM279.5,783.3h0.8v1.4h-1.8zM265.7,760.7h1.6v1.6h-1.8zM269.6,766.0h1.6v2.0h-1.6zM235.6,752.6h2.0v2.2h-1.4zM247.7,743.7h2.0v2.2h-2.2zM257.5,788.8h1.9v2.1h-1.0zM230.5,747.0h2.2v1.0h-2.2zM276.0,739.5h2.2v0.9h-2.2zM235.5,743.9h2.0v1.4h-2.0zM219.9,761.8h1.4v1.6h-1.9zM269.0,782.0h2.1v0.9h-1.4zM254.7,780.8h1.2v1.2h-1.5zM247.7,754.8h2.2v1.7h-1.5zM275.1,783.9h2.0v1.4h-1.6zM234.2,795.8h2.1v1.2h-1.7zM256.4,796.2h1.3v1.5h-1.7z" fill="#e8e0c0"/>
<path d="M267.8,733.8h1.1v1.9h-1.4zM229.3,743.6h1.3v2.0h-1.7zM241.0,780.6h1.6v1.1h-1.5zM265.7,759.9h1.8v1.6h-2.1zM235.0,766.7h1.4v1.7h-2.0zM219.5,781.0h1.0v1.4h-2.2zM274.7,770.2h1.5v1.5h-2.2zM250.4,738.0h1.6v0.9h-1.4zM235.7,747.6h1.2v1.0h-0.8zM265.5,779.8h1.9v1.9h-1.0zM282.4,749.6h1.2v1.0h-1.1zM243.0,761.1h2.1v2.0h-1.2zM277.1,760.9h0.9v2.2h-0.9zM263.0,777.2h1.5v1.0h-1.8zM223.5,774.2h1.4v1.4h-1.1zM258.7,799.5h1.4v2.1h-1.3zM275.6,738.2h2.0v1.5h-1.0zM272.9,798.0h1.4v1.7h-1.5zM269.1,788.7h1.5v1.7h-1.4zM262.3,787.6h0.9v0.8h-1.2zM241.3,779.3h1.0v1.8h-0.8zM281.9,799.4h1.6v1.4h-1.8zM274.5,755.3h1.4v1.3h-1.2zM249.6,779.7h2.0v1.0h-1.1zM234.0,793.0h0.9v1.7h-1.7zM259.3,803.5h0.9v0.9h-1.8zM253.0,769.1h1.2v2.1h-1.4zM220.1,776.9h1.8v2.2h-1.1zM281.2,737.7h1.7v2.0h-1.7zM233.5,781.6h0.8v1.4h-1.8zM246.8,794.1h1.9v1.8h-1.2zM261.2,755.9h2.2v1.4h-1.4zM267.1,749.9h1.3v1.9h-1.0zM244.0,780.8h1.2v2.0h-1.5zM279.5,768.9h2.0v1.6h-2.1zM264.4,754.3h1.1v1.2h-2.2zM268.6,783.4h0.8v1.3h-2.0zM232.9,779.2h0.9v1.9h-1.6zM243.4,768.3h1.5v1.3h-0.8zM243.1,760.4h1.5v1.7h-1.7zM244.4,779.9h1.6v2.2h-1.7zM233.3,740.9h1.7v1.5h-1.4zM258.9,746.3h1.0v1.6h-1.6zM266.5,765.5h0.9v1.2h-1.3zM263.9,787.4h2.1v1.9h-1.5zM254.3,740.2h1.1v2.1h-1.6zM246.9,758.2h1.9v2.1h-1.9zM232.1,800.9h2.2v2.1h-1.8zM261.7,794.1h1.6v1.9h-1.5zM242.6,737.1h1.8v1.1h-1.6zM278.2,768.8h1.6v1.0h-2.2zM246.0,766.9h2.0v2.1h-1.7zM226.0,798.4h2.1v1.7h-1.4zM229.6,798.3h1.7v2.0h-1.6zM221.9,749.5h1.9v1.3h-1.0zM275.4,765.8h1.8v1.5h-1.3zM234.8,766.0h1.6v2.0h-1.5zM254.5,782.8h1.7v1.3h-1.7zM255.2,781.2h1.8v1.0h-1.4zM282.3,780.4h1.8v1.8h-2.0zM257.5,742.1h1.7v0.8h-2.0zM279.1,767.2h2.0v1.7h-1.7zM245.4,781.6h1.8v0.8h-1.4zM256.1,799.0h2.1v0.8h-1.7zM219.0,772.8h0.9v0.9h-1.3z" fill="#4a4840"/>
<path d="M279.4,779.0h1.4v1.3h-1.0zM227.8,745.9h2.0v1.9h-1.6zM237.1,773.8h1.1v2.0h-1.9zM238.6,765.2h0.9v1.8h-0.9zM241.3,771.2h1.1v0.9h-1.5zM253.8,760.4h1.8v2.2h-1.8zM268.1,783.7h1.7v2.1h-2.0zM272.2,748.7h1.7v2.1h-2.0zM273.3,787.9h1.7v2.0h-1.5zM227.4,752.8h1.3v1.4h-0.9zM247.3,751.6h0.9v1.4h-1.3zM262.4,762.1h1.8v0.9h-2.0zM280.8,791.2h0.9v0.9h-2.1zM266.6,793.0h2.1v2.1h-1.3zM230.8,762.7h1.4v1.3h-2.2zM263.8,747.1h2.0v1.4h-1.5zM266.6,741.5h1.9v0.8h-1.8zM222.7,782.7h0.8v1.2h-2.1zM280.4,773.1h1.7v2.1h-1.4zM233.0,790.6h0.8v1.4h-1.3zM219.7,787.2h1.5v1.8h-1.1zM265.3,744.6h2.0v0.9h-2.0zM228.4,770.7h1.5v0.9h-1.1zM247.3,764.8h1.6v0.8h-0.9zM279.1,792.8h2.1v0.9h-1.0zM235.0,746.0h2.1v1.3h-0.8zM274.5,740.4h1.4v0.8h-1.5zM244.5,777.0h1.5v0.9h-1.8zM228.1,742.1h1.4v1.0h-1.9zM218.8,790.6h1.1v1.7h-1.7zM221.6,777.6h1.2v0.8h-1.5zM277.4,744.8h1.7v1.2h-1.0zM229.6,772.0h2.1v1.2h-1.7zM270.0,772.6h1.8v2.0h-1.6zM264.4,799.3h1.5v1.6h-1.0zM251.3,780.3h1.0v1.2h-1.9zM243.8,751.1h1.8v1.5h-2.0zM242.0,804.0h2.2v1.9h-1.5zM260.6,776.7h1.7v1.1h-2.0zM276.6,780.4h2.0v1.2h-1.7zM249.0,749.1h0.9v1.8h-1.7zM265.5,747.9h0.9v1.0h-1.3zM254.6,742.0h1.4v1.2h-1.0zM274.8,759.6h2.2v1.6h-1.8zM247.7,753.8h1.4v1.9h-0.9zM254.0,756.1h1.5v1.4h-1.3zM226.6,765.6h1.0v0.9h-0.9zM260.4,784.5h1.1v1.9h-2.2zM251.2,801.1h1.0v2.1h-1.5zM238.2,751.9h1.0v2.2h-1.3zM266.4,736.3h2.0v2.0h-1.4zM267.3,734.9h0.8v1.8h-1.5zM263.4,743.6h2.0v1.5h-0.9zM232.9,762.7h1.5v2.0h-2.0zM248.2,762.3h2.1v2.1h-1.2zM277.8,780.0h1.2v1.2h-1.9zM261.1,770.7h2.0v1.9h-1.0zM225.8,803.2h2.0v0.8h-1.9zM222.1,775.8h1.2v1.4h-1.1zM282.2,790.1h1.7v1.0h-1.4zM274.2,762.2h1.6v1.9h-1.0zM252.8,799.6h1.4v2.1h-2.2zM282.9,738.5h1.0v1.2h-2.1zM259.0,777.4h1.9v1.5h-0.8zM237.5,755.1h1.9v2.2h-1.0zM234.3,771.0h2.1v1.0h-1.1zM259.1,790.7h1.7v1.1h-1.5zM255.2,778.5h0.9v1.7h-2.0zM261.0,753.1h1.1v2.0h-1.4zM266.2,803.9h1.8v1.9h-1.8zM221.3,758.2h2.0v1.4h-2.0z" fill="#a09070"/>
<path d="M259.2,775.8h2.0v1.3h-1.6zM218.5,787.0h1.5v1.9h-1.5zM264.7,759.6h1.7v1.4h-1.2zM269.2,740.3h2.0v0.9h-0.9zM278.1,753.6h2.1v1.2h-1.7zM230.1,763.8h1.2v1.7h-1.1zM236.9,799.4h1.2v1.6h-2.2zM253.5,739.0h1.3v1.3h-0.9zM280.8,754.3h1.9v0.9h-1.3zM270.3,776.1h2.0v1.6h-1.2zM272.2,790.9h1.1v0.8h-2.0zM263.9,784.4h1.5v1.9h-1.6zM253.5,785.4h2.0v1.9h-1.9zM245.1,795.8h2.2v1.4h-0.9zM273.9,788.3h1.4v2.1h-1.0zM229.2,782.9h1.5v2.1h-2.2zM280.5,761.0h1.3v1.7h-0.9zM247.3,772.7h1.7v1.1h-1.4zM267.2,735.2h1.7v1.4h-1.9zM280.4,758.1h1.6v1.6h-1.0zM270.5,772.9h1.8v1.6h-1.7zM275.8,802.0h1.9v1.1h-1.8zM250.3,758.5h1.1v1.9h-0.9zM282.4,784.4h1.9v1.9h-2.2zM270.6,760.6h2.0v0.8h-2.1zM280.9,786.8h0.9v1.7h-2.0zM240.0,775.8h1.0v2.2h-1.2zM242.0,768.2h1.8v0.9h-1.5zM256.3,759.2h0.9v1.7h-0.9zM242.2,783.3h1.4v2.1h-1.4zM231.3,767.4h1.4v1.6h-1.2zM257.3,777.9h1.8v1.1h-1.5zM249.6,792.7h1.2v2.0h-1.4zM261.1,773.9h1.3v1.7h-1.5zM279.5,780.9h0.8v2.1h-1.2zM280.8,775.2h1.5v1.1h-2.0zM260.4,784.2h2.1v1.6h-1.7zM263.3,773.9h1.5v1.4h-0.8zM250.5,750.2h1.9v1.0h-1.2zM238.0,746.1h1.9v2.1h-2.0zM229.0,803.8h0.9v1.0h-2.1zM272.1,739.3h1.4v1.9h-2.1zM226.5,756.0h1.1v1.5h-2.2zM256.5,781.7h1.6v1.7h-1.0zM279.3,767.4h1.8v1.3h-2.2zM281.0,801.1h1.5v1.3h-2.0zM266.9,739.6h1.5v1.0h-1.4zM240.5,771.7h2.1v1.0h-1.6zM272.1,785.3h1.0v1.7h-1.2zM226.1,765.6h1.8v1.1h-1.0zM224.6,747.3h1.7v0.8h-2.0zM242.5,741.7h1.2v1.4h-1.5zM266.1,746.2h2.2v1.0h-1.4zM238.5,759.6h1.6v2.0h-1.7zM226.5,773.1h1.7v1.8h-1.3zM256.8,765.9h1.5v0.9h-1.1zM253.0,769.9h2.1v1.2h-1.4z" fill="#f0e8c8"/>
<path d="M246.6,793.2h0.8v2.1h-2.1zM265.1,781.3h2.1v1.8h-1.0zM234.9,796.6h1.3v1.9h-1.2zM221.5,747.7h0.9v1.6h-1.1zM261.1,778.5h2.1v2.0h-1.7zM259.6,759.4h1.7v1.2h-1.4zM231.9,748.1h2.1v1.7h-1.9zM275.5,745.9h2.1v1.3h-1.5zM275.7,739.5h1.7v2.1h-2.1zM282.1,779.6h1.5v1.4h-2.1zM227.9,758.8h1.5v2.1h-1.8zM226.8,793.7h1.0v2.0h-1.6zM235.2,786.0h2.0v0.8h-1.2zM238.6,802.2h1.8v1.3h-1.3zM236.0,787.4h1.1v1.8h-2.0zM281.5,757.7h1.0v2.2h-1.0zM231.1,767.4h1.4v1.3h-2.2zM262.1,763.4h0.9v1.5h-1.5zM256.5,777.9h1.1v1.1h-1.2zM223.9,761.5h1.1v1.8h-1.0zM233.1,775.8h1.6v1.9h-2.1zM235.4,773.2h1.4v1.5h-1.8zM260.3,771.2h1.8v2.1h-0.9zM282.3,779.4h1.8v1.0h-2.1zM249.1,792.9h2.1v2.1h-1.0zM281.8,767.5h1.1v1.1h-1.4zM281.5,748.0h1.1v0.9h-2.1zM242.6,740.2h1.3v2.0h-1.8zM234.0,760.5h2.1v1.3h-1.4zM253.1,740.5h1.6v2.0h-1.0zM228.9,755.0h1.3v1.5h-1.9zM231.4,788.3h2.1v1.0h-0.9zM254.4,792.5h2.1v0.8h-2.0zM226.4,785.0h1.9v1.6h-1.8zM230.7,776.7h1.6v1.3h-2.1zM252.7,752.4h1.4v1.4h-2.1zM244.3,745.9h1.2v1.1h-1.4zM274.3,788.6h1.8v1.0h-1.8zM259.1,740.3h0.9v1.5h-1.8zM231.7,749.7h1.3v1.8h-1.0zM282.9,752.4h0.9v1.5h-1.8zM219.7,763.8h1.1v0.9h-1.2zM253.3,760.5h1.0v1.8h-2.0zM280.2,735.1h1.0v0.9h-2.0zM220.4,763.4h1.1v1.1h-2.1zM235.9,763.6h0.9v1.3h-1.9zM279.8,762.3h2.1v2.1h-1.3zM252.6,777.1h1.5v1.1h-0.8zM250.1,757.1h1.7v2.0h-1.8zM235.9,740.9h1.1v1.0h-0.9zM263.4,739.5h1.1v1.2h-1.4zM257.3,737.2h1.6v1.9h-1.1zM246.0,784.8h1.0v1.3h-1.9zM282.0,790.7h0.9v1.5h-1.0zM232.3,774.5h1.4v2.2h-1.2zM270.9,731.2h1.9v2.0h-2.0zM260.7,803.7h1.5v0.9h-1.2zM265.2,789.8h1.0v1.1h-2.2zM227.8,752.7h1.1v1.2h-1.9zM242.0,798.4h2.1v1.1h-0.8zM218.1,777.7h2.1v1.2h-2.0zM231.1,791.6h2.0v1.5h-1.9zM273.8,758.7h1.6v1.8h-1.7zM260.8,750.3h1.3v1.0h-1.8zM225.0,779.2h1.6v1.9h-0.8zM243.2,743.4h1.6v0.9h-0.9zM228.4,765.5h1.7v2.1h-1.9zM225.1,745.0h1.0v1.8h-1.1zM234.5,799.4h1.6v0.8h-0.9zM275.8,775.7h1.0v1.1h-2.2z" fill="#d8c070"/>
<polygon points="265.0,616.0 283.0,616.0 283.0,680.0 275.0,650.0" fill="#6a7480" />
<path d="M270.0,626.8h1.1v1.4h-0.9zM271.5,631.7h1.4v1.2h-1.6zM279.3,634.5h1.9v1.2h-1.7zM277.8,648.0h2.0v1.9h-1.8zM280.5,653.3h0.9v1.1h-1.6zM277.2,617.9h1.8v1.3h-1.7zM276.1,650.8h2.0v1.8h-2.0zM273.5,629.1h1.3v1.6h-1.8zM281.4,662.2h1.2v1.3h-2.0zM278.1,660.3h1.4v2.2h-1.4zM278.2,616.3h2.1v0.9h-1.3zM281.7,619.6h1.4v1.8h-2.0zM277.1,648.9h1.4v1.8h-1.8zM278.4,650.9h1.1v1.3h-2.2zM272.0,623.1h1.1v2.0h-1.3zM277.7,629.3h2.0v1.9h-0.8zM271.5,627.7h1.7v2.0h-2.1zM277.7,641.0h1.8v1.6h-1.7zM278.0,633.8h1.0v2.1h-0.8zM274.9,627.2h1.3v2.0h-1.9zM280.9,631.5h2.0v2.1h-1.9zM274.5,633.1h1.3v1.3h-1.0zM278.0,639.4h1.8v1.7h-1.5zM281.8,620.0h1.8v0.9h-1.7zM280.7,638.4h1.5v1.9h-1.6zM278.0,647.0h1.4v1.3h-2.2zM276.5,644.3h1.5v1.0h-1.2zM281.6,658.2h1.0v1.7h-1.2zM282.8,632.7h1.8v2.2h-2.0zM282.0,658.6h1.4v1.1h-1.5zM281.6,617.1h1.9v0.9h-1.9zM276.1,644.8h1.5v1.2h-2.2zM276.3,624.9h1.0v1.6h-1.0zM277.7,617.9h1.6v0.9h-1.5zM277.0,639.3h1.5v1.1h-1.4z" fill="#b0b8c4"/>
<path d="M282.0,621.5h1.5v2.1h-1.6zM281.8,674.9h1.6v1.6h-1.2zM282.6,647.8h1.9v1.8h-1.0zM281.1,635.7h1.1v1.3h-0.9zM277.5,642.2h2.0v1.8h-2.1zM278.1,633.7h1.8v1.4h-2.1zM271.1,630.2h1.9v1.4h-2.1zM280.0,623.7h1.0v1.4h-1.4zM280.6,658.2h1.5v1.5h-1.8zM276.7,620.3h1.6v2.0h-1.5zM274.6,647.8h1.8v1.6h-1.0zM273.4,632.6h2.1v1.0h-1.5zM280.5,657.1h1.3v2.1h-2.0zM277.9,655.0h0.9v1.2h-1.2zM282.2,671.7h1.9v0.8h-1.1zM278.1,617.9h1.2v1.6h-1.2zM280.0,645.2h1.6v1.8h-1.8zM279.4,626.0h1.7v2.0h-1.0zM277.9,634.2h1.1v1.3h-0.9zM276.5,627.9h1.2v0.9h-1.5zM277.8,656.0h1.3v2.1h-1.3zM282.2,647.8h1.9v1.5h-1.9zM280.1,633.4h0.8v1.4h-1.2zM280.6,664.5h0.8v2.0h-1.6zM282.7,658.2h2.1v1.2h-1.8zM278.7,651.3h0.9v0.8h-1.9zM276.0,625.0h1.3v1.2h-1.1zM282.5,639.4h1.7v1.3h-0.8z" fill="#2a2e34"/>
<path d="M276.2,616.9h2.1v0.8h-1.8zM282.1,619.6h2.2v0.9h-0.9zM278.0,627.0h1.1v1.1h-1.8zM279.5,666.0h1.2v2.1h-2.1zM276.2,647.7h1.9v1.8h-1.0zM282.4,623.7h1.2v1.2h-1.1zM267.3,618.5h0.9v1.2h-1.2zM274.7,633.4h2.1v1.2h-1.5zM277.2,617.6h1.2v1.7h-1.2zM280.8,623.3h2.1v1.0h-2.0zM276.6,637.8h0.8v1.6h-1.9zM277.9,621.0h1.4v1.0h-1.2zM277.4,620.0h2.0v1.5h-1.3zM276.0,640.2h1.3v1.1h-1.4zM276.3,617.1h1.6v1.3h-0.9zM279.5,654.9h1.3v1.4h-1.6zM277.4,635.5h0.9v1.2h-2.1zM281.6,637.3h1.5v1.6h-1.0zM280.2,631.4h2.0v1.8h-1.1zM273.3,630.3h1.5v1.1h-1.4zM274.3,630.2h2.1v1.5h-1.0zM279.2,636.9h1.1v1.8h-1.0zM275.6,627.9h1.0v0.9h-1.6zM275.4,650.2h1.0v1.9h-1.2zM274.7,618.2h2.1v1.8h-1.8zM269.9,624.2h1.6v2.0h-1.5zM282.3,621.4h1.7v1.8h-1.2zM271.6,637.6h1.2v1.0h-1.1zM269.4,621.6h1.3v1.6h-1.8zM280.4,658.6h1.1v1.5h-1.7zM281.2,655.0h0.9v1.7h-0.9zM282.3,658.3h1.5v0.9h-1.4zM276.4,643.7h1.5v1.3h-1.5zM277.0,644.2h1.7v1.7h-0.9zM281.8,632.8h0.8v0.9h-1.5zM276.8,649.7h1.0v1.0h-1.7zM278.0,641.4h1.7v1.0h-0.9zM278.8,621.9h2.1v2.1h-1.2zM282.7,667.0h1.3v1.7h-1.5zM281.0,669.2h2.0v1.1h-1.0zM269.6,618.2h0.9v1.3h-1.5zM279.9,630.1h2.0v1.7h-2.1zM272.0,636.7h2.1v1.2h-1.7zM282.6,643.4h2.0v1.4h-1.2zM268.2,622.8h1.7v1.3h-1.0zM280.6,653.9h1.9v1.0h-1.4z" fill="#dce4ec"/>
<path d="M281.1,631.1h2.0v0.9h-1.4zM267.7,622.8h0.9v1.6h-0.8zM280.3,620.7h1.1v1.1h-1.6zM281.9,617.6h1.7v1.8h-1.1zM273.7,632.3h1.5v1.5h-2.0zM273.9,629.4h1.8v0.8h-1.2zM280.1,621.0h0.9v0.9h-2.0zM278.6,651.8h1.5v1.4h-1.3zM280.0,644.5h1.2v1.9h-1.9zM276.2,626.2h2.1v1.3h-1.7zM277.1,627.6h1.8v1.4h-1.6zM282.2,673.6h2.0v1.8h-1.7zM275.1,622.2h0.8v1.4h-1.1zM271.7,633.6h1.1v1.8h-1.8zM271.6,618.2h1.6v1.4h-1.3zM280.9,656.8h1.1v1.7h-2.0zM275.7,628.5h1.7v1.3h-1.1zM269.1,617.8h1.3v1.4h-1.5zM276.9,648.4h1.3v1.8h-1.9zM279.6,643.3h1.3v2.0h-1.7zM280.8,661.6h1.6v1.6h-1.7zM280.7,640.9h0.9v1.3h-1.9zM278.4,643.5h2.1v1.7h-2.1zM280.3,651.5h1.7v1.0h-1.6zM274.8,648.6h0.8v1.0h-1.1zM275.2,629.8h1.5v1.1h-1.8zM268.6,625.0h1.1v1.5h-1.2zM277.0,617.7h1.6v1.5h-1.7zM282.3,657.4h2.2v0.9h-1.4zM281.2,667.8h1.5v1.0h-1.4zM276.9,652.7h1.6v2.0h-1.2z" fill="#d8c880"/>
<polygon points="145.0,640.0 200.0,640.0 205.0,700.0 240.0,725.0 225.0,768.0 165.0,768.0 128.0,725.0 140.0,690.0" fill="#4e565e" />
<path d="M185.4,765.3h1.7v0.9h-1.1zM179.1,707.3h1.6v1.0h-1.4zM209.9,723.8h0.9v1.3h-1.0zM190.4,664.4h2.2v1.1h-1.4zM199.0,701.3h1.4v1.9h-1.8zM154.5,670.1h0.9v1.2h-2.1zM223.7,750.7h0.9v1.6h-2.1zM142.9,728.1h2.0v1.7h-1.3zM165.6,685.3h1.2v1.4h-2.2zM194.2,682.5h1.7v1.2h-2.1zM225.0,714.9h1.0v1.5h-1.1zM181.2,700.4h1.0v1.0h-2.0zM148.8,733.2h1.1v0.8h-1.7zM187.0,733.5h1.1v1.8h-1.6zM198.4,652.0h0.9v1.3h-2.1zM159.7,659.2h1.2v1.4h-1.5zM170.1,644.8h1.9v1.1h-2.0zM191.6,725.4h1.9v1.8h-1.5zM155.6,743.0h2.1v1.5h-2.1zM222.4,716.0h2.1v1.1h-1.8zM164.1,649.8h1.8v0.9h-1.3zM174.2,655.5h1.7v1.3h-1.9zM140.0,701.4h2.2v1.1h-1.4zM197.4,710.2h1.9v1.5h-2.1zM144.1,654.6h1.8v1.7h-1.8zM180.1,658.2h1.1v1.2h-0.9zM177.0,730.6h1.5v1.4h-2.2zM144.2,733.8h2.0v1.4h-0.9zM215.3,748.3h1.9v1.1h-1.9zM174.4,745.8h1.8v1.6h-1.1zM157.4,663.2h1.9v0.9h-1.0zM213.4,748.3h1.3v1.5h-2.0zM174.5,661.8h2.2v1.6h-1.0zM207.6,756.0h1.7v1.0h-1.5zM179.3,694.3h1.2v2.2h-0.9zM165.8,748.4h1.1v1.3h-0.8zM172.7,646.3h1.4v1.8h-2.0zM185.1,679.7h1.3v1.1h-1.2zM138.3,718.8h0.8v1.5h-1.6zM134.9,711.4h1.7v1.6h-1.4zM201.3,726.3h1.1v2.1h-1.1zM211.5,715.5h1.5v1.5h-1.6zM212.3,729.3h2.0v2.1h-2.0zM153.7,681.3h1.7v1.5h-1.4zM221.5,764.3h1.8v1.2h-1.8zM140.8,694.3h1.4v0.9h-2.0zM143.1,674.8h1.9v1.9h-0.9zM153.0,708.2h1.0v1.6h-0.9zM211.3,746.7h2.2v0.8h-2.0zM173.1,646.6h1.8v2.1h-1.0zM190.2,703.0h1.6v1.5h-1.4zM152.5,641.5h2.1v1.2h-1.7zM190.7,675.3h1.9v1.7h-1.6zM194.5,686.3h1.8v1.7h-0.8zM136.5,704.3h1.5v1.6h-1.2zM215.8,727.7h1.1v1.2h-1.9zM150.6,655.8h2.0v1.7h-2.0zM233.3,741.9h1.9v1.6h-1.3zM169.0,765.8h1.7v1.1h-1.8zM159.0,651.9h1.0v1.0h-1.9zM160.2,688.6h1.1v1.3h-1.1zM196.8,654.1h1.8v1.4h-1.9zM223.9,717.3h1.0v0.9h-1.0zM184.3,690.3h1.7v0.9h-2.0zM176.5,642.7h1.8v1.2h-1.6zM181.0,671.0h1.5v1.4h-1.9zM167.3,690.0h1.8v1.6h-1.7zM180.0,671.9h1.6v1.2h-1.1zM185.0,662.0h1.4v1.2h-1.0zM172.0,651.4h1.1v1.0h-1.7zM214.0,747.2h1.2v1.8h-1.1zM150.6,655.2h1.1v1.3h-1.2zM216.1,747.6h1.9v2.1h-2.1zM184.4,679.6h1.5v1.5h-0.8zM189.2,656.8h2.2v1.2h-0.9zM137.1,720.8h1.8v1.6h-1.5zM185.1,693.1h1.2v1.5h-1.5zM197.7,737.5h2.1v1.5h-1.0zM199.0,700.1h1.5v1.5h-1.5zM179.8,648.6h1.4v2.0h-1.8zM223.6,762.2h1.8v2.1h-1.8zM167.0,672.6h1.6v1.3h-1.6zM158.7,710.7h0.9v2.2h-1.0zM175.4,708.7h1.9v1.8h-1.4zM163.9,650.2h1.4v1.1h-1.4zM205.6,712.5h0.9v1.0h-1.4zM162.7,704.5h1.5v1.1h-1.6zM211.9,720.6h1.2v1.5h-1.7zM184.4,761.6h0.9v0.9h-1.5zM174.7,742.0h1.5v1.0h-1.2zM184.8,708.8h1.4v2.0h-1.1zM207.3,764.0h1.7v1.0h-1.6zM185.7,706.0h1.8v2.0h-1.2zM216.7,750.5h1.4v1.2h-1.2zM152.1,734.0h1.7v1.2h-1.3zM208.5,738.6h1.8v1.0h-1.1zM163.1,723.0h1.2v1.5h-1.2zM189.8,658.3h1.5v0.9h-1.4zM182.8,700.0h1.7v2.1h-1.3zM188.0,746.4h1.6v1.9h-0.9zM180.9,661.0h1.6v1.0h-1.5zM178.7,687.5h2.0v1.5h-1.5zM183.6,704.1h2.1v1.1h-1.1zM226.0,717.2h1.9v2.0h-1.2zM221.8,728.0h0.8v1.6h-1.7zM201.1,764.4h0.9v1.3h-1.7z" fill="#98a4b0"/>
<path d="M177.2,645.2h0.9v1.1h-1.4zM158.4,712.4h1.1v1.5h-0.9zM159.0,745.7h1.6v1.6h-2.2zM206.2,739.1h0.9v2.0h-1.2zM227.0,742.0h1.4v1.5h-2.1zM168.6,754.1h1.1v1.0h-2.0zM231.7,739.1h2.0v1.6h-1.9zM192.7,761.1h1.1v1.7h-2.2zM214.3,719.8h1.0v2.2h-1.7zM194.1,653.6h1.7v1.6h-2.2zM141.7,738.8h1.3v1.1h-0.9zM177.4,679.5h1.6v2.0h-1.9zM170.3,688.4h1.6v1.0h-1.8zM189.0,667.1h1.5v2.1h-1.4zM183.1,683.4h1.5v1.7h-1.9zM207.9,761.5h1.3v1.8h-2.0zM164.8,660.5h2.0v2.2h-1.5zM199.7,690.8h1.5v0.9h-0.9zM226.2,755.2h1.8v1.3h-1.8zM150.7,649.4h1.7v2.1h-1.9zM146.2,717.4h2.0v1.1h-1.0zM175.2,648.7h1.8v2.0h-2.2zM216.7,718.8h1.3v0.9h-1.0zM172.6,760.2h1.0v1.0h-1.2zM216.1,738.3h1.8v1.1h-1.1zM193.3,709.4h1.9v1.8h-0.9zM171.6,694.2h1.4v1.0h-1.6zM173.3,740.2h1.6v1.8h-2.0zM165.5,648.1h1.3v1.4h-0.8zM171.0,758.8h0.9v1.0h-1.1zM204.8,759.9h1.5v1.5h-2.1zM141.2,728.0h1.7v0.8h-1.7zM184.9,659.8h0.9v1.3h-1.5zM191.2,676.2h1.0v1.9h-1.5zM189.0,644.2h2.1v1.1h-1.3zM173.8,669.6h0.9v1.7h-1.2zM185.9,721.5h1.8v1.1h-1.5zM138.5,729.8h1.7v1.4h-0.9zM170.7,673.8h1.0v1.1h-2.0zM187.8,755.9h1.8v1.1h-2.0zM152.2,729.2h1.5v2.1h-1.2zM214.5,719.6h2.2v1.7h-1.2zM200.2,735.4h1.4v1.3h-1.0zM147.6,741.8h1.4v1.6h-1.6zM162.1,738.5h1.3v1.6h-2.0zM176.9,715.0h1.8v1.4h-1.0zM205.7,761.5h1.2v1.0h-0.9zM162.7,710.8h1.4v1.6h-1.2zM181.7,724.6h1.1v1.9h-1.3zM155.8,669.2h1.7v2.0h-2.0zM209.6,739.3h1.2v2.0h-1.7zM135.6,730.4h1.0v1.3h-1.2zM184.9,695.5h1.2v0.9h-1.1zM158.7,745.5h1.7v1.3h-1.0zM156.4,734.5h1.9v0.9h-1.4zM204.0,736.3h1.0v0.9h-1.8zM211.8,761.2h1.6v1.4h-0.8zM222.4,724.8h1.3v0.9h-0.9zM153.8,656.0h1.4v1.0h-1.2zM181.9,743.3h1.0v1.0h-1.4zM187.5,748.6h2.0v1.4h-1.7zM149.2,658.6h1.8v1.8h-2.2zM179.1,642.1h1.2v1.4h-1.8zM197.2,718.5h1.1v2.2h-2.0zM132.7,728.1h1.1v1.5h-1.1zM172.5,691.7h1.8v1.7h-0.9zM170.6,668.3h1.4v1.7h-2.0zM145.6,724.4h1.2v0.8h-1.9zM231.9,742.6h1.8v1.9h-1.0zM195.2,694.2h0.9v1.5h-1.0zM145.0,728.1h1.6v1.4h-2.0zM177.1,694.5h1.6v1.6h-1.0zM206.6,733.3h1.6v1.4h-1.1zM199.0,641.5h1.8v1.9h-1.8zM195.6,679.9h1.5v1.1h-1.3zM206.4,712.1h1.6v1.7h-1.9zM226.4,745.7h1.4v1.9h-1.1zM182.7,703.7h1.9v0.9h-1.8zM219.0,757.5h0.8v1.7h-1.9zM170.5,727.5h0.9v1.5h-2.0zM184.4,685.4h1.5v1.0h-1.2zM194.5,684.0h0.8v1.6h-0.9zM197.0,717.4h1.5v1.7h-0.9zM157.1,685.4h1.5v2.0h-1.0zM159.7,715.7h1.8v1.6h-1.6zM148.3,653.7h1.2v1.8h-2.0zM203.9,719.8h0.8v0.9h-1.0zM160.5,711.5h0.9v1.1h-2.2zM227.2,744.5h1.9v0.9h-1.9zM154.7,692.8h1.6v1.5h-1.3zM183.0,648.7h0.9v0.8h-1.8zM151.2,724.6h1.4v1.7h-1.7zM161.8,674.3h2.0v2.1h-1.0zM178.3,684.3h1.7v0.9h-1.2zM195.7,728.5h1.4v2.1h-1.7zM184.5,677.4h1.8v1.7h-1.8zM150.7,642.9h1.2v0.9h-1.3zM152.9,673.6h1.2v1.8h-1.8zM188.4,668.5h2.0v1.1h-1.4zM203.5,707.7h0.9v1.3h-2.1zM183.1,717.4h0.9v1.9h-1.2zM174.2,673.5h1.3v1.1h-0.9zM207.0,742.2h1.4v1.5h-1.9zM232.5,722.9h2.0v1.1h-2.0zM181.6,672.5h1.7v0.8h-1.3zM188.6,738.4h2.0v1.5h-0.9z" fill="#1e242a"/>
<path d="M177.2,766.5h1.2v1.6h-1.1zM177.9,686.7h0.8v1.0h-1.0zM170.0,670.4h1.2v1.6h-2.1zM209.0,753.3h1.4v1.8h-1.8zM181.9,681.1h1.2v1.3h-1.9zM135.1,724.4h1.1v0.9h-2.0zM213.5,762.8h2.2v1.2h-1.3zM190.5,662.5h1.8v1.2h-1.4zM151.2,726.7h1.6v1.3h-1.9zM169.8,732.1h1.2v1.1h-1.3zM154.1,686.5h1.3v0.8h-0.8zM206.3,733.4h0.9v1.1h-2.0zM196.3,726.4h2.1v1.4h-1.9zM150.0,697.2h1.2v2.0h-0.9zM144.2,657.5h1.3v1.6h-1.2zM179.5,701.7h0.9v1.7h-1.3zM183.5,676.6h0.9v1.9h-1.4zM184.9,757.3h1.3v1.9h-2.1zM185.3,707.3h2.1v1.0h-1.3zM190.6,662.7h1.9v1.0h-1.7zM189.6,652.8h1.7v1.2h-1.6zM172.1,759.6h2.0v1.8h-1.3zM152.0,653.8h1.7v2.0h-0.8zM151.3,696.7h2.1v1.8h-1.5zM170.3,714.3h1.7v1.3h-2.2zM192.5,694.1h1.6v1.3h-2.1zM200.6,652.6h0.8v1.1h-1.3zM188.7,656.7h1.4v1.6h-0.9zM171.0,749.0h1.7v1.0h-2.1zM140.1,728.4h1.6v2.0h-2.1zM191.8,753.7h1.8v1.1h-1.2zM215.6,750.3h2.0v2.0h-1.2zM154.9,750.9h1.5v2.0h-1.9zM162.7,679.1h1.4v1.2h-0.9zM159.1,687.4h1.3v2.2h-2.2zM192.1,672.1h2.0v2.0h-1.2zM226.4,733.8h1.0v1.5h-1.8zM138.3,712.8h1.9v1.5h-1.5zM199.8,667.3h1.4v1.0h-1.4zM146.7,718.3h1.6v1.6h-1.5zM172.4,649.8h1.9v1.5h-1.2zM194.9,706.2h1.0v1.8h-1.2zM198.6,698.7h1.8v1.0h-2.2zM151.6,694.8h2.1v0.9h-0.8zM224.9,741.4h0.8v1.8h-1.1zM181.4,718.0h2.1v1.9h-1.8zM201.7,696.4h1.2v2.0h-1.9zM146.2,655.2h1.1v1.2h-2.1zM176.3,664.6h2.1v2.2h-1.8zM164.3,668.3h2.0v1.2h-1.9zM187.7,689.9h1.9v1.1h-2.1zM206.0,713.2h1.7v1.8h-1.0zM175.7,657.7h1.9v1.0h-2.0zM220.4,757.6h2.0v2.0h-2.0zM159.1,688.9h0.9v1.4h-1.1zM190.8,750.2h0.9v1.7h-1.0zM144.0,708.1h0.8v2.0h-1.1zM156.7,648.1h1.0v1.6h-1.2zM148.8,659.0h1.7v1.0h-1.5zM218.7,761.9h0.8v1.6h-1.3zM152.3,690.8h1.2v2.0h-1.1zM181.2,739.5h1.4v1.1h-1.8zM215.6,763.5h0.9v1.3h-1.5zM155.3,723.3h1.1v1.6h-1.8zM191.1,702.8h1.1v2.0h-1.7zM198.0,731.5h1.8v1.8h-0.8zM159.1,723.8h1.0v1.5h-1.5zM186.6,751.7h1.4v1.8h-1.5zM159.4,687.2h1.1v1.3h-1.7zM198.3,765.5h1.0v1.3h-1.2zM149.9,647.3h1.0v2.0h-1.5zM203.7,710.7h1.4v1.9h-0.9zM189.8,640.8h1.0v0.9h-1.7zM179.4,760.6h0.8v1.3h-1.6zM185.3,754.5h1.3v2.0h-1.1zM230.7,748.5h0.9v1.6h-1.7zM212.1,721.5h1.5v1.5h-1.0zM180.4,655.9h1.3v1.9h-2.1zM174.3,660.8h1.4v1.6h-1.7zM166.7,732.4h1.7v1.4h-0.8zM176.3,644.5h1.8v1.6h-2.0zM227.1,751.4h1.8v2.1h-0.8zM176.3,756.7h1.8v1.8h-2.0zM175.6,679.8h1.2v1.8h-1.7zM195.7,668.9h2.1v2.0h-2.0zM167.6,764.6h2.2v1.7h-2.1zM210.0,709.6h1.2v2.1h-1.3zM196.0,760.6h1.6v1.1h-1.5zM168.8,750.1h1.9v1.8h-0.9zM217.7,733.9h1.6v1.9h-1.0zM193.6,722.9h1.6v1.5h-1.5zM191.9,730.7h1.2v1.1h-1.4zM233.0,737.0h1.4v1.4h-1.0zM166.2,765.4h1.1v1.1h-1.9zM199.9,688.2h1.5v1.6h-1.3zM195.3,738.7h1.2v1.2h-1.4zM211.3,732.2h1.3v0.9h-2.2zM200.5,648.6h1.4v1.7h-1.3zM147.1,651.5h0.9v2.1h-2.0zM194.3,715.3h1.4v1.6h-1.8zM214.3,721.8h2.0v1.7h-1.8zM222.7,725.6h1.9v1.2h-1.8zM147.2,676.9h1.8v1.0h-1.0zM192.5,669.9h2.0v2.1h-1.0zM189.4,666.2h1.4v1.2h-2.1zM183.0,720.7h1.2v1.6h-0.8zM194.9,750.3h1.7v1.2h-1.1zM169.6,699.8h0.9v2.0h-0.9zM149.3,696.2h2.1v1.5h-2.1zM137.8,712.9h1.4v1.1h-1.4zM190.3,701.5h1.4v1.4h-1.7zM186.3,691.4h0.9v1.6h-2.1zM196.0,695.7h1.9v1.2h-2.2zM176.3,742.8h1.3v1.2h-1.1zM170.2,671.1h1.2v1.5h-1.1zM168.2,649.9h1.2v1.7h-1.3zM225.1,761.4h1.3v1.3h-1.9zM153.3,642.6h1.0v1.2h-1.2z" fill="#b8c4d0"/>
<path d="M203.6,717.9h0.9v0.9h-1.5zM226.2,736.9h1.5v2.0h-1.7zM153.9,751.2h2.0v1.3h-1.3zM181.2,670.5h1.6v2.0h-1.7zM142.6,719.7h1.4v1.4h-0.8zM194.0,765.5h0.9v0.8h-1.3zM200.8,655.5h1.7v1.9h-1.5zM158.1,736.6h1.5v1.3h-1.7zM203.7,687.6h2.2v1.9h-1.4zM140.6,721.3h1.0v1.6h-0.8zM158.4,672.2h1.1v1.4h-1.9zM169.3,754.4h1.6v1.3h-1.8zM161.8,690.8h1.9v1.5h-1.7zM161.0,761.0h1.5v1.1h-1.8zM211.2,749.5h1.1v1.8h-2.0zM218.7,744.6h1.4v1.3h-1.9zM201.8,739.2h1.7v1.5h-1.1zM148.7,747.2h1.3v1.8h-1.5zM210.6,721.9h1.9v2.2h-2.0zM159.5,676.0h1.2v1.3h-1.0zM152.1,659.4h1.7v1.3h-1.8zM192.5,694.6h1.3v1.6h-0.8zM186.5,674.1h1.7v2.2h-1.9zM205.5,740.1h2.2v0.9h-1.3zM160.0,673.1h1.0v1.8h-1.6zM184.4,733.8h1.0v1.5h-1.1zM144.5,650.2h1.8v1.6h-1.1zM202.7,695.9h1.6v1.0h-1.7zM172.0,660.8h1.7v1.7h-2.1zM210.7,741.9h2.0v1.0h-1.5zM183.0,759.7h1.3v1.9h-1.8zM182.2,692.1h1.9v1.5h-1.7zM146.7,644.2h1.6v1.7h-1.0zM171.5,708.1h1.3v1.7h-2.1zM154.7,694.1h2.2v1.0h-1.9zM185.4,693.3h2.0v1.8h-1.1zM219.8,725.5h1.9v1.1h-1.5zM178.4,702.1h2.0v1.8h-1.1zM179.4,727.7h1.9v1.1h-0.9zM206.2,730.3h1.2v0.8h-2.2zM193.9,668.3h2.1v2.1h-1.9zM133.0,711.0h0.8v1.2h-1.3zM225.9,726.4h1.7v2.2h-1.4zM218.9,716.6h1.4v1.1h-1.3zM156.8,744.4h2.1v1.1h-1.7zM182.4,756.3h1.6v1.4h-1.9zM152.5,721.3h1.4v1.9h-2.0zM218.9,767.0h2.0v1.5h-1.4zM153.9,742.1h0.8v0.9h-1.8zM131.1,726.9h1.7v1.1h-1.3zM165.3,708.3h1.0v1.0h-1.8zM192.7,752.8h1.8v1.2h-1.0zM190.0,644.2h1.7v2.0h-1.8zM190.7,731.0h1.2v1.0h-2.1zM210.2,720.1h2.2v1.9h-2.1zM137.7,697.6h2.1v1.2h-1.9zM202.3,707.5h1.8v2.2h-1.3zM145.9,745.8h1.7v0.9h-1.7zM179.4,687.3h1.6v1.5h-1.7zM161.0,747.3h1.0v1.3h-1.9zM198.8,731.9h1.2v1.1h-2.2zM158.6,686.0h0.9v2.1h-1.9zM223.6,739.0h1.3v1.3h-1.9zM166.0,710.6h1.1v2.0h-1.1zM139.9,699.4h1.9v0.9h-0.8zM223.1,764.2h1.2v1.0h-1.7zM150.0,672.8h2.0v2.0h-1.4zM202.1,678.0h0.9v1.1h-2.1zM178.6,680.7h1.3v1.8h-2.0zM178.8,758.7h1.0v2.1h-1.1zM137.4,720.9h2.2v1.5h-2.0zM202.8,686.4h2.0v2.1h-1.2zM207.8,733.5h1.2v0.8h-1.8zM181.9,705.6h1.9v0.9h-1.1zM197.1,757.0h1.6v1.7h-1.3zM180.8,750.9h1.3v1.1h-1.9zM152.9,725.2h1.6v2.0h-1.1zM198.7,665.8h0.8v1.3h-1.3zM189.3,689.6h1.3v1.6h-1.2zM189.3,747.6h1.3v0.9h-1.4zM188.3,671.0h1.6v0.9h-2.1zM139.0,695.0h2.0v1.7h-1.3zM191.1,679.5h1.4v2.1h-0.9zM178.0,756.5h1.5v1.0h-1.7zM208.0,746.9h1.6v1.9h-1.4zM182.2,690.5h0.9v0.9h-1.4zM174.9,654.2h1.2v2.0h-1.2zM147.4,664.4h1.9v1.6h-0.9zM184.2,660.9h1.0v1.0h-1.7zM153.6,686.5h1.0v1.3h-1.0zM134.9,710.8h0.9v1.3h-1.7zM151.5,692.0h1.2v1.5h-1.7zM149.7,659.6h2.2v1.9h-1.4zM167.8,747.6h1.8v1.4h-2.0zM195.2,678.4h2.2v2.2h-1.6zM193.2,765.4h1.7v1.2h-1.7zM197.1,675.2h2.0v1.0h-1.3zM192.9,699.5h1.8v1.7h-1.3zM188.5,728.9h1.4v1.7h-1.7zM181.7,681.3h1.6v2.0h-2.2zM198.6,642.9h1.0v1.5h-1.7zM146.3,683.6h0.9v0.9h-1.4zM151.3,700.7h1.3v0.9h-1.2zM169.5,760.1h2.1v0.9h-1.7zM171.4,680.2h1.1v1.6h-1.2zM220.8,715.6h0.9v1.1h-1.0zM210.8,757.9h2.2v1.6h-1.3zM164.6,746.7h2.0v1.8h-2.1zM146.5,702.0h1.4v0.9h-1.6zM196.3,680.9h1.3v1.2h-1.9zM218.4,741.1h1.3v1.4h-1.2zM156.8,706.4h1.3v1.4h-2.2z" fill="#141a1e"/>
<path d="M209.2,727.4h1.9v2.0h-2.1zM164.4,747.5h1.8v1.2h-0.9zM169.7,735.5h1.3v1.9h-1.9zM191.2,665.1h1.3v1.8h-1.5zM153.8,686.9h1.2v1.2h-1.9zM139.2,694.0h1.8v1.4h-1.7zM172.6,688.2h1.6v1.8h-2.0zM173.9,727.4h2.1v1.5h-1.3zM177.0,764.2h1.8v1.0h-2.1zM184.8,648.4h1.1v2.1h-1.3zM182.7,755.3h1.7v2.0h-1.8zM177.5,714.9h1.5v2.0h-2.1zM193.4,730.6h1.0v1.7h-1.5zM184.5,740.6h1.3v1.9h-1.8zM175.9,664.2h1.6v1.0h-2.2zM199.1,698.0h1.1v1.4h-0.8zM202.1,731.8h1.6v1.0h-1.3zM218.2,745.4h2.0v1.2h-1.1zM214.4,763.9h1.7v1.9h-0.9zM213.8,708.2h0.9v1.4h-2.2zM154.9,666.1h1.6v0.8h-2.2zM169.9,748.3h1.7v2.1h-1.8zM182.9,693.2h1.7v1.2h-0.8zM173.5,728.0h1.2v1.4h-2.1zM221.1,734.8h2.2v1.7h-1.8zM147.6,698.5h1.4v1.0h-1.0zM202.0,736.0h0.8v1.7h-1.8zM172.7,699.6h1.2v1.3h-1.7zM213.9,755.6h2.1v1.2h-1.0zM162.0,676.0h1.0v2.1h-2.0zM171.2,750.3h1.5v1.1h-0.9zM156.9,654.6h1.3v1.0h-1.1zM222.1,712.5h1.6v1.2h-2.2zM168.7,657.5h1.4v1.5h-0.9zM219.6,750.2h1.1v1.9h-1.7zM154.9,728.0h1.8v1.5h-1.3zM180.2,686.2h1.7v2.1h-1.4zM173.6,766.0h1.9v1.5h-1.0zM187.9,657.9h1.0v1.6h-1.9zM150.4,642.5h0.8v1.1h-1.9zM149.6,665.7h1.8v1.8h-1.2zM199.6,692.9h2.1v1.9h-2.2zM145.9,736.3h1.2v1.9h-2.2zM163.6,730.3h1.1v2.0h-1.0zM166.6,713.2h1.6v1.8h-1.7zM170.3,727.1h1.1v1.7h-1.2zM176.1,767.5h1.7v1.8h-0.8zM176.1,665.7h1.8v1.8h-1.0zM171.2,764.8h1.2v1.6h-1.9zM147.4,723.5h1.1v1.1h-1.8zM216.7,732.5h1.3v1.4h-1.9zM176.8,734.5h1.3v1.5h-2.1zM150.6,657.6h1.3v0.8h-1.5zM154.5,730.6h1.2v2.0h-1.2zM177.9,744.6h1.5v1.1h-1.5zM165.1,718.3h1.6v1.1h-1.2zM182.1,762.6h2.0v1.5h-1.3zM148.4,742.5h2.1v1.6h-2.0zM207.5,759.7h1.0v1.9h-1.5zM209.5,762.6h1.6v1.8h-2.2zM159.5,736.5h1.4v1.6h-1.0zM142.9,670.4h0.8v1.3h-2.2zM161.6,752.9h1.2v0.9h-1.2zM201.5,672.8h1.2v1.4h-1.5zM182.4,740.4h2.0v1.5h-1.0zM210.8,767.8h1.0v1.1h-1.9zM190.9,683.2h1.3v1.9h-1.7zM201.0,728.0h2.0v1.4h-1.5zM156.0,743.5h1.7v1.3h-1.1zM209.8,716.9h2.1v1.6h-1.6zM164.0,761.9h1.1v1.0h-2.0zM156.4,642.3h2.1v1.5h-1.0zM159.1,718.1h1.9v1.9h-1.9zM169.3,692.1h1.2v1.4h-1.3zM186.8,665.3h0.8v1.1h-2.1zM185.8,728.2h1.0v2.1h-2.0zM161.7,751.5h1.0v1.9h-1.6zM154.2,723.3h1.0v1.4h-2.1zM200.6,738.2h1.3v2.1h-1.3zM162.2,647.9h1.9v2.0h-1.3zM189.0,715.4h1.2v1.8h-1.8zM180.4,670.1h1.0v2.1h-0.9zM154.3,716.2h2.1v1.1h-2.0zM197.8,726.2h2.1v1.6h-1.2zM136.9,710.7h2.1v1.0h-2.1zM164.3,736.1h1.2v1.9h-0.9zM137.2,734.0h0.9v1.5h-2.2zM211.9,753.0h2.0v2.1h-1.6zM214.1,710.1h1.4v1.9h-1.3zM183.7,754.0h1.7v2.1h-1.7zM165.3,682.5h1.6v1.4h-1.3zM163.3,664.9h1.2v1.0h-1.2zM160.4,658.2h0.8v1.4h-1.6zM160.3,689.4h1.6v0.8h-1.3zM157.8,654.4h1.9v1.7h-1.9zM147.9,739.3h1.6v1.3h-2.2zM199.6,736.9h1.7v1.6h-0.9zM195.9,740.4h0.9v2.0h-2.0zM157.0,732.4h2.2v1.3h-1.4zM177.0,734.2h1.9v2.0h-1.1zM185.6,670.5h1.8v1.2h-1.6zM204.3,728.3h1.0v1.1h-2.2zM200.4,680.0h1.6v1.1h-0.8zM170.2,714.2h1.6v1.3h-1.5zM137.5,719.9h1.0v1.3h-1.3zM161.0,687.8h0.9v1.3h-1.3zM219.9,716.0h2.1v1.6h-1.8zM178.1,741.9h2.0v1.6h-1.5zM205.4,728.2h1.1v1.9h-0.9zM190.3,677.4h0.8v2.1h-1.2zM222.5,758.7h1.2v1.3h-1.9zM153.9,739.2h1.5v2.1h-1.8zM187.8,674.5h1.4v2.2h-1.3zM137.9,706.8h1.5v1.9h-1.8zM175.3,718.5h1.9v1.4h-1.1zM152.8,753.9h1.7v1.0h-1.9zM151.7,641.6h2.1v2.0h-2.2zM207.0,702.5h1.9v1.5h-0.9z" fill="#7a8894"/>
<path d="M277.6,748.5 L266.9,743.5 L258.0,739.0 L247.7,735.7 L236.3,731.8 M138.2,674.1 L129.8,671.1 L123.4,664.0 L112.8,656.8 L101.0,650.6 M192.9,741.2 L191.3,730.3 L193.9,719.6 L193.3,706.1 L188.6,696.4 M203.7,728.3 L212.6,724.7 L220.2,725.4 L233.1,720.5 L245.1,711.7 M278.8,659.7 L291.9,652.5 L301.0,648.8 L310.1,645.7 L318.8,639.5 M203.7,625.8 L202.6,632.3 L196.3,644.7 L186.8,652.9 L179.9,662.7 M185.8,664.4 L192.4,672.6 L196.7,683.3 L200.6,697.0 L206.4,707.9 M242.5,642.8 L239.8,629.5 L238.8,615.9 L236.2,604.4 L232.6,598.5 M157.6,756.1 L163.7,756.0 L170.7,756.6 L177.2,760.2 L183.0,765.4 M138.6,761.8 L144.6,749.4 L145.7,743.4 L147.2,735.8 L150.0,721.7 M150.5,697.6 L139.7,705.5 L133.5,711.6 L127.5,719.9 L114.5,727.5 M159.4,716.6 L155.9,709.7 L148.9,702.7 L141.1,694.3 L132.3,690.1 M94.1,629.8 L94.2,623.0 L94.0,610.8 L96.0,597.7 L100.9,586.8 M161.4,636.3 L147.2,637.4 L133.8,644.5 L125.6,653.6 L119.6,663.9 M260.6,715.6 L252.1,706.8 L248.8,700.2 L239.4,692.8 L232.7,691.5 M231.9,791.0 L232.4,800.0 L235.8,810.1 L239.4,824.1 L239.3,830.4 M206.2,687.6 L196.1,688.4 L183.5,685.1 L177.9,682.5 L162.3,682.9 M178.3,654.0 L177.9,640.2 L175.1,631.0 L171.9,625.6 L169.8,618.7 M241.7,783.6 L251.7,788.4 L261.8,790.7 L269.8,791.4 L281.7,794.2 M131.4,691.2 L139.8,683.3 L152.2,679.7 L159.0,680.8 L164.8,682.9 M96.8,641.8 L94.1,650.3 L95.7,660.2 L93.0,672.4 L94.6,679.0 M99.9,735.5 L110.6,740.0 L116.8,745.8 L121.8,750.0 L126.8,754.5 M105.6,752.1 L97.5,740.6 L91.8,736.5 L80.5,727.1 L72.3,715.7 M200.9,657.4 L206.7,666.3 L208.3,678.7 L208.8,686.2 L210.2,694.3 M102.7,682.5 L92.9,679.5 L81.3,672.5 L76.8,668.1 L69.7,664.1 M254.2,748.3 L261.4,752.1 L273.7,756.5 L280.3,758.0 L289.4,764.8 M112.1,780.8 L119.1,794.8 L118.7,809.0 L116.3,817.2 L111.7,826.3 M130.9,686.8 L141.9,685.0 L148.3,682.6 L156.9,672.9 L161.9,661.2 M91.4,669.4 L102.2,661.4 L105.1,655.3 L113.2,649.2 L119.2,644.2 M279.9,695.9 L275.2,691.3 L272.4,684.9 L272.6,674.5 L270.4,667.5 M156.4,664.6 L149.8,666.0 L134.2,666.3 L124.1,666.8 L110.7,674.1 M139.0,695.5 L140.0,683.9 L141.3,677.6 L145.8,672.1 L153.3,659.0 M190.3,748.0 L177.2,751.7 L163.9,748.7 L157.7,747.5 L150.5,746.3 M172.0,705.8 L158.7,714.4 L146.6,719.5 L139.2,720.3 L133.5,722.2 M158.2,720.1 L143.0,722.0 L130.3,719.2 L115.5,720.0 L100.2,717.1 M255.8,791.2 L247.8,787.7 L243.9,782.9 L236.7,771.0 L233.2,759.8 M200.4,782.8 L215.4,780.6 L226.8,773.3 L236.2,765.4 L241.1,758.0 M236.2,695.8 L246.6,694.1 L261.7,693.0 L268.0,692.5 L277.2,695.7 M126.5,794.6 L112.7,790.3 L104.4,785.9 L97.0,776.0 L85.2,769.2 M247.8,749.1 L255.5,754.8 L262.7,768.2 L268.9,773.2 L283.6,777.7 M165.0,781.4 L166.7,789.1 L175.3,801.2 L184.1,809.7 L187.0,817.3 M277.7,692.1 L269.7,695.6 L256.6,701.6 L245.5,711.0 L236.7,723.9 M242.0,644.2 L251.0,644.7 L264.0,641.7 L274.7,644.4 L288.4,647.0 M221.8,659.4 L233.5,656.6 L242.0,651.5 L254.2,649.4 L261.0,644.4 M97.2,765.6 L90.3,777.4 L86.8,791.5 L82.4,801.5 L78.5,810.3 M205.6,626.9 L198.2,619.2 L187.7,612.4 L182.5,606.7 L175.9,593.5 M271.5,679.8 L285.4,679.8 L293.3,682.0 L307.3,682.7 L315.2,683.6 M264.3,636.4 L269.2,641.5 L278.6,650.5 L293.0,655.8 L299.5,656.1 M142.5,783.4 L138.7,771.8 L132.0,764.6 L123.7,753.5 L111.5,744.5 M144.9,729.7 L134.5,726.0 L128.2,721.5 L121.2,717.7 L110.7,717.3 M191.4,785.0 L198.0,798.6 L199.6,812.0 L203.7,821.8 L203.6,832.0 M192.8,787.8 L195.6,793.8 L195.9,801.4 L194.3,808.5 L189.4,817.1 M179.4,699.6 L184.6,712.4 L184.1,720.6 L180.9,728.6 L172.7,738.9 M137.9,656.4 L140.8,651.0 L144.8,644.2 L153.6,638.1 L159.8,632.6 M218.9,638.2 L220.4,624.5 L220.9,609.9 L220.1,596.8 L220.7,589.8 M126.6,720.4 L133.4,722.5 L142.5,726.1 L150.3,728.7 L163.3,727.2 M218.1,669.4 L225.3,671.3 L233.5,678.4 L237.2,686.1 L248.7,696.3 M276.0,642.6 L274.0,631.2 L271.9,623.8 L266.6,618.1 L259.3,611.5 M120.5,789.5 L128.8,782.1 L132.8,776.5 L145.3,770.0 L158.4,762.7 M250.7,754.2 L256.9,753.5 L269.7,758.0 L276.9,758.0 L284.2,754.7 M201.7,729.9 L201.3,715.9 L204.0,706.1 L209.3,693.3 L219.8,682.1 M115.2,666.1 L122.5,672.4 L131.1,674.3 L141.2,676.1 L147.6,678.2 M140.2,635.8 L147.6,640.3 L153.8,649.6 L155.1,661.6 L159.4,668.3 M257.6,683.8 L251.0,682.4 L243.5,683.1 L235.1,679.8 L225.8,671.5 M141.7,776.7 L148.2,782.9 L157.3,789.1 L164.1,797.6 L165.9,807.4 M177.3,757.8 L174.8,763.6 L170.7,769.9 L164.0,778.1 L161.0,785.1 M258.6,665.4 L251.8,665.2 L238.4,658.0 L229.6,648.6 L224.4,638.9 M223.8,741.6 L227.9,727.1 L231.4,721.8 L243.5,715.1 L252.3,708.7 M135.2,661.3 L142.4,661.5 L152.8,667.3 L162.3,675.6 L177.3,679.2 M229.3,790.7 L231.9,798.7 L234.5,809.3 L238.0,818.0 L240.2,824.5 M257.1,678.7 L268.8,672.0 L275.1,671.8 L283.5,672.5 L297.6,668.0 M153.0,701.5 L157.0,696.3 L166.8,683.8 L172.8,675.3 L183.4,663.8 M122.5,790.2 L125.3,780.7 L132.6,771.6 L136.9,767.4 L142.9,758.2 M166.0,765.9 L169.5,758.1 L168.5,745.3 L160.8,731.8 L156.8,719.1 M223.7,658.6 L229.2,665.4 L236.9,675.6 L240.6,687.9 L242.6,694.4 M161.7,722.3 L156.7,726.1 L150.3,734.5 L135.7,741.1 L121.0,743.8 M244.8,629.2 L242.1,639.6 L238.3,650.5 L238.1,659.5 L234.3,669.3 M90.8,678.3 L75.7,679.7 L60.0,679.3 L52.8,678.0 L37.4,674.8 M133.2,672.8 L137.8,663.1 L144.3,656.5 L156.4,650.4 L169.4,648.3 M104.0,695.1 L116.9,690.6 L128.9,691.0 L139.2,690.4 L152.0,689.2" stroke="#16181c" stroke-width="1" fill="none" opacity="0.7"/>
<path d="M100,616 C96,640 88,668 80,700 C72,730 60,760 52,790 L48,804" stroke="#c8a040" stroke-width="9" fill="none" opacity="0.35"/>
<path d="M100,616 C96,640 88,668 80,700 C72,730 60,760 52,790 L48,804" stroke="#f4e8b0" stroke-width="2.2" fill="none" opacity="0.95"/>
<path d="M75,616 C82,640 80,665 66,700 C56,728 50,750 46,770" stroke="#e8d488" stroke-width="2" fill="none" opacity="0.8"/>
<path d="M215,804 C222,780 232,758 250,745 C262,736 275,730 283,727" stroke="#f0e4a8" stroke-width="2.4" fill="none" opacity="0.9"/>
<path d="M262,616 C268,632 276,655 283,672" stroke="#d8b878" stroke-width="2" fill="none" opacity="0.85"/>
<path d="M40,655 C50,640 60,632 72,628" stroke="#d8c880" stroke-width="1.4" fill="none" opacity="0.6"/>
<g stroke="#140c08" stroke-width="8" fill="none" stroke-linejoin="miter">
<path d="M48.8,612 L95.8,658.3"/>
<path d="M132.7,612 L176.3,658.3"/>
<path d="M201.9,612 V713.4 L176.3,738.9"/>
<path d="M230,612 V713.4 L256.9,738.9"/>
<path d="M256.9,612 V658.3"/>
<path d="M30,699.8 H55.5 L95.8,738.9"/>
<path d="M30,766.4 H201.9 L242.1,806"/>
<path d="M30,794.1 H152.2 L164,806"/>
</g>
<g fill="#140c08">
<circle cx="95.8" cy="658.3" r="7.6"/>
<circle cx="176.3" cy="658.3" r="7.6"/>
<circle cx="176.3" cy="739.2" r="7.6"/>
<circle cx="256.9" cy="739.2" r="7.6"/>
<circle cx="256.9" cy="658.3" r="7.6"/>
<circle cx="95.8" cy="739.2" r="7.6"/>
</g>
<text x="33" y="665.5" font-size="15.5" font-weight="bold" fill="#0a0604" stroke="#8a6a40" stroke-width="1.6" paint-order="stroke" font-family="Liberation Sans, sans-serif">50</text>
<text x="93.5" y="687.5" font-size="15.5" font-weight="bold" fill="#0a0604" stroke="#8a6a40" stroke-width="1.6" paint-order="stroke" font-family="Liberation Sans, sans-serif">1</text>
<text x="171" y="687.5" font-size="15.5" font-weight="bold" fill="#0a0604" stroke="#8a6a40" stroke-width="1.6" paint-order="stroke" font-family="Liberation Sans, sans-serif">3</text>
<text x="252.5" y="687.5" font-size="15.5" font-weight="bold" fill="#0a0604" stroke="#8a6a40" stroke-width="1.6" paint-order="stroke" font-family="Liberation Sans, sans-serif">7</text>
<text x="33" y="747" font-size="15.5" font-weight="bold" fill="#0a0604" stroke="#8a6a40" stroke-width="1.6" paint-order="stroke" font-family="Liberation Sans, sans-serif">58</text>
<text x="111.5" y="747" font-size="15.5" font-weight="bold" fill="#0a0604" stroke="#8a6a40" stroke-width="1.6" paint-order="stroke" font-family="Liberation Sans, sans-serif">59</text>
<text x="152" y="747" font-size="15.5" font-weight="bold" fill="#0a0604" stroke="#8a6a40" stroke-width="1.6" paint-order="stroke" font-family="Liberation Sans, sans-serif">5</text>
<text x="271.5" y="747" font-size="15.5" font-weight="bold" fill="#0a0604" stroke="#8a6a40" stroke-width="1.6" paint-order="stroke" font-family="Liberation Sans, sans-serif">6</text>
<line x1="114.3" y1="645.1" x2="107.6" y2="650.3" stroke="#fff" stroke-width="3"/>
<polygon points="102.5,654.3 104.8,646.7 110.5,653.9" fill="#fff"/>
<line x1="156.5" y1="678.3" x2="163.2" y2="673.0" stroke="#fff" stroke-width="3"/>
<polygon points="168.3,669 166.0,676.6 160.3,669.4" fill="#fff"/>
<line x1="237.6" y1="676.2" x2="244.0" y2="670.7" stroke="#fff" stroke-width="3"/>
<polygon points="248.9,666.4 247.0,674.1 241.0,667.2" fill="#fff"/>
<line x1="115.0" y1="725.2" x2="107.9" y2="729.9" stroke="#fff" stroke-width="3"/>
<polygon points="102.5,733.5 105.4,726.1 110.5,733.8" fill="#fff"/>
<line x1="159.7" y1="755.4" x2="166.1" y2="749.9" stroke="#fff" stroke-width="3"/>
<polygon points="171,745.6 169.1,753.3 163.1,746.4" fill="#fff"/>
<rect x="249" y="793" width="10" height="1.6" fill="#eee"/>
</g>
<rect x="40.5" y="624.2" width="81.7" height="12.4" fill="#111"/>
</g>
<text x="41.5" y="635.3" font-size="12" fill="#eee" text-anchor="start">BF-DA diff D70</text>
<rect x="286.9" y="616.5" width="23.7" height="186.8" fill="#fff" stroke="#333" stroke-width="1"/>
<text x="304.3" y="706.7" font-size="17" fill="#111" text-anchor="middle" transform="rotate(-90 304.3 706.7)">DA diff D70 on EA BF.</text>
<text x="341" y="655.7" font-size="16" fill="#000" text-anchor="start" font-weight="bold">Ch44</text>
<path d="M389.0,632.1 V652.4 M418.2,634.6 V658.4 M429.2,630.0 V660.1 M446.4,632.2 V652.3 M449.5,629.1 V650.9 M454.1,629.1 V653.6 M458.5,630.3 V653.6 M465.3,631.6 V657.3 M467.5,630.5 V654.0 M478.9,631.0 V655.2 M481.6,631.7 V657.2 M486.6,629.7 V656.6 M487.9,632.7 V652.9 M505.4,633.9 V652.4 M521.6,634.7 V656.6 M542.4,635.0 V653.1 M545.4,635.2 V654.3 M580.4,632.2 V653.8 M583.6,633.6 V653.0 M597.3,631.3 V654.5 M645.8,631.7 V653.0 M666.0,631.3 V659.9 M671.5,632.8 V655.5 M679.3,634.6 V658.4 M697.0,634.4 V651.2 M712.5,629.4 V659.8" stroke="#555" stroke-width="0.75"/>
<path d="M393.5,629.0 V658.1 M395.8,633.0 V660.8 M399.6,633.7 V655.6 M401.8,631.3 V654.5 M406.2,630.4 V655.2 M408.5,629.4 V660.7 M410.7,630.0 V656.7 M413.4,632.5 V654.9 M416.5,629.4 V656.3 M432.1,632.6 V651.7 M437.2,630.6 V656.7 M440.3,632.3 V656.2 M468.4,629.7 V653.0 M471.1,633.6 V660.1 M473.2,629.1 V651.5 M474.8,630.2 V652.2 M477.1,630.5 V660.1 M490.7,634.9 V660.6 M497.9,628.9 V659.0 M502.7,635.0 V660.5 M506.5,630.1 V656.1 M509.1,631.9 V658.6 M510.3,632.3 V658.6 M515.1,635.2 V655.8 M517.6,634.3 V651.0 M518.6,632.5 V654.1 M527.4,632.0 V652.5 M537.3,630.7 V658.0 M554.1,632.8 V657.4 M556.7,633.9 V653.0 M560.4,635.3 V653.3 M561.4,629.9 V659.2 M562.6,633.9 V657.4 M563.7,632.3 V656.3 M567.3,633.6 V650.9 M569.6,633.5 V658.0 M571.9,630.7 V654.8 M574.0,632.7 V657.2 M579.3,629.5 V660.5 M589.5,630.5 V654.2 M592.0,631.8 V656.5 M599.4,629.8 V652.0 M605.8,633.8 V653.1 M614.6,633.9 V654.9 M618.5,635.2 V651.8 M619.9,629.0 V653.1 M622.2,629.7 V660.6 M632.7,632.2 V660.6 M637.9,629.2 V651.1 M652.7,629.4 V657.3 M660.1,634.9 V658.4 M661.7,632.7 V653.6 M663.8,632.8 V653.6 M669.8,630.0 V653.5 M672.9,631.4 V659.4 M677.3,634.7 V656.7 M681.6,630.8 V653.7 M682.5,631.6 V659.7 M684.0,631.6 V651.4 M686.6,629.1 V651.7 M688.8,629.4 V652.1 M690.4,635.3 V652.5 M691.3,630.8 V657.9 M701.3,635.3 V653.7 M702.8,633.7 V659.7 M703.6,632.6 V657.9 M705.5,628.8 V658.6 M707.0,630.3 V660.6 M708.5,632.1 V657.3 M710.1,632.1 V651.3 M713.7,632.1 V656.5 M714.6,629.3 V654.9 M717.6,632.7 V657.3" stroke="#1a1a1a" stroke-width="0.85"/>
<path d="M388.5,640.6l.6-2.1 .6,2.8 .6-.5 .6-1.8 .6,.6 .6,2.5 .6-.9 .6-1.5 .6,.7 .6,2 .6-1.4 .6-1.7 .6,.7 .6,1.3 .6,.5 .6,.6 .6-1.3 .6,.1 .6,1.1 .6-.3 .6-2.1 .6,.7 .6,2.2 .6-2 .6-1 .6-1.1 .6,1.6 .6,1.6 .6,.6 .6-2.1 .6,1.7 .6-4.6 .6,1.8 .6,1.6 .6,.9 .6-.5 .6-.5 .6,.2 .6,1.8 .6-4.3 .6,2.6 .6,.6 .6,1.3 .6-2.4 .6,.9 .6-1.6 .6,.5 .6-1.5 .6,3.7 .6-.8 .6-2.7 .6,1.5 .6,.1 .6-1.2 .6,3.1 .6-1.8 .6-.1 .6-1.8 .6,2.6 .6-1.9 .6,.5 .6,.3 .6,1.8 .6,1.4 .6-2.2 .6,.2 .6-.5 .6,1.3 .6-2.1 .6,1.2 .6,0 .6-1.3 .6,.8 .6,.2 .6-.4 .6,.9 .6-.5 .6-1.1 .6,.2 .6-.7 .6,1.3 .6-1.6 .6,1.8 .6-.6 .6,2.1 .6-.1 .6-2.4 .6,2.1 .6-2 .6-.6 .6,.9 .6-1 .6,1.9 .6,.9 .6-1.6 .6-1.1 .6-.7 .6,2.2 .6-.1 .6-.9 .6,1.2 .6-1.3 .6,1.1 .6-1.6 .6,.8 .6,.9 .6,1.7 .6-1.1 .6-1.2 .6-1 .6,1 .6,1 .6-1.3 .6,3.3 .6-2.5 .6-.4 .6-1.4 .6,2.6 .6-.8 .6-2 .6,1.9 .6,.1 .6,.8 .6-.5 .6,0 .6-.1 .6,.7 .6-3.4 .6,1.3 .6,2.5 .6,.6 .6-2.2 .6,.3 .6-2.3 .6,0 .6,3.4 .6-1.9 .6,3.3 .6-3.5 .6-1.2 .6,2.2 .6-.5 .6-2.2 .6,3.6 .6-.7 .6-.1 .6-.4 .6-.6 .6,.8 .6,3.6 .6-3 .6,1.1 .6-.4 .6-2.9 .6,1.7 .6-2.1 .6,1.4 .6,2.3 .6,.4 .6-.3 .6-3 .6-.6 .6,2.3 .6,.5 .6-.9 .6-1.3 .6-.5 .6,2 .6-1.2 .6,1.1 .6-.5 .6,1.7 .6,.1 .6,2.3 .6-3.6 .6-.8 .6-.5 .6,.4 .6,.7 .6-.9 .6,.8 .6,0 .6-3.3 .6,1.9 .6,.9 .6,1.5 .6-3.8 .6,2 .6,2.6 .6-.1 .6-2.3 .6,2.5 .6-.2 .6-1.1 .6,.3 .6-1.1 .6,1.4 .6-1.1 .6-1 .6-.5 .6,1.8 .6,.2 .6-1.9 .6,.5 .6,1.2 .6-2.6 .6,1.2 .6,.7 .6,2.3 .6-2 .6,.7 .6,0 .6-.4 .6-1.2 .6,1.5 .6-2.5 .6,2.3 .6-.6 .6-.1 .6,.7 .6,1.3 .6-1.2 .6-.9 .6-.4 .6,.4 .6,4 .6-4.7 .6,1 .6-1.7 .6,2.5 .6-3.2 .6,1.4 .6,3.6 .6-3.4 .6,.7 .6,1.4 .6-.5 .6,1.4 .6-2.1 .6-1 .6,3.3 .6-1.8 .6-1.9 .6,2.6 .6-1.5 .6,.2 .6,1.9 .6,.3 .6-3.2 .6,.5 .6,1.1 .6-4.1 .6,3.4 .6-.5 .6,1.4 .6,1.6 .6-2.7 .6-1.4 .6,2.1 .6,1 .6-.4 .6-1.9 .6,.8 .6,.2 .6,.7 .6,.6 .6-.5 .6-1.8 .6,2.3 .6-1.2 .6-.7 .6,.7 .6-1.3 .6,1.4 .6-.9 .6,2.1 .6-2 .6-.1 .6-.7 .6,1.2 .6,.1 .6,1.6 .6,.6 .6-3.2 .6,1 .6,1.8 .6-3.7 .6,2.3 .6-1.6 .6,.2 .6,2.8 .6-3.3 .6,2.9 .6-.9 .6,.1 .6-2.4 .6,4 .6-2.4 .6,1.8 .6,0 .6-.8 .6,.1 .6,.2 .6-3.3 .6,1.7 .6,.6 .6-1.6 .6,2.8 .6-1.5 .6-2 .6,3.5 .6-1.1 .6-.9 .6-1.1 .6,3.8 .6-.7 .6-1.6 .6,2.8 .6-1.9 .6-1.3 .6,2 .6-1.1 .6-1.1 .6,1.7 .6-1.7 .6,.2 .6,1.2 .6-1.1 .6,.1 .6,2.6 .6-2.3 .6,.5 .6-.2 .6,.6 .6,1.3 .6-3.7 .6,.5 .6-.1 .6,.8 .6-1.5 .6,1.5 .6-.8 .6,3.1 .6,.1 .6-2.7 .6,0 .6,2.2 .6-2.9 .6,1.8 .6,.2 .6-.3 .6-1 .6-.1 .6-1 .6,3.2 .6-1.7 .6,1.7 .6-.8 .6-.2 .6,2.2 .6-3.3 .6-1.3 .6,1.4 .6-.9 .6,1.5 .6,.7 .6-.6 .6-.8 .6-.4 .6,1 .6-.7 .6,.8 .6,.8 .6-.5 .6-.6 .6,.7 .6,.9 .6,.2 .6-2.8 .6,1.5 .6-1.1 .6-1.3 .6,3.3 .6-1.2 .6,1.4 .6-1.5 .6,1.6 .6-.8 .6-.5 .6,1.2 .6-.6 .6-1.8 .6-1 .6,2.8 .6-1.2 .6-1 .6,1.8 .6-.6 .6-1.6 .6,0 .6,3.2 .6-2.4 .6-.2 .6,3.7 .6-3.1 .6,2.3 .6,0 .6-.1 .6-1.3 .6-1.2 .6,2.6 .6-2 .6-.5 .6,1.1 .6,.1 .6,1.4 .6-3.4 .6,1.4 .6,1.3 .6,.8 .6,.1 .6-2.5 .6,1 .6-.7 .6,2.1 .6-.5 .6-.2 .6-.5 .6-.1 .6-2.2 .6,1.3 .6-1 .6-.8 .6,2.8 .6,.4 .6,.5 .6,.2 .6-1.1 .6,.1 .6-1 .6-1.6 .6,2.1 .6,1.2 .6-.3 .6-2.1 .6,.3 .6-.2 .6,2.3 .6-2.3 .6,1.8 .6-2.4 .6,1.7 .6,0 .6-1.4 .6-.4 .6,2 .6,2 .6-3.5 .6-.5 .6,0 .6,1.8 .6,1.4 .6,.1 .6-2.9 .6,.3 .6,2.6 .6,1.3 .6-5 .6,2.6 .6,.3 .6-.5 .6-.2 .6,1.6 .6-2.8 .6,6.3 .6-6.5 .6-.5 .6,3.2 .6-1.1 .6-.7 .6-.7 .6,0 .6,.5 .6,.2 .6-1.4 .6,2.1 .6-1 .6-.6 .6,1.6 .6,.9 .6-3.2 .6,3 .6-2.8 .6,.6 .6,2.8 .6-2.3 .6-.8 .6-.2 .6,.9 .6,1.2 .6-.5 .6-.6 .6,2.5 .6-.4 .6,1.3 .6-2.9 .6-1.5 .6-.9 .6,3 .6-.5 .6,1.8 .6-1.6 .6-.4 .6,.6 .6-1.8 .6,1.6 .6,.8 .6-3.4 .6,2.9 .6-2.7 .6,2.7 .6-2 .6,1.2 .6,.3 .6,.2 .6,.5 .6-1.7 .6,1.6 .6,.4 .6-2 .6,1.4 .6-.2 .6,0 .6-1.1 .6,.5 .6,.5 .6-1 .6,.3 .6,.3 .6,.7 .6,1.5 .6-1.3 .6,.8 .6-2.1 .6,1.7 .6,.3 .6-3.7 .6,1.2 .6,0 .6,1.8 .6,.1 .6-2.2 .6,4.1 .6-4.3" fill="none" stroke="#000" stroke-width="1.1" />
<rect x="388.5" y="638.8" width="332.8" height="4" fill="#000" opacity="0.75"/>
<text x="341" y="690.3" font-size="16" fill="#000" text-anchor="start" font-weight="bold">Ch46</text>
<path d="M389.0,669.5 V697.1 M390.0,675.1 V694.4 M410.5,673.5 V696.3 M415.9,675.5 V690.0 M421.9,672.6 V696.7 M447.4,669.6 V695.4 M456.6,670.9 V695.8 M460.8,669.2 V691.2 M476.0,674.7 V694.8 M478.9,671.3 V696.4 M480.2,675.1 V694.3 M482.9,670.6 V695.3 M486.9,674.3 V695.7 M490.2,672.9 V696.8 M498.4,670.6 V693.1 M500.7,668.5 V693.4 M507.0,672.9 V696.5 M508.7,675.2 V694.3 M509.7,668.5 V696.2 M519.7,674.8 V695.6 M531.3,673.9 V694.2 M533.4,671.1 V691.0 M540.6,669.8 V692.9 M544.5,673.4 V697.6 M554.2,671.1 V692.0 M562.1,674.1 V692.1 M566.7,673.3 V692.4 M568.2,673.3 V696.5 M588.7,671.3 V692.7 M592.7,674.7 V691.4 M594.2,669.1 V693.8 M596.8,669.2 V695.5 M633.3,674.8 V692.0 M636.3,673.0 V690.1 M639.9,669.6 V698.2 M642.9,673.6 V694.0 M651.0,674.5 V698.1 M658.2,673.2 V695.3 M661.8,670.7 V694.1 M667.4,674.2 V691.3 M682.8,670.9 V694.0 M684.9,674.4 V691.7 M685.9,670.9 V691.6 M688.8,670.0 V697.8 M692.0,671.1 V696.7 M694.3,672.8 V696.8 M698.8,668.8 V697.4" stroke="#555" stroke-width="0.75"/>
<path d="M392.9,673.2 V692.2 M393.9,673.8 V696.1 M395.0,672.7 V698.3 M396.1,673.4 V692.5 M397.1,671.2 V695.0 M398.9,675.3 V693.0 M399.9,670.4 V695.5 M400.7,670.3 V690.5 M402.6,672.9 V692.9 M405.1,671.9 V695.2 M406.7,669.8 V696.8 M409.3,674.4 V693.4 M411.9,668.7 V690.9 M413.1,675.2 V697.5 M419.0,672.5 V698.0 M423.0,671.0 V690.6 M425.3,673.7 V694.6 M428.1,670.3 V697.1 M431.3,674.8 V690.3 M432.9,674.0 V697.0 M433.6,673.7 V693.5 M436.2,674.4 V691.4 M438.3,671.3 V693.0 M440.6,669.9 V698.3 M448.6,670.6 V692.3 M451.1,668.6 V697.2 M453.6,674.4 V691.8 M462.2,673.7 V691.2 M467.2,671.1 V693.5 M470.3,672.5 V695.6 M474.5,671.5 V697.0 M482.0,674.6 V692.5 M484.6,671.1 V696.2 M492.5,669.9 V690.3 M495.3,675.3 V691.2 M503.3,673.9 V696.3 M505.8,670.8 V696.9 M512.2,671.0 V695.8 M513.6,672.2 V695.6 M515.8,668.7 V695.2 M518.8,674.7 V691.8 M520.8,673.1 V696.0 M522.9,668.6 V693.8 M525.0,675.3 V693.3 M527.3,674.3 V697.8 M535.4,669.5 V695.2 M538.2,671.9 V693.7 M543.0,670.3 V690.9 M545.5,673.5 V693.6 M549.7,673.3 V695.9 M552.8,669.2 V695.7 M559.5,672.9 V696.6 M564.2,673.3 V693.4 M570.7,674.0 V693.4 M573.0,670.8 V690.8 M575.2,668.7 V691.5 M577.8,674.4 V691.8 M580.6,674.8 V694.8 M603.3,673.4 V691.0 M604.5,671.8 V697.3 M606.5,673.6 V697.4 M608.8,675.2 V692.6 M611.8,671.0 V696.1 M613.2,673.2 V697.2 M615.7,669.4 V694.7 M616.7,674.5 V692.0 M618.1,668.5 V690.2 M619.8,673.8 V693.6 M624.3,673.1 V691.5 M625.1,671.6 V690.7 M630.6,669.7 V697.6 M638.2,674.9 V694.0 M645.8,675.5 V691.2 M649.1,670.6 V693.2 M652.3,671.4 V694.1 M654.2,671.2 V697.2 M660.8,670.8 V697.1 M668.6,675.1 V692.7 M670.3,671.7 V691.2 M674.4,668.5 V698.1 M676.0,669.6 V696.1 M677.9,673.3 V693.2 M680.8,675.0 V696.4 M690.1,668.8 V693.7 M696.5,675.3 V697.3 M702.2,669.5 V696.3 M707.5,669.9 V694.8 M710.1,673.1 V695.2 M715.2,670.1 V697.1 M718.3,674.4 V691.4 M719.3,670.2 V695.2 M720.7,672.3 V693.5" stroke="#1a1a1a" stroke-width="0.85"/>
<path d="M388.5,682.2l.6-1.4 .6-1.5 .6,.8 .6,1.4 .6-1.5 .6,2.8 .6-1.2 .6-1.4 .6-.7 .6,.3 .6,.5 .6,.3 .6-1 .6,.9 .6,1 .6-1 .6,.6 .6,1.8 .6-2.5 .6,1.8 .6,0 .6-.9 .6-2.8 .6,3.6 .6-2.3 .6,1.2 .6,.8 .6,1.3 .6-1.8 .6,2.5 .6-2.8 .6-.1 .6,.6 .6,.1 .6,.2 .6-.8 .6-.8 .6,.7 .6,.9 .6,.4 .6-.5 .6-3.5 .6,3.5 .6-2 .6,2.2 .6-1.2 .6,.9 .6,1.3 .6-1.9 .6-2.2 .6,.8 .6,3 .6-3 .6,1.9 .6-.7 .6,2.1 .6-3.7 .6,.4 .6,1.5 .6,.7 .6,.4 .6-2.4 .6,.3 .6,.3 .6,3.1 .6-1.7 .6,.5 .6-2.2 .6,1.5 .6,2.1 .6-3.4 .6-2.7 .6,4.2 .6-.9 .6-.3 .6,1.2 .6,.8 .6-1.8 .6,.5 .6,2.9 .6-3.7 .6,3.7 .6-1.2 .6-3.4 .6,1.6 .6,1.5 .6-.7 .6,0 .6,.9 .6-1.5 .6-1.3 .6,2.3 .6-.2 .6-1.4 .6,1.3 .6-2.3 .6,1.3 .6,1.1 .6,.1 .6-3.7 .6,1.3 .6,2.2 .6-1 .6,.3 .6-1.1 .6-1.1 .6,2.2 .6-.7 .6,3.4 .6-1.4 .6-.4 .6-1.5 .6,.8 .6,.8 .6-1 .6-1.8 .6,.9 .6,.1 .6,.1 .6-1 .6,3.2 .6-1.9 .6,.5 .6,1.3 .6-2.2 .6,1.4 .6-2.5 .6,2 .6,.4 .6-.3 .6-3.3 .6,3 .6-1.8 .6,6.2 .6-6 .6,1.3 .6,1.5 .6-1.2 .6,.3 .6-1.9 .6,.9 .6,2.4 .6-.8 .6-.3 .6-.1 .6-1.5 .6,0 .6,2.6 .6-1.1 .6-.9 .6,1.3 .6-2.4 .6,1.4 .6-2.5 .6,1.5 .6,1.1 .6,0 .6,1 .6-.4 .6-2.4 .6,1.7 .6,1 .6,.6 .6-2.4 .6-1.4 .6,3 .6-.2 .6-1.2 .6,0 .6,3.2 .6-1.7 .6-.4 .6-.3 .6,.2 .6,1.2 .6-2.2 .6,.7 .6-1.1 .6,1.4 .6-.6 .6-.8 .6,.9 .6-.1 .6,.9 .6-1 .6,1.1 .6,.3 .6-1.6 .6-.9 .6,2.5 .6-1.4 .6,2 .6-1.6 .6-.2 .6,.8 .6-1.7 .6,2 .6-.6 .6,.8 .6,.2 .6-1.2 .6,1.6 .6-1.7 .6-.4 .6-.5 .6,4.1 .6-1.8 .6-2.3 .6,.6 .6-.3 .6,.4 .6,.2 .6,1.5 .6-2.2 .6-2 .6,3.9 .6-1.5 .6,1.8 .6,.6 .6-1.5 .6-1.7 .6,.7 .6,1.9 .6-.7 .6-.4 .6-.2 .6,.1 .6-1.8 .6,2.6 .6-2.2 .6-1.2 .6,2.1 .6,3.9 .6-2.5 .6-.2 .6-.2 .6,1.2 .6-2.2 .6,.6 .6-1.2 .6-.3 .6,1.5 .6-.8 .6,1.4 .6-2.2 .6-2.4 .6,4.9 .6,1.7 .6-2.7 .6,.3 .6-.6 .6,2.3 .6-3.3 .6,3.5 .6-2.1 .6,1.1 .6-3.5 .6,1.7 .6-.6 .6,2.9 .6-1.2 .6,3.1 .6-5.2 .6,1.7 .6-.9 .6,.3 .6,0 .6-.2 .6-1.1 .6,.8 .6,2.7 .6-2.1 .6,.7 .6-2.6 .6,2.5 .6-.6 .6-.3 .6,1.4 .6-.7 .6-1.7 .6,.1 .6,1 .6,1 .6-2 .6,3.2 .6,1.8 .6-3.9 .6-.4 .6,1.3 .6-.8 .6-.1 .6,3.2 .6-3 .6,.5 .6-1.9 .6-.7 .6,2.2 .6-.8 .6,1.4 .6,0 .6-.3 .6-.9 .6,2.3 .6-1.8 .6,1.1 .6,.4 .6-1.4 .6-.4 .6-.2 .6,.9 .6,.1 .6,1.4 .6-1.5 .6,2.4 .6-2.9 .6,1.1 .6-1.1 .6,1 .6-1.2 .6-.1 .6,.8 .6,.3 .6,0 .6-1.5 .6,1.6 .6-2.7 .6,1.6 .6,1 .6-.8 .6-.4 .6-1 .6,1.5 .6,.6 .6,.8 .6-2.4 .6,2.4 .6-.9 .6,1.5 .6-2.6 .6-.9 .6-.6 .6,2.3 .6,1.9 .6-.2 .6-1.3 .6,1.6 .6-.7 .6-2.2 .6,2.2 .6-1.1 .6-.3 .6,1.7 .6,1.1 .6-1.5 .6-1.7 .6,.5 .6,.2 .6-.5 .6,2.9 .6-2.1 .6-1.3 .6,3.9 .6-5.5 .6,.2 .6,1.3 .6-1 .6,1.7 .6-.3 .6,.3 .6,0 .6,.8 .6-3.5 .6,3.6 .6-1.8 .6-.3 .6,3.4 .6-2.9 .6,.8 .6-.7 .6,.5 .6,1 .6-.5 .6,.2 .6,.1 .6-.5 .6,.4 .6-3 .6,1.9 .6,.8 .6-2.8 .6,2.8 .6-2 .6,2.5 .6-1.5 .6-1.1 .6,3.2 .6-1.1 .6-4.5 .6,6 .6-1.8 .6-.4 .6,1.5 .6,1.2 .6-2.9 .6,.4 .6-1.3 .6-.2 .6,3.1 .6-.6 .6-1.5 .6-1 .6,.6 .6-1.1 .6,3.1 .6-2 .6,4.4 .6-4.2 .6,2 .6-1.6 .6,.5 .6-2.4 .6,3.2 .6,.1 .6-3.2 .6,2.9 .6-2.9 .6,4 .6-4.5 .6,4.1 .6-1.9 .6,.3 .6,2 .6,3.1 .6-6.4 .6,.1 .6,1 .6,2.5 .6-2.5 .6,.5 .6,1.1 .6-2.1 .6,1.6 .6-1.2 .6-1.6 .6-.7 .6,3.3 .6,0 .6,.2 .6,.4 .6-.3 .6-2.3 .6,2.1 .6,.8 .6-3.9 .6,2.9 .6-1.7 .6,0 .6,1.4 .6-1 .6,1.1 .6-1.1 .6,3.4 .6-1.5 .6-.6 .6-3.2 .6,.9 .6,1 .6,2.5 .6-2.9 .6,1.8 .6,.5 .6,.4 .6-2 .6,.5 .6-.2 .6,1.4 .6-1.4 .6,.4 .6-.5 .6-.3 .6,1.2 .6-.1 .6-2.2 .6,0 .6,1.7 .6,0 .6,2 .6-.9 .6-.7 .6-2.4 .6,2.3 .6-1.1 .6-1.2 .6,1.5 .6,.4 .6-.2 .6,1.9 .6,1 .6-.1 .6-2.3 .6-1.3 .6-.8 .6,2.2 .6-1.8 .6,.8 .6,2.5 .6-1.2 .6-1 .6,.4 .6-2 .6,3.4 .6-1.8 .6,.7 .6-.1 .6-.1 .6,.9 .6-1.9 .6-.8 .6,2.7 .6-1.7 .6,.5 .6,1.1 .6-.9 .6-.3 .6,1.8 .6-1.7 .6,.6 .6,.2 .6,.1 .6,1.1 .6-1.3 .6-1 .6,.6 .6,1.6 .6,.1 .6-3.6 .6,1.3 .6,1.1 .6,1.1 .6-.5 .6,1.6 .6-2.4 .6,1.4 .6,.1 .6-.7 .6,0 .6-1.4 .6,.1 .6,1.8 .6-1.4 .6-1.4 .6,2.4 .6-3 .6,1.7" fill="none" stroke="#000" stroke-width="1.1" />
<rect x="388.5" y="679.4" width="332.8" height="4" fill="#000" opacity="0.75"/>
<text x="341" y="726" font-size="16" fill="#000" text-anchor="start" font-weight="bold">Ch48</text>
<path d="M430.3,705.9 V731.0 M435.3,706.8 V732.4 M455.9,705.3 V731.6 M463.4,710.0 V726.1 M477.6,709.9 V730.4 M478.7,710.0 V726.5 M497.7,709.1 V729.9 M502.7,711.0 V730.8 M508.9,709.5 V732.0 M513.1,708.8 V726.6 M546.2,707.1 V725.8 M555.7,706.3 V725.7 M561.8,709.9 V726.3 M579.7,707.0 V731.6 M580.7,706.7 V729.5 M587.9,708.3 V731.9 M602.6,708.1 V727.8 M614.8,706.6 V728.5 M636.6,709.9 V732.1 M650.8,706.4 V730.0 M660.5,709.6 V727.7 M665.8,706.6 V729.8 M669.9,710.6 V727.1 M672.2,707.2 V730.6 M676.6,708.1 V733.8 M683.9,709.3 V734.0 M713.0,711.5 V728.1 M718.3,707.3 V727.7" stroke="#555" stroke-width="0.75"/>
<path d="M392.0,708.4 V733.1 M406.6,710.3 V728.0 M413.5,705.6 V726.5 M417.6,711.6 V731.7 M425.8,709.4 V730.8 M437.2,709.0 V732.7 M441.5,705.3 V733.3 M442.4,710.6 V732.9 M443.2,710.0 V726.1 M446.2,710.6 V725.5 M465.3,710.1 V728.1 M466.4,705.7 V727.0 M467.7,711.4 V726.4 M469.4,710.8 V728.1 M470.3,710.3 V728.3 M471.8,710.5 V733.9 M475.4,709.3 V729.5 M480.5,706.0 V733.9 M483.2,711.4 V733.5 M486.4,709.0 V728.5 M489.1,708.7 V725.6 M496.0,706.0 V730.3 M514.3,711.5 V726.5 M515.5,711.2 V728.2 M522.7,707.1 V726.2 M523.8,710.7 V731.0 M525.4,710.5 V731.0 M526.6,711.3 V726.1 M528.0,706.3 V730.3 M529.5,705.1 V729.7 M539.1,710.5 V730.0 M543.3,708.1 V726.7 M552.2,711.0 V729.9 M553.8,710.5 V726.6 M563.6,706.2 V729.5 M565.8,706.0 V726.4 M593.9,705.8 V732.6 M642.4,706.4 V728.7 M662.6,709.0 V732.6 M664.3,707.5 V729.1 M668.1,710.8 V727.4 M696.5,711.0 V727.5 M699.5,706.1 V728.5 M702.2,711.3 V728.7 M703.5,706.4 V726.4 M705.5,707.5 V726.1 M708.0,707.4 V732.0" stroke="#1a1a1a" stroke-width="0.85"/>
<path d="M388.5,716.3l.6-.7 .6,.5 .6,.6 .6,1.3 .6,.3 .6-2.5 .6,1.3 .6-1.3 .6,1.2 .6-.6 .6,1.4 .6-1 .6,.7 .6-2.1 .6,2.3 .6-.9 .6,.3 .6-.3 .6-.5 .6,1.6 .6-1.4 .6,.3 .6,.2 .6,.6 .6-3 .6,1 .6,1.8 .6,.5 .6-2.8 .6,.9 .6-.3 .6,.8 .6,.6 .6-.2 .6,2.2 .6-2 .6-.7 .6,1.1 .6-1.6 .6,1 .6,2 .6-2 .6-.4 .6-.1 .6-.2 .6-.6 .6-.5 .6,.7 .6,3.3 .6,.5 .6-2.2 .6-1.4 .6,.8 .6-.2 .6-.2 .6,3.7 .6-.4 .6-3.3 .6,1.4 .6-2.2 .6,1.1 .6,1.1 .6-1.6 .6,4.4 .6-3.3 .6-.4 .6,1.7 .6-.7 .6,.4 .6-1.9 .6-.7 .6,3.4 .6-1.3 .6-.4 .6-1.5 .6,2.5 .6-1.2 .6,2.5 .6-.3 .6-.4 .6,1.6 .6-3.8 .6-.4 .6,2 .6,1.8 .6-1.6 .6-.4 .6-4.3 .6,.5 .6,2.3 .6,.5 .6-.2 .6,2 .6-1.1 .6,.4 .6,.7 .6-3.9 .6-.2 .6,4.5 .6-1.5 .6-.4 .6,1.1 .6-2.1 .6,.4 .6-1.2 .6-.1 .6,.1 .6-.3 .6,2.4 .6-.6 .6,1 .6-1.2 .6,1 .6-3.4 .6,5.5 .6-3.6 .6,1.3 .6-.6 .6,.5 .6-.7 .6,2.5 .6-2.7 .6,.2 .6-.4 .6-1.1 .6-.9 .6,1.5 .6-.1 .6,1.5 .6-.3 .6-.6 .6,.2 .6,.1 .6,.5 .6,.3 .6-.4 .6,.3 .6-2.4 .6,3.7 .6-.8 .6-.9 .6-2.2 .6,2.4 .6,2.8 .6-4.2 .6,.2 .6,2.1 .6-2.5 .6,1.6 .6-1.4 .6-.8 .6,2.5 .6-2.6 .6,.7 .6,3.2 .6-2.3 .6,.3 .6,1.1 .6-3.6 .6,3.7 .6-2.4 .6,1.4 .6,2 .6-2.8 .6,1.8 .6-1.8 .6-1.1 .6,3.3 .6-1.3 .6,.1 .6,.3 .6-.9 .6,2.1 .6-1.5 .6-4.1 .6,4.4 .6-1.9 .6,1.6 .6-.7 .6-.1 .6,.8 .6,.7 .6-2.6 .6,2.9 .6-1.2 .6,1 .6,.1 .6-1.9 .6,3.2 .6-.6 .6-4.1 .6,2 .6-.6 .6,.6 .6,.7 .6-.4 .6-1.1 .6,1 .6-2.4 .6,2.4 .6-1.1 .6,1.4 .6,1 .6-1.2 .6,1.1 .6-.8 .6-1 .6,2.2 .6,.1 .6,.8 .6-4.1 .6,1.2 .6,1.2 .6-3.7 .6,1 .6,2.2 .6-.8 .6-.5 .6,1 .6-1.1 .6,3.3 .6-2.8 .6-1.2 .6,1.8 .6,2.2 .6-1.6 .6-.3 .6,.3 .6-.8 .6-1 .6,.6 .6,.4 .6-.5 .6,2 .6-1.3 .6,.8 .6-1.1 .6-2 .6,3.9 .6,.2 .6-1.7 .6-.1 .6-.2 .6,.9 .6-1.2 .6,1.5 .6-.9 .6,.4 .6-1.4 .6-.1 .6,.8 .6,.8 .6,.8 .6,.1 .6-1.4 .6-1.2 .6-.7 .6,4 .6-2.3 .6-1.6 .6,1.8 .6-3 .6,3.5 .6-2.6 .6,1.2 .6,1.6 .6-1.5 .6,1.3 .6-2.2 .6,2.6 .6-1.4 .6-1 .6,.8 .6,0 .6-.7 .6,3.1 .6,1.1 .6-2.8 .6,.4 .6,.3 .6-.7 .6,.3 .6-1.5 .6,1.6 .6-2.2 .6,1.6 .6,.1 .6-.8 .6,1.6 .6-.5 .6,.6 .6-2.9 .6,1.5 .6-.5 .6-.4 .6,2.2 .6-.7 .6-2.2 .6-1 .6,3.3 .6-1.2 .6-.9 .6,2.9 .6-1.2 .6,1.9 .6-4.3 .6,2.4 .6,.7 .6,2.4 .6-3.6 .6,2.7 .6-3.2 .6-.9 .6,1 .6,3.3 .6-2.3 .6-1.9 .6,2.9 .6-1.8 .6-.3 .6,.2 .6,2.6 .6-1.9 .6,.4 .6,2 .6-1.3 .6-1.6 .6,1.7 .6-3.8 .6,.2 .6,1.8 .6,2.1 .6-.4 .6-2.1 .6,2.1 .6-2.2 .6,.8 .6,3.3 .6-3.4 .6,1.8 .6-.3 .6-2.1 .6,2.4 .6,.5 .6-.7 .6-2.1 .6,1.4 .6,1.3 .6-2.9 .6,1.6 .6-.9 .6,.5 .6,1.8 .6,.2 .6-3 .6,1.7 .6-1.3 .6,.7 .6-.2 .6,2.1 .6-1.2 .6,.1 .6,1.7 .6-3.2 .6-.1 .6,1.4 .6-.3 .6,.2 .6-.2 .6-1.3 .6-.4 .6,2.3 .6-2.3 .6,2.9 .6-1.7 .6,1.1 .6-.2 .6-1.8 .6,0 .6,1.6 .6-.7 .6,1 .6-3.3 .6,.8 .6-.5 .6,4.3 .6-.2 .6-.3 .6-3.4 .6,3 .6-2.2 .6,2.6 .6-2.9 .6,1.4 .6,1.7 .6-.6 .6-2.8 .6,1 .6,.1 .6,3.8 .6-3.2 .6-.2 .6,.8 .6-1.8 .6,1.6 .6-1.1 .6,1.1 .6,.4 .6-.6 .6-1.4 .6,1.6 .6,1.3 .6-1.3 .6,2.4 .6-3.4 .6,.2 .6-.7 .6,.4 .6,.4 .6,.2 .6-1.7 .6,2.1 .6-.6 .6-.4 .6,1.7 .6-.8 .6,.7 .6-1.5 .6-.8 .6,2.1 .6-2.4 .6,1.6 .6-.5 .6,2.8 .6-2.9 .6-1.3 .6,2.9 .6-.5 .6,2.9 .6-1.3 .6-1.9 .6,1.7 .6-.9 .6-.5 .6-1.6 .6,.3 .6,.1 .6,.6 .6-1.5 .6,.5 .6,3.1 .6-2.2 .6,.3 .6,.6 .6,1.5 .6-2.7 .6,1.7 .6-.3 .6-3.5 .6,1.1 .6,3.7 .6-1.3 .6-1 .6,0 .6,.3 .6,.9 .6,.2 .6-3.8 .6,4.4 .6-1 .6-1 .6,1.3 .6-1.2 .6,1.3 .6-2.2 .6,.6 .6,1.3 .6-3.2 .6,2.6 .6,.5 .6-1.5 .6,1.2 .6-.4 .6,.2 .6,1.2 .6-2.9 .6,.6 .6-1.3 .6,2.6 .6,1.1 .6-2.4 .6,.3 .6,.4 .6,2.4 .6-1.7 .6-2.5 .6,1.3 .6,.7 .6,.9 .6-2.5 .6,3 .6-2.6 .6,3.5 .6-.4 .6-1.8 .6,1.2 .6-2.7 .6,1.2 .6-.3 .6,.2 .6,.5 .6,0 .6-1.4 .6-.5 .6,1.7 .6-.5 .6-.2 .6,.7 .6,1.1 .6-.1 .6-.8 .6-1.6 .6,2.5 .6-1 .6-.8 .6,.3 .6-1 .6,.8 .6,.6 .6-.3 .6,.7 .6-.9 .6-.3 .6,2 .6-3 .6,2 .6-3.2 .6,1.3 .6,1.6 .6,.5 .6,.1 .6-.4 .6-3.1 .6,1 .6,1 .6-1.3 .6,2.2 .6-3.2 .6,3.1 .6-.4 .6,1.6 .6-1.5 .6,.4 .6-1.2" fill="none" stroke="#000" stroke-width="1.1" />
<rect x="388.5" y="715.0" width="332.8" height="4" fill="#000" opacity="0.75"/>
<text x="341" y="761.6" font-size="16" fill="#000" text-anchor="start" font-weight="bold">Ch50</text>
<path d="M420.0,742.8 V772.7 M433.3,740.0 V765.9 M443.8,742.6 V769.5 M445.6,742.6 V776.0 M451.0,743.3 V766.5 M457.2,742.1 V770.8 M459.2,742.4 V770.0 M477.5,742.8 V777.6 M485.0,740.2 V768.0 M495.1,743.5 V768.0 M498.1,741.1 V771.6 M516.9,742.0 V774.9 M519.1,744.3 V771.5 M548.6,740.8 V770.1 M570.3,743.3 V775.2 M573.5,745.3 V767.3 M599.2,740.3 V769.8 M621.4,744.9 V765.8 M622.8,743.4 V775.9 M639.1,742.2 V765.8 M649.8,739.8 V773.8 M658.8,743.6 V769.6 M692.7,743.3 V765.5 M694.7,745.3 V775.5 M696.0,744.2 V769.8 M704.2,742.7 V768.1 M715.9,743.9 V774.0" stroke="#555" stroke-width="0.75"/>
<path d="M394.5,740.7 V775.1 M396.5,741.3 V768.6 M398.7,744.3 V765.9 M400.1,742.3 V776.6 M401.0,745.6 V776.9 M403.3,744.0 V768.9 M405.8,740.3 V773.4 M407.5,741.3 V777.2 M409.7,741.3 V777.2 M417.0,741.0 V764.3 M418.7,741.8 V776.4 M435.7,744.2 V773.4 M438.5,741.0 V771.4 M460.5,743.0 V776.8 M462.6,743.8 V766.6 M467.9,745.2 V774.8 M470.1,741.9 V764.9 M474.8,743.4 V771.0 M482.2,745.5 V764.5 M486.7,745.7 V764.8 M503.2,740.8 V768.6 M505.4,740.0 V774.5 M509.1,745.5 V770.5 M529.3,744.2 V772.4 M538.2,740.5 V765.4 M541.3,745.0 V776.0 M556.2,744.4 V777.5 M560.8,741.3 V770.6 M565.3,745.1 V774.5 M567.3,740.1 V768.5 M578.1,742.8 V766.0 M581.0,742.4 V768.3 M583.6,745.7 V770.5 M586.9,745.3 V765.6 M588.5,741.5 V773.0 M590.6,744.3 V769.9 M601.5,742.9 V769.2 M602.8,740.3 V768.6 M604.0,743.7 V767.4 M605.6,741.1 V768.8 M606.6,742.2 V776.2 M609.2,744.7 V772.6 M610.0,744.6 V768.3 M611.0,745.2 V767.1 M613.5,740.2 V775.0 M615.8,740.4 V769.2 M618.1,742.7 V769.1 M623.9,743.9 V774.0 M626.2,740.2 V766.5 M628.1,741.2 V768.4 M635.6,742.9 V775.0 M643.2,741.5 V765.8 M654.6,744.6 V777.6 M655.8,745.7 V777.2 M662.0,745.1 V773.9 M663.9,745.2 V776.8 M666.5,740.3 V771.7 M667.6,743.9 V773.4 M669.9,740.6 V776.5 M670.8,742.1 V766.2 M672.0,740.3 V764.2 M673.4,745.0 V766.5 M675.8,741.0 V770.5 M679.4,741.1 V775.8 M683.9,740.6 V764.9 M700.9,744.0 V774.2 M702.5,742.3 V777.0 M708.9,745.3 V772.7 M712.9,743.4 V775.1" stroke="#1a1a1a" stroke-width="0.85"/>
<path d="M388.5,749.5l.6,.8 .6,0 .6-.2 .6-1.4 .6,1.8 .6-1.4 .6,0 .6,.4 .6,.1 .6,1.6 .6,.4 .6-2 .6,1.5 .6-1.7 .6-.8 .6-.3 .6,4.1 .6-2.8 .6,.5 .6-1.5 .6,4.8 .6-3.5 .6,.2 .6-.9 .6,2.3 .6,.5 .6,.5 .6-1.3 .6-1.4 .6-.4 .6-.6 .6,1.1 .6,1.7 .6-.8 .6,.5 .6-.3 .6-1.2 .6,1 .6,.7 .6-1.4 .6-.3 .6-1.1 .6-.4 .6,2.7 .6,.9 .6-.7 .6,.5 .6,.8 .6-.8 .6-.7 .6-1.3 .6,1.2 .6-.9 .6,.3 .6,1.1 .6-2 .6,1.6 .6-.8 .6-.1 .6,.7 .6-.8 .6-.9 .6-.5 .6,.5 .6,2.9 .6-2.8 .6-2.8 .6,3.7 .6,2.5 .6-3.7 .6,3.7 .6-3.3 .6,2.2 .6-.6 .6-.9 .6-.2 .6,.1 .6-.8 .6,1 .6,2.5 .6-1.6 .6-2.4 .6,2.8 .6,1.3 .6-3.5 .6,2.6 .6-1.8 .6,.1 .6,1.5 .6-2.7 .6,.9 .6,2.1 .6-3.4 .6,2.6 .6-.6 .6,.8 .6-.8 .6-.2 .6,1.9 .6-.9 .6-1.1 .6,.8 .6-.1 .6-3 .6,3.5 .6,.3 .6-1.6 .6,0 .6,.8 .6-.3 .6-1.1 .6,0 .6,.4 .6-1.3 .6,3.9 .6-4 .6,2.6 .6,1.6 .6-3.7 .6,1.3 .6,.5 .6,0 .6-.3 .6-.3 .6,.4 .6-.3 .6,2 .6-3.3 .6,1.3 .6,1.6 .6-.3 .6-2.1 .6,2.2 .6,.5 .6-1.6 .6-1.7 .6,2.9 .6-1.3 .6-2.4 .6,1.9 .6,2.5 .6-2.3 .6,.9 .6-.1 .6-.6 .6-.1 .6,2.8 .6-3.2 .6,1 .6,.2 .6,1.9 .6-2.7 .6-.8 .6-.8 .6,2.7 .6-1.8 .6,2.9 .6-2.9 .6,2.8 .6-.1 .6-.7 .6,1.5 .6-1.4 .6-.6 .6-1.6 .6,1.3 .6,.8 .6-1.3 .6,.1 .6,.7 .6,.3 .6-1.3 .6,1.6 .6-.5 .6,.6 .6-2.2 .6,3.7 .6-2.9 .6,1.8 .6-2.3 .6-1 .6,1.6 .6,1.1 .6-3.2 .6,3.7 .6-.6 .6-2.9 .6,3.7 .6,1.5 .6-2.7 .6-.7 .6-2.9 .6,1.8 .6,0 .6-1 .6,2.4 .6-.8 .6,2.2 .6,.1 .6-.6 .6,.6 .6-2.3 .6,.3 .6,2.8 .6-.3 .6-3 .6,.3 .6,.9 .6,1.4 .6-2 .6,.1 .6,0 .6,0 .6,1.3 .6,.3 .6-2.3 .6,.7 .6,.2 .6,0 .6-2.9 .6,2.7 .6,.6 .6,0 .6-2.2 .6,3.8 .6-2.3 .6,.7 .6,2 .6-2 .6,1.1 .6-.5 .6-2.2 .6,2.4 .6,.1 .6-3.5 .6,.6 .6,.1 .6,1.8 .6-1.8 .6,.3 .6,1.3 .6,2.2 .6-1.2 .6-1.6 .6,2.6 .6,1.6 .6-3.6 .6,1.7 .6-1.7 .6-.9 .6,.5 .6,.3 .6,1.9 .6-1.6 .6,.1 .6,1.2 .6-2.3 .6-.7 .6,2.6 .6-.6 .6-.5 .6,.5 .6,.4 .6-.6 .6-.3 .6-.2 .6,1.8 .6-3.2 .6,2.6 .6-4.5 .6,2.7 .6-1 .6,1.2 .6,1.8 .6,1.3 .6-3.8 .6,.9 .6,3.4 .6-3.7 .6,2.5 .6-4 .6,2 .6-.6 .6,.2 .6,2.3 .6-2.7 .6,.9 .6,.6 .6,.9 .6-3 .6,3.1 .6-3.7 .6,2.8 .6,.9 .6-.4 .6-2 .6-.7 .6,.9 .6,1.6 .6,.9 .6,.5 .6-3.8 .6,1.7 .6,1.3 .6-.9 .6,.9 .6-4.1 .6,2.9 .6-1.6 .6,.4 .6,1 .6,0 .6,0 .6,.7 .6,.5 .6,0 .6,1 .6-1.6 .6-2 .6,2.9 .6-1.6 .6,1.4 .6,.3 .6-1.5 .6,.9 .6,2.2 .6-3.1 .6,.2 .6-1.1 .6,2.6 .6-2.6 .6,1.6 .6,.2 .6-1.6 .6,.3 .6-.3 .6,3.1 .6-6.3 .6,4.7 .6-.4 .6,0 .6-.2 .6-.2 .6,2.7 .6-2.4 .6-1.8 .6,3.1 .6-1.7 .6-1.5 .6,1 .6-1.3 .6,2.2 .6,.6 .6,.5 .6-2.6 .6,1.3 .6-.6 .6,1.7 .6-.5 .6-.5 .6-.6 .6-2 .6,1.6 .6,2 .6-2.4 .6-2.7 .6,5.4 .6,.5 .6-3.9 .6,3.9 .6-3.8 .6-.7 .6,1.2 .6,3.2 .6-2.3 .6-1 .6,2.1 .6-2.7 .6,2.8 .6-.7 .6,1 .6-.5 .6-.4 .6-.1 .6-.1 .6,.7 .6-1.4 .6-1.4 .6,1.9 .6,1 .6-1.5 .6-.2 .6,2 .6-.5 .6,.1 .6-.2 .6-1.3 .6,1.5 .6,.7 .6,.9 .6-2.1 .6-1.1 .6,1.4 .6-2 .6-.8 .6,2.4 .6,1.8 .6-3.8 .6,1.7 .6,.9 .6-.2 .6-1.8 .6-1.3 .6,2 .6,.5 .6,.6 .6-3.1 .6,1.9 .6-.9 .6,4 .6-2.7 .6-1.8 .6,2.9 .6-1.7 .6,.3 .6,.5 .6-.5 .6,.9 .6-.3 .6-1.7 .6,.8 .6-.1 .6,2.2 .6-2.3 .6,1.5 .6-.2 .6-1.2 .6,1.8 .6-1.3 .6-.6 .6,1.4 .6-.7 .6,.4 .6-1.2 .6,.9 .6,1 .6-2.2 .6,1.4 .6,1.3 .6-.4 .6,.7 .6-1.5 .6-2.5 .6,3.2 .6-3 .6,1.3 .6-.3 .6,.4 .6,1.3 .6-2.2 .6,.4 .6,3 .6-2.7 .6,3.4 .6-6.1 .6,1.4 .6,.2 .6,.3 .6,4.8 .6-3.3 .6-.7 .6,1.9 .6-.5 .6,.8 .6-1.3 .6-.6 .6,3.4 .6-3.3 .6,.6 .6,.4 .6,.8 .6,1.3 .6,.5 .6-3.3 .6,2.4 .6-2.4 .6,1.8 .6-1.1 .6,.3 .6,1.8 .6-1.6 .6-2.3 .6,1.9 .6-1.4 .6,.4 .6,3.3 .6-3.2 .6-.9 .6,1.4 .6-2.3 .6,2.5 .6-.8 .6,.2 .6,1.7 .6-2 .6,0 .6,2 .6-1.3 .6,1.1 .6-.4 .6-2.7 .6,3.5 .6-.3 .6-1.6 .6,2.3 .6-3 .6,1.9 .6-2.5 .6,2.9 .6,0 .6-2.9 .6-1 .6,3.5 .6,.5 .6,.5 .6-3.2 .6-1 .6,2.3 .6,1.7 .6-2 .6,.1 .6,.4 .6-1.4 .6,.5 .6-.5 .6-.9 .6-.3 .6,1.5 .6-1.2 .6,2.5 .6,.1 .6-2.5 .6-.1 .6,4.5 .6-2 .6-.5 .6-1.7 .6,1.5 .6,1.7 .6-1.1 .6,1.5 .6-3.5 .6,.9 .6-.5" fill="none" stroke="#000" stroke-width="1.1" />
<rect x="388.5" y="748.7" width="332.8" height="4" fill="#000" opacity="0.75"/>
<path d="M734,746.3 V783.3 H667.4" stroke="#111" stroke-width="1.6" fill="none"/>
<path d="M805.5,749.2 V782.6 H778.8" stroke="#111" stroke-width="1.6" fill="none"/>
<path d="M749.1,635.6 C749.7,636.0 750.8,634.5 752.5,637.8 C754.2,641.1 757.0,654.9 759.2,655.6 C761.4,656.4 762.8,646.0 765.8,642.3 C768.8,638.6 772.5,634.0 777.0,633.4 C781.5,632.8 790.0,638.0 792.6,638.9" stroke="#7b93d8" stroke-width="2.8" fill="none" stroke-linecap="round" stroke-linejoin="round"/>
<path d="M749.1,679.0 C750.0,678.8 752.8,674.4 754.7,677.9 C756.6,681.4 758.2,699.8 760.3,700.2 C762.3,700.6 764.4,685.5 767.0,680.1 C769.6,674.7 771.6,667.7 775.9,667.9 C780.2,668.1 789.8,679.1 792.6,681.3" stroke="#7a96d6" stroke-width="2.8" fill="none" stroke-linecap="round" stroke-linejoin="round"/>
<path d="M748.0,715.8 C748.6,715.8 749.6,712.5 751.4,715.8 C753.2,719.1 756.3,734.1 758.7,735.8 C761.1,737.5 762.8,728.6 765.8,725.8 C768.8,723.0 772.7,720.0 777.0,719.1 C781.3,718.2 789.1,720.0 791.5,720.2" stroke="#6aaad6" stroke-width="2.8" fill="none" stroke-linecap="round" stroke-linejoin="round"/>
<path d="M746.9,754.8 C747.6,755.0 749.3,752.2 751.4,755.9 C753.5,759.6 756.8,776.8 759.2,777.0 C761.6,777.2 763.2,762.8 765.8,757.0 C768.4,751.2 770.4,742.3 774.7,742.5 C779.0,742.7 788.7,755.5 791.5,758.1" stroke="#78c6d8" stroke-width="2.8" fill="none" stroke-linecap="round" stroke-linejoin="round"/>
<rect x="853.8" y="606.9" width="188.9" height="188.8" fill="#060204"/>
<g clip-path="url(#iclip)"><g filter="url(#soft)">
<path d="M947.2,712.6 Q937.8,703.3 927.2,698.4 Q915.7,689.4 911.5,683.5 Q910.9,675.3 901.2,672.2 M947.2,712.6 Q950.7,700.3 954.5,692.7 Q956.2,678.5 954.4,666.9 M947.2,712.6 Q935.8,709.1 925.5,712.2 Q917.4,709.5 907.2,710.3 M1009.9,665.6 Q1007.7,650.0 1009.6,638.8 Q1011.0,631.6 1011.2,620.8 M1009.9,665.6 Q1010.6,668.9 1018.6,674.8 Q1032.0,680.6 1036.1,689.8 Q1042.6,706.0 1048.1,716.1 Q1047.8,721.2 1048.7,729.5 M912.6,739.7 Q927.2,748.0 932.3,756.6 Q937.9,759.5 950.9,767.4 M945.5,673.3 Q953.1,685.7 958.6,693.2 Q962.4,709.4 971.3,719.1 Q969.5,734.7 973.8,743.5 M945.5,673.3 Q948.2,686.8 958.7,697.8 Q966.1,704.9 971.5,712.3 Q977.2,718.3 979.1,731.9 M945.5,673.3 Q939.5,682.8 925.8,686.0 Q922.5,688.1 918.7,696.3 M929.5,667.5 Q918.5,661.2 905.8,657.7 Q897.0,650.6 889.7,645.5 Q879.6,632.9 875.0,627.9 M929.5,667.5 Q938.7,670.1 948.0,664.2 Q962.4,659.1 968.7,655.5 M929.5,667.5 Q937.3,664.5 944.3,664.8 Q950.5,658.7 966.4,661.9 M882.1,727.5 Q893.9,728.6 895.7,735.7 Q899.3,732.4 911.0,739.2 M882.1,727.5 Q887.5,722.9 885.4,711.3 Q881.8,702.0 887.6,693.9 Q893.2,680.8 894.6,673.1 M882.1,727.5 Q874.4,720.7 875.8,704.2 Q874.8,697.3 865.2,691.8 Q860.2,691.5 858.5,681.7 Q854.9,667.8 847.3,657.5 M1026.6,738.8 Q1030.9,751.5 1033.3,761.9 Q1034.7,771.2 1034.9,785.1 Q1040.1,791.9 1043.0,807.2 Q1043.1,821.6 1047.2,836.0 M975.1,669.0 Q975.0,663.1 973.3,651.7 Q975.4,641.4 972.0,634.7 M975.1,669.0 Q986.4,660.9 995.8,660.9 Q1012.0,650.5 1021.0,645.4 M975.1,669.0 Q967.4,674.7 963.8,673.3 Q961.3,672.6 952.2,676.4 Q941.8,676.0 924.8,678.1 M935.0,630.6 Q944.7,635.9 950.0,637.3 Q959.3,640.5 976.7,637.5 Q985.3,631.8 995.2,632.8 Q1010.4,628.5 1019.1,624.8 M935.0,630.6 Q939.1,631.1 948.5,633.5 Q961.5,633.4 976.6,632.7 Q981.6,637.4 990.4,632.5 M993.7,660.8 Q987.5,660.7 983.0,652.6 Q979.6,639.0 970.0,627.5 M993.7,660.8 Q1000.0,664.5 1012.7,660.1 Q1021.5,658.5 1037.1,650.0 Q1047.5,644.2 1051.0,642.4 M993.7,660.8 Q982.8,656.3 970.1,661.8 Q955.6,657.2 945.2,655.6 Q935.2,651.7 926.0,648.2 Q914.1,642.5 911.3,637.3 M906.8,796.9 Q913.2,790.4 910.1,783.2 Q919.5,769.3 922.5,756.0 Q923.0,750.6 929.9,736.6 M906.8,796.9 Q910.5,805.6 922.7,804.7 Q930.5,801.5 945.4,806.4 M906.8,796.9 Q914.5,790.8 925.9,776.8 Q928.8,770.0 940.7,763.7 M916.5,796.5 Q906.5,797.5 903.9,793.5 Q898.5,788.0 888.1,782.7 Q883.5,770.1 871.7,765.9 M916.5,796.5 Q920.9,789.3 918.6,777.9 Q917.6,768.8 919.9,764.6 Q918.6,750.5 916.7,743.1 Q914.9,732.6 909.8,727.7 M916.5,796.5 Q915.5,814.1 907.0,824.7 Q906.2,832.6 909.2,843.5 M971.7,753.2 Q969.5,744.0 958.2,735.6 Q953.1,718.1 950.2,708.1 Q945.8,701.2 951.4,694.5 Q947.1,680.7 947.1,675.8 M973.7,637.4 Q967.1,633.3 956.0,628.3 Q939.8,628.7 931.1,620.2 Q926.9,618.5 917.9,615.1 Q917.5,607.3 909.3,606.3 M973.7,637.4 Q981.7,627.2 980.1,625.4 Q987.3,617.1 996.4,601.3 M973.7,637.4 Q986.7,634.9 996.6,622.6 Q1006.4,622.3 1023.2,616.6 Q1030.4,613.9 1042.3,603.5 Q1046.1,604.5 1054.7,595.8 M973.7,637.4 Q968.5,640.0 955.3,637.7 Q949.5,637.5 937.7,637.2 Q929.4,637.4 914.0,639.6 M990.6,653.3 Q999.9,651.4 1017.6,651.4 Q1025.2,652.6 1036.6,656.7 Q1053.7,656.7 1066.1,657.8 M990.6,653.3 Q995.0,664.3 997.7,665.3 Q999.3,674.6 1006.1,683.1 Q1013.4,691.6 1017.4,693.5 Q1018.7,705.8 1026.2,713.4 M929.9,627.8 Q923.1,631.7 907.9,632.2 Q892.4,631.0 879.6,625.0 M929.9,627.8 Q919.9,625.9 915.2,631.9 Q903.6,635.6 891.0,648.1 M929.9,627.8 Q920.9,633.3 905.8,631.4 Q895.5,629.6 889.0,633.9 Q878.2,638.4 865.3,642.4 Q861.3,652.1 852.8,653.2 M860.4,675.0 Q847.5,665.2 837.9,662.7 Q833.4,662.3 822.6,659.0 Q807.8,657.5 798.3,651.8 Q795.3,652.0 786.5,649.4 M860.4,675.0 Q867.9,677.5 873.8,674.9 Q884.8,673.7 889.5,678.5 Q905.1,686.8 915.8,686.3 Q921.8,690.8 932.5,688.2 M860.4,675.0 Q858.8,686.1 865.2,695.2 Q868.0,704.8 877.0,715.1 M851.6,678.5 Q858.0,668.6 858.5,662.3 Q865.5,656.4 865.1,647.3 Q864.7,628.5 869.4,618.3 Q871.1,609.1 871.6,599.0 M851.6,678.5 Q850.6,672.8 848.8,658.3 Q844.6,649.6 848.0,637.5 Q844.7,623.1 850.8,615.8 Q854.5,602.4 853.9,595.2 M1017.9,800.4 Q1003.2,802.4 996.4,810.9 Q990.6,816.3 977.8,816.4 Q975.2,823.7 965.6,824.3 M1017.9,800.4 Q1018.0,796.2 1026.1,789.5 Q1040.7,783.3 1048.6,775.6 Q1066.8,776.0 1075.6,769.9 M1017.9,800.4 Q1003.3,801.6 996.3,803.0 Q989.2,804.8 972.7,816.5 Q970.6,818.8 963.5,826.5 M932.9,623.3 Q933.3,618.8 929.2,609.2 Q922.8,591.3 921.0,582.9 Q919.0,574.8 920.0,559.7 M932.9,623.3 Q930.5,617.7 931.8,607.4 Q931.1,594.2 931.5,587.2 Q933.7,572.8 929.2,560.0 Q932.5,551.3 930.2,532.8 M917.7,614.6 Q919.6,619.8 930.9,621.3 Q944.5,633.4 953.5,637.1 Q962.5,640.7 976.0,649.9 M917.7,614.6 Q906.7,610.1 899.8,605.0 Q896.3,598.4 887.6,592.4 Q880.3,594.1 871.7,585.9 Q858.9,579.6 847.7,582.7 M917.7,614.6 Q920.3,620.2 926.3,630.7 Q933.2,642.7 935.8,655.5 Q934.6,660.9 934.8,670.4 Q929.0,676.0 930.9,684.7 M917.7,614.6 Q906.4,614.0 893.2,619.3 Q882.0,614.0 870.1,615.0 Q851.9,613.9 843.7,614.8 M892.1,725.4 Q881.0,728.1 879.1,722.4 Q870.3,724.2 866.7,717.9 Q863.9,714.8 855.1,708.9 M892.1,725.4 Q902.4,731.6 910.5,740.2 Q913.3,743.5 920.8,750.5 M971.5,608.1 Q977.7,602.1 979.7,590.4 Q985.1,579.5 986.0,573.3 Q986.2,559.8 991.6,554.8 Q998.3,552.7 1000.7,544.6 M945.8,685.9 Q957.4,684.8 959.1,691.2 Q970.5,699.2 981.7,705.2 Q987.2,719.6 997.0,724.0 M945.8,685.9 Q947.7,690.1 953.7,704.2 Q963.6,706.7 964.8,716.7 Q967.1,716.6 977.7,726.4 Q985.5,736.5 990.4,743.4 M927.9,628.7 Q919.2,620.0 916.3,610.9 Q909.1,598.8 909.8,583.9 Q907.4,572.7 904.9,565.9 Q895.0,554.7 890.6,545.0 M927.9,628.7 Q920.0,623.6 914.4,611.8 Q898.8,606.4 893.1,597.1 Q893.0,596.7 883.6,588.0 Q881.1,582.3 872.6,573.8 M927.9,628.7 Q940.2,625.5 956.3,624.8 Q965.4,626.9 984.2,623.0 Q997.1,617.1 1009.7,613.0 M927.9,628.7 Q937.0,617.8 938.1,607.3 Q944.1,590.4 944.7,578.0 Q943.3,560.0 940.7,550.4 Q939.4,539.5 938.5,537.3 M927.0,622.2 Q923.9,614.7 925.1,607.6 Q921.7,594.9 927.9,587.6 Q937.6,576.7 937.6,565.5 M927.0,622.2 Q917.1,615.6 909.8,608.8 Q902.1,603.7 887.3,600.1 Q883.3,595.5 870.6,591.1 M985.3,731.0 Q976.8,727.4 967.1,722.3 Q958.5,721.8 947.9,722.4 M985.3,731.0 Q975.7,746.5 967.7,754.4 Q963.0,761.6 958.3,764.6 M985.3,731.0 Q983.9,741.2 990.0,753.5 Q993.9,765.1 1000.3,767.6 M973.9,682.9 Q958.1,681.8 949.7,683.4 Q947.6,684.5 935.8,677.3 M973.9,682.9 Q975.6,673.0 982.2,664.1 Q986.7,660.4 984.7,650.6 Q989.7,640.8 986.1,625.5 M973.9,682.9 Q972.9,671.9 967.8,670.5 Q964.7,663.0 960.5,647.1 Q958.8,634.5 948.1,623.6 M1039.1,675.2 Q1040.7,658.6 1046.5,647.7 Q1041.8,632.9 1042.5,623.6 Q1045.6,613.1 1044.8,611.1 M1039.1,675.2 Q1037.7,666.4 1026.6,661.6 Q1015.5,657.9 1013.9,655.4 Q999.6,646.0 993.0,642.3 Q980.9,633.5 975.9,619.1 M1039.1,675.2 Q1051.5,666.2 1058.3,667.1 Q1058.9,668.8 1069.1,661.3 Q1079.4,653.8 1086.5,646.0 M1039.1,675.2 Q1027.6,682.1 1022.5,689.9 Q1020.5,696.1 1013.0,705.5 M889.3,676.1 Q891.8,674.8 899.4,665.6 Q900.6,658.6 909.5,650.1 Q918.7,638.6 930.0,633.3 Q946.3,629.0 953.7,615.2 M889.3,676.1 Q884.9,672.2 882.7,658.7 Q879.7,648.0 880.4,642.2 Q876.7,629.2 870.7,626.0 M1030.3,633.3 Q1049.4,631.1 1058.5,629.4 Q1073.3,623.2 1080.0,623.9 Q1093.9,625.0 1098.6,626.0 Q1103.9,627.3 1114.4,633.4 M1000.7,788.4 Q1009.1,790.3 1026.9,784.6 Q1038.4,780.5 1049.6,783.1 Q1060.5,780.6 1064.3,776.0 M1000.7,788.4 Q1010.7,776.5 1014.9,773.0 Q1017.1,768.9 1019.1,759.7 M1000.7,788.4 Q987.1,798.1 975.9,801.3 Q959.5,806.5 951.4,802.2 Q938.1,803.8 932.3,807.5 M1018.2,694.5 Q1007.6,694.7 995.2,695.2 Q992.0,693.4 982.3,691.6 Q975.7,692.4 959.8,688.7 Q952.0,692.1 940.8,694.5 M1018.2,694.5 Q1012.3,685.9 1006.6,681.0 Q998.3,680.2 994.2,670.9 M1018.2,694.5 Q1022.2,702.5 1032.2,713.4 Q1033.1,724.2 1036.3,728.7 Q1042.2,737.3 1041.3,744.7 M938.3,775.2 Q934.6,779.6 928.0,785.7 Q923.2,789.0 912.4,795.4 Q894.4,801.9 886.1,802.0 M938.3,775.2 Q931.4,767.9 915.3,764.1 Q908.1,757.7 898.7,756.0 M938.3,775.2 Q947.7,766.0 954.5,761.9 Q959.5,754.7 973.3,748.0 M990.1,762.3 Q1005.8,760.4 1016.4,768.3 Q1024.2,777.6 1038.4,778.2 Q1045.4,774.9 1062.2,780.8 M990.1,762.3 Q987.2,780.2 986.4,788.9 Q979.1,803.5 975.1,812.1 Q968.8,820.5 970.3,825.6 M990.1,762.3 Q1001.4,767.8 1003.5,766.3 Q1010.9,772.7 1024.9,785.1 M990.1,762.3 Q982.4,775.4 981.7,788.4 Q980.2,798.5 980.8,807.9 Q984.3,819.6 979.0,827.4 M884.3,722.8 Q888.5,720.0 898.3,714.3 Q898.6,709.6 908.1,705.2 M884.3,722.8 Q885.4,733.4 892.4,749.1 Q893.2,765.6 890.9,772.1 M884.3,722.8 Q886.9,730.0 896.3,734.8 Q906.3,743.4 914.8,757.3 Q923.0,758.5 930.3,768.5 Q942.5,781.7 948.4,787.9 M995.6,649.3 Q994.6,655.4 989.2,664.2 Q990.2,672.7 985.0,680.0 Q983.1,688.8 973.7,699.1 M995.6,649.3 Q989.7,648.4 983.6,646.7 Q975.2,647.9 970.1,640.7 Q956.8,638.2 944.1,628.3 Q931.1,627.0 924.5,617.6 M890.0,769.1 Q882.7,779.3 872.3,791.9 Q866.4,806.2 860.2,816.9 Q857.6,824.8 858.1,841.5 Q851.4,850.1 848.2,864.6 M890.0,769.1 Q899.6,760.8 909.9,753.1 Q922.1,739.5 926.0,733.7 Q928.5,725.6 934.2,712.1 M890.0,769.1 Q899.1,781.0 911.8,787.0 Q920.7,793.4 935.6,797.1 M961.8,683.4 Q948.4,671.6 942.3,661.6 Q936.1,646.2 934.1,639.6 Q927.9,624.3 918.4,617.9 M961.8,683.4 Q966.2,693.2 962.5,700.2 Q970.7,709.0 969.2,713.4 M945.4,653.0 Q947.3,667.5 946.6,673.2 Q952.0,682.0 948.0,685.3 Q957.7,699.4 958.7,708.4 M945.4,653.0 Q940.4,664.0 927.9,668.2 Q915.8,669.9 907.1,675.4 M945.4,653.0 Q958.0,655.0 972.2,658.6 Q983.4,667.7 994.3,674.6 M945.4,653.0 Q942.2,658.2 936.1,663.2 Q929.3,670.7 914.1,679.1 Q904.2,678.3 901.3,685.1 Q893.0,694.9 886.2,698.3 M898.1,623.1 Q896.0,629.1 900.9,642.6 Q905.1,657.9 912.2,669.8 Q908.1,679.1 913.1,683.6 M898.1,623.1 Q896.4,632.2 897.2,642.6 Q891.2,652.3 890.7,669.3 Q883.4,680.6 881.3,694.4 M928.7,631.1 Q941.1,636.2 954.5,639.0 Q964.2,639.3 967.8,640.3 Q980.9,642.7 992.9,653.6 Q1001.3,658.6 1005.5,657.9 M928.7,631.1 Q939.6,630.4 956.9,625.4 Q972.2,618.9 985.2,615.7 M1027.2,791.9 Q1032.2,783.9 1035.6,770.4 Q1042.3,769.7 1046.5,759.5 M966.4,619.8 Q963.7,631.3 964.5,648.3 Q965.1,658.5 962.7,668.9 Q961.3,679.5 967.5,693.9 M967.9,632.8 Q968.1,641.2 961.7,643.5 Q952.7,654.6 950.1,658.5 M967.9,632.8 Q957.6,628.0 938.7,633.2 Q929.3,630.8 919.7,636.1 Q914.3,639.5 902.9,633.7 Q893.7,634.3 881.3,633.2 M967.9,632.8 Q958.6,645.8 950.1,651.9 Q932.3,658.7 924.1,664.3 M967.9,632.8 Q956.8,647.1 953.1,652.3 Q950.2,661.0 945.4,664.1 M922.7,627.4 Q916.0,621.4 902.3,613.3 Q893.5,610.9 888.7,599.5 Q878.6,588.3 874.9,580.7 Q870.8,573.7 858.4,568.4 M922.7,627.4 Q920.3,639.1 911.9,643.9 Q906.1,651.2 897.6,654.0 Q892.1,658.3 879.5,660.2 M922.7,627.4 Q910.0,639.2 903.6,644.7 Q893.1,644.8 880.4,654.2 Q872.5,658.3 865.6,665.8 M947.7,616.9 Q949.4,625.5 946.8,632.4 Q943.2,647.3 948.8,654.2 Q948.3,658.0 950.3,671.0 Q950.8,682.7 947.3,695.9 M947.7,616.9 Q943.0,612.2 937.6,605.8 Q921.4,600.1 912.6,594.5 M904.4,648.3 Q896.0,634.8 897.1,623.7 Q895.0,610.0 897.5,604.2 M904.4,648.3 Q895.5,659.4 894.7,667.4 Q888.2,678.4 872.6,687.3 Q869.0,694.1 858.0,695.9 M941.5,786.9 Q945.4,787.3 954.3,784.8 Q963.8,788.4 981.9,783.1 M941.5,786.9 Q951.9,780.6 955.0,782.8 Q970.6,775.1 979.4,774.1 M963.9,757.4 Q955.3,750.6 943.6,750.2 Q931.2,755.1 917.5,752.7 Q901.6,755.6 889.1,761.6 M963.9,757.4 Q967.3,760.0 965.2,770.4 Q961.2,782.2 965.5,788.3 Q960.2,803.9 963.9,811.1 M963.9,757.4 Q974.6,751.8 982.9,737.7 Q990.2,731.6 993.4,728.1 Q996.9,719.4 1006.7,719.8 Q1011.2,713.2 1017.1,709.3 M993.1,707.5 Q992.6,697.1 982.3,681.5 Q982.6,666.9 979.0,661.2 Q978.2,649.6 972.2,647.4 M993.1,707.5 Q981.9,700.9 979.9,693.7 Q979.6,688.2 972.4,682.5 Q966.4,677.5 965.7,668.1 M993.1,707.5 Q987.3,698.6 990.1,695.1 Q989.4,688.4 991.6,679.5 Q998.3,661.2 999.4,650.7 Q998.9,646.2 999.3,634.8 M862.3,613.5 Q864.9,622.8 870.1,628.2 Q866.6,638.3 871.0,649.5 M862.3,613.5 Q853.0,608.5 849.8,604.3 Q835.6,592.3 831.2,588.6 M862.3,613.5 Q864.4,604.8 875.6,596.7 Q889.1,595.4 896.2,584.8 Q905.8,577.4 908.2,580.0 Q915.2,567.0 926.6,562.4 M875.5,704.5 Q885.3,708.4 893.2,704.1 Q899.8,704.0 915.0,701.0 M916.4,786.9 Q908.7,784.3 904.2,785.0 Q896.0,776.9 890.2,778.3 Q883.9,771.8 872.6,766.7 Q864.8,766.5 850.1,763.3 M916.4,786.9 Q900.1,795.1 891.8,794.0 Q882.7,799.1 874.6,794.8 Q862.4,796.2 851.0,796.7 Q840.1,796.2 834.3,794.2 M916.4,786.9 Q906.0,789.4 904.9,791.6 Q896.2,795.4 879.6,806.0 M916.4,786.9 Q921.6,799.2 920.5,805.5 Q921.1,817.7 920.6,821.3 Q919.3,834.0 912.5,841.1 Q904.8,853.1 900.9,857.7 M888.5,628.1 Q898.5,635.8 901.1,648.6 Q899.8,651.5 903.2,662.5 M888.5,628.1 Q876.5,626.1 861.8,616.8 Q857.9,616.3 847.5,612.2 Q839.7,600.8 829.7,598.9 M976.3,722.5 Q979.1,719.9 989.8,709.2 Q998.9,695.9 1009.9,687.0 Q1021.2,677.3 1025.2,677.6 Q1030.6,677.1 1043.2,670.6 M976.3,722.5 Q986.8,736.0 992.7,747.2 Q995.1,750.1 998.7,762.5 M976.3,722.5 Q982.5,732.5 989.3,734.9 Q998.1,740.7 1000.6,751.7 M859.4,670.3 Q871.9,659.0 879.0,653.6 Q889.8,645.6 891.4,631.4 Q895.1,616.0 893.0,608.2 Q889.4,598.1 892.1,594.3 M859.4,670.3 Q858.6,656.4 857.6,648.1 Q854.6,637.8 860.4,635.9 Q870.5,621.1 872.3,612.8 Q877.1,607.8 880.0,598.6 M937.2,765.5 Q944.7,759.2 943.2,753.5 Q950.5,745.2 955.6,742.8 M937.2,765.5 Q927.6,763.0 915.8,769.8 Q906.2,768.9 894.6,777.9 Q878.6,782.3 871.0,779.8 M937.2,765.5 Q944.4,763.5 949.3,752.5 Q961.6,743.0 967.7,742.0 Q974.6,738.7 990.2,739.6 M937.2,765.5 Q925.6,762.4 920.0,762.8 Q910.4,762.0 902.0,758.4 Q897.6,757.9 887.7,759.9 Q872.9,760.9 858.9,763.1" stroke="#d82030" stroke-width="0.95" fill="none" opacity="0.95"/>
<path d="M947.2,712.6 Q941.2,709.4 931.4,713.7 Q923.3,710.8 908.3,708.7 Q894.9,700.8 881.1,699.1 M1009.9,665.6 Q1002.3,670.1 1000.6,680.1 Q999.3,686.4 989.9,687.8 M912.6,739.7 Q917.9,735.5 931.1,724.8 Q941.3,717.6 945.2,702.9 M945.5,673.3 Q949.7,679.7 951.2,683.9 Q956.6,686.0 970.0,697.9 M929.5,667.5 Q926.2,674.3 923.5,682.2 Q918.8,691.6 909.9,703.3 M882.1,727.5 Q885.3,719.8 890.7,717.6 Q896.7,711.4 897.6,706.7 M1026.6,738.8 Q1027.8,737.5 1035.7,726.3 Q1036.6,723.8 1043.8,711.9 M935.0,630.6 Q940.7,618.0 940.5,606.1 Q947.9,593.3 948.9,589.9 M993.7,660.8 Q994.7,645.6 985.9,635.7 Q984.8,626.6 987.2,616.9 Q985.3,616.0 990.5,605.3 M906.8,796.9 Q905.9,790.1 904.8,776.9 Q902.7,768.8 900.8,754.0 Q900.9,743.1 895.4,738.7 Q891.7,733.1 896.7,720.4 M916.5,796.5 Q928.1,796.5 931.5,804.3 Q937.8,812.6 953.0,819.4 Q956.6,826.5 968.7,833.9 Q975.5,837.9 984.8,849.6 M971.7,753.2 Q963.4,749.5 948.2,742.7 Q941.2,730.5 927.4,724.6 Q918.1,715.1 916.2,699.1 M990.6,653.3 Q983.2,643.8 983.3,634.7 Q978.7,616.2 978.1,605.7 Q980.0,596.7 978.1,582.5 Q976.7,573.1 974.6,568.2 M990.6,653.3 Q999.4,641.8 1006.8,637.2 Q1015.5,631.5 1022.2,617.9 Q1032.4,614.7 1038.1,601.8 Q1043.6,598.5 1045.7,589.2 M851.6,678.5 Q861.8,677.3 864.1,680.4 Q873.8,684.9 882.9,680.6 M851.6,678.5 Q860.9,674.0 872.4,669.1 Q887.7,664.9 895.4,652.4 Q907.0,649.1 915.1,646.1 M1017.9,800.4 Q1012.7,792.6 1016.1,784.8 Q1015.7,771.9 1011.7,762.6 M932.9,623.3 Q940.5,634.8 941.1,636.4 Q952.2,647.9 959.0,654.4 Q968.4,665.9 983.6,669.5 M932.9,623.3 Q929.7,617.6 920.4,602.0 Q921.4,590.7 916.2,588.2 Q918.4,576.6 915.8,570.1 M971.5,608.1 Q977.0,611.1 990.5,622.0 Q997.3,627.9 1002.0,632.9 Q1014.4,638.3 1024.5,645.3 Q1040.4,645.3 1049.2,654.8 M971.5,608.1 Q967.7,605.5 959.0,604.1 Q954.6,600.7 943.0,600.2 M971.5,608.1 Q969.1,602.9 974.7,593.2 Q978.8,586.2 986.4,572.6 M927.0,622.2 Q927.6,607.9 930.6,599.3 Q933.4,584.2 935.9,574.7 Q930.3,567.4 932.6,560.7 Q925.3,553.0 924.6,539.8 M927.0,622.2 Q917.1,612.0 905.9,610.3 Q898.0,603.5 880.2,606.2 Q863.5,601.9 856.0,590.3 M985.3,731.0 Q968.0,725.2 958.5,727.7 Q948.0,723.3 938.0,714.7 M1030.3,633.3 Q1039.1,642.6 1046.6,646.6 Q1048.5,652.3 1058.2,650.5 Q1068.5,651.0 1080.1,653.4 M928.7,631.1 Q934.6,640.4 940.2,647.2 Q949.6,649.3 951.3,653.9 Q960.2,657.9 966.0,655.4 M928.7,631.1 Q929.2,637.8 931.0,648.3 Q938.9,656.9 939.0,672.9 M1027.2,791.9 Q1031.3,786.5 1039.0,776.0 Q1038.4,769.1 1044.9,763.5 Q1045.2,759.9 1049.7,750.3 M966.4,619.8 Q969.4,608.4 974.0,602.9 Q978.1,597.8 976.8,584.4 Q976.8,569.6 973.7,563.1 M904.4,648.3 Q918.0,645.3 926.6,646.6 Q943.3,648.8 956.0,647.7 Q959.6,652.3 971.6,649.2 Q975.6,653.7 989.0,651.0 M941.5,786.9 Q948.6,775.0 949.9,762.7 Q951.1,755.6 960.0,743.1 Q962.2,739.6 973.9,727.0 Q979.9,713.6 984.0,699.5 M993.1,707.5 Q979.2,709.4 970.3,706.3 Q954.4,704.9 948.3,704.8 Q938.9,697.5 931.8,699.0 M875.5,704.5 Q889.2,709.1 893.3,704.7 Q905.0,707.4 920.0,702.0 Q930.1,693.3 945.3,690.3 M888.5,628.1 Q894.0,619.2 898.1,612.0 Q901.3,602.3 905.7,597.6 Q912.2,586.7 915.4,578.5 M976.3,722.5 Q976.2,730.5 975.0,744.6 Q974.4,759.6 968.9,765.8 M859.4,670.3 Q850.2,665.9 843.5,654.4 Q833.5,648.5 823.9,643.2 Q816.4,631.0 801.8,626.4 M859.4,670.3 Q860.7,655.2 870.1,648.7 Q874.6,647.3 883.3,637.3" stroke="#d8a030" stroke-width="0.8" fill="none" opacity="0.75"/>
<ellipse cx="977.8" cy="698.6" rx="2.3" ry="1.2" fill="#2020d0" transform="rotate(96 977.8 698.6)"/><ellipse cx="940.8" cy="616.5" rx="2.1" ry="1.6" fill="#2a2af0" transform="rotate(11 940.8 616.5)"/><ellipse cx="1007.9" cy="650.3" rx="1.8" ry="1.5" fill="#2a1ae0" transform="rotate(148 1007.9 650.3)"/><ellipse cx="956.7" cy="746.9" rx="2.0" ry="1.5" fill="#3a2cf0" transform="rotate(42 956.7 746.9)"/><ellipse cx="924.1" cy="752.8" rx="2.4" ry="1.3" fill="#3a2cf0" transform="rotate(109 924.1 752.8)"/><ellipse cx="984.1" cy="705.8" rx="1.9" ry="1.6" fill="#4a34f0" transform="rotate(112 984.1 705.8)"/><ellipse cx="933.3" cy="776.9" rx="1.7" ry="1.3" fill="#2a2af0" transform="rotate(48 933.3 776.9)"/><ellipse cx="1022.2" cy="712.3" rx="2.3" ry="1.2" fill="#4a34f0" transform="rotate(170 1022.2 712.3)"/><ellipse cx="921.5" cy="676.4" rx="1.9" ry="1.4" fill="#3434ff" transform="rotate(169 921.5 676.4)"/><ellipse cx="919.7" cy="672.9" rx="1.9" ry="1.8" fill="#2a1ae0" transform="rotate(16 919.7 672.9)"/><ellipse cx="965.9" cy="751.8" rx="1.6" ry="1.4" fill="#3434ff" transform="rotate(145 965.9 751.8)"/><ellipse cx="877.5" cy="619.4" rx="1.6" ry="1.3" fill="#3a2cf0" transform="rotate(71 877.5 619.4)"/><ellipse cx="896.5" cy="689.1" rx="1.8" ry="1.3" fill="#2a2af0" transform="rotate(76 896.5 689.1)"/><ellipse cx="1029.7" cy="688.7" rx="1.9" ry="1.7" fill="#3a2cf0" transform="rotate(131 1029.7 688.7)"/><ellipse cx="994.3" cy="636.2" rx="2.3" ry="1.1" fill="#2a2af0" transform="rotate(23 994.3 636.2)"/><ellipse cx="923.2" cy="726.2" rx="2.3" ry="1.3" fill="#2020d0" transform="rotate(24 923.2 726.2)"/><ellipse cx="940.4" cy="732.8" rx="1.9" ry="1.4" fill="#3434ff" transform="rotate(1 940.4 732.8)"/><ellipse cx="991.9" cy="785.4" rx="2.2" ry="1.6" fill="#4a34f0" transform="rotate(144 991.9 785.4)"/><ellipse cx="986.5" cy="626.9" rx="1.9" ry="1.5" fill="#3a2cf0" transform="rotate(139 986.5 626.9)"/><ellipse cx="888.5" cy="674.0" rx="2.1" ry="1.6" fill="#2020d0" transform="rotate(93 888.5 674.0)"/><ellipse cx="1028.3" cy="706.8" rx="1.9" ry="1.3" fill="#2020d0" transform="rotate(88 1028.3 706.8)"/><ellipse cx="875.4" cy="676.0" rx="1.6" ry="1.3" fill="#3434ff" transform="rotate(35 875.4 676.0)"/><ellipse cx="965.6" cy="658.1" rx="2.3" ry="1.7" fill="#3a2cf0" transform="rotate(113 965.6 658.1)"/><ellipse cx="901.9" cy="729.2" rx="2.0" ry="1.7" fill="#2a2af0" transform="rotate(5 901.9 729.2)"/><ellipse cx="963.4" cy="749.2" rx="1.6" ry="1.7" fill="#2a2af0" transform="rotate(9 963.4 749.2)"/><ellipse cx="915.0" cy="731.7" rx="2.2" ry="1.3" fill="#2a1ae0" transform="rotate(158 915.0 731.7)"/><ellipse cx="936.5" cy="787.0" rx="2.1" ry="1.5" fill="#2a1ae0" transform="rotate(38 936.5 787.0)"/><ellipse cx="1026.7" cy="764.1" rx="1.8" ry="1.6" fill="#2a2af0" transform="rotate(88 1026.7 764.1)"/><ellipse cx="992.6" cy="714.1" rx="1.6" ry="1.8" fill="#2020d0" transform="rotate(24 992.6 714.1)"/><ellipse cx="889.1" cy="630.3" rx="1.8" ry="1.5" fill="#3434ff" transform="rotate(49 889.1 630.3)"/><ellipse cx="960.1" cy="717.2" rx="1.8" ry="1.2" fill="#2a2af0" transform="rotate(66 960.1 717.2)"/><ellipse cx="927.0" cy="708.9" rx="2.1" ry="1.5" fill="#2020d0" transform="rotate(31 927.0 708.9)"/><ellipse cx="1000.5" cy="634.7" rx="2.1" ry="1.4" fill="#3434ff" transform="rotate(88 1000.5 634.7)"/><ellipse cx="921.6" cy="689.1" rx="2.0" ry="1.6" fill="#4a34f0" transform="rotate(167 921.6 689.1)"/><ellipse cx="1042.7" cy="694.0" rx="2.2" ry="1.7" fill="#4a34f0" transform="rotate(139 1042.7 694.0)"/><ellipse cx="1006.3" cy="682.6" rx="2.2" ry="1.7" fill="#3434ff" transform="rotate(47 1006.3 682.6)"/><ellipse cx="953.1" cy="786.7" rx="1.9" ry="1.6" fill="#2a1ae0" transform="rotate(43 953.1 786.7)"/><ellipse cx="947.5" cy="717.1" rx="1.9" ry="1.3" fill="#2a1ae0" transform="rotate(157 947.5 717.1)"/><ellipse cx="939.5" cy="738.2" rx="1.9" ry="1.5" fill="#3434ff" transform="rotate(61 939.5 738.2)"/><ellipse cx="1016.1" cy="703.8" rx="2.1" ry="1.2" fill="#3434ff" transform="rotate(175 1016.1 703.8)"/><ellipse cx="935.6" cy="721.7" rx="2.2" ry="1.7" fill="#4a34f0" transform="rotate(70 935.6 721.7)"/><ellipse cx="906.5" cy="726.2" rx="1.5" ry="1.1" fill="#3434ff" transform="rotate(127 906.5 726.2)"/><ellipse cx="936.8" cy="753.8" rx="2.1" ry="1.6" fill="#2a1ae0" transform="rotate(135 936.8 753.8)"/><ellipse cx="972.1" cy="683.8" rx="2.1" ry="1.4" fill="#4a34f0" transform="rotate(15 972.1 683.8)"/><ellipse cx="917.3" cy="720.7" rx="1.9" ry="1.6" fill="#3a2cf0" transform="rotate(141 917.3 720.7)"/><ellipse cx="1045.1" cy="663.6" rx="2.1" ry="1.5" fill="#4a34f0" transform="rotate(29 1045.1 663.6)"/><ellipse cx="860.0" cy="645.2" rx="2.0" ry="1.3" fill="#3a2cf0" transform="rotate(27 860.0 645.2)"/><ellipse cx="975.3" cy="842.5" rx="1.7" ry="1.5" fill="#3a2cf0" transform="rotate(129 975.3 842.5)"/><ellipse cx="922.7" cy="757.9" rx="1.8" ry="1.5" fill="#3434ff" transform="rotate(39 922.7 757.9)"/><ellipse cx="966.3" cy="625.4" rx="2.3" ry="1.4" fill="#3434ff" transform="rotate(42 966.3 625.4)"/><ellipse cx="916.1" cy="690.2" rx="2.1" ry="1.5" fill="#2a1ae0" transform="rotate(2 916.1 690.2)"/><ellipse cx="875.1" cy="653.6" rx="2.0" ry="1.7" fill="#2020d0" transform="rotate(56 875.1 653.6)"/><ellipse cx="915.3" cy="710.4" rx="1.7" ry="1.2" fill="#2a2af0" transform="rotate(176 915.3 710.4)"/><ellipse cx="1024.7" cy="761.0" rx="2.1" ry="1.4" fill="#3434ff" transform="rotate(46 1024.7 761.0)"/><ellipse cx="1012.6" cy="692.1" rx="1.7" ry="1.6" fill="#2a1ae0" transform="rotate(160 1012.6 692.1)"/><ellipse cx="957.3" cy="656.5" rx="2.4" ry="1.6" fill="#2a2af0" transform="rotate(60 957.3 656.5)"/><ellipse cx="963.6" cy="697.4" rx="2.2" ry="1.4" fill="#3434ff" transform="rotate(2 963.6 697.4)"/><ellipse cx="1025.8" cy="668.7" rx="1.9" ry="1.4" fill="#3434ff" transform="rotate(30 1025.8 668.7)"/><ellipse cx="988.6" cy="635.9" rx="1.6" ry="1.7" fill="#4a34f0" transform="rotate(178 988.6 635.9)"/><ellipse cx="904.4" cy="623.8" rx="2.1" ry="1.4" fill="#3a2cf0" transform="rotate(47 904.4 623.8)"/><ellipse cx="939.0" cy="663.9" rx="1.8" ry="1.6" fill="#2020d0" transform="rotate(97 939.0 663.9)"/><ellipse cx="876.8" cy="691.5" rx="1.9" ry="1.7" fill="#2a1ae0" transform="rotate(39 876.8 691.5)"/><ellipse cx="907.4" cy="681.2" rx="1.5" ry="1.7" fill="#2a1ae0" transform="rotate(128 907.4 681.2)"/><ellipse cx="1002.6" cy="757.4" rx="1.9" ry="1.6" fill="#2a2af0" transform="rotate(87 1002.6 757.4)"/><ellipse cx="854.6" cy="751.4" rx="1.8" ry="1.2" fill="#2a1ae0" transform="rotate(72 854.6 751.4)"/><ellipse cx="991.3" cy="706.2" rx="2.1" ry="1.5" fill="#2a1ae0" transform="rotate(178 991.3 706.2)"/><ellipse cx="965.5" cy="684.0" rx="2.1" ry="1.7" fill="#3a2cf0" transform="rotate(177 965.5 684.0)"/><ellipse cx="1009.0" cy="652.9" rx="2.1" ry="1.6" fill="#2020d0" transform="rotate(24 1009.0 652.9)"/><ellipse cx="1029.9" cy="652.0" rx="2.3" ry="1.5" fill="#3434ff" transform="rotate(84 1029.9 652.0)"/><ellipse cx="919.8" cy="682.1" rx="1.6" ry="1.4" fill="#2020d0" transform="rotate(43 919.8 682.1)"/><ellipse cx="998.3" cy="629.6" rx="2.3" ry="1.3" fill="#4a34f0" transform="rotate(98 998.3 629.6)"/><ellipse cx="952.6" cy="687.0" rx="1.9" ry="1.6" fill="#4a34f0" transform="rotate(41 952.6 687.0)"/><ellipse cx="933.7" cy="792.9" rx="1.7" ry="1.2" fill="#2a2af0" transform="rotate(153 933.7 792.9)"/><ellipse cx="1001.2" cy="626.6" rx="1.6" ry="1.8" fill="#3434ff" transform="rotate(22 1001.2 626.6)"/><ellipse cx="1009.3" cy="618.6" rx="1.5" ry="1.8" fill="#2a2af0" transform="rotate(103 1009.3 618.6)"/><ellipse cx="855.2" cy="733.7" rx="1.6" ry="1.4" fill="#4a34f0" transform="rotate(57 855.2 733.7)"/><ellipse cx="934.3" cy="668.6" rx="2.3" ry="1.5" fill="#2020d0" transform="rotate(41 934.3 668.6)"/><ellipse cx="968.2" cy="711.6" rx="1.7" ry="1.5" fill="#2a2af0" transform="rotate(115 968.2 711.6)"/><ellipse cx="934.2" cy="674.1" rx="1.7" ry="1.2" fill="#2020d0" transform="rotate(16 934.2 674.1)"/><ellipse cx="927.1" cy="757.7" rx="2.1" ry="1.5" fill="#2020d0" transform="rotate(84 927.1 757.7)"/><ellipse cx="975.3" cy="702.6" rx="1.5" ry="1.8" fill="#2a1ae0" transform="rotate(169 975.3 702.6)"/><ellipse cx="929.4" cy="658.5" rx="1.5" ry="1.3" fill="#3a2cf0" transform="rotate(35 929.4 658.5)"/><ellipse cx="961.3" cy="656.2" rx="1.6" ry="1.4" fill="#2a2af0" transform="rotate(97 961.3 656.2)"/><ellipse cx="825.8" cy="602.1" rx="1.8" ry="1.3" fill="#3434ff" transform="rotate(97 825.8 602.1)"/><ellipse cx="974.4" cy="626.0" rx="1.5" ry="1.5" fill="#3434ff" transform="rotate(113 974.4 626.0)"/><ellipse cx="909.5" cy="648.7" rx="1.7" ry="1.8" fill="#2a2af0" transform="rotate(3 909.5 648.7)"/><ellipse cx="913.7" cy="694.4" rx="2.3" ry="1.7" fill="#4a34f0" transform="rotate(67 913.7 694.4)"/><ellipse cx="964.9" cy="586.3" rx="1.9" ry="1.6" fill="#3434ff" transform="rotate(11 964.9 586.3)"/><ellipse cx="974.5" cy="756.5" rx="1.9" ry="1.4" fill="#2020d0" transform="rotate(30 974.5 756.5)"/><ellipse cx="1022.2" cy="683.3" rx="1.5" ry="1.2" fill="#2020d0" transform="rotate(55 1022.2 683.3)"/><ellipse cx="980.8" cy="715.5" rx="2.0" ry="1.6" fill="#4a34f0" transform="rotate(30 980.8 715.5)"/><ellipse cx="1026.2" cy="690.9" rx="2.2" ry="1.7" fill="#3a2cf0" transform="rotate(132 1026.2 690.9)"/><ellipse cx="961.5" cy="716.1" rx="1.9" ry="1.3" fill="#3a2cf0" transform="rotate(6 961.5 716.1)"/><ellipse cx="924.5" cy="717.4" rx="2.4" ry="1.2" fill="#3a2cf0" transform="rotate(51 924.5 717.4)"/><ellipse cx="968.9" cy="641.8" rx="2.0" ry="1.5" fill="#2020d0" transform="rotate(58 968.9 641.8)"/><ellipse cx="906.8" cy="675.9" rx="2.3" ry="1.4" fill="#2a2af0" transform="rotate(62 906.8 675.9)"/><ellipse cx="936.7" cy="626.8" rx="1.8" ry="1.6" fill="#2020d0" transform="rotate(140 936.7 626.8)"/><ellipse cx="919.6" cy="654.2" rx="1.7" ry="1.8" fill="#3a2cf0" transform="rotate(117 919.6 654.2)"/><ellipse cx="942.7" cy="662.9" rx="1.5" ry="1.4" fill="#3a2cf0" transform="rotate(76 942.7 662.9)"/><ellipse cx="958.6" cy="671.4" rx="2.1" ry="1.5" fill="#3a2cf0" transform="rotate(79 958.6 671.4)"/><ellipse cx="943.6" cy="725.2" rx="2.0" ry="1.3" fill="#4a34f0" transform="rotate(115 943.6 725.2)"/><ellipse cx="919.0" cy="587.3" rx="2.1" ry="1.2" fill="#2a2af0" transform="rotate(53 919.0 587.3)"/><ellipse cx="1009.9" cy="728.0" rx="2.0" ry="1.2" fill="#2020d0" transform="rotate(9 1009.9 728.0)"/><ellipse cx="854.1" cy="705.6" rx="1.7" ry="1.2" fill="#2020d0" transform="rotate(16 854.1 705.6)"/><ellipse cx="918.1" cy="718.6" rx="1.6" ry="1.7" fill="#2a2af0" transform="rotate(91 918.1 718.6)"/><ellipse cx="1002.3" cy="737.2" rx="1.9" ry="1.7" fill="#2020d0" transform="rotate(69 1002.3 737.2)"/><ellipse cx="980.7" cy="708.0" rx="2.3" ry="1.7" fill="#3a2cf0" transform="rotate(139 980.7 708.0)"/><ellipse cx="968.5" cy="715.1" rx="2.3" ry="1.4" fill="#2020d0" transform="rotate(39 968.5 715.1)"/><ellipse cx="879.1" cy="637.0" rx="1.9" ry="1.6" fill="#2a1ae0" transform="rotate(65 879.1 637.0)"/><ellipse cx="1034.0" cy="646.1" rx="1.9" ry="1.4" fill="#2a1ae0" transform="rotate(162 1034.0 646.1)"/><ellipse cx="1020.7" cy="732.9" rx="1.7" ry="1.7" fill="#3a2cf0" transform="rotate(82 1020.7 732.9)"/><ellipse cx="998.1" cy="703.0" rx="1.6" ry="1.7" fill="#4a34f0" transform="rotate(22 998.1 703.0)"/><ellipse cx="892.7" cy="618.2" rx="1.7" ry="1.1" fill="#4a34f0" transform="rotate(60 892.7 618.2)"/><ellipse cx="988.9" cy="649.4" rx="2.0" ry="1.2" fill="#2a1ae0" transform="rotate(132 988.9 649.4)"/><ellipse cx="859.3" cy="660.7" rx="1.8" ry="1.2" fill="#2a1ae0" transform="rotate(68 859.3 660.7)"/><ellipse cx="902.7" cy="621.5" rx="2.2" ry="1.6" fill="#4a34f0" transform="rotate(31 902.7 621.5)"/><ellipse cx="874.4" cy="740.9" rx="1.6" ry="1.7" fill="#3a2cf0" transform="rotate(151 874.4 740.9)"/><ellipse cx="876.3" cy="658.9" rx="1.7" ry="1.8" fill="#2020d0" transform="rotate(24 876.3 658.9)"/><ellipse cx="961.6" cy="693.1" rx="1.6" ry="1.4" fill="#2a1ae0" transform="rotate(169 961.6 693.1)"/><ellipse cx="950.4" cy="705.2" rx="1.9" ry="1.1" fill="#2a2af0" transform="rotate(177 950.4 705.2)"/><ellipse cx="933.0" cy="628.9" rx="2.1" ry="1.7" fill="#2a2af0" transform="rotate(175 933.0 628.9)"/><ellipse cx="984.6" cy="758.7" rx="2.3" ry="1.5" fill="#2020d0" transform="rotate(129 984.6 758.7)"/><ellipse cx="983.8" cy="706.0" rx="2.3" ry="1.6" fill="#2020d0" transform="rotate(76 983.8 706.0)"/><ellipse cx="996.5" cy="643.8" rx="1.9" ry="1.4" fill="#3a2cf0" transform="rotate(59 996.5 643.8)"/><ellipse cx="912.2" cy="728.4" rx="1.8" ry="1.6" fill="#2a1ae0" transform="rotate(151 912.2 728.4)"/><ellipse cx="967.1" cy="767.1" rx="1.8" ry="1.5" fill="#4a34f0" transform="rotate(135 967.1 767.1)"/><ellipse cx="927.0" cy="621.9" rx="1.6" ry="1.8" fill="#2a1ae0" transform="rotate(13 927.0 621.9)"/><ellipse cx="948.7" cy="723.4" rx="1.6" ry="1.1" fill="#3434ff" transform="rotate(54 948.7 723.4)"/><ellipse cx="958.5" cy="682.0" rx="2.4" ry="1.6" fill="#2a2af0" transform="rotate(117 958.5 682.0)"/><ellipse cx="957.8" cy="706.1" rx="2.2" ry="1.8" fill="#3434ff" transform="rotate(172 957.8 706.1)"/><ellipse cx="869.1" cy="833.4" rx="1.7" ry="1.2" fill="#2a1ae0" transform="rotate(19 869.1 833.4)"/><ellipse cx="931.1" cy="719.0" rx="2.4" ry="1.4" fill="#2020d0" transform="rotate(4 931.1 719.0)"/><ellipse cx="1033.1" cy="700.4" rx="1.6" ry="1.3" fill="#3a2cf0" transform="rotate(83 1033.1 700.4)"/><ellipse cx="894.0" cy="747.4" rx="2.1" ry="1.1" fill="#4a34f0" transform="rotate(7 894.0 747.4)"/><ellipse cx="989.8" cy="669.1" rx="2.3" ry="1.8" fill="#2020d0" transform="rotate(136 989.8 669.1)"/><ellipse cx="993.1" cy="704.1" rx="1.7" ry="1.3" fill="#2020d0" transform="rotate(77 993.1 704.1)"/><ellipse cx="884.0" cy="612.7" rx="2.1" ry="1.3" fill="#3434ff" transform="rotate(43 884.0 612.7)"/><ellipse cx="1004.8" cy="734.1" rx="1.7" ry="1.5" fill="#4a34f0" transform="rotate(45 1004.8 734.1)"/><ellipse cx="931.5" cy="694.7" rx="2.1" ry="1.4" fill="#3a2cf0" transform="rotate(142 931.5 694.7)"/><ellipse cx="972.5" cy="635.1" rx="2.0" ry="1.1" fill="#2a1ae0" transform="rotate(47 972.5 635.1)"/><ellipse cx="830.9" cy="691.3" rx="1.6" ry="1.1" fill="#2020d0" transform="rotate(3 830.9 691.3)"/><ellipse cx="916.5" cy="705.5" rx="1.7" ry="1.8" fill="#2020d0" transform="rotate(23 916.5 705.5)"/><ellipse cx="855.3" cy="710.7" rx="1.8" ry="1.4" fill="#4a34f0" transform="rotate(19 855.3 710.7)"/><ellipse cx="1001.7" cy="661.9" rx="2.1" ry="1.4" fill="#3a2cf0" transform="rotate(31 1001.7 661.9)"/><ellipse cx="1024.2" cy="621.9" rx="2.0" ry="1.8" fill="#4a34f0" transform="rotate(176 1024.2 621.9)"/><ellipse cx="958.5" cy="785.6" rx="2.1" ry="1.5" fill="#3a2cf0" transform="rotate(24 958.5 785.6)"/><ellipse cx="908.4" cy="675.1" rx="1.7" ry="1.8" fill="#2020d0" transform="rotate(30 908.4 675.1)"/><ellipse cx="944.7" cy="707.8" rx="2.2" ry="1.7" fill="#2a1ae0" transform="rotate(59 944.7 707.8)"/><ellipse cx="1009.4" cy="652.6" rx="1.8" ry="1.3" fill="#2020d0" transform="rotate(170 1009.4 652.6)"/><ellipse cx="986.5" cy="732.1" rx="2.0" ry="1.3" fill="#3a2cf0" transform="rotate(131 986.5 732.1)"/><ellipse cx="942.0" cy="759.8" rx="2.3" ry="1.2" fill="#2020d0" transform="rotate(59 942.0 759.8)"/><ellipse cx="942.3" cy="683.9" rx="1.6" ry="1.7" fill="#4a34f0" transform="rotate(119 942.3 683.9)"/><ellipse cx="945.1" cy="776.4" rx="2.2" ry="1.5" fill="#2a2af0" transform="rotate(31 945.1 776.4)"/><ellipse cx="969.6" cy="764.8" rx="2.1" ry="1.7" fill="#3a2cf0" transform="rotate(61 969.6 764.8)"/><ellipse cx="1033.6" cy="649.8" rx="1.5" ry="1.4" fill="#2020d0" transform="rotate(96 1033.6 649.8)"/><ellipse cx="1059.0" cy="746.5" rx="1.6" ry="1.5" fill="#4a34f0" transform="rotate(65 1059.0 746.5)"/><ellipse cx="878.6" cy="609.3" rx="1.5" ry="1.7" fill="#3434ff" transform="rotate(75 878.6 609.3)"/><ellipse cx="983.4" cy="744.4" rx="2.1" ry="1.5" fill="#2a2af0" transform="rotate(53 983.4 744.4)"/><ellipse cx="937.1" cy="709.4" rx="1.7" ry="1.8" fill="#3a2cf0" transform="rotate(25 937.1 709.4)"/><ellipse cx="886.5" cy="676.2" rx="2.1" ry="1.6" fill="#2020d0" transform="rotate(147 886.5 676.2)"/><ellipse cx="1016.4" cy="644.3" rx="2.3" ry="1.3" fill="#2a2af0" transform="rotate(44 1016.4 644.3)"/><ellipse cx="991.8" cy="733.1" rx="1.7" ry="1.2" fill="#2a1ae0" transform="rotate(101 991.8 733.1)"/><ellipse cx="943.4" cy="637.2" rx="2.0" ry="1.2" fill="#3a2cf0" transform="rotate(73 943.4 637.2)"/><ellipse cx="976.8" cy="705.9" rx="2.2" ry="1.4" fill="#3a2cf0" transform="rotate(59 976.8 705.9)"/><ellipse cx="965.2" cy="648.7" rx="1.5" ry="1.2" fill="#3434ff" transform="rotate(80 965.2 648.7)"/><ellipse cx="935.8" cy="760.4" rx="2.2" ry="1.3" fill="#2020d0" transform="rotate(78 935.8 760.4)"/><ellipse cx="981.3" cy="725.3" rx="1.7" ry="1.4" fill="#2a2af0" transform="rotate(128 981.3 725.3)"/><ellipse cx="939.6" cy="733.2" rx="2.1" ry="1.4" fill="#2a1ae0" transform="rotate(88 939.6 733.2)"/><ellipse cx="968.9" cy="676.3" rx="2.4" ry="1.3" fill="#3a2cf0" transform="rotate(178 968.9 676.3)"/><ellipse cx="1090.5" cy="739.9" rx="1.7" ry="1.6" fill="#2a1ae0" transform="rotate(144 1090.5 739.9)"/><ellipse cx="901.3" cy="611.4" rx="1.7" ry="1.6" fill="#3434ff" transform="rotate(147 901.3 611.4)"/><ellipse cx="993.5" cy="639.8" rx="2.1" ry="1.5" fill="#2020d0" transform="rotate(175 993.5 639.8)"/><ellipse cx="912.5" cy="597.3" rx="1.7" ry="1.5" fill="#3a2cf0" transform="rotate(92 912.5 597.3)"/><ellipse cx="907.0" cy="691.8" rx="1.5" ry="1.8" fill="#2a2af0" transform="rotate(73 907.0 691.8)"/><ellipse cx="886.9" cy="772.6" rx="1.8" ry="1.6" fill="#2a2af0" transform="rotate(169 886.9 772.6)"/><ellipse cx="965.9" cy="696.0" rx="2.2" ry="1.8" fill="#3a2cf0" transform="rotate(21 965.9 696.0)"/><ellipse cx="895.6" cy="687.5" rx="2.1" ry="1.4" fill="#2a1ae0" transform="rotate(21 895.6 687.5)"/><ellipse cx="922.4" cy="669.7" rx="2.1" ry="1.6" fill="#2020d0" transform="rotate(180 922.4 669.7)"/><ellipse cx="1022.8" cy="750.4" rx="1.7" ry="1.7" fill="#3a2cf0" transform="rotate(91 1022.8 750.4)"/><ellipse cx="990.7" cy="665.2" rx="1.8" ry="1.5" fill="#3434ff" transform="rotate(140 990.7 665.2)"/><ellipse cx="1031.7" cy="703.7" rx="1.8" ry="1.2" fill="#3434ff" transform="rotate(134 1031.7 703.7)"/><ellipse cx="883.8" cy="685.6" rx="2.4" ry="1.3" fill="#3434ff" transform="rotate(71 883.8 685.6)"/><ellipse cx="973.0" cy="728.6" rx="1.7" ry="1.6" fill="#2a1ae0" transform="rotate(99 973.0 728.6)"/><ellipse cx="883.3" cy="707.7" rx="1.9" ry="1.5" fill="#2a2af0" transform="rotate(7 883.3 707.7)"/><ellipse cx="985.1" cy="770.8" rx="1.8" ry="1.6" fill="#2a1ae0" transform="rotate(16 985.1 770.8)"/><ellipse cx="874.3" cy="674.6" rx="2.2" ry="1.8" fill="#2020d0" transform="rotate(65 874.3 674.6)"/><ellipse cx="1004.1" cy="723.5" rx="1.9" ry="1.5" fill="#4a34f0" transform="rotate(153 1004.1 723.5)"/><ellipse cx="884.3" cy="618.0" rx="2.0" ry="1.7" fill="#4a34f0" transform="rotate(161 884.3 618.0)"/><ellipse cx="997.0" cy="663.4" rx="1.7" ry="1.4" fill="#2a2af0" transform="rotate(0 997.0 663.4)"/><ellipse cx="983.5" cy="672.0" rx="1.6" ry="1.4" fill="#4a34f0" transform="rotate(14 983.5 672.0)"/><ellipse cx="1016.2" cy="731.3" rx="1.8" ry="1.6" fill="#4a34f0" transform="rotate(43 1016.2 731.3)"/><ellipse cx="1030.0" cy="742.0" rx="2.0" ry="1.6" fill="#2a2af0" transform="rotate(147 1030.0 742.0)"/><ellipse cx="1027.4" cy="777.1" rx="2.0" ry="1.6" fill="#2020d0" transform="rotate(140 1027.4 777.1)"/><ellipse cx="958.1" cy="737.0" rx="1.6" ry="1.5" fill="#3434ff" transform="rotate(9 958.1 737.0)"/><ellipse cx="980.0" cy="702.6" rx="2.4" ry="1.3" fill="#2020d0" transform="rotate(6 980.0 702.6)"/><ellipse cx="1008.1" cy="703.9" rx="2.4" ry="1.4" fill="#2020d0" transform="rotate(15 1008.1 703.9)"/><ellipse cx="953.0" cy="671.1" rx="1.7" ry="1.6" fill="#2a2af0" transform="rotate(49 953.0 671.1)"/><ellipse cx="915.2" cy="748.0" rx="2.0" ry="1.3" fill="#4a34f0" transform="rotate(65 915.2 748.0)"/><ellipse cx="859.9" cy="737.2" rx="2.0" ry="1.5" fill="#3a2cf0" transform="rotate(172 859.9 737.2)"/><ellipse cx="1039.6" cy="629.5" rx="1.9" ry="1.2" fill="#3434ff" transform="rotate(159 1039.6 629.5)"/><ellipse cx="994.4" cy="690.7" rx="2.3" ry="1.3" fill="#4a34f0" transform="rotate(116 994.4 690.7)"/><ellipse cx="860.7" cy="649.3" rx="2.2" ry="1.7" fill="#2a1ae0" transform="rotate(119 860.7 649.3)"/><ellipse cx="945.9" cy="625.8" rx="2.2" ry="1.8" fill="#2a1ae0" transform="rotate(8 945.9 625.8)"/><ellipse cx="954.2" cy="629.0" rx="2.3" ry="1.3" fill="#2020d0" transform="rotate(112 954.2 629.0)"/><ellipse cx="959.4" cy="580.9" rx="1.9" ry="1.4" fill="#2a1ae0" transform="rotate(105 959.4 580.9)"/><ellipse cx="899.0" cy="634.8" rx="1.7" ry="1.4" fill="#3434ff" transform="rotate(141 899.0 634.8)"/><ellipse cx="974.5" cy="732.0" rx="2.4" ry="1.5" fill="#4a34f0" transform="rotate(114 974.5 732.0)"/><ellipse cx="954.8" cy="643.3" rx="1.6" ry="1.3" fill="#2020d0" transform="rotate(109 954.8 643.3)"/><ellipse cx="933.8" cy="764.9" rx="2.1" ry="1.2" fill="#4a34f0" transform="rotate(85 933.8 764.9)"/><ellipse cx="973.5" cy="641.9" rx="1.7" ry="1.2" fill="#2020d0" transform="rotate(10 973.5 641.9)"/><ellipse cx="940.4" cy="635.0" rx="1.7" ry="1.8" fill="#3434ff" transform="rotate(19 940.4 635.0)"/><ellipse cx="971.2" cy="709.4" rx="1.5" ry="1.8" fill="#3434ff" transform="rotate(58 971.2 709.4)"/><ellipse cx="947.3" cy="692.0" rx="2.0" ry="1.4" fill="#2a1ae0" transform="rotate(157 947.3 692.0)"/><ellipse cx="964.3" cy="637.1" rx="1.6" ry="1.5" fill="#2a2af0" transform="rotate(43 964.3 637.1)"/><ellipse cx="876.3" cy="686.4" rx="1.6" ry="1.6" fill="#4a34f0" transform="rotate(78 876.3 686.4)"/><ellipse cx="991.6" cy="647.5" rx="1.8" ry="1.7" fill="#3a2cf0" transform="rotate(166 991.6 647.5)"/><ellipse cx="937.9" cy="673.6" rx="1.8" ry="1.4" fill="#3a2cf0" transform="rotate(83 937.9 673.6)"/><ellipse cx="933.9" cy="679.6" rx="1.6" ry="1.1" fill="#3434ff" transform="rotate(66 933.9 679.6)"/><ellipse cx="1012.1" cy="704.9" rx="2.0" ry="1.6" fill="#4a34f0" transform="rotate(10 1012.1 704.9)"/><ellipse cx="954.7" cy="762.8" rx="1.9" ry="1.3" fill="#2a1ae0" transform="rotate(121 954.7 762.8)"/><ellipse cx="930.5" cy="688.1" rx="1.7" ry="1.8" fill="#4a34f0" transform="rotate(78 930.5 688.1)"/><ellipse cx="871.7" cy="607.7" rx="1.5" ry="1.5" fill="#2020d0" transform="rotate(16 871.7 607.7)"/><ellipse cx="941.2" cy="648.1" rx="2.0" ry="1.5" fill="#2a2af0" transform="rotate(87 941.2 648.1)"/><ellipse cx="867.1" cy="732.3" rx="1.6" ry="1.6" fill="#2a2af0" transform="rotate(148 867.1 732.3)"/><ellipse cx="975.2" cy="711.0" rx="2.3" ry="1.7" fill="#3a2cf0" transform="rotate(57 975.2 711.0)"/><ellipse cx="992.6" cy="729.3" rx="1.9" ry="1.4" fill="#4a34f0" transform="rotate(61 992.6 729.3)"/><ellipse cx="986.2" cy="646.8" rx="2.1" ry="1.4" fill="#2a2af0" transform="rotate(134 986.2 646.8)"/><ellipse cx="978.3" cy="616.7" rx="1.9" ry="1.5" fill="#2a1ae0" transform="rotate(33 978.3 616.7)"/><ellipse cx="978.3" cy="734.0" rx="2.2" ry="1.6" fill="#2020d0" transform="rotate(111 978.3 734.0)"/><ellipse cx="952.5" cy="667.2" rx="1.9" ry="1.3" fill="#4a34f0" transform="rotate(43 952.5 667.2)"/><ellipse cx="890.0" cy="608.2" rx="2.0" ry="1.1" fill="#2020d0" transform="rotate(179 890.0 608.2)"/><ellipse cx="883.0" cy="717.9" rx="1.6" ry="1.4" fill="#2a2af0" transform="rotate(126 883.0 717.9)"/><ellipse cx="996.8" cy="787.7" rx="2.0" ry="1.2" fill="#4a34f0" transform="rotate(75 996.8 787.7)"/><ellipse cx="965.4" cy="667.4" rx="1.9" ry="1.4" fill="#2a2af0" transform="rotate(148 965.4 667.4)"/><ellipse cx="954.6" cy="650.7" rx="2.2" ry="1.6" fill="#2020d0" transform="rotate(117 954.6 650.7)"/><ellipse cx="1004.6" cy="790.1" rx="2.2" ry="1.8" fill="#3434ff" transform="rotate(173 1004.6 790.1)"/><ellipse cx="1015.5" cy="786.2" rx="1.6" ry="1.4" fill="#2020d0" transform="rotate(157 1015.5 786.2)"/><ellipse cx="883.6" cy="787.6" rx="2.0" ry="1.5" fill="#3a2cf0" transform="rotate(6 883.6 787.6)"/><ellipse cx="936.5" cy="646.4" rx="1.6" ry="1.8" fill="#3434ff" transform="rotate(8 936.5 646.4)"/><ellipse cx="925.5" cy="615.5" rx="2.4" ry="1.7" fill="#2a1ae0" transform="rotate(99 925.5 615.5)"/><ellipse cx="894.4" cy="701.6" rx="1.7" ry="1.7" fill="#2a1ae0" transform="rotate(60 894.4 701.6)"/><ellipse cx="1013.0" cy="631.5" rx="1.5" ry="1.8" fill="#4a34f0" transform="rotate(136 1013.0 631.5)"/><ellipse cx="976.8" cy="747.6" rx="1.7" ry="1.4" fill="#2020d0" transform="rotate(170 976.8 747.6)"/><ellipse cx="885.0" cy="692.3" rx="2.1" ry="1.5" fill="#2020d0" transform="rotate(50 885.0 692.3)"/><ellipse cx="968.2" cy="761.4" rx="1.9" ry="1.6" fill="#3a2cf0" transform="rotate(20 968.2 761.4)"/><ellipse cx="938.4" cy="767.8" rx="2.1" ry="1.8" fill="#2020d0" transform="rotate(170 938.4 767.8)"/><ellipse cx="944.0" cy="619.3" rx="1.8" ry="1.4" fill="#3a2cf0" transform="rotate(20 944.0 619.3)"/><ellipse cx="998.2" cy="703.1" rx="2.1" ry="1.4" fill="#3434ff" transform="rotate(60 998.2 703.1)"/><ellipse cx="1010.6" cy="735.7" rx="2.3" ry="1.3" fill="#2020d0" transform="rotate(8 1010.6 735.7)"/><ellipse cx="946.6" cy="651.7" rx="1.9" ry="1.3" fill="#4a34f0" transform="rotate(25 946.6 651.7)"/><ellipse cx="944.4" cy="708.0" rx="1.7" ry="1.7" fill="#4a34f0" transform="rotate(90 944.4 708.0)"/><ellipse cx="975.0" cy="667.7" rx="1.9" ry="1.2" fill="#3a2cf0" transform="rotate(121 975.0 667.7)"/><ellipse cx="916.3" cy="669.4" rx="2.1" ry="1.4" fill="#3a2cf0" transform="rotate(21 916.3 669.4)"/><ellipse cx="913.5" cy="697.0" rx="1.9" ry="1.3" fill="#2020d0" transform="rotate(142 913.5 697.0)"/><ellipse cx="962.1" cy="608.1" rx="1.6" ry="1.7" fill="#2a2af0" transform="rotate(65 962.1 608.1)"/><ellipse cx="1027.7" cy="774.6" rx="2.2" ry="1.6" fill="#3a2cf0" transform="rotate(81 1027.7 774.6)"/><ellipse cx="971.6" cy="750.9" rx="2.3" ry="1.1" fill="#2a2af0" transform="rotate(180 971.6 750.9)"/><ellipse cx="1023.5" cy="658.1" rx="2.4" ry="1.2" fill="#3434ff" transform="rotate(143 1023.5 658.1)"/><ellipse cx="962.2" cy="777.8" rx="2.1" ry="1.5" fill="#2a1ae0" transform="rotate(25 962.2 777.8)"/><ellipse cx="951.6" cy="678.6" rx="1.8" ry="1.5" fill="#4a34f0" transform="rotate(62 951.6 678.6)"/><ellipse cx="987.0" cy="739.0" rx="2.0" ry="1.3" fill="#2a1ae0" transform="rotate(12 987.0 739.0)"/><ellipse cx="882.0" cy="685.8" rx="2.4" ry="1.5" fill="#2a2af0" transform="rotate(24 882.0 685.8)"/><ellipse cx="909.3" cy="756.3" rx="2.4" ry="1.7" fill="#2a1ae0" transform="rotate(90 909.3 756.3)"/><ellipse cx="974.5" cy="781.1" rx="1.8" ry="1.5" fill="#2a1ae0" transform="rotate(136 974.5 781.1)"/><ellipse cx="981.2" cy="654.1" rx="1.6" ry="1.6" fill="#2a1ae0" transform="rotate(168 981.2 654.1)"/><ellipse cx="968.4" cy="673.7" rx="2.0" ry="1.7" fill="#2a2af0" transform="rotate(154 968.4 673.7)"/><ellipse cx="1015.4" cy="742.0" rx="2.3" ry="1.3" fill="#3434ff" transform="rotate(90 1015.4 742.0)"/><ellipse cx="970.5" cy="653.4" rx="1.5" ry="1.8" fill="#3a2cf0" transform="rotate(54 970.5 653.4)"/><ellipse cx="962.3" cy="711.8" rx="2.4" ry="1.7" fill="#3434ff" transform="rotate(146 962.3 711.8)"/><ellipse cx="924.2" cy="734.6" rx="2.0" ry="1.2" fill="#2020d0" transform="rotate(177 924.2 734.6)"/><ellipse cx="1031.7" cy="666.4" rx="1.9" ry="1.2" fill="#2a2af0" transform="rotate(11 1031.7 666.4)"/><ellipse cx="948.3" cy="666.5" rx="1.9" ry="1.6" fill="#2a2af0" transform="rotate(86 948.3 666.5)"/><ellipse cx="957.9" cy="637.9" rx="2.2" ry="1.6" fill="#2a2af0" transform="rotate(50 957.9 637.9)"/><ellipse cx="951.5" cy="848.3" rx="1.8" ry="1.2" fill="#2a1ae0" transform="rotate(83 951.5 848.3)"/><ellipse cx="912.9" cy="698.4" rx="1.7" ry="1.8" fill="#3434ff" transform="rotate(135 912.9 698.4)"/><ellipse cx="857.3" cy="637.9" rx="1.8" ry="1.4" fill="#3434ff" transform="rotate(104 857.3 637.9)"/><ellipse cx="1017.6" cy="660.0" rx="2.0" ry="1.2" fill="#2a2af0" transform="rotate(115 1017.6 660.0)"/><ellipse cx="1034.4" cy="787.5" rx="1.9" ry="1.4" fill="#3434ff" transform="rotate(161 1034.4 787.5)"/><ellipse cx="984.5" cy="693.0" rx="1.7" ry="1.4" fill="#4a34f0" transform="rotate(135 984.5 693.0)"/><ellipse cx="996.2" cy="701.2" rx="1.8" ry="1.7" fill="#4a34f0" transform="rotate(170 996.2 701.2)"/><ellipse cx="954.9" cy="763.2" rx="1.8" ry="1.7" fill="#3434ff" transform="rotate(96 954.9 763.2)"/><ellipse cx="866.9" cy="691.2" rx="1.7" ry="1.2" fill="#3434ff" transform="rotate(120 866.9 691.2)"/><ellipse cx="949.8" cy="741.4" rx="2.3" ry="1.3" fill="#3a2cf0" transform="rotate(179 949.8 741.4)"/><ellipse cx="960.0" cy="740.6" rx="1.9" ry="1.1" fill="#2020d0" transform="rotate(52 960.0 740.6)"/><ellipse cx="931.9" cy="743.9" rx="2.2" ry="1.5" fill="#4a34f0" transform="rotate(66 931.9 743.9)"/><ellipse cx="965.7" cy="746.3" rx="1.5" ry="1.6" fill="#3a2cf0" transform="rotate(113 965.7 746.3)"/><ellipse cx="922.4" cy="651.4" rx="1.9" ry="1.5" fill="#4a34f0" transform="rotate(59 922.4 651.4)"/><ellipse cx="935.9" cy="658.5" rx="1.7" ry="1.4" fill="#4a34f0" transform="rotate(60 935.9 658.5)"/><ellipse cx="908.6" cy="690.9" rx="2.1" ry="1.5" fill="#2a1ae0" transform="rotate(173 908.6 690.9)"/><ellipse cx="987.4" cy="754.9" rx="2.1" ry="1.3" fill="#2a1ae0" transform="rotate(13 987.4 754.9)"/><ellipse cx="961.4" cy="710.1" rx="1.6" ry="1.3" fill="#2a1ae0" transform="rotate(56 961.4 710.1)"/><ellipse cx="987.6" cy="641.7" rx="2.0" ry="1.6" fill="#4a34f0" transform="rotate(153 987.6 641.7)"/><ellipse cx="1037.8" cy="738.5" rx="2.1" ry="1.1" fill="#4a34f0" transform="rotate(148 1037.8 738.5)"/><ellipse cx="1040.6" cy="671.2" rx="1.8" ry="1.5" fill="#2a1ae0" transform="rotate(62 1040.6 671.2)"/><ellipse cx="939.9" cy="617.9" rx="1.6" ry="1.3" fill="#3434ff" transform="rotate(63 939.9 617.9)"/><ellipse cx="950.4" cy="715.0" rx="2.1" ry="1.1" fill="#2a2af0" transform="rotate(100 950.4 715.0)"/><ellipse cx="961.0" cy="754.2" rx="2.0" ry="1.2" fill="#2a2af0" transform="rotate(74 961.0 754.2)"/><ellipse cx="859.6" cy="763.1" rx="1.6" ry="1.8" fill="#4a34f0" transform="rotate(175 859.6 763.1)"/><ellipse cx="954.1" cy="788.5" rx="1.5" ry="1.7" fill="#4a34f0" transform="rotate(39 954.1 788.5)"/><ellipse cx="969.7" cy="699.0" rx="1.6" ry="1.5" fill="#2a1ae0" transform="rotate(151 969.7 699.0)"/><ellipse cx="971.5" cy="751.5" rx="2.2" ry="1.8" fill="#3a2cf0" transform="rotate(114 971.5 751.5)"/><ellipse cx="1007.1" cy="615.2" rx="1.7" ry="1.6" fill="#2020d0" transform="rotate(148 1007.1 615.2)"/><ellipse cx="947.8" cy="673.6" rx="2.1" ry="1.4" fill="#3434ff" transform="rotate(179 947.8 673.6)"/><ellipse cx="955.0" cy="722.4" rx="2.1" ry="1.8" fill="#3a2cf0" transform="rotate(82 955.0 722.4)"/><ellipse cx="1019.1" cy="746.9" rx="1.7" ry="1.4" fill="#2020d0" transform="rotate(42 1019.1 746.9)"/><ellipse cx="980.1" cy="710.1" rx="2.3" ry="1.4" fill="#2020d0" transform="rotate(79 980.1 710.1)"/><ellipse cx="1005.4" cy="626.9" rx="1.9" ry="1.6" fill="#3434ff" transform="rotate(157 1005.4 626.9)"/><ellipse cx="922.6" cy="648.2" rx="2.3" ry="1.5" fill="#3a2cf0" transform="rotate(155 922.6 648.2)"/><ellipse cx="978.4" cy="724.1" rx="2.3" ry="1.3" fill="#2a2af0" transform="rotate(41 978.4 724.1)"/><ellipse cx="974.6" cy="623.9" rx="1.7" ry="1.7" fill="#2020d0" transform="rotate(159 974.6 623.9)"/><ellipse cx="891.1" cy="719.4" rx="2.2" ry="1.4" fill="#3a2cf0" transform="rotate(26 891.1 719.4)"/><ellipse cx="1041.3" cy="663.7" rx="2.3" ry="1.7" fill="#4a34f0" transform="rotate(58 1041.3 663.7)"/><ellipse cx="1007.2" cy="709.2" rx="1.9" ry="1.6" fill="#2020d0" transform="rotate(31 1007.2 709.2)"/><ellipse cx="954.4" cy="613.0" rx="1.8" ry="1.6" fill="#2a1ae0" transform="rotate(175 954.4 613.0)"/><ellipse cx="992.3" cy="618.3" rx="2.1" ry="1.4" fill="#2020d0" transform="rotate(54 992.3 618.3)"/><ellipse cx="1021.6" cy="684.8" rx="2.2" ry="1.1" fill="#2020d0" transform="rotate(138 1021.6 684.8)"/><ellipse cx="979.6" cy="649.2" rx="2.4" ry="1.3" fill="#4a34f0" transform="rotate(8 979.6 649.2)"/><ellipse cx="1005.4" cy="677.1" rx="1.9" ry="1.4" fill="#2a1ae0" transform="rotate(74 1005.4 677.1)"/><ellipse cx="971.0" cy="658.8" rx="1.5" ry="1.6" fill="#4a34f0" transform="rotate(94 971.0 658.8)"/><ellipse cx="963.6" cy="679.3" rx="1.7" ry="1.4" fill="#2a1ae0" transform="rotate(135 963.6 679.3)"/><ellipse cx="1041.3" cy="754.9" rx="2.3" ry="1.5" fill="#2a2af0" transform="rotate(113 1041.3 754.9)"/><ellipse cx="886.9" cy="625.8" rx="2.2" ry="1.1" fill="#3434ff" transform="rotate(89 886.9 625.8)"/><ellipse cx="975.1" cy="788.5" rx="1.7" ry="1.4" fill="#2a1ae0" transform="rotate(146 975.1 788.5)"/><ellipse cx="1020.8" cy="689.0" rx="1.9" ry="1.7" fill="#4a34f0" transform="rotate(60 1020.8 689.0)"/><ellipse cx="975.6" cy="675.5" rx="2.1" ry="1.3" fill="#2a2af0" transform="rotate(142 975.6 675.5)"/><ellipse cx="939.8" cy="659.6" rx="1.7" ry="1.7" fill="#3a2cf0" transform="rotate(122 939.8 659.6)"/><ellipse cx="1038.7" cy="759.8" rx="2.3" ry="1.2" fill="#2020d0" transform="rotate(82 1038.7 759.8)"/><ellipse cx="1041.7" cy="712.8" rx="2.0" ry="1.5" fill="#2a2af0" transform="rotate(130 1041.7 712.8)"/><ellipse cx="961.2" cy="727.8" rx="1.9" ry="1.5" fill="#3a2cf0" transform="rotate(31 961.2 727.8)"/><ellipse cx="925.6" cy="658.9" rx="1.6" ry="1.5" fill="#3434ff" transform="rotate(88 925.6 658.9)"/><ellipse cx="929.5" cy="635.3" rx="1.8" ry="1.7" fill="#3434ff" transform="rotate(62 929.5 635.3)"/><ellipse cx="963.9" cy="727.3" rx="1.7" ry="1.2" fill="#2a1ae0" transform="rotate(144 963.9 727.3)"/><ellipse cx="950.9" cy="678.5" rx="1.7" ry="1.2" fill="#2a1ae0" transform="rotate(82 950.9 678.5)"/><ellipse cx="907.5" cy="732.2" rx="2.3" ry="1.6" fill="#3a2cf0" transform="rotate(61 907.5 732.2)"/><ellipse cx="1018.6" cy="742.4" rx="1.5" ry="1.3" fill="#2a2af0" transform="rotate(165 1018.6 742.4)"/><ellipse cx="958.5" cy="765.1" rx="2.1" ry="1.5" fill="#4a34f0" transform="rotate(10 958.5 765.1)"/><ellipse cx="947.4" cy="727.3" rx="2.0" ry="1.7" fill="#3a2cf0" transform="rotate(124 947.4 727.3)"/><ellipse cx="924.5" cy="633.3" rx="1.6" ry="1.4" fill="#2020d0" transform="rotate(74 924.5 633.3)"/><ellipse cx="934.8" cy="731.2" rx="1.5" ry="1.8" fill="#2020d0" transform="rotate(137 934.8 731.2)"/><ellipse cx="1022.0" cy="669.6" rx="1.9" ry="1.5" fill="#4a34f0" transform="rotate(3 1022.0 669.6)"/><ellipse cx="983.4" cy="701.3" rx="1.6" ry="1.2" fill="#3a2cf0" transform="rotate(118 983.4 701.3)"/><ellipse cx="955.1" cy="644.4" rx="2.4" ry="1.6" fill="#3a2cf0" transform="rotate(92 955.1 644.4)"/><ellipse cx="956.8" cy="746.8" rx="1.5" ry="1.7" fill="#2a2af0" transform="rotate(106 956.8 746.8)"/><ellipse cx="958.4" cy="768.7" rx="2.1" ry="1.5" fill="#2a1ae0" transform="rotate(166 958.4 768.7)"/><ellipse cx="907.0" cy="704.9" rx="2.2" ry="1.4" fill="#2a2af0" transform="rotate(175 907.0 704.9)"/><ellipse cx="871.9" cy="610.6" rx="1.6" ry="1.7" fill="#3434ff" transform="rotate(124 871.9 610.6)"/><ellipse cx="1033.5" cy="730.7" rx="2.0" ry="1.5" fill="#2a1ae0" transform="rotate(87 1033.5 730.7)"/><ellipse cx="860.4" cy="740.1" rx="1.7" ry="1.4" fill="#2020d0" transform="rotate(38 860.4 740.1)"/><ellipse cx="989.0" cy="736.5" rx="2.3" ry="1.7" fill="#2a2af0" transform="rotate(141 989.0 736.5)"/><ellipse cx="878.4" cy="717.1" rx="2.2" ry="1.3" fill="#2a1ae0" transform="rotate(102 878.4 717.1)"/><ellipse cx="990.8" cy="774.9" rx="1.5" ry="1.2" fill="#2a1ae0" transform="rotate(160 990.8 774.9)"/><ellipse cx="935.3" cy="608.6" rx="2.1" ry="1.5" fill="#3434ff" transform="rotate(124 935.3 608.6)"/><ellipse cx="913.7" cy="708.8" rx="2.4" ry="1.6" fill="#4a34f0" transform="rotate(128 913.7 708.8)"/><ellipse cx="1036.1" cy="654.9" rx="1.9" ry="1.2" fill="#3a2cf0" transform="rotate(155 1036.1 654.9)"/><ellipse cx="974.0" cy="730.7" rx="1.9" ry="1.6" fill="#2020d0" transform="rotate(130 974.0 730.7)"/><ellipse cx="970.7" cy="646.7" rx="1.8" ry="1.5" fill="#4a34f0" transform="rotate(142 970.7 646.7)"/><ellipse cx="862.5" cy="646.0" rx="2.3" ry="1.3" fill="#2a1ae0" transform="rotate(86 862.5 646.0)"/><ellipse cx="916.0" cy="635.0" rx="1.9" ry="1.6" fill="#2020d0" transform="rotate(112 916.0 635.0)"/><ellipse cx="960.4" cy="705.2" rx="2.3" ry="1.7" fill="#2a1ae0" transform="rotate(19 960.4 705.2)"/><ellipse cx="970.4" cy="621.8" rx="1.8" ry="1.3" fill="#3a2cf0" transform="rotate(48 970.4 621.8)"/><ellipse cx="937.4" cy="783.6" rx="1.9" ry="1.2" fill="#2a2af0" transform="rotate(85 937.4 783.6)"/><ellipse cx="1005.9" cy="755.9" rx="1.7" ry="1.1" fill="#2a2af0" transform="rotate(140 1005.9 755.9)"/><ellipse cx="986.1" cy="677.5" rx="2.3" ry="1.5" fill="#3434ff" transform="rotate(154 986.1 677.5)"/><ellipse cx="1004.0" cy="689.1" rx="1.8" ry="1.8" fill="#2a2af0" transform="rotate(34 1004.0 689.1)"/><ellipse cx="992.1" cy="687.1" rx="2.4" ry="1.5" fill="#3a2cf0" transform="rotate(52 992.1 687.1)"/><ellipse cx="895.8" cy="707.3" rx="2.1" ry="1.4" fill="#2020d0" transform="rotate(91 895.8 707.3)"/><ellipse cx="954.3" cy="773.3" rx="2.0" ry="1.2" fill="#2020d0" transform="rotate(152 954.3 773.3)"/><ellipse cx="986.6" cy="754.1" rx="1.9" ry="1.4" fill="#3434ff" transform="rotate(86 986.6 754.1)"/><ellipse cx="999.8" cy="770.0" rx="2.0" ry="1.3" fill="#2a2af0" transform="rotate(120 999.8 770.0)"/><ellipse cx="943.5" cy="676.6" rx="2.0" ry="1.4" fill="#2a2af0" transform="rotate(20 943.5 676.6)"/><ellipse cx="939.9" cy="669.0" rx="2.0" ry="1.2" fill="#2020d0" transform="rotate(131 939.9 669.0)"/><ellipse cx="954.1" cy="722.7" rx="1.6" ry="1.2" fill="#3a2cf0" transform="rotate(60 954.1 722.7)"/><ellipse cx="881.3" cy="714.5" rx="2.2" ry="1.4" fill="#2a2af0" transform="rotate(86 881.3 714.5)"/><ellipse cx="1031.9" cy="732.1" rx="1.8" ry="1.4" fill="#2a1ae0" transform="rotate(15 1031.9 732.1)"/><ellipse cx="987.0" cy="703.8" rx="1.7" ry="1.8" fill="#2a2af0" transform="rotate(168 987.0 703.8)"/><ellipse cx="1032.1" cy="766.1" rx="1.7" ry="1.3" fill="#2a2af0" transform="rotate(6 1032.1 766.1)"/><ellipse cx="1011.4" cy="737.1" rx="2.1" ry="1.5" fill="#4a34f0" transform="rotate(79 1011.4 737.1)"/><ellipse cx="910.6" cy="685.8" rx="2.4" ry="1.4" fill="#3434ff" transform="rotate(39 910.6 685.8)"/><ellipse cx="1019.6" cy="675.5" rx="1.6" ry="1.5" fill="#3434ff" transform="rotate(158 1019.6 675.5)"/><ellipse cx="1010.5" cy="710.3" rx="1.9" ry="1.7" fill="#2020d0" transform="rotate(11 1010.5 710.3)"/><ellipse cx="1013.2" cy="818.0" rx="2.3" ry="1.3" fill="#3434ff" transform="rotate(96 1013.2 818.0)"/><ellipse cx="975.9" cy="626.6" rx="2.1" ry="1.7" fill="#2a2af0" transform="rotate(116 975.9 626.6)"/><ellipse cx="1029.6" cy="626.6" rx="1.7" ry="1.4" fill="#2a1ae0" transform="rotate(1 1029.6 626.6)"/><ellipse cx="893.2" cy="655.0" rx="2.0" ry="1.3" fill="#2020d0" transform="rotate(26 893.2 655.0)"/><ellipse cx="988.1" cy="648.5" rx="1.9" ry="1.1" fill="#2a1ae0" transform="rotate(101 988.1 648.5)"/><ellipse cx="994.9" cy="702.1" rx="2.2" ry="1.3" fill="#2a2af0" transform="rotate(92 994.9 702.1)"/><ellipse cx="928.0" cy="716.3" rx="1.6" ry="1.4" fill="#3a2cf0" transform="rotate(119 928.0 716.3)"/><ellipse cx="934.1" cy="730.5" rx="2.2" ry="1.2" fill="#3434ff" transform="rotate(123 934.1 730.5)"/><ellipse cx="989.6" cy="658.3" rx="1.8" ry="1.4" fill="#2020d0" transform="rotate(165 989.6 658.3)"/><ellipse cx="896.1" cy="719.1" rx="2.2" ry="1.6" fill="#2020d0" transform="rotate(139 896.1 719.1)"/><ellipse cx="999.3" cy="701.0" rx="2.0" ry="1.8" fill="#3a2cf0" transform="rotate(143 999.3 701.0)"/><ellipse cx="989.8" cy="684.8" rx="1.7" ry="1.3" fill="#4a34f0" transform="rotate(93 989.8 684.8)"/><ellipse cx="910.9" cy="614.5" rx="2.4" ry="1.4" fill="#2020d0" transform="rotate(172 910.9 614.5)"/><ellipse cx="921.6" cy="621.1" rx="2.0" ry="1.5" fill="#3434ff" transform="rotate(43 921.6 621.1)"/><ellipse cx="893.7" cy="726.9" rx="2.0" ry="1.1" fill="#2a2af0" transform="rotate(7 893.7 726.9)"/><ellipse cx="982.7" cy="649.6" rx="2.2" ry="1.6" fill="#2a2af0" transform="rotate(118 982.7 649.6)"/><ellipse cx="894.6" cy="684.0" rx="2.3" ry="1.4" fill="#4a34f0" transform="rotate(16 894.6 684.0)"/><ellipse cx="952.8" cy="729.1" rx="2.1" ry="1.1" fill="#3a2cf0" transform="rotate(35 952.8 729.1)"/><ellipse cx="949.0" cy="740.1" rx="1.6" ry="1.2" fill="#3434ff" transform="rotate(26 949.0 740.1)"/><ellipse cx="926.8" cy="660.7" rx="1.9" ry="1.7" fill="#3434ff" transform="rotate(142 926.8 660.7)"/><ellipse cx="1005.2" cy="690.3" rx="2.3" ry="1.4" fill="#2a1ae0" transform="rotate(81 1005.2 690.3)"/><ellipse cx="927.6" cy="718.7" rx="2.3" ry="1.5" fill="#3a2cf0" transform="rotate(59 927.6 718.7)"/><ellipse cx="982.3" cy="778.4" rx="1.8" ry="1.2" fill="#3434ff" transform="rotate(171 982.3 778.4)"/><ellipse cx="910.2" cy="602.8" rx="1.6" ry="1.7" fill="#3a2cf0" transform="rotate(25 910.2 602.8)"/><ellipse cx="932.1" cy="704.0" rx="1.7" ry="1.1" fill="#2020d0" transform="rotate(67 932.1 704.0)"/><ellipse cx="929.6" cy="710.4" rx="1.7" ry="1.8" fill="#3434ff" transform="rotate(25 929.6 710.4)"/><ellipse cx="963.0" cy="686.4" rx="1.5" ry="1.6" fill="#2a1ae0" transform="rotate(174 963.0 686.4)"/><ellipse cx="943.2" cy="793.0" rx="1.6" ry="1.4" fill="#2a2af0" transform="rotate(57 943.2 793.0)"/><ellipse cx="957.0" cy="698.0" rx="2.2" ry="1.4" fill="#2a2af0" transform="rotate(130 957.0 698.0)"/><ellipse cx="996.2" cy="784.3" rx="1.8" ry="1.3" fill="#4a34f0" transform="rotate(17 996.2 784.3)"/><ellipse cx="1007.1" cy="689.0" rx="2.4" ry="1.7" fill="#2020d0" transform="rotate(77 1007.1 689.0)"/><ellipse cx="1028.0" cy="788.2" rx="2.2" ry="1.2" fill="#2020d0" transform="rotate(151 1028.0 788.2)"/><ellipse cx="1044.5" cy="613.2" rx="1.9" ry="1.6" fill="#2020d0" transform="rotate(11 1044.5 613.2)"/><ellipse cx="961.9" cy="738.9" rx="2.4" ry="1.2" fill="#2a2af0" transform="rotate(155 961.9 738.9)"/><ellipse cx="1024.4" cy="696.4" rx="2.2" ry="1.7" fill="#4a34f0" transform="rotate(98 1024.4 696.4)"/><ellipse cx="1032.4" cy="719.2" rx="1.6" ry="1.5" fill="#2020d0" transform="rotate(3 1032.4 719.2)"/><ellipse cx="947.5" cy="680.5" rx="2.1" ry="1.7" fill="#4a34f0" transform="rotate(100 947.5 680.5)"/><ellipse cx="923.6" cy="691.5" rx="1.7" ry="1.4" fill="#2a1ae0" transform="rotate(74 923.6 691.5)"/><ellipse cx="932.7" cy="596.4" rx="1.5" ry="1.8" fill="#3434ff" transform="rotate(46 932.7 596.4)"/><ellipse cx="937.7" cy="743.2" rx="2.2" ry="1.4" fill="#2020d0" transform="rotate(10 937.7 743.2)"/><ellipse cx="954.4" cy="703.2" rx="1.9" ry="1.5" fill="#3a2cf0" transform="rotate(130 954.4 703.2)"/><ellipse cx="1015.6" cy="643.6" rx="2.4" ry="1.6" fill="#3434ff" transform="rotate(53 1015.6 643.6)"/><ellipse cx="858.6" cy="625.4" rx="2.1" ry="1.5" fill="#3434ff" transform="rotate(83 858.6 625.4)"/><ellipse cx="996.5" cy="739.2" rx="1.6" ry="1.1" fill="#2a1ae0" transform="rotate(60 996.5 739.2)"/><ellipse cx="971.4" cy="729.6" rx="2.0" ry="1.3" fill="#3434ff" transform="rotate(18 971.4 729.6)"/><ellipse cx="945.3" cy="732.0" rx="1.6" ry="1.8" fill="#4a34f0" transform="rotate(6 945.3 732.0)"/><ellipse cx="1015.9" cy="696.8" rx="2.2" ry="1.5" fill="#4a34f0" transform="rotate(156 1015.9 696.8)"/><ellipse cx="936.7" cy="790.7" rx="2.2" ry="1.7" fill="#2a2af0" transform="rotate(132 936.7 790.7)"/><ellipse cx="946.6" cy="769.4" rx="2.2" ry="1.2" fill="#2a1ae0" transform="rotate(19 946.6 769.4)"/><ellipse cx="1012.1" cy="729.7" rx="2.2" ry="1.6" fill="#2020d0" transform="rotate(57 1012.1 729.7)"/><ellipse cx="987.7" cy="671.6" rx="1.6" ry="1.1" fill="#2a1ae0" transform="rotate(77 987.7 671.6)"/><ellipse cx="946.6" cy="681.7" rx="2.2" ry="1.3" fill="#2020d0" transform="rotate(52 946.6 681.7)"/><ellipse cx="1000.5" cy="708.8" rx="1.7" ry="1.3" fill="#2020d0" transform="rotate(84 1000.5 708.8)"/><ellipse cx="869.1" cy="579.9" rx="1.7" ry="1.6" fill="#2020d0" transform="rotate(167 869.1 579.9)"/><ellipse cx="1031.9" cy="696.7" rx="1.8" ry="1.1" fill="#3a2cf0" transform="rotate(1 1031.9 696.7)"/><ellipse cx="938.1" cy="670.0" rx="1.5" ry="1.5" fill="#4a34f0" transform="rotate(48 938.1 670.0)"/><ellipse cx="925.1" cy="725.0" rx="1.6" ry="1.6" fill="#2a1ae0" transform="rotate(31 925.1 725.0)"/><ellipse cx="901.7" cy="709.2" rx="2.2" ry="1.7" fill="#4a34f0" transform="rotate(52 901.7 709.2)"/><ellipse cx="874.9" cy="670.3" rx="1.6" ry="1.2" fill="#3a2cf0" transform="rotate(3 874.9 670.3)"/><ellipse cx="959.8" cy="757.2" rx="2.2" ry="1.5" fill="#4a34f0" transform="rotate(120 959.8 757.2)"/><ellipse cx="962.8" cy="642.6" rx="2.1" ry="1.3" fill="#2020d0" transform="rotate(84 962.8 642.6)"/><ellipse cx="988.6" cy="687.7" rx="2.4" ry="1.6" fill="#3434ff" transform="rotate(52 988.6 687.7)"/><ellipse cx="854.8" cy="750.1" rx="1.5" ry="1.3" fill="#2a1ae0" transform="rotate(92 854.8 750.1)"/><ellipse cx="898.6" cy="727.9" rx="1.7" ry="1.6" fill="#2a1ae0" transform="rotate(13 898.6 727.9)"/><ellipse cx="938.4" cy="703.5" rx="1.7" ry="1.8" fill="#2a1ae0" transform="rotate(127 938.4 703.5)"/><ellipse cx="872.2" cy="744.2" rx="2.4" ry="1.2" fill="#2a2af0" transform="rotate(72 872.2 744.2)"/><ellipse cx="883.3" cy="719.9" rx="2.1" ry="1.2" fill="#4a34f0" transform="rotate(85 883.3 719.9)"/><ellipse cx="1000.1" cy="729.8" rx="1.5" ry="1.3" fill="#4a34f0" transform="rotate(71 1000.1 729.8)"/><ellipse cx="1053.7" cy="771.2" rx="1.9" ry="1.8" fill="#3a2cf0" transform="rotate(62 1053.7 771.2)"/><ellipse cx="1012.9" cy="656.2" rx="1.9" ry="1.7" fill="#4a34f0" transform="rotate(92 1012.9 656.2)"/><ellipse cx="932.3" cy="781.4" rx="2.1" ry="1.6" fill="#2020d0" transform="rotate(92 932.3 781.4)"/><ellipse cx="960.7" cy="704.2" rx="2.2" ry="1.7" fill="#3a2cf0" transform="rotate(120 960.7 704.2)"/><ellipse cx="1039.4" cy="702.1" rx="2.2" ry="1.7" fill="#2020d0" transform="rotate(31 1039.4 702.1)"/><ellipse cx="993.4" cy="695.8" rx="2.1" ry="1.3" fill="#2a1ae0" transform="rotate(141 993.4 695.8)"/><ellipse cx="1037.8" cy="657.8" rx="2.2" ry="1.4" fill="#2020d0" transform="rotate(48 1037.8 657.8)"/><ellipse cx="930.0" cy="750.9" rx="1.8" ry="1.4" fill="#2a2af0" transform="rotate(26 930.0 750.9)"/><ellipse cx="923.0" cy="667.8" rx="1.8" ry="1.8" fill="#4a34f0" transform="rotate(31 923.0 667.8)"/><ellipse cx="989.6" cy="751.1" rx="1.6" ry="1.6" fill="#4a34f0" transform="rotate(154 989.6 751.1)"/><ellipse cx="974.5" cy="683.8" rx="1.6" ry="1.5" fill="#2020d0" transform="rotate(49 974.5 683.8)"/><ellipse cx="1032.3" cy="767.3" rx="1.9" ry="1.2" fill="#2a2af0" transform="rotate(142 1032.3 767.3)"/><ellipse cx="869.8" cy="727.5" rx="1.5" ry="1.7" fill="#4a34f0" transform="rotate(85 869.8 727.5)"/><ellipse cx="918.7" cy="566.7" rx="1.9" ry="1.7" fill="#2020d0" transform="rotate(83 918.7 566.7)"/><ellipse cx="1002.6" cy="653.2" rx="2.4" ry="1.6" fill="#2a2af0" transform="rotate(173 1002.6 653.2)"/><ellipse cx="1002.6" cy="586.1" rx="2.1" ry="1.6" fill="#3a2cf0" transform="rotate(153 1002.6 586.1)"/><ellipse cx="949.3" cy="625.2" rx="2.2" ry="1.4" fill="#2a2af0" transform="rotate(174 949.3 625.2)"/><ellipse cx="926.9" cy="712.9" rx="1.7" ry="1.5" fill="#2020d0" transform="rotate(113 926.9 712.9)"/><ellipse cx="1029.7" cy="772.1" rx="1.9" ry="1.4" fill="#4a34f0" transform="rotate(88 1029.7 772.1)"/><ellipse cx="926.4" cy="626.0" rx="1.9" ry="1.7" fill="#4a34f0" transform="rotate(105 926.4 626.0)"/><ellipse cx="987.2" cy="696.8" rx="1.9" ry="1.7" fill="#3434ff" transform="rotate(104 987.2 696.8)"/><ellipse cx="1015.9" cy="617.9" rx="1.6" ry="1.4" fill="#2a2af0" transform="rotate(177 1015.9 617.9)"/><ellipse cx="917.7" cy="714.9" rx="1.8" ry="1.5" fill="#2a2af0" transform="rotate(71 917.7 714.9)"/><ellipse cx="1009.9" cy="746.4" rx="2.2" ry="1.6" fill="#2020d0" transform="rotate(60 1009.9 746.4)"/><ellipse cx="920.1" cy="727.1" rx="1.7" ry="1.1" fill="#3434ff" transform="rotate(13 920.1 727.1)"/><ellipse cx="869.5" cy="615.8" rx="1.9" ry="1.5" fill="#2020d0" transform="rotate(85 869.5 615.8)"/><ellipse cx="1023.9" cy="658.6" rx="1.6" ry="1.6" fill="#2a2af0" transform="rotate(84 1023.9 658.6)"/><ellipse cx="985.2" cy="747.7" rx="2.4" ry="1.5" fill="#4a34f0" transform="rotate(122 985.2 747.7)"/><ellipse cx="924.1" cy="654.2" rx="1.7" ry="1.6" fill="#3a2cf0" transform="rotate(6 924.1 654.2)"/><ellipse cx="988.0" cy="723.0" rx="1.8" ry="1.6" fill="#4a34f0" transform="rotate(100 988.0 723.0)"/><ellipse cx="949.5" cy="690.8" rx="2.1" ry="1.5" fill="#3a2cf0" transform="rotate(131 949.5 690.8)"/><ellipse cx="934.9" cy="747.8" rx="2.2" ry="1.6" fill="#2020d0" transform="rotate(48 934.9 747.8)"/>
<ellipse cx="947.2" cy="712.6" rx="1.9" ry="2.6" fill="#e8e8a0"/><ellipse cx="1009.9" cy="665.6" rx="2.2" ry="1.4" fill="#f8e080"/><ellipse cx="912.6" cy="739.7" rx="1.4" ry="2.2" fill="#d03060"/><ellipse cx="945.5" cy="673.3" rx="2.3" ry="2.0" fill="#f8e080"/><ellipse cx="929.5" cy="667.5" rx="2.0" ry="1.8" fill="#e8e8a0"/><ellipse cx="882.1" cy="727.5" rx="1.7" ry="1.7" fill="#e8e8a0"/><ellipse cx="1026.6" cy="738.8" rx="2.2" ry="2.0" fill="#d03060"/><ellipse cx="975.1" cy="669.0" rx="2.2" ry="2.0" fill="#f8f0c8"/><ellipse cx="935.0" cy="630.6" rx="2.3" ry="2.5" fill="#f8f0c8"/><ellipse cx="993.7" cy="660.8" rx="2.3" ry="1.7" fill="#e8e8a0"/><ellipse cx="906.8" cy="796.9" rx="1.9" ry="1.7" fill="#f07090"/><ellipse cx="916.5" cy="796.5" rx="1.6" ry="1.4" fill="#f8e080"/><ellipse cx="971.7" cy="753.2" rx="1.6" ry="1.9" fill="#f07090"/><ellipse cx="973.7" cy="637.4" rx="2.2" ry="2.2" fill="#e85090"/><ellipse cx="990.6" cy="653.3" rx="2.1" ry="2.2" fill="#f8f0c8"/><ellipse cx="929.9" cy="627.8" rx="2.1" ry="2.2" fill="#f8f0c8"/><ellipse cx="860.4" cy="675.0" rx="2.3" ry="1.8" fill="#e8e8a0"/><ellipse cx="851.6" cy="678.5" rx="1.6" ry="1.9" fill="#f8f0c8"/><ellipse cx="1017.9" cy="800.4" rx="1.6" ry="2.2" fill="#e85090"/><ellipse cx="932.9" cy="623.3" rx="1.6" ry="2.3" fill="#e85090"/><ellipse cx="917.7" cy="614.6" rx="1.4" ry="2.6" fill="#ffffff"/><ellipse cx="892.1" cy="725.4" rx="1.5" ry="2.3" fill="#e8e8a0"/><ellipse cx="971.5" cy="608.1" rx="2.0" ry="2.1" fill="#d03060"/><ellipse cx="945.8" cy="685.9" rx="1.8" ry="2.2" fill="#f8e080"/><ellipse cx="927.9" cy="628.7" rx="1.6" ry="2.3" fill="#d03060"/><ellipse cx="927.0" cy="622.2" rx="1.4" ry="2.3" fill="#f8e080"/><ellipse cx="985.3" cy="731.0" rx="2.0" ry="2.1" fill="#f8f0c8"/><ellipse cx="973.9" cy="682.9" rx="1.4" ry="1.9" fill="#e85090"/><ellipse cx="1039.1" cy="675.2" rx="1.4" ry="1.8" fill="#d03060"/><ellipse cx="889.3" cy="676.1" rx="2.1" ry="2.6" fill="#f8e080"/><ellipse cx="1030.3" cy="633.3" rx="2.1" ry="2.5" fill="#f07090"/><ellipse cx="1000.7" cy="788.4" rx="2.0" ry="1.5" fill="#d03060"/><ellipse cx="1018.2" cy="694.5" rx="1.4" ry="1.8" fill="#e8e8a0"/><ellipse cx="938.3" cy="775.2" rx="1.8" ry="1.6" fill="#f8e080"/><ellipse cx="990.1" cy="762.3" rx="1.5" ry="2.0" fill="#ffffff"/><ellipse cx="884.3" cy="722.8" rx="2.0" ry="1.6" fill="#ffffff"/><ellipse cx="995.6" cy="649.3" rx="1.4" ry="2.2" fill="#e8e8a0"/><ellipse cx="890.0" cy="769.1" rx="1.9" ry="2.1" fill="#f07090"/><ellipse cx="961.8" cy="683.4" rx="1.5" ry="2.4" fill="#f8e080"/><ellipse cx="945.4" cy="653.0" rx="1.5" ry="1.6" fill="#ffffff"/><ellipse cx="898.1" cy="623.1" rx="1.9" ry="2.4" fill="#e85090"/><ellipse cx="928.7" cy="631.1" rx="1.8" ry="1.9" fill="#e8e8a0"/><ellipse cx="1027.2" cy="791.9" rx="1.7" ry="1.7" fill="#e85090"/><ellipse cx="966.4" cy="619.8" rx="1.4" ry="1.8" fill="#ffffff"/><ellipse cx="967.9" cy="632.8" rx="1.6" ry="2.0" fill="#f07090"/><ellipse cx="922.7" cy="627.4" rx="1.6" ry="1.3" fill="#f07090"/><ellipse cx="947.7" cy="616.9" rx="1.5" ry="1.6" fill="#f8f0c8"/><ellipse cx="904.4" cy="648.3" rx="1.3" ry="2.0" fill="#e8e8a0"/><ellipse cx="941.5" cy="786.9" rx="1.6" ry="2.1" fill="#e8e8a0"/><ellipse cx="963.9" cy="757.4" rx="2.1" ry="1.5" fill="#e85090"/><ellipse cx="993.1" cy="707.5" rx="1.9" ry="1.9" fill="#f8e080"/><ellipse cx="862.3" cy="613.5" rx="1.7" ry="2.6" fill="#e8e8a0"/><ellipse cx="875.5" cy="704.5" rx="1.4" ry="1.9" fill="#f07090"/><ellipse cx="916.4" cy="786.9" rx="2.0" ry="1.4" fill="#e8e8a0"/><ellipse cx="888.5" cy="628.1" rx="1.6" ry="2.1" fill="#f07090"/><ellipse cx="976.3" cy="722.5" rx="1.7" ry="1.7" fill="#f07090"/><ellipse cx="859.4" cy="670.3" rx="1.3" ry="2.6" fill="#f8f0c8"/><ellipse cx="937.2" cy="765.5" rx="1.5" ry="2.5" fill="#e85090"/>
<ellipse cx="1026" cy="744" rx="3.5" ry="4" fill="#f0f0b0"/><ellipse cx="1032" cy="713" rx="4" ry="3" fill="#d02040" opacity="0.8"/><ellipse cx="878" cy="727" rx="3" ry="2.5" fill="#e03050"/>
</g></g>
<text x="860.7" y="625.6" font-size="14" fill="#eee" text-anchor="start">Merge</text>
<rect x="1012.4" y="782" width="14.7" height="2" fill="#d0d0d0"/>
<g stroke="#262626" stroke-width="2" stroke-dasharray="5.3 3.3">
<line x1="279" y1="9" x2="279" y2="326"/>
<line x1="0.8" y1="326" x2="1072" y2="326"/>
<line x1="701" y1="326" x2="701" y2="578.4"/>
</g>
<line x1="0" y1="578.4" x2="1071" y2="578.4" stroke="#111" stroke-width="2" stroke-dasharray="5.3 3.3"/>
<text x="-0.5" y="18" font-size="23.3" fill="#000" text-anchor="start" font-weight="bold">a</text>
<text x="295" y="17.8" font-size="23.3" fill="#000" text-anchor="start" font-weight="bold">b</text>
<text x="597.3" y="17.5" font-size="23.3" fill="#000" text-anchor="start" font-weight="bold">c</text>
<text x="0" y="359.6" font-size="23.3" fill="#000" text-anchor="start" font-weight="bold">d</text>
<text x="294.3" y="359.5" font-size="23.3" fill="#000" text-anchor="start" font-weight="bold">e</text>
<text x="730.9" y="359.7" font-size="23.3" fill="#000" text-anchor="start" font-weight="bold">f</text>
<text x="0" y="613.1" font-size="23.3" fill="#000" text-anchor="start" font-weight="bold">g</text>
<text x="340.2" y="612.9" font-size="23.3" fill="#000" text-anchor="start" font-weight="bold">h</text>
<text x="840.3" y="612.8" font-size="23.3" fill="#000" text-anchor="start" font-weight="bold">i</text>
</svg></body></html>
